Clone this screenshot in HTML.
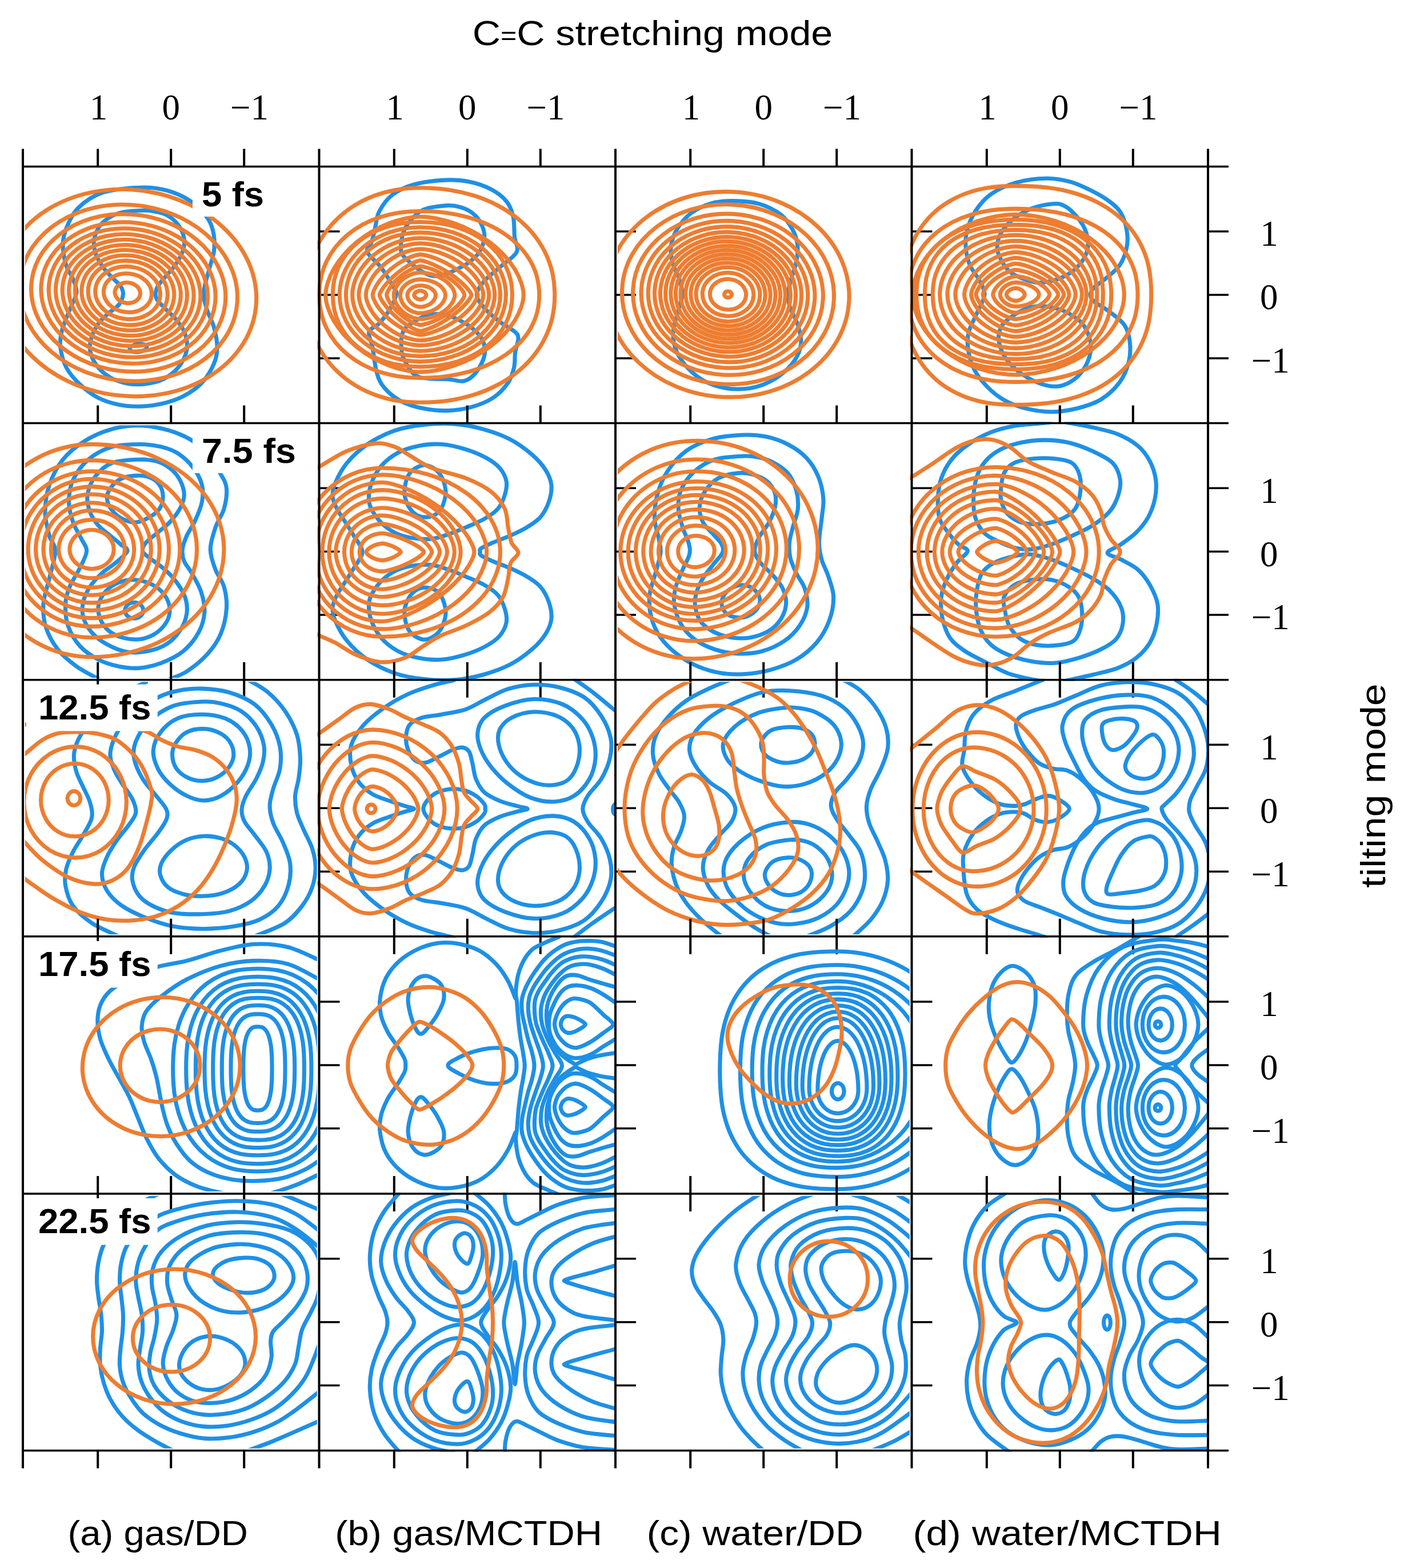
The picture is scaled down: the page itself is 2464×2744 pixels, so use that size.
<!DOCTYPE html>
<html lang="en"><head><meta charset="utf-8"><title>Wavepacket densities: C=C stretching vs tilting mode</title>
<style>html,body{margin:0;padding:0;background:#fff}svg{display:block}text{font-family:"Liberation Sans",sans-serif;fill:#000}.d{font-family:"Liberation Serif",serif}.c{fill:none;stroke-width:7.1;stroke-linecap:round;stroke-linejoin:round}.o{stroke:#ED7D31}.b{stroke:#1E90E6}.v{stroke:#000;fill:none;stroke-width:4}.h{stroke:#000;fill:none;stroke-width:3.5}</style></head><body>
<svg xmlns="http://www.w3.org/2000/svg" width="2464" height="2744" viewBox="0 0 2464 2744">
<rect width="2464" height="2744" fill="#fff"/>
<defs>
<clipPath id="cp00"><rect x="43.8" y="295" width="511" height="442"/></clipPath>
<clipPath id="cp01"><rect x="555.5" y="289.4" width="523.5" height="453.2"/></clipPath>
<clipPath id="cp02"><rect x="1080.8" y="295" width="511" height="442"/></clipPath>
<clipPath id="cp03"><rect x="1592.5" y="289.4" width="523.5" height="453.2"/></clipPath>
<clipPath id="cp10"><rect x="43.8" y="744.2" width="511" height="442"/></clipPath>
<clipPath id="cp11"><rect x="555.5" y="738.6" width="523.5" height="453.1"/></clipPath>
<clipPath id="cp12"><rect x="1080.8" y="744.2" width="511" height="442"/></clipPath>
<clipPath id="cp13"><rect x="1592.5" y="738.6" width="523.5" height="453.1"/></clipPath>
<clipPath id="cp20"><rect x="43.8" y="1193.2" width="511" height="442"/></clipPath>
<clipPath id="cp21"><rect x="555.5" y="1187.7" width="523.5" height="453.1"/></clipPath>
<clipPath id="cp22"><rect x="1080.8" y="1193.2" width="511" height="442"/></clipPath>
<clipPath id="cp23"><rect x="1592.5" y="1187.7" width="523.5" height="453.1"/></clipPath>
<clipPath id="cp30"><rect x="43.8" y="1642.9" width="511" height="442"/></clipPath>
<clipPath id="cp31"><rect x="555.5" y="1636.8" width="523.5" height="454.2"/></clipPath>
<clipPath id="cp32"><rect x="1080.8" y="1642.9" width="511" height="442"/></clipPath>
<clipPath id="cp33"><rect x="1592.5" y="1636.8" width="523.5" height="454.2"/></clipPath>
<clipPath id="cp40"><rect x="43.8" y="2092.7" width="511" height="442"/></clipPath>
<clipPath id="cp41"><rect x="555.5" y="2087" width="523.5" height="453.4"/></clipPath>
<clipPath id="cp42"><rect x="1080.8" y="2092.7" width="511" height="442"/></clipPath>
<clipPath id="cp43"><rect x="1592.5" y="2087" width="523.5" height="453.4"/></clipPath>
</defs>
<g id="ticks-back"><path class="v" d="M171.2 1189.7v31M299.2 1189.7v31M427.2 1189.7v31M171.2 1638.8v31M299.2 1638.8v31M427.2 1638.8v31M171.2 2089v31M299.2 2089v31M427.2 2089v31M689.8 1189.7v31M817.8 1189.7v31M945.8 1189.7v31M689.8 1638.8v31M817.8 1638.8v31M945.8 1638.8v31M689.8 2089v31M817.8 2089v31M945.8 2089v31M1208.2 1189.7v31M1336.2 1189.7v31M1464.2 1189.7v31M1208.2 1638.8v31M1336.2 1638.8v31M1464.2 1638.8v31M1208.2 2089v31M1336.2 2089v31M1464.2 2089v31M1726.8 1189.7v31M1854.8 1189.7v31M1982.8 1189.7v31M1726.8 1638.8v31M1854.8 1638.8v31M1982.8 1638.8v31M1726.8 2089v31M1854.8 2089v31M1982.8 2089v31"/><path class="h" d="M558.5 405.1h36M558.5 516h36M558.5 626.9h36M1077 405.1h36M1077 516h36M1077 626.9h36M1595.5 405.1h36M1595.5 516h36M1595.5 626.9h36M558.5 854.3h36M558.5 965.2h36M558.5 1076.1h36M1077 854.3h36M1077 965.2h36M1077 1076.1h36M1595.5 854.3h36M1595.5 965.2h36M1595.5 1076.1h36M558.5 1303.3h36M558.5 1414.2h36M558.5 1525.2h36M1077 1303.3h36M1077 1414.2h36M1077 1525.2h36M1595.5 1303.3h36M1595.5 1414.2h36M1595.5 1525.2h36M558.5 1753h36M558.5 1863.9h36M558.5 1974.8h36M1077 1753h36M1077 1863.9h36M1077 1974.8h36M1595.5 1753h36M1595.5 1863.9h36M1595.5 1974.8h36M558.5 2202.8h36M558.5 2313.7h36M558.5 2424.6h36M1077 2202.8h36M1077 2313.7h36M1077 2424.6h36M1595.5 2202.8h36M1595.5 2313.7h36M1595.5 2424.6h36"/></g>
<g id="p00" clip-path="url(#cp00)"><g transform="scale(1.0 1)">
<path class="c b" d="M237.7 328.5C221.4 329.7 195.2 331.4 178.4 337.4C161.5 343.3 147.2 353.7 136.8 364.1C126.4 374.5 120.5 388.8 116 399.7C111.6 410.6 110.1 418.5 110.1 429.4C110.1 440.2 113.1 455.1 116 465C119 474.8 124.9 480.8 127.9 488.7C130.9 496.6 134.8 503.5 133.8 512.4C132.9 521.3 126.2 531.2 122 542.1C117.8 553 111.3 566.8 108.6 577.7C105.9 588.6 104.4 596.5 105.7 607.4C106.9 618.3 110.4 632.1 116 643C121.7 653.9 130.4 663.7 139.8 672.6C149.2 681.5 161 690.5 172.4 696.4C183.8 702.3 196.2 705.8 208 708.3C219.9 710.7 231.3 711.5 243.6 711.2C256 711 269.3 709.7 282.2 706.8C295.1 703.8 308.9 699.6 320.8 693.4C332.6 687.2 344.5 679.1 353.4 669.7C362.3 660.3 369.7 647.4 374.2 637C378.6 626.7 380.1 618.3 380.1 607.4C380.1 596.5 377.1 582.6 374.2 571.8C371.2 560.9 365.3 552 362.3 542.1C359.3 532.2 355.9 523.8 356.4 512.4C356.9 501.1 362.3 485.7 365.3 473.9C368.2 462 372.7 451.6 374.2 441.2C375.7 430.8 375.7 420.9 374.2 411.5C372.7 402.2 370.7 393.7 365.3 384.8C359.8 375.9 350.4 365.6 341.5 358.1C332.6 350.7 322.7 345 311.9 340.3C301 335.6 288.6 331.9 276.3 330C263.9 328 254 327.2 237.7 328.5Z"/>
<path class="c b" d="M243.6 368.5C233.7 369.1 218.9 369.3 208 373C197.1 376.7 185.5 383.4 178.4 390.8C171.2 398.2 167 409.1 165 417.5C163 425.9 164.3 433.3 166.5 441.2C168.7 449.1 173.4 457.5 178.4 465C183.3 472.4 190.7 479.8 196.2 485.7C201.6 491.7 207.8 495.6 211 500.6C214.2 505.5 215.9 510 215.4 515.4C214.9 520.8 212.2 527.8 208 533.2C203.8 538.6 196.2 542.6 190.2 548C184.3 553.5 177.4 558.9 172.4 565.8C167.5 572.8 163 581.7 160.5 589.6C158.1 597.5 156.1 604.9 157.6 613.3C159.1 621.7 163.5 632.1 169.5 640C175.4 647.9 184.3 655.6 193.2 660.8C202.1 666 213 669.3 222.9 671.2C232.7 673 242.1 673.3 252.5 672.1C262.9 670.8 275.3 668.6 285.2 663.7C295.1 658.9 304.9 651.4 311.9 643C318.8 634.6 324.7 623.2 326.7 613.3C328.7 603.4 326.7 592.5 323.7 583.6C320.8 574.7 314.8 567.3 308.9 559.9C303 552.5 294.1 545.6 288.1 539.1C282.2 532.7 275.5 527.3 273.3 521.3C271.1 515.4 272.3 509.5 274.8 503.5C277.3 497.6 282.9 492.2 288.1 485.7C293.3 479.3 300.7 472.4 305.9 465C311.1 457.5 316.6 449.1 319.3 441.2C322 433.3 323.5 425.4 322.3 417.5C321 409.6 317.1 400.7 311.9 393.7C306.7 386.8 298.5 380 291.1 375.9C283.7 371.9 275.3 370.7 267.4 369.4C259.5 368.2 253.5 367.9 243.6 368.5Z"/>
<path class="c b" d="M256.9 606.9C257.4 610.7 251.2 614.8 243 615.9C234.8 617.1 227.7 614.9 227.1 611.1C226.6 607.3 232.8 603.2 241 602.1C249.2 600.9 256.3 603.1 256.9 606.9Z"/>
<path class="c o" d="M245.3 515.2C244.1 525 233.2 531.8 221 530.3C208.8 528.8 199.9 519.6 201.1 509.8C202.4 500 213.2 493.2 225.4 494.7C237.6 496.2 246.5 505.4 245.3 515.2Z"/>
<path class="c o" d="M265.2 517.6C262.9 536.2 242.4 549 219.3 546.1C196.2 543.3 179.3 526 181.6 507.4C183.9 488.8 204.5 476 227.5 478.9C250.6 481.7 267.5 499 265.2 517.6Z"/>
<path class="c o" d="M280.1 519.4C277 544.6 249.2 561.8 218 558C186.7 554.2 163.9 530.7 167 505.6C170.1 480.4 197.9 463.2 229.1 467C260.4 470.8 283.2 494.3 280.1 519.4Z"/>
<path class="c o" d="M292.9 521C289.1 551.8 255.1 572.9 216.8 568.2C178.6 563.5 150.7 534.8 154.5 504C158.2 473.2 192.3 452.1 230.5 456.8C268.7 461.5 296.7 490.2 292.9 521Z"/>
<path class="c o" d="M304.3 522.4C299.9 558.2 260.3 582.8 215.8 577.4C171.3 571.9 138.8 538.4 143.2 502.6C147.6 466.8 187.3 442.2 231.7 447.6C276.2 453.1 308.7 486.6 304.3 522.4Z"/>
<path class="c o" d="M315.9 523.8C310.8 564.7 265.6 592.8 214.8 586.5C164 580.3 126.9 542.1 131.9 501.2C137 460.3 182.2 432.2 233 438.5C283.8 444.7 320.9 482.9 315.9 523.8Z"/>
<path class="c o" d="M326.9 525.1C321.3 570.9 270.7 602.4 213.8 595.4C157 588.4 115.4 545.6 121.1 499.9C126.7 454.1 177.3 422.6 234.2 429.6C291 436.6 332.6 479.4 326.9 525.1Z"/>
<path class="c o" d="M338.5 526.5C332.3 577.4 276 612.4 212.8 604.6C149.6 596.9 103.5 549.3 109.7 498.5C116 447.6 172.2 412.6 235.4 420.4C298.6 428.1 344.8 475.7 338.5 526.5Z"/>
<path class="c o" d="M350.3 528C343.5 584.1 281.4 622.6 211.8 614C142.1 605.5 91.2 553.1 98.1 497C105 440.9 167 402.4 236.7 411C306.3 419.5 357.2 471.9 350.3 528Z"/>
<path class="c o" d="M362.8 529.5C355.2 591.1 287.1 633.4 210.7 624C134.2 614.6 78.4 557.1 85.9 495.5C93.5 433.9 161.6 391.6 238 401C314.5 410.4 370.3 467.9 362.8 529.5Z"/>
<path class="c o" d="M376.4 531.1C368.1 598.7 293.3 645.1 209.5 634.8C125.6 624.5 64.3 561.4 72.6 493.9C80.9 426.3 155.6 379.9 239.5 390.2C323.4 400.5 384.6 463.6 376.4 531.1Z"/>
<path class="c o" d="M393.9 533.3C384.7 608.5 301.4 660.3 207.9 648.8C114.4 637.3 46.2 567 55.4 491.7C64.6 416.5 147.9 364.7 241.4 376.2C334.9 387.7 403.1 458 393.9 533.3Z"/>
<path class="c o" d="M414.5 535.8C404.1 620.1 310.8 678.1 206.1 665.2C101.4 652.3 24.8 573.5 35.2 489.2C45.5 404.9 138.9 346.9 243.6 359.8C348.3 372.7 424.9 451.5 414.5 535.8Z"/>
<path class="c o" d="M447.6 539.8C435.4 638.7 326 706.6 203.2 691.6C80.4 676.5 -9.4 584.1 2.8 485.2C14.9 386.3 124.3 318.4 247.2 333.4C370 348.5 459.7 440.9 447.6 539.8Z"/>
</g></g>
<g id="p01" clip-path="url(#cp01)"><g transform="scale(1.0 1)">
<path class="c b" d="M779.4 315.1C763.6 315.9 741.4 318.3 726 322.5C710.7 326.7 697.8 332.4 687.5 340.3C677.1 348.3 668.9 360.1 663.7 370C658.5 379.9 658.5 390.8 656.3 399.7C654.1 408.6 652.6 416.5 650.4 423.4C648.1 430.3 640.2 433.8 642.9 441.2C645.7 448.6 659.3 458 666.7 467.9C674.1 477.8 683 492.6 687.5 500.6C691.9 508.5 694.4 508.5 693.4 515.4C692.4 522.3 686.5 533.7 681.5 542.1C676.6 550.5 669.6 559.4 663.7 565.8C657.8 572.3 647.9 573.7 645.9 580.7C643.9 587.6 649.6 595.5 651.8 607.4C654.1 619.2 655.8 640 659.3 651.9C662.7 663.7 665.4 670.2 672.6 678.6C679.8 687 690.9 696.3 702.3 702.3C713.7 708.4 727.5 712.1 740.9 714.8C754.2 717.5 768.5 719 782.4 718.6C796.2 718.3 810.6 716.4 823.9 712.7C837.3 709 851.6 703.6 862.5 696.4C873.4 689.2 883 678.6 889.2 669.7C895.4 660.8 897.5 651.9 899.6 643C901.7 634.1 900.4 624.7 901.7 616.3C902.9 607.9 907.1 598.5 907 592.5C906.9 586.6 906.5 585.6 901.1 580.7C895.6 575.7 883.3 569.8 874.4 562.9C865.5 555.9 854.3 547 847.7 539.1C841 531.2 834.3 523.3 834.3 515.4C834.3 507.5 841 499.6 847.7 491.7C854.3 483.7 865 476.3 874.4 467.9C883.8 459.5 899.7 450.1 904 441.2C908.4 432.3 901.5 424.9 900.5 414.5C899.5 404.1 900.5 389.3 898.1 378.9C895.7 368.5 892.7 360.1 886.2 352.2C879.8 344.3 870.4 337.1 859.5 331.4C848.7 325.8 834.3 320.8 821 318.1C807.6 315.4 795.3 314.4 779.4 315.1Z"/>
<path class="c b" d="M782.4 359.6C771.5 360.4 752.2 361.9 740.9 367C729.5 372.2 720.3 382.9 714.2 390.8C708 398.7 705.7 406.1 703.8 414.5C701.8 422.9 700.6 434.3 702.3 441.2C704 448.1 709.2 451.1 714.2 456.1C719.1 461 725 466.4 732 470.9C738.9 475.3 747.8 481.3 755.7 482.8C763.6 484.2 772 481.8 779.4 479.8C786.8 477.8 793.3 474.4 800.2 470.9C807.1 467.4 814.5 464 821 459C827.4 454.1 834.3 448.6 838.8 441.2C843.2 433.8 847.2 422.9 847.7 414.5C848.2 406.1 845.2 397.7 841.7 390.8C838.3 383.9 832.8 377.7 826.9 373C821 368.3 813.5 364.8 806.1 362.6C798.7 360.4 793.3 358.9 782.4 359.6Z"/>
<path class="c b" d="M812.1 666.7C804.2 668.7 798.7 665 785.4 663.7C772 662.5 744.8 664.7 732 659.3C719.1 653.9 713.2 639.8 708.2 631.1C703.3 622.5 702.8 615.8 702.3 607.4C701.8 599 702.3 587.6 705.3 580.7C708.2 573.7 712.7 570.8 720.1 565.8C727.5 560.9 739.9 553.5 749.8 551C759.6 548.5 770.5 549.5 779.4 551C788.3 552.5 795.3 555.9 803.2 559.9C811.1 563.9 820 568.8 826.9 574.7C833.8 580.7 841.2 587.6 844.7 595.5C848.2 603.4 849.6 612.8 847.7 622.2C845.7 631.6 838.8 644.5 832.8 651.9C826.9 659.3 820 664.7 812.1 666.7Z"/>
<path class="c o" d="M745.9 516.3C745.9 516.7 745.8 517.1 745.7 517.6C745.5 518 745.3 518.5 745 519C744.7 519.4 744.4 519.9 744 520.4C743.6 520.8 743.1 521.2 742.6 521.6C742.1 522 741.5 522.3 740.9 522.7C740.3 523 739.7 523.2 739.1 523.4C738.5 523.7 737.8 523.8 737.2 523.9C736.6 524 736.1 524.1 735.5 524.1C734.9 524.1 734.4 524 733.7 523.9C733.1 523.8 732.4 523.7 731.8 523.4C731.1 523.2 730.5 523 729.9 522.7C729.3 522.3 728.7 522 728.2 521.6C727.6 521.2 727.1 520.8 726.7 520.4C726.3 519.9 725.9 519.4 725.6 519C725.3 518.5 725.1 518 724.9 517.6C724.8 517.1 724.7 516.7 724.7 516.3C724.7 515.9 724.8 515.5 724.9 515.1C725.1 514.6 725.3 514.1 725.6 513.7C725.9 513.2 726.3 512.8 726.7 512.3C727.1 511.9 727.6 511.5 728.2 511.1C728.7 510.8 729.3 510.4 729.9 510.1C730.5 509.8 731.1 509.5 731.8 509.3C732.4 509.1 733.1 509 733.7 508.9C734.4 508.8 734.9 508.7 735.5 508.7C736.1 508.7 736.6 508.8 737.2 508.9C737.8 509 738.5 509.1 739.1 509.3C739.7 509.5 740.3 509.8 740.9 510.1C741.5 510.4 742.1 510.8 742.6 511.1C743.1 511.5 743.6 511.9 744 512.3C744.4 512.8 744.7 513.2 745 513.7C745.3 514.1 745.5 514.6 745.7 515.1C745.8 515.5 745.9 515.9 745.9 516.3Z"/>
<path class="c o" d="M762.4 516.3C762.4 517.4 762.2 518.8 761.9 520C761.5 521.3 760.9 522.6 760.2 523.9C759.5 525.1 758.7 526.4 757.7 527.5C756.6 528.6 755.5 529.8 754.2 530.7C752.9 531.7 751.5 532.6 750 533.4C748.5 534.2 746.9 534.9 745.3 535.4C743.7 536 741.9 536.4 740.3 536.7C738.7 537 737 537.1 735.5 537.1C734 537.1 732.8 537 731.5 536.7C730.1 536.4 728.6 536 727.3 535.4C725.9 534.9 724.6 534.2 723.3 533.4C722.1 532.6 720.9 531.7 719.8 530.7C718.7 529.8 717.7 528.6 716.9 527.5C716 526.4 715.3 525.1 714.7 523.9C714.1 522.6 713.7 521.3 713.4 520C713.1 518.8 712.9 517.4 712.9 516.3C712.9 515.2 713.1 514.3 713.4 513.3C713.7 512.3 714.1 511.3 714.7 510.3C715.3 509.3 716 508.3 716.9 507.4C717.7 506.4 718.7 505.6 719.8 504.8C720.9 504 722.1 503.3 723.3 502.6C724.6 502 725.9 501.5 727.3 501C728.6 500.6 730.1 500.3 731.5 500C732.8 499.8 734 499.7 735.5 499.7C737 499.7 738.7 499.8 740.3 500C741.9 500.3 743.7 500.6 745.3 501C746.9 501.5 748.5 502 750 502.6C751.5 503.3 752.9 504 754.2 504.8C755.5 505.6 756.6 506.4 757.7 507.4C758.7 508.3 759.5 509.3 760.2 510.3C760.9 511.3 761.5 512.3 761.9 513.3C762.2 514.3 762.4 515.2 762.4 516.3Z"/>
<path class="c o" d="M779.4 516.3C779.4 518.1 779.1 520.1 778.5 522C777.9 523.9 777 525.9 775.9 527.8C774.7 529.7 773.3 531.6 771.6 533.4C770 535.1 768.1 536.8 766 538.3C763.9 539.8 761.6 541.2 759.1 542.4C756.7 543.6 754.1 544.6 751.5 545.5C748.8 546.3 746 546.9 743.4 547.4C740.7 547.8 737.9 548 735.5 548C733.1 548 731.3 547.8 729.2 547.4C727.1 546.9 724.8 546.3 722.7 545.5C720.6 544.6 718.5 543.6 716.5 542.4C714.6 541.2 712.7 539.8 711.1 538.3C709.4 536.8 707.8 535.1 706.5 533.4C705.2 531.6 704 529.7 703.1 527.8C702.2 525.9 701.5 523.9 701 522C700.5 520.1 700.3 518.1 700.3 516.3C700.3 514.5 700.5 513.1 701 511.4C701.5 509.7 702.2 508 703.1 506.3C704 504.7 705.2 503.1 706.5 501.5C707.8 500 709.4 498.6 711.1 497.3C712.7 496 714.6 494.8 716.5 493.7C718.5 492.7 720.6 491.8 722.7 491.1C724.8 490.4 727.1 489.8 729.2 489.5C731.3 489.1 733.1 488.9 735.5 488.9C737.9 488.9 740.7 489.1 743.4 489.5C746 489.8 748.8 490.4 751.5 491.1C754.1 491.8 756.7 492.7 759.1 493.7C761.6 494.8 763.9 496 766 497.3C768.1 498.6 770 500 771.6 501.5C773.3 503.1 774.7 504.7 775.9 506.3C777 508 777.9 509.7 778.5 511.4C779.1 513.1 779.4 514.5 779.4 516.3Z"/>
<path class="c o" d="M795.9 516.3C795.9 518.5 795.5 520.7 794.6 523.1C793.8 525.5 792.5 528.2 790.8 530.7C789.2 533.2 787.1 535.8 784.7 538.2C782.3 540.5 779.6 542.8 776.6 544.9C773.6 546.9 770.3 548.9 766.9 550.5C763.5 552.2 759.9 553.6 756.3 554.8C752.7 555.9 748.8 556.8 745.3 557.4C741.9 558 738.4 558.3 735.5 558.3C732.6 558.3 730.6 558 728 557.4C725.3 556.8 722.3 555.9 719.5 554.8C716.8 553.6 714 552.2 711.4 550.5C708.7 548.9 706.2 546.9 703.9 544.9C701.7 542.8 699.5 540.5 697.7 538.2C695.9 535.8 694.3 533.2 693 530.7C691.7 528.2 690.7 525.5 690.1 523.1C689.4 520.7 689.1 518.5 689.1 516.3C689.1 514.1 689.4 512.1 690.1 509.9C690.7 507.6 691.7 505.1 693 502.7C694.3 500.4 695.9 498 697.7 495.8C699.5 493.6 701.7 491.4 703.9 489.5C706.2 487.6 708.7 485.8 711.4 484.2C714 482.7 716.8 481.3 719.5 480.2C722.3 479.1 725.3 478.3 728 477.7C730.6 477.2 732.6 476.9 735.5 476.9C738.4 476.9 741.9 477.2 745.3 477.7C748.8 478.3 752.7 479.1 756.3 480.2C759.9 481.3 763.5 482.7 766.9 484.2C770.3 485.8 773.6 487.6 776.6 489.5C779.6 491.4 782.3 493.6 784.7 495.8C787.1 498 789.2 500.4 790.8 502.7C792.5 505.1 793.8 507.6 794.6 509.9C795.5 512.1 795.9 514.1 795.9 516.3Z"/>
<path class="c o" d="M812.9 516.3C812.9 518.1 812.2 519.5 810.9 521.8C809.5 524.1 807.5 527.2 804.9 530.2C802.3 533.2 799.1 536.5 795.5 539.5C791.9 542.6 787.8 545.8 783.5 548.7C779.2 551.6 774.5 554.4 769.9 556.8C765.3 559.3 760.5 561.5 756.1 563.2C751.7 564.9 747.1 566.3 743.6 567.2C740.2 568.1 737.9 568.6 735.5 568.6C733.1 568.6 731.9 568.1 729.3 567.2C726.7 566.3 723.2 564.9 719.8 563.2C716.5 561.5 712.8 559.3 709.3 556.8C705.8 554.4 702.2 551.6 699 548.7C695.7 545.8 692.6 542.6 689.8 539.5C687.1 536.5 684.6 533.2 682.7 530.2C680.7 527.2 679.2 524.1 678.2 521.8C677.1 519.5 676.6 518.1 676.6 516.3C676.6 514.5 677.1 513.3 678.2 511C679.2 508.8 680.7 505.8 682.7 503C684.6 500.1 687.1 496.9 689.8 494C692.6 491 695.7 487.9 699 485.2C702.2 482.4 705.8 479.7 709.3 477.4C712.8 475.1 716.5 473 719.8 471.3C723.2 469.6 726.7 468.3 729.3 467.4C731.9 466.6 733.1 466.1 735.5 466.1C737.9 466.1 740.2 466.6 743.6 467.4C747.1 468.3 751.7 469.6 756.1 471.3C760.5 473 765.3 475.1 769.9 477.4C774.5 479.7 779.2 482.4 783.5 485.2C787.8 487.9 791.9 491 795.5 494C799.1 496.9 802.3 500.1 804.9 503C807.5 505.8 809.5 508.8 810.9 511C812.2 513.3 812.9 514.5 812.9 516.3Z"/>
<path class="c o" d="M825 516.3C825 518.1 824.1 519.4 822.5 521.9C820.8 524.5 818.2 528.1 815.1 531.5C811.9 535 807.9 539 803.6 542.8C799.2 546.5 794.2 550.5 789.1 554.1C784 557.7 778.3 561.3 773 564.4C767.6 567.4 762 570.3 757.1 572.5C752.1 574.7 747 576.5 743.4 577.7C739.9 578.9 737.9 579.5 735.5 579.5C733.1 579.5 732 578.9 729.2 577.7C726.3 576.5 722.2 574.7 718.3 572.5C714.4 570.3 709.9 567.4 705.6 564.4C701.4 561.3 696.8 557.7 692.8 554.1C688.7 550.5 684.6 546.5 681.2 542.8C677.7 539 674.5 535 672 531.5C669.5 528.1 667.4 524.5 666.1 521.9C664.8 519.4 664.1 518.1 664.1 516.3C664.1 514.5 664.8 513.4 666.1 510.9C667.4 508.5 669.5 505 672 501.7C674.5 498.4 677.7 494.5 681.2 490.9C684.6 487.3 688.7 483.5 692.8 480C696.8 476.6 701.4 473.1 705.6 470.2C709.9 467.3 714.4 464.5 718.3 462.4C722.2 460.3 726.3 458.5 729.2 457.4C732 456.3 733.1 455.7 735.5 455.7C737.9 455.7 739.9 456.3 743.4 457.4C747 458.5 752.1 460.3 757.1 462.4C762 464.5 767.6 467.3 773 470.2C778.3 473.1 784 476.6 789.1 480C794.2 483.5 799.2 487.3 803.6 490.9C807.9 494.5 811.9 498.4 815.1 501.7C818.2 505 820.8 508.5 822.5 510.9C824.1 513.4 825 514.5 825 516.3Z"/>
<path class="c o" d="M836 516.3C836 519 835.1 521 833.4 524.2C831.8 527.4 829.2 531.7 825.9 535.7C822.7 539.7 818.6 544 814.1 548.1C809.6 552.2 804.3 556.4 798.8 560.2C793.4 564 787.3 567.7 781.4 570.8C775.5 573.9 769.2 576.8 763.4 579C757.7 581.3 751.5 583.1 746.9 584.2C742.2 585.4 739 586 735.5 586C732 586 729.9 585.4 726.1 584.2C722.2 583.1 717.1 581.3 712.4 579C707.6 576.8 702.3 573.9 697.5 570.8C692.6 567.7 687.5 564 683 560.2C678.5 556.4 674.1 552.2 670.4 548.1C666.6 544 663.2 539.7 660.5 535.7C657.9 531.7 655.7 527.4 654.3 524.2C652.9 521 652.2 519 652.2 516.3C652.2 513.6 652.9 511.6 654.3 508.3C655.7 505 657.9 500.7 660.5 496.6C663.2 492.5 666.6 488.1 670.4 483.9C674.1 479.8 678.5 475.5 683 471.6C687.5 467.8 692.6 464.1 697.5 460.9C702.3 457.7 707.6 454.8 712.4 452.5C717.1 450.2 722.2 448.4 726.1 447.2C729.9 446 732 445.4 735.5 445.4C739 445.4 742.2 446 746.9 447.2C751.5 448.4 757.7 450.2 763.4 452.5C769.2 454.8 775.5 457.7 781.4 460.9C787.3 464.1 793.4 467.8 798.8 471.6C804.3 475.5 809.6 479.8 814.1 483.9C818.6 488.1 822.7 492.5 825.9 496.6C829.2 500.7 831.8 505 833.4 508.3C835.1 511.6 836 513.6 836 516.3Z"/>
<path class="c o" d="M845.9 516.3C845.9 520.2 845 523.6 843.4 527.9C841.8 532.2 839.3 537.3 836.1 541.9C832.9 546.6 828.9 551.5 824.4 556.1C819.8 560.6 814.5 565.1 808.9 569.1C803.3 573.1 797.1 576.9 790.8 580.2C784.5 583.5 777.7 586.4 771.2 588.6C764.6 590.9 757.6 592.7 751.6 593.9C745.7 595.1 740.5 595.7 735.5 595.7C730.5 595.7 726.7 595.1 721.6 593.9C716.5 592.7 710.4 590.9 704.7 588.6C699.1 586.4 693.2 583.5 687.8 580.2C682.4 576.9 677 573.1 672.2 569.1C667.4 565.1 662.8 560.6 658.9 556.1C655 551.5 651.5 546.6 648.8 541.9C646 537.3 643.9 532.2 642.4 527.9C641 523.6 640.3 520.2 640.3 516.3C640.3 512.4 641 508.9 642.4 504.5C643.9 500.2 646 495 648.8 490.3C651.5 485.5 655 480.5 658.9 475.9C662.8 471.3 667.4 466.8 672.2 462.7C677 458.6 682.4 454.7 687.8 451.4C693.2 448.1 699.1 445.2 704.7 442.9C710.4 440.5 716.5 438.7 721.6 437.5C726.7 436.3 730.5 435.7 735.5 435.7C740.5 435.7 745.7 436.3 751.6 437.5C757.6 438.7 764.6 440.5 771.2 442.9C777.7 445.2 784.5 448.1 790.8 451.4C797.1 454.7 803.3 458.6 808.9 462.7C814.5 466.8 819.8 471.3 824.4 475.9C828.9 480.5 832.9 485.5 836.1 490.3C839.3 495 841.8 500.2 843.4 504.5C845 508.9 845.9 512.4 845.9 516.3Z"/>
<path class="c o" d="M855.8 516.3C855.8 521.1 854.9 525.6 853.2 530.6C851.5 535.7 849 541.3 845.7 546.6C842.4 551.9 838.2 557.2 833.5 562.2C828.8 567.1 823.2 571.9 817.4 576.2C811.5 580.6 804.9 584.6 798.1 588.1C791.4 591.5 784 594.6 776.9 597C769.7 599.4 762 601.3 755.1 602.5C748.2 603.8 741.7 604.4 735.5 604.4C729.3 604.4 724.2 603.8 718 602.5C711.8 601.3 704.9 599.4 698.5 597C692 594.6 685.5 591.5 679.4 588.1C673.4 584.6 667.5 580.6 662.2 576.2C656.9 571.9 652 567.1 647.8 562.2C643.5 557.2 639.8 551.9 636.9 546.6C633.9 541.3 631.6 535.7 630.1 530.6C628.6 525.6 627.8 521.1 627.8 516.3C627.8 511.5 628.6 506.8 630.1 501.6C631.6 496.4 633.9 490.6 636.9 485.2C639.8 479.8 643.5 474.3 647.8 469.3C652 464.2 656.9 459.2 662.2 454.8C667.5 450.4 673.4 446.2 679.4 442.7C685.5 439.1 692 436 698.5 433.5C704.9 431 711.8 429.1 718 427.8C724.2 426.6 729.3 425.9 735.5 425.9C741.7 425.9 748.2 426.6 755.1 427.8C762 429.1 769.7 431 776.9 433.5C784 436 791.4 439.1 798.1 442.7C804.9 446.2 811.5 450.4 817.4 454.8C823.2 459.2 828.8 464.2 833.5 469.3C838.2 474.3 842.4 479.8 845.7 485.2C849 490.6 851.5 496.4 853.2 501.6C854.9 506.8 855.8 511.5 855.8 516.3Z"/>
<path class="c o" d="M865.7 516.3C865.7 522.2 864.8 527.9 863.1 533.8C861.3 539.8 858.7 546 855.3 551.9C851.9 557.8 847.6 563.6 842.7 569C837.8 574.4 832.1 579.6 825.9 584.3C819.7 588.9 812.8 593.2 805.6 596.9C798.5 600.6 790.7 603.8 782.9 606.4C775.1 608.9 766.7 610.9 758.8 612.2C750.9 613.5 742.9 614.2 735.5 614.2C728.1 614.2 721.4 613.5 714.2 612.2C707 610.9 699.4 608.9 692.2 606.4C685.1 603.8 678 600.6 671.5 596.9C664.9 593.2 658.6 588.9 652.9 584.3C647.3 579.6 642.1 574.4 637.6 569C633.1 563.6 629.2 557.8 626.1 551.9C623 546 620.6 539.8 619 533.8C617.4 527.9 616.6 522.2 616.6 516.3C616.6 510.4 617.4 504.5 619 498.5C620.6 492.4 623 486 626.1 480.1C629.2 474.1 633.1 468.1 637.6 462.7C642.1 457.2 647.3 451.9 652.9 447.1C658.6 442.4 664.9 438 671.5 434.3C678 430.5 685.1 427.3 692.2 424.7C699.4 422.1 707 420 714.2 418.7C721.4 417.4 728.1 416.7 735.5 416.7C742.9 416.7 750.9 417.4 758.8 418.7C766.7 420 775.1 422.1 782.9 424.7C790.7 427.3 798.5 430.5 805.6 434.3C812.8 438 819.7 442.4 825.9 447.1C832.1 451.9 837.8 457.2 842.7 462.7C847.6 468.1 851.9 474.1 855.3 480.1C858.7 486 861.3 492.4 863.1 498.5C864.8 504.5 865.7 510.4 865.7 516.3Z"/>
<path class="c o" d="M875.5 516.3C875.5 523.3 874.6 530.4 872.8 537.2C871 544 868.3 550.9 864.8 557.3C861.4 563.7 857 570 851.9 575.8C846.8 581.6 840.9 587.1 834.5 592C828.1 597 820.8 601.5 813.3 605.4C805.7 609.2 797.5 612.6 789.1 615.2C780.7 617.9 771.7 620 762.8 621.3C753.9 622.7 744.3 623.4 735.5 623.4C726.7 623.4 718.4 622.7 710.1 621.3C701.8 620 693.5 617.9 685.7 615.2C677.9 612.6 670.3 609.2 663.2 605.4C656.2 601.5 649.5 597 643.5 592C637.5 587.1 632 581.6 627.3 575.8C622.6 570 618.5 563.7 615.3 557.3C612.1 550.9 609.6 544 607.9 537.2C606.2 530.4 605.4 523.3 605.4 516.3C605.4 509.3 606.2 501.9 607.9 495C609.6 488 612.1 481 615.3 474.4C618.5 467.9 622.6 461.4 627.3 455.5C632 449.6 637.5 444 643.5 438.9C649.5 433.9 656.2 429.3 663.2 425.3C670.3 421.4 677.9 418 685.7 415.2C693.5 412.5 701.8 410.4 710.1 409C718.4 407.6 726.7 406.9 735.5 406.9C744.3 406.9 753.9 407.6 762.8 409C771.7 410.4 780.7 412.5 789.1 415.2C797.5 418 805.7 421.4 813.3 425.3C820.8 429.3 828.1 433.9 834.5 438.9C840.9 444 846.8 449.6 851.9 455.5C857 461.4 861.4 467.9 864.8 474.4C868.3 481 871 488 872.8 495C874.6 501.9 875.5 509.3 875.5 516.3Z"/>
<path class="c o" d="M885.4 516.3C885.4 523.9 884.4 531.6 882.5 539C880.6 546.4 877.7 553.8 874 560.8C870.3 567.8 865.6 574.6 860.1 580.9C854.7 587.2 848.4 593.2 841.5 598.5C834.6 603.9 826.9 608.8 818.8 613C810.7 617.2 801.9 620.9 792.9 623.7C783.9 626.6 774.3 628.9 764.7 630.4C755.2 631.8 745 632.6 735.5 632.6C726 632.6 716.9 631.8 707.9 630.4C698.9 628.9 689.9 626.6 681.4 623.7C672.9 620.9 664.6 617.2 657 613C649.4 608.8 642.1 603.9 635.6 598.5C629.1 593.2 623.1 587.2 618 580.9C612.9 574.6 608.5 567.8 605 560.8C601.4 553.8 598.7 546.4 596.9 539C595.1 531.6 594.2 523.9 594.2 516.3C594.2 508.7 595.1 500.7 596.9 493.2C598.7 485.6 601.4 478 605 470.9C608.5 463.8 612.9 456.8 618 450.4C623.1 444 629.1 437.9 635.6 432.4C642.1 427 649.4 422 657 417.7C664.6 413.4 672.9 409.7 681.4 406.7C689.9 403.8 698.9 401.5 707.9 400C716.9 398.5 726 397.7 735.5 397.7C745 397.7 755.2 398.5 764.7 400C774.3 401.5 783.9 403.8 792.9 406.7C801.9 409.7 810.7 413.4 818.8 417.7C826.9 422 834.6 427 841.5 432.4C848.4 437.9 854.7 444 860.1 450.4C865.6 456.8 870.3 463.8 874 470.9C877.7 478 880.6 485.6 882.5 493.2C884.4 500.7 885.4 508.7 885.4 516.3Z"/>
<path class="c o" d="M896.4 516.3C896.4 525.2 895.4 534.4 893.5 542.8C891.5 551.2 888.5 559.1 884.7 566.6C880.9 574.2 876.1 581.4 870.5 588.1C864.9 594.7 858.3 601 851.2 606.6C844 612.2 836 617.3 827.4 621.7C818.9 626 809.6 629.8 800 632.8C790.3 635.8 780.2 638.1 769.4 639.6C758.7 641.1 746.5 641.9 735.5 641.9C724.5 641.9 713.4 641.1 703.2 639.6C693 638.1 683.3 635.8 674.1 632.8C664.9 629.8 656.1 626 648 621.7C639.8 617.3 632.2 612.2 625.4 606.6C618.5 601 612.3 594.7 607 588.1C601.7 581.4 597.1 574.2 593.4 566.6C589.8 559.1 587 551.2 585.1 542.8C583.3 534.4 582.3 525.2 582.3 516.3C582.3 507.4 583.3 497.9 585.1 489.3C587 480.8 589.8 472.8 593.4 465.1C597.1 457.4 601.7 450.1 607 443.3C612.3 436.5 618.5 430.1 625.4 424.4C632.2 418.7 639.8 413.5 648 409.1C656.1 404.7 664.9 400.8 674.1 397.8C683.3 394.7 693 392.4 703.2 390.8C713.4 389.3 724.5 388.5 735.5 388.5C746.5 388.5 758.7 389.3 769.4 390.8C780.2 392.4 790.3 394.7 800 397.8C809.6 400.8 818.9 404.7 827.4 409.1C836 413.5 844 418.7 851.2 424.4C858.3 430.1 864.9 436.5 870.5 443.3C876.1 450.1 880.9 457.4 884.7 465.1C888.5 472.8 891.5 480.8 893.5 489.3C895.4 497.9 896.4 507.4 896.4 516.3Z"/>
<path class="c o" d="M916.2 516.3C916.2 523.3 914.8 529.6 912.2 537.1C909.6 544.6 905.6 553.3 900.6 561.3C895.5 569.3 889.1 577.5 881.8 585.2C874.6 592.8 866.1 600.3 857.1 607C848.1 613.7 838 620.1 827.8 625.5C817.6 630.9 806.5 635.7 795.8 639.4C785.1 643.2 773.5 646.2 763.4 648.1C753.4 650.1 744.4 651.1 735.5 651.1C726.6 651.1 719.1 650.1 709.9 648.1C700.7 646.2 690.1 643.2 680.2 639.4C670.4 635.7 660.2 630.9 650.9 625.5C641.5 620.1 632.2 613.7 624 607C615.7 600.3 608 592.8 601.3 585.2C594.7 577.5 588.8 569.3 584.1 561.3C579.5 553.3 575.8 544.6 573.4 537.1C571 529.6 569.8 523.3 569.8 516.3C569.8 509.3 571 502.7 573.4 495.1C575.8 487.5 579.5 478.7 584.1 470.6C588.8 462.4 594.7 454 601.3 446.3C608 438.5 615.7 430.9 624 424C632.2 417.2 641.5 410.8 650.9 405.3C660.2 399.8 670.4 394.9 680.2 391.1C690.1 387.2 700.7 384.2 709.9 382.2C719.1 380.2 726.6 379.2 735.5 379.2C744.4 379.2 753.4 380.2 763.4 382.2C773.5 384.2 785.1 387.2 795.8 391.1C806.5 394.9 817.6 399.8 827.8 405.3C838 410.8 848.1 417.2 857.1 424C866.1 430.9 874.6 438.5 881.8 446.3C889.1 454 895.5 462.4 900.6 470.6C905.6 478.7 909.6 487.5 912.2 495.1C914.8 502.7 916.2 509.3 916.2 516.3Z"/>
<path class="c o" d="M943.7 516.3C943.7 526.6 942.4 537.2 939.9 546.9C937.4 556.6 933.5 565.7 928.6 574.4C923.6 583.1 917.4 591.5 910.1 599.2C902.9 606.9 894.5 614.1 885.2 620.6C875.9 627.1 865.5 633 854.5 638C843.4 643.1 831.4 647.4 818.9 650.9C806.4 654.3 793.3 657 779.4 658.7C765.5 660.5 749 661.4 735.5 661.4C722 661.4 710 660.5 698.2 658.7C686.4 657 675.3 654.3 664.6 650.9C654 647.4 643.8 643.1 634.4 638C625 633 616.2 627.1 608.3 620.6C600.4 614.1 593.3 606.9 587.1 599.2C581 591.5 575.7 583.1 571.4 574.4C567.2 565.7 564 556.6 561.8 546.9C559.7 537.2 558.6 526.6 558.6 516.3C558.6 506 559.7 495.1 561.8 485.3C564 475.5 567.2 466.3 571.4 457.5C575.7 448.7 581 440.2 587.1 432.4C593.3 424.6 600.4 417.3 608.3 410.8C616.2 404.2 625 398.3 634.4 393.2C643.8 388.1 654 383.7 664.6 380.2C675.3 376.7 686.4 374 698.2 372.2C710 370.4 722 369.5 735.5 369.5C749 369.5 765.5 370.4 779.4 372.2C793.3 374 806.4 376.7 818.9 380.2C831.4 383.7 843.4 388.1 854.5 393.2C865.5 398.3 875.9 404.2 885.2 410.8C894.5 417.3 902.9 424.6 910.1 432.4C917.4 440.2 923.6 448.7 928.6 457.5C933.5 466.3 937.4 475.5 939.9 485.3C942.4 495.1 943.7 506 943.7 516.3Z"/>
<path class="c o" d="M970.8 516.3C970.8 529.5 969.3 543.4 966.5 555.9C963.6 568.5 959.3 580.3 953.7 591.6C948.1 602.9 941 613.7 932.9 623.7C924.7 633.7 915.1 643.1 904.7 651.4C894.2 659.8 882.4 667.5 869.9 674C857.5 680.5 843.9 686.2 829.8 690.6C815.6 695.1 800.8 698.6 785.1 700.9C769.4 703.1 750.8 704.3 735.5 704.3C720.2 704.3 706.7 703.1 693.3 700.9C680 698.6 667.4 695.1 655.4 690.6C643.4 686.2 631.8 680.5 621.2 674C610.6 667.5 600.6 659.8 591.7 651.4C582.8 643.1 574.7 633.7 567.7 623.7C560.8 613.7 554.8 602.9 550 591.6C545.3 580.3 541.6 568.5 539.2 555.9C536.7 543.4 535.5 529.5 535.5 516.3C535.5 503.1 536.7 489.3 539.2 476.8C541.6 464.2 545.3 452.5 550 441.2C554.8 429.9 560.8 419.1 567.7 409.2C574.7 399.2 582.8 389.9 591.7 381.5C600.6 373.2 610.6 365.5 621.2 359C631.8 352.5 643.4 346.9 655.4 342.4C667.4 338 680 334.5 693.3 332.2C706.7 330 720.2 328.8 735.5 328.8C750.8 328.8 769.4 330 785.1 332.2C800.8 334.5 815.6 338 829.8 342.4C843.9 346.9 857.5 352.5 869.9 359C882.4 365.5 894.2 373.2 904.7 381.5C915.1 389.9 924.7 399.2 932.9 409.2C941 419.1 948.1 429.9 953.7 441.2C959.3 452.5 963.6 464.2 966.5 476.8C969.3 489.3 970.8 503.1 970.8 516.3Z"/>
</g></g>
<g id="p02" clip-path="url(#cp02)"><g transform="scale(1.0 1)">
<path class="c b" d="M1283.6 351.6C1269.7 351.5 1257.4 352.2 1245 355.8C1232.7 359.3 1219.3 365.7 1209.4 373C1199.5 380.3 1191.5 390.3 1185.7 399.7C1179.8 409.1 1175.9 419.5 1174.4 429.4C1172.9 439.2 1174.4 449.1 1176.8 459C1179.2 468.9 1185.8 479.3 1188.6 488.7C1191.5 498.1 1194.5 505.5 1194 515.4C1193.5 525.3 1188.3 537.6 1185.7 548C1183.1 558.4 1179 567.8 1178.3 577.7C1177.5 587.6 1178 597.5 1181.2 607.4C1184.4 617.3 1189.9 627.6 1197.5 637C1205.2 646.4 1216.8 657.1 1227.2 663.7C1237.6 670.4 1249 674.2 1259.9 677.1C1270.7 680 1281.1 681.2 1292.5 681C1303.9 680.7 1316.2 679.5 1328.1 675.6C1340 671.8 1353.3 665.2 1363.7 657.8C1374.1 650.4 1384.1 640.5 1390.4 631.1C1396.7 621.7 1400.7 611.8 1401.7 601.4C1402.7 591.1 1399.5 579.2 1396.3 568.8C1393.2 558.4 1386 548 1383 539.1C1380 530.2 1378.3 523.8 1378.5 515.4C1378.8 507 1382 498.1 1384.5 488.7C1386.9 479.3 1391.5 468.9 1393.4 459C1395.3 449.1 1396.7 438.7 1395.7 429.4C1394.8 420 1392.3 411.5 1387.4 402.6C1382.6 393.7 1376.6 383.6 1366.7 375.9C1356.8 368.3 1341.9 360.7 1328.1 356.7C1314.3 352.6 1297.4 351.8 1283.6 351.6Z"/>
<path class="c o" d="M1280.5 515.5C1280.3 518.6 1277.3 520.9 1273.7 520.7C1270.1 520.5 1267.3 517.9 1267.5 514.9C1267.7 511.8 1270.7 509.5 1274.3 509.7C1277.9 509.9 1280.7 512.5 1280.5 515.5Z"/>
<path class="c o" d="M1305.6 516.9C1304.8 531.6 1290 542.9 1272.6 541.9C1255.2 541 1241.7 528.3 1242.4 513.5C1243.2 498.8 1258 487.5 1275.4 488.5C1292.8 489.4 1306.3 502.1 1305.6 516.9Z"/>
<path class="c o" d="M1318.7 517.5C1317.6 538.5 1296.7 554.4 1272 553.1C1247.3 551.8 1228.2 533.8 1229.3 512.9C1230.4 491.9 1251.3 476 1276 477.3C1300.7 478.6 1319.8 496.6 1318.7 517.5Z"/>
<path class="c o" d="M1329.9 518.1C1328.6 544.3 1302.4 564.2 1271.5 562.6C1240.6 561 1216.7 538.4 1218.1 512.3C1219.4 486.1 1245.6 466.2 1276.5 467.8C1307.4 469.4 1331.3 492 1329.9 518.1Z"/>
<path class="c o" d="M1339.1 518.6C1337.5 549.1 1307.1 572.3 1271.1 570.4C1235.1 568.5 1207.3 542.3 1208.9 511.8C1210.5 481.3 1240.9 458.1 1276.9 460C1312.9 461.9 1340.7 488.1 1339.1 518.6Z"/>
<path class="c o" d="M1348.1 519.1C1346.3 553.8 1311.6 580.1 1270.7 578C1229.8 575.9 1198.1 546 1199.9 511.3C1201.7 476.6 1236.4 450.3 1277.3 452.4C1318.2 454.5 1349.9 484.4 1348.1 519.1Z"/>
<path class="c o" d="M1356.9 519.5C1354.9 558.3 1316.1 587.8 1270.3 585.4C1224.5 583 1189.1 549.7 1191.1 510.9C1193.1 472.1 1231.9 442.6 1277.7 445C1323.5 447.4 1358.9 480.7 1356.9 519.5Z"/>
<path class="c o" d="M1365.5 520C1363.2 562.8 1320.5 595.4 1269.9 592.7C1219.4 590.1 1180.3 553.2 1182.5 510.4C1184.8 467.6 1227.5 435 1278.1 437.7C1328.6 440.3 1367.7 477.2 1365.5 520Z"/>
<path class="c o" d="M1374.1 520.4C1371.6 567.3 1324.8 602.9 1269.6 600C1214.3 597.1 1171.5 556.8 1173.9 510C1176.4 463.1 1223.2 427.5 1278.4 430.4C1333.7 433.3 1376.5 473.6 1374.1 520.4Z"/>
<path class="c o" d="M1383.3 520.9C1380.6 572.1 1329.5 610.9 1269.1 607.8C1208.8 604.6 1162.1 560.6 1164.7 509.5C1167.4 458.3 1218.5 419.5 1278.9 422.6C1339.2 425.8 1385.9 469.8 1383.3 520.9Z"/>
<path class="c o" d="M1392.4 521.4C1389.5 576.8 1334.2 619 1268.7 615.6C1203.3 612.1 1152.7 564.4 1155.6 509C1158.5 453.6 1213.8 411.4 1279.3 414.8C1344.7 418.3 1395.3 466 1392.4 521.4Z"/>
<path class="c o" d="M1402.4 521.9C1399.3 582 1339.2 627.8 1268.3 624C1197.4 620.3 1142.4 568.6 1145.6 508.5C1148.7 448.4 1208.8 402.6 1279.7 406.4C1350.6 410.1 1405.6 461.8 1402.4 521.9Z"/>
<path class="c o" d="M1413.6 522.5C1410.2 587.9 1344.9 637.6 1267.8 633.5C1190.7 629.5 1131 573.2 1134.4 507.9C1137.8 442.5 1203.1 392.8 1280.2 396.9C1357.3 400.9 1417 457.2 1413.6 522.5Z"/>
<path class="c o" d="M1425.8 523.2C1422.1 594.2 1351.1 648.2 1267.3 643.8C1183.4 639.4 1118.5 578.3 1122.2 507.2C1125.9 436.2 1196.9 382.2 1280.7 386.6C1364.6 391 1429.5 452.1 1425.8 523.2Z"/>
<path class="c o" d="M1440.2 523.9C1436.1 601.7 1358.4 660.8 1266.6 656C1174.8 651.2 1103.8 584.3 1107.8 506.5C1111.9 428.7 1189.6 369.6 1281.4 374.4C1373.2 379.2 1444.2 446.1 1440.2 523.9Z"/>
<path class="c o" d="M1459.3 524.9C1454.8 611.7 1368.1 677.6 1265.8 672.3C1163.4 666.9 1084.1 592.2 1088.7 505.5C1093.2 418.7 1179.9 352.8 1282.2 358.1C1384.6 363.5 1463.9 438.2 1459.3 524.9Z"/>
<path class="c o" d="M1485.8 526.3C1480.6 625.4 1381.6 700.8 1264.6 694.7C1147.6 688.6 1057 603.2 1062.2 504.1C1067.4 405 1166.4 329.6 1283.4 335.7C1400.4 341.8 1491 427.2 1485.8 526.3Z"/>
</g></g>
<g id="p03" clip-path="url(#cp03)"><g transform="scale(1.0 1)">
<path class="c b" d="M1831.3 312.2C1815.4 312.4 1794.2 314.9 1777.9 319.6C1761.5 324.3 1745.2 331.9 1733.4 340.3C1721.5 348.7 1713.6 359.1 1706.6 370C1699.7 380.9 1694.5 394.7 1691.8 405.6C1689.1 416.5 1689.3 425.4 1690.3 435.3C1691.3 445.2 1694 456.1 1697.7 465C1701.5 473.9 1708.4 480.3 1712.6 488.7C1716.8 497.1 1723.5 505.5 1723 515.4C1722.5 525.3 1714.1 537.6 1709.6 548C1705.2 558.4 1699 568.8 1696.3 577.7C1693.5 586.6 1692.6 591.5 1693.3 601.4C1694 611.3 1696.5 626.2 1700.7 637C1704.9 647.9 1710.1 656.8 1718.5 666.7C1726.9 676.6 1738.8 688.5 1751.2 696.4C1763.5 704.3 1777.9 710.1 1792.7 714.2C1807.5 718.2 1824.8 720.6 1840.2 720.7C1855.5 720.8 1870.3 718.3 1884.7 714.8C1899 711.2 1913.8 706.9 1926.2 699.4C1938.6 691.8 1950.7 680.6 1958.8 669.7C1967 658.8 1972.1 645.9 1975.2 634.1C1978.2 622.2 1978.5 609.4 1977.2 598.5C1976 587.6 1973.8 577.7 1967.7 568.8C1961.7 559.9 1949.9 552 1941 545.1C1932.1 538.1 1919.8 532.2 1914.3 527.3C1908.9 522.3 1908.4 519.4 1908.4 515.4C1908.4 511.4 1909.9 508.2 1914.3 503.5C1918.8 498.8 1927.7 493.6 1935.1 487.2C1942.5 480.8 1952.8 473.6 1958.8 465C1964.9 456.3 1969.1 445.2 1971.3 435.3C1973.5 425.4 1973.8 416 1972.2 405.6C1970.6 395.2 1967 381.9 1961.8 373C1956.6 364.1 1949.5 358.6 1941 352.2C1932.6 345.8 1922.7 340.1 1911.4 334.4C1900 328.7 1886.2 321.8 1872.8 318.1C1859.5 314.4 1847.1 311.9 1831.3 312.2Z"/>
<path class="c b" d="M1843.1 356.7C1834.2 357.4 1818.9 359.9 1807.5 364.1C1796.2 368.3 1784.3 374.5 1774.9 381.9C1765.5 389.3 1756.1 399.7 1751.2 408.6C1746.2 417.5 1744.7 426.9 1745.2 435.3C1745.7 443.7 1750.2 452.1 1754.1 459C1758.1 465.9 1762.5 471.9 1769 476.8C1775.4 481.8 1784.8 485.7 1792.7 488.7C1800.6 491.7 1808.5 494.1 1816.4 494.6C1824.3 495.1 1832.3 493.6 1840.2 491.7C1848.1 489.7 1856.5 486.7 1863.9 482.8C1871.3 478.8 1878.7 473.9 1884.7 467.9C1890.6 462 1896.3 454.6 1899.5 447.2C1902.7 439.7 1904.5 431.8 1904 423.4C1903.5 415 1900.7 405.1 1896.5 396.7C1892.3 388.3 1884.7 379.2 1878.7 373C1872.8 366.8 1866.9 362.3 1860.9 359.6C1855 356.9 1852 355.9 1843.1 356.7Z"/>
<path class="c b" d="M1849.1 676.2C1839.2 676.7 1827.8 674.2 1816.4 669.7C1805.1 665.1 1790.7 656.8 1780.8 648.9C1770.9 641 1762.6 631.6 1757.1 622.2C1751.5 612.8 1748.1 601.4 1747.6 592.5C1747.1 583.6 1749.6 575.7 1754.1 568.8C1758.7 561.9 1767.5 555.9 1774.9 551C1782.3 546.1 1790.7 541.7 1798.6 539.1C1806.5 536.6 1814.5 535.6 1822.4 535.6C1830.3 535.6 1838.2 537.1 1846.1 539.1C1854 541.2 1861.9 543.6 1869.8 548C1877.7 552.5 1887.4 558.4 1893.6 565.8C1899.8 573.3 1904.5 584.1 1906.9 592.5C1909.4 600.9 1910.1 607.4 1908.4 616.3C1906.7 625.2 1902 637.5 1896.5 645.9C1891.1 654.4 1883.7 661.7 1875.8 666.7C1867.9 671.8 1859 675.7 1849.1 676.2Z"/>
<path class="c o" d="M1793.2 515.4C1793.2 516 1793.1 516.6 1792.9 517.2C1792.6 517.8 1792.3 518.5 1791.9 519.2C1791.4 519.8 1790.9 520.5 1790.3 521.1C1789.6 521.7 1788.9 522.3 1788.1 522.9C1787.3 523.4 1786.5 523.9 1785.6 524.4C1784.7 524.8 1783.7 525.2 1782.8 525.5C1781.8 525.8 1780.8 526 1779.9 526.2C1779 526.3 1778.2 526.4 1777.3 526.4C1776.4 526.4 1775.6 526.3 1774.7 526.2C1773.8 526 1772.8 525.8 1771.8 525.5C1770.9 525.2 1769.9 524.8 1769 524.4C1768.1 523.9 1767.3 523.4 1766.5 522.9C1765.7 522.3 1765 521.7 1764.3 521.1C1763.7 520.5 1763.2 519.8 1762.7 519.2C1762.3 518.5 1762 517.8 1761.7 517.2C1761.5 516.6 1761.4 516 1761.4 515.4C1761.4 514.8 1761.5 514.2 1761.7 513.6C1762 513 1762.3 512.3 1762.7 511.6C1763.2 511 1763.7 510.3 1764.3 509.7C1765 509.1 1765.7 508.5 1766.5 507.9C1767.3 507.4 1768.1 506.9 1769 506.4C1769.9 506 1770.9 505.6 1771.8 505.3C1772.8 505 1773.8 504.8 1774.7 504.6C1775.6 504.5 1776.4 504.4 1777.3 504.4C1778.2 504.4 1779 504.5 1779.9 504.6C1780.8 504.8 1781.8 505 1782.8 505.3C1783.7 505.6 1784.7 506 1785.6 506.4C1786.5 506.9 1787.3 507.4 1788.1 507.9C1788.9 508.5 1789.6 509.1 1790.3 509.7C1790.9 510.3 1791.4 511 1791.9 511.6C1792.3 512.3 1792.6 513 1792.9 513.6C1793.1 514.2 1793.2 514.8 1793.2 515.4Z"/>
<path class="c o" d="M1818.2 515.4C1818.2 516.5 1817.9 517.6 1817.3 518.8C1816.8 520 1815.9 521.4 1814.8 522.6C1813.6 523.9 1812.2 525.2 1810.6 526.3C1809 527.5 1807.1 528.7 1805.1 529.7C1803.1 530.7 1800.9 531.7 1798.6 532.5C1796.3 533.3 1793.8 534.1 1791.4 534.6C1788.9 535.2 1786.3 535.7 1784 536C1781.6 536.2 1779.1 536.4 1777.3 536.4C1775.5 536.4 1774.4 536.2 1772.9 536C1771.3 535.7 1769.6 535.2 1768 534.6C1766.4 534.1 1764.7 533.3 1763.2 532.5C1761.7 531.7 1760.2 530.7 1758.9 529.7C1757.5 528.7 1756.3 527.5 1755.2 526.3C1754.2 525.2 1753.2 523.9 1752.5 522.6C1751.7 521.4 1751.2 520 1750.8 518.8C1750.4 517.6 1750.2 516.5 1750.2 515.4C1750.2 514.3 1750.4 513.2 1750.8 512C1751.2 510.8 1751.7 509.4 1752.5 508.2C1753.2 506.9 1754.2 505.6 1755.2 504.5C1756.3 503.3 1757.5 502.1 1758.9 501.1C1760.2 500.1 1761.7 499.1 1763.2 498.3C1764.7 497.5 1766.4 496.7 1768 496.2C1769.6 495.6 1771.3 495.1 1772.9 494.8C1774.4 494.6 1775.5 494.4 1777.3 494.4C1779.1 494.4 1781.6 494.6 1784 494.8C1786.3 495.1 1788.9 495.6 1791.4 496.2C1793.8 496.7 1796.3 497.5 1798.6 498.3C1800.9 499.1 1803.1 500.1 1805.1 501.1C1807.1 502.1 1809 503.3 1810.6 504.5C1812.2 505.6 1813.6 506.9 1814.8 508.2C1815.9 509.4 1816.8 510.8 1817.3 512C1817.9 513.2 1818.2 514.3 1818.2 515.4Z"/>
<path class="c o" d="M1836.7 515.4C1836.7 516.8 1836.2 517.9 1835.3 519.5C1834.3 521.2 1832.9 523.2 1831.1 525C1829.3 526.9 1827 528.9 1824.5 530.7C1821.9 532.6 1818.9 534.5 1815.8 536.1C1812.7 537.8 1809.2 539.4 1805.8 540.8C1802.4 542.2 1798.6 543.4 1795.2 544.4C1791.7 545.4 1788 546.1 1785 546.6C1782 547.1 1779.4 547.4 1777.3 547.4C1775.2 547.4 1774.2 547.1 1772.2 546.6C1770.2 546.1 1767.7 545.4 1765.4 544.4C1763.1 543.4 1760.6 542.2 1758.3 540.8C1756 539.4 1753.7 537.8 1751.6 536.1C1749.5 534.5 1747.6 532.6 1745.9 530.7C1744.2 528.9 1742.6 526.9 1741.4 525C1740.2 523.2 1739.3 521.2 1738.6 519.5C1738 517.9 1737.7 516.8 1737.7 515.4C1737.7 514 1738 512.9 1738.6 511.3C1739.3 509.6 1740.2 507.6 1741.4 505.8C1742.6 503.9 1744.2 501.9 1745.9 500.1C1747.6 498.2 1749.5 496.3 1751.6 494.7C1753.7 493 1756 491.4 1758.3 490C1760.6 488.6 1763.1 487.4 1765.4 486.4C1767.7 485.4 1770.2 484.7 1772.2 484.2C1774.2 483.7 1775.2 483.4 1777.3 483.4C1779.4 483.4 1782 483.7 1785 484.2C1788 484.7 1791.7 485.4 1795.2 486.4C1798.6 487.4 1802.4 488.6 1805.8 490C1809.2 491.4 1812.7 493 1815.8 494.7C1818.9 496.3 1821.9 498.2 1824.5 500.1C1827 501.9 1829.3 503.9 1831.1 505.8C1832.9 507.6 1834.3 509.6 1835.3 511.3C1836.2 512.9 1836.7 514 1836.7 515.4Z"/>
<path class="c o" d="M1851.9 515.4C1851.9 517 1851.2 518.3 1850 520.3C1848.7 522.3 1846.8 524.9 1844.4 527.3C1842 529.8 1839 532.5 1835.6 535C1832.3 537.6 1828.3 540.2 1824.3 542.5C1820.3 544.8 1815.7 547.1 1811.4 549C1807 551 1802.3 552.7 1798 554.1C1793.8 555.5 1789.2 556.6 1785.7 557.3C1782.3 558 1779.8 558.4 1777.3 558.4C1774.8 558.4 1773.5 558 1770.8 557.3C1768.1 556.6 1764.6 555.5 1761.4 554.1C1758.1 552.7 1754.5 551 1751.1 549C1747.7 547.1 1744.3 544.8 1741.1 542.5C1738 540.2 1735 537.6 1732.4 535C1729.8 532.5 1727.5 529.8 1725.7 527.3C1723.8 524.9 1722.3 522.3 1721.4 520.3C1720.4 518.3 1719.9 517 1719.9 515.4C1719.9 513.8 1720.4 512.5 1721.4 510.5C1722.3 508.5 1723.8 505.9 1725.7 503.5C1727.5 501 1729.8 498.3 1732.4 495.8C1735 493.2 1738 490.6 1741.1 488.3C1744.3 486 1747.7 483.7 1751.1 481.8C1754.5 479.8 1758.1 478.1 1761.4 476.7C1764.6 475.3 1768.1 474.2 1770.8 473.5C1773.5 472.8 1774.8 472.4 1777.3 472.4C1779.8 472.4 1782.3 472.8 1785.7 473.5C1789.2 474.2 1793.8 475.3 1798 476.7C1802.3 478.1 1807 479.8 1811.4 481.8C1815.7 483.7 1820.3 486 1824.3 488.3C1828.3 490.6 1832.3 493.2 1835.6 495.8C1839 498.3 1842 501 1844.4 503.5C1846.8 505.9 1848.7 508.5 1850 510.5C1851.2 512.5 1851.9 513.8 1851.9 515.4Z"/>
<path class="c o" d="M1861.8 515.4C1861.8 517.4 1861.1 519 1859.6 521.5C1858.2 524 1856 527.3 1853.3 530.4C1850.6 533.5 1847.2 536.9 1843.4 540.1C1839.6 543.2 1835.1 546.5 1830.5 549.4C1826 552.3 1820.9 555.2 1815.9 557.6C1810.9 560 1805.6 562.3 1800.8 564C1795.9 565.7 1790.8 567.1 1786.9 568C1782.9 568.9 1780.2 569.4 1777.3 569.4C1774.4 569.4 1772.7 568.9 1769.5 568C1766.2 567.1 1762 565.7 1758 564C1754.1 562.3 1749.7 560 1745.6 557.6C1741.6 555.2 1737.4 552.3 1733.6 549.4C1729.9 546.5 1726.2 543.2 1723.1 540.1C1720 536.9 1717.2 533.5 1714.9 530.4C1712.7 527.3 1710.9 524 1709.8 521.5C1708.6 519 1708 517.4 1708 515.4C1708 513.4 1708.6 511.8 1709.8 509.3C1710.9 506.8 1712.7 503.5 1714.9 500.4C1717.2 497.3 1720 493.9 1723.1 490.7C1726.2 487.6 1729.9 484.3 1733.6 481.4C1737.4 478.5 1741.6 475.6 1745.6 473.2C1749.7 470.8 1754.1 468.5 1758 466.8C1762 465.1 1766.2 463.7 1769.5 462.8C1772.7 461.9 1774.4 461.4 1777.3 461.4C1780.2 461.4 1782.9 461.9 1786.9 462.8C1790.8 463.7 1795.9 465.1 1800.8 466.8C1805.6 468.5 1810.9 470.8 1815.9 473.2C1820.9 475.6 1826 478.5 1830.5 481.4C1835.1 484.3 1839.6 487.6 1843.4 490.7C1847.2 493.9 1850.6 497.3 1853.3 500.4C1856 503.5 1858.2 506.8 1859.6 509.3C1861.1 511.8 1861.8 513.4 1861.8 515.4Z"/>
<path class="c o" d="M1871 515.4C1871 518.2 1870.2 520.5 1868.8 523.7C1867.3 526.9 1865 530.9 1862.2 534.7C1859.3 538.4 1855.7 542.4 1851.7 546.1C1847.7 549.8 1843 553.5 1838.1 556.9C1833.1 560.3 1827.7 563.5 1822.2 566.2C1816.8 569 1811 571.4 1805.5 573.4C1800 575.3 1794.1 576.9 1789.4 577.9C1784.7 578.9 1781 579.4 1777.3 579.4C1773.6 579.4 1771.1 578.9 1767.2 577.9C1763.3 576.9 1758.4 575.3 1753.9 573.4C1749.3 571.4 1744.5 569 1740 566.2C1735.5 563.5 1730.9 560.3 1726.9 556.9C1722.8 553.5 1718.9 549.8 1715.5 546.1C1712.2 542.4 1709.2 538.4 1706.8 534.7C1704.5 530.9 1702.6 526.9 1701.4 523.7C1700.1 520.5 1699.5 518.2 1699.5 515.4C1699.5 512.6 1700.1 510.3 1701.4 507.1C1702.6 503.9 1704.5 499.9 1706.8 496.1C1709.2 492.4 1712.2 488.4 1715.5 484.7C1718.9 481 1722.8 477.3 1726.9 473.9C1730.9 470.5 1735.5 467.3 1740 464.6C1744.5 461.8 1749.3 459.4 1753.9 457.4C1758.4 455.5 1763.3 453.9 1767.2 452.9C1771.1 451.9 1773.6 451.4 1777.3 451.4C1781 451.4 1784.7 451.9 1789.4 452.9C1794.1 453.9 1800 455.5 1805.5 457.4C1811 459.4 1816.8 461.8 1822.2 464.6C1827.7 467.3 1833.1 470.5 1838.1 473.9C1843 477.3 1847.7 481 1851.7 484.7C1855.7 488.4 1859.3 492.4 1862.2 496.1C1865 499.9 1867.3 503.9 1868.8 507.1C1870.2 510.3 1871 512.6 1871 515.4Z"/>
<path class="c o" d="M1882.2 515.4C1882.2 519 1881.4 522.2 1879.8 526.2C1878.3 530.2 1875.9 534.9 1872.9 539.3C1869.9 543.7 1866 548.2 1861.7 552.5C1857.4 556.7 1852.4 560.9 1847.1 564.6C1841.8 568.4 1835.8 571.9 1829.8 575C1823.9 578 1817.4 580.7 1811.2 582.8C1805 584.9 1798.3 586.6 1792.6 587.7C1787 588.8 1782 589.4 1777.3 589.4C1772.6 589.4 1769 588.8 1764.2 587.7C1759.4 586.6 1753.6 584.9 1748.3 582.8C1743 580.7 1737.5 578 1732.4 575C1727.3 571.9 1722.2 568.4 1717.6 564.6C1713.1 560.9 1708.8 556.7 1705.1 552.5C1701.4 548.2 1698.2 543.7 1695.6 539.3C1693 534.9 1691 530.2 1689.6 526.2C1688.3 522.2 1687.6 519 1687.6 515.4C1687.6 511.8 1688.3 508.6 1689.6 504.6C1691 500.6 1693 495.9 1695.6 491.5C1698.2 487.1 1701.4 482.6 1705.1 478.3C1708.8 474.1 1713.1 469.9 1717.6 466.2C1722.2 462.4 1727.3 458.9 1732.4 455.8C1737.5 452.8 1743 450.1 1748.3 448C1753.6 445.9 1759.4 444.2 1764.2 443.1C1769 442 1772.6 441.4 1777.3 441.4C1782 441.4 1787 442 1792.6 443.1C1798.3 444.2 1805 445.9 1811.2 448C1817.4 450.1 1823.9 452.8 1829.8 455.8C1835.8 458.9 1841.8 462.4 1847.1 466.2C1852.4 469.9 1857.4 474.1 1861.7 478.3C1866 482.6 1869.9 487.1 1872.9 491.5C1875.9 495.9 1878.3 500.6 1879.8 504.6C1881.4 508.6 1882.2 511.8 1882.2 515.4Z"/>
<path class="c o" d="M1893.4 515.4C1893.4 520 1892.6 524.3 1890.9 529.1C1889.3 533.9 1886.8 539.3 1883.6 544.3C1880.4 549.3 1876.4 554.4 1871.9 559.1C1867.3 563.8 1862 568.4 1856.3 572.6C1850.6 576.7 1844.2 580.5 1837.7 583.8C1831.2 587.1 1824.2 590 1817.2 592.3C1810.3 594.6 1802.8 596.4 1796.2 597.6C1789.5 598.8 1783.3 599.4 1777.3 599.4C1771.3 599.4 1766.2 598.8 1760.1 597.6C1754.1 596.4 1747.3 594.6 1741 592.3C1734.7 590 1728.3 587.1 1722.4 583.8C1716.5 580.5 1710.7 576.7 1705.5 572.6C1700.3 568.4 1695.5 563.8 1691.4 559.1C1687.2 554.4 1683.6 549.3 1680.7 544.3C1677.8 539.3 1675.5 533.9 1674 529.1C1672.6 524.3 1671.8 520 1671.8 515.4C1671.8 510.8 1672.6 506.5 1674 501.7C1675.5 496.9 1677.8 491.5 1680.7 486.5C1683.6 481.5 1687.2 476.4 1691.4 471.7C1695.5 467 1700.3 462.4 1705.5 458.2C1710.7 454.1 1716.5 450.3 1722.4 447C1728.3 443.7 1734.7 440.8 1741 438.5C1747.3 436.2 1754.1 434.4 1760.1 433.2C1766.2 432 1771.3 431.4 1777.3 431.4C1783.3 431.4 1789.5 432 1796.2 433.2C1802.8 434.4 1810.3 436.2 1817.2 438.5C1824.2 440.8 1831.2 443.7 1837.7 447C1844.2 450.3 1850.6 454.1 1856.3 458.2C1862 462.4 1867.3 467 1871.9 471.7C1876.4 476.4 1880.4 481.5 1883.6 486.5C1886.8 491.5 1889.3 496.9 1890.9 501.7C1892.6 506.5 1893.4 510.8 1893.4 515.4Z"/>
<path class="c o" d="M1901.3 515.4C1901.3 521 1900.4 526.5 1898.8 532.2C1897.1 537.9 1894.6 544 1891.4 549.6C1888.2 555.2 1884.1 560.9 1879.4 566C1874.7 571.2 1869.3 576.2 1863.4 580.7C1857.5 585.1 1850.9 589.3 1844.1 592.8C1837.3 596.3 1829.8 599.4 1822.4 601.9C1815 604.3 1807 606.2 1799.5 607.5C1792 608.8 1784.6 609.4 1777.3 609.4C1770 609.4 1763.2 608.8 1755.9 607.5C1748.7 606.2 1741 604.3 1733.9 601.9C1726.7 599.4 1719.6 596.3 1713 592.8C1706.4 589.3 1700.1 585.1 1694.4 580.7C1688.7 576.2 1683.5 571.2 1679 566C1674.5 560.9 1670.6 555.2 1667.4 549.6C1664.3 544 1661.9 537.9 1660.3 532.2C1658.7 526.5 1657.9 521 1657.9 515.4C1657.9 509.8 1658.7 504.3 1660.3 498.6C1661.9 492.9 1664.3 486.8 1667.4 481.2C1670.6 475.6 1674.5 469.9 1679 464.8C1683.5 459.6 1688.7 454.6 1694.4 450.1C1700.1 445.7 1706.4 441.5 1713 438C1719.6 434.5 1726.7 431.4 1733.9 428.9C1741 426.5 1748.7 424.6 1755.9 423.3C1763.2 422 1770 421.4 1777.3 421.4C1784.6 421.4 1792 422 1799.5 423.3C1807 424.6 1815 426.5 1822.4 428.9C1829.8 431.4 1837.3 434.5 1844.1 438C1850.9 441.5 1857.5 445.7 1863.4 450.1C1869.3 454.6 1874.7 459.6 1879.4 464.8C1884.1 469.9 1888.2 475.6 1891.4 481.2C1894.6 486.8 1897.1 492.9 1898.8 498.6C1900.4 504.3 1901.3 509.8 1901.3 515.4Z"/>
<path class="c o" d="M1910.6 515.4C1910.6 522.2 1909.7 529.1 1908 535.7C1906.3 542.3 1903.8 549 1900.5 555.2C1897.1 561.4 1893 567.6 1888.1 573.2C1883.3 578.8 1877.7 584.2 1871.6 588.9C1865.4 593.7 1858.6 598.1 1851.4 601.9C1844.1 605.6 1836.3 608.9 1828.3 611.5C1820.3 614.1 1811.8 616.1 1803.3 617.4C1794.8 618.7 1785.9 619.4 1777.3 619.4C1768.7 619.4 1759.9 618.7 1751.4 617.4C1743 616.1 1734.5 614.1 1726.6 611.5C1718.6 608.9 1710.8 605.6 1703.6 601.9C1696.5 598.1 1689.6 593.7 1683.5 588.9C1677.4 584.2 1671.8 578.8 1667 573.2C1662.3 567.6 1658.1 561.4 1654.8 555.2C1651.5 549 1648.9 542.3 1647.2 535.7C1645.6 529.1 1644.7 522.2 1644.7 515.4C1644.7 508.6 1645.6 501.7 1647.2 495.1C1648.9 488.5 1651.5 481.8 1654.8 475.6C1658.1 469.4 1662.3 463.2 1667 457.6C1671.8 452 1677.4 446.6 1683.5 441.9C1689.6 437.1 1696.5 432.7 1703.6 428.9C1710.8 425.2 1718.6 421.9 1726.6 419.3C1734.5 416.7 1743 414.7 1751.4 413.4C1759.9 412.1 1768.7 411.4 1777.3 411.4C1785.9 411.4 1794.8 412.1 1803.3 413.4C1811.8 414.7 1820.3 416.7 1828.3 419.3C1836.3 421.9 1844.1 425.2 1851.4 428.9C1858.6 432.7 1865.4 437.1 1871.6 441.9C1877.7 446.6 1883.3 452 1888.1 457.6C1893 463.2 1897.1 469.4 1900.5 475.6C1903.8 481.8 1906.3 488.5 1908 495.1C1909.7 501.7 1910.6 508.6 1910.6 515.4Z"/>
<path class="c o" d="M1919.8 515.4C1919.8 523.9 1919 533.1 1917.3 541C1915.7 548.8 1913.2 555.8 1909.9 562.6C1906.7 569.4 1902.6 575.7 1897.8 581.6C1893 587.5 1887.5 593 1881.3 597.9C1875.1 602.7 1868.2 607.2 1860.8 610.9C1853.4 614.7 1845.4 618 1836.8 620.6C1828.3 623.1 1819.5 625.1 1809.6 626.4C1799.6 627.7 1788.1 628.4 1777.3 628.4C1766.5 628.4 1754.6 627.7 1744.5 626.4C1734.4 625.1 1725.4 623.1 1716.7 620.6C1708 618 1699.8 614.7 1692.3 610.9C1684.7 607.2 1677.7 602.7 1671.4 597.9C1665.1 593 1659.5 587.5 1654.6 581.6C1649.8 575.7 1645.6 569.4 1642.3 562.6C1639 555.8 1636.4 548.8 1634.7 541C1633.1 533.1 1632.2 523.9 1632.2 515.4C1632.2 506.9 1633.1 497.7 1634.7 489.8C1636.4 482 1639 475 1642.3 468.2C1645.6 461.4 1649.8 455.1 1654.6 449.2C1659.5 443.3 1665.1 437.8 1671.4 432.9C1677.7 428.1 1684.7 423.6 1692.3 419.9C1699.8 416.1 1708 412.8 1716.7 410.2C1725.4 407.7 1734.4 405.7 1744.5 404.4C1754.6 403.1 1766.5 402.4 1777.3 402.4C1788.1 402.4 1799.6 403.1 1809.6 404.4C1819.5 405.7 1828.3 407.7 1836.8 410.2C1845.4 412.8 1853.4 416.1 1860.8 419.9C1868.2 423.6 1875.1 428.1 1881.3 432.9C1887.5 437.8 1893 443.3 1897.8 449.2C1902.6 455.1 1906.7 461.4 1909.9 468.2C1913.2 475 1915.7 482 1917.3 489.8C1919 497.7 1919.8 506.9 1919.8 515.4Z"/>
<path class="c o" d="M1930.3 515.4C1930.3 525.2 1929.4 536 1927.7 544.9C1926 553.7 1923.5 561 1920.1 568.3C1916.8 575.6 1912.6 582.4 1907.6 588.6C1902.7 594.8 1896.9 600.5 1890.5 605.7C1884.1 610.8 1876.9 615.4 1869.1 619.3C1861.3 623.2 1852.8 626.6 1843.7 629.3C1834.5 632 1825.3 634 1814.2 635.4C1803.2 636.7 1789.9 637.4 1777.3 637.4C1764.7 637.4 1750.4 636.7 1738.9 635.4C1727.4 634 1717.9 632 1708.4 629.3C1698.9 626.6 1690.1 623.2 1682 619.3C1673.9 615.4 1666.4 610.8 1659.7 605.7C1653.1 600.5 1647.1 594.8 1642 588.6C1636.8 582.4 1632.5 575.6 1629 568.3C1625.5 561 1622.8 553.7 1621.1 544.9C1619.3 536 1618.4 525.2 1618.4 515.4C1618.4 505.6 1619.3 494.8 1621.1 485.9C1622.8 477.1 1625.5 469.8 1629 462.5C1632.5 455.2 1636.8 448.4 1642 442.2C1647.1 436 1653.1 430.3 1659.7 425.1C1666.4 420 1673.9 415.4 1682 411.5C1690.1 407.6 1698.9 404.2 1708.4 401.5C1717.9 398.8 1727.4 396.8 1738.9 395.4C1750.4 394.1 1764.7 393.4 1777.3 393.4C1789.9 393.4 1803.2 394.1 1814.2 395.4C1825.3 396.8 1834.5 398.8 1843.7 401.5C1852.8 404.2 1861.3 407.6 1869.1 411.5C1876.9 415.4 1884.1 420 1890.5 425.1C1896.9 430.3 1902.7 436 1907.6 442.2C1912.6 448.4 1916.8 455.2 1920.1 462.5C1923.5 469.8 1926 477.1 1927.7 485.9C1929.4 494.8 1930.3 505.6 1930.3 515.4Z"/>
<path class="c o" d="M1944.8 515.4C1944.8 525.3 1943.8 535.9 1941.9 545.1C1939.9 554.2 1937 562.3 1933.2 570.1C1929.3 578 1924.5 585.4 1918.9 592.2C1913.3 599 1906.8 605.3 1899.5 611C1892.3 616.7 1884.2 621.8 1875.5 626.2C1866.8 630.5 1857.3 634.3 1847.2 637.3C1837.2 640.3 1826.9 642.6 1815.2 644.1C1803.6 645.6 1790.2 646.4 1777.3 646.4C1764.4 646.4 1750.1 645.6 1738 644.1C1726 642.6 1715.2 640.3 1704.8 637.3C1694.4 634.3 1684.6 630.5 1675.6 626.2C1666.6 621.8 1658.2 616.7 1650.7 611C1643.2 605.3 1636.4 599 1630.6 592.2C1624.8 585.4 1619.8 578 1615.8 570.1C1611.9 562.3 1608.8 554.2 1606.8 545.1C1604.8 535.9 1603.8 525.3 1603.8 515.4C1603.8 505.5 1604.8 494.9 1606.8 485.7C1608.8 476.6 1611.9 468.5 1615.8 460.7C1619.8 452.8 1624.8 445.4 1630.6 438.6C1636.4 431.8 1643.2 425.5 1650.7 419.8C1658.2 414.1 1666.6 409 1675.6 404.6C1684.6 400.3 1694.4 396.5 1704.8 393.5C1715.2 390.5 1726 388.2 1738 386.7C1750.1 385.2 1764.4 384.4 1777.3 384.4C1790.2 384.4 1803.6 385.2 1815.2 386.7C1826.9 388.2 1837.2 390.5 1847.2 393.5C1857.3 396.5 1866.8 400.3 1875.5 404.6C1884.2 409 1892.3 414.1 1899.5 419.8C1906.8 425.5 1913.3 431.8 1918.9 438.6C1924.5 445.4 1929.3 452.8 1933.2 460.7C1937 468.5 1939.9 476.6 1941.9 485.7C1943.8 494.9 1944.8 505.5 1944.8 515.4Z"/>
<path class="c o" d="M1967.3 515.4C1967.3 523.8 1966 532 1963.5 540.6C1960.9 549.1 1957.1 558.1 1952.1 566.5C1947.2 574.9 1940.9 583.3 1933.8 591.1C1926.6 598.8 1918.2 606.3 1909.2 613C1900.2 619.6 1890.1 625.8 1879.6 631.1C1869.2 636.4 1857.8 641 1846.4 644.7C1835 648.3 1822.8 651.2 1811.3 653.1C1799.8 654.9 1788.3 655.9 1777.3 655.9C1766.3 655.9 1756 654.9 1745.1 653.1C1734.2 651.2 1722.6 648.3 1711.8 644.7C1701 641 1690.3 636.4 1680.3 631.1C1670.4 625.8 1660.9 619.6 1652.3 613C1643.8 606.3 1635.9 598.8 1629.1 591.1C1622.3 583.3 1616.4 574.9 1611.7 566.5C1607 558.1 1603.3 549.1 1600.9 540.6C1598.5 532 1597.3 523.8 1597.3 515.4C1597.3 507 1598.5 498.8 1600.9 490.3C1603.3 481.8 1607 472.9 1611.7 464.5C1616.4 456.1 1622.3 447.7 1629.1 440C1635.9 432.3 1643.8 424.8 1652.3 418.2C1660.9 411.5 1670.4 405.4 1680.3 400.1C1690.3 394.9 1701 390.2 1711.8 386.6C1722.6 382.9 1734.2 380.1 1745.1 378.2C1756 376.4 1766.3 375.4 1777.3 375.4C1788.3 375.4 1799.8 376.4 1811.3 378.2C1822.8 380.1 1835 382.9 1846.4 386.6C1857.8 390.2 1869.2 394.9 1879.6 400.1C1890.1 405.4 1900.2 411.5 1909.2 418.2C1918.2 424.8 1926.6 432.3 1933.8 440C1940.9 447.7 1947.2 456.1 1952.1 464.5C1957.1 472.9 1960.9 481.8 1963.5 490.3C1966 498.8 1967.3 507 1967.3 515.4Z"/>
<path class="c o" d="M1991 515.4C1991 526.8 1989.7 539.4 1987.3 550C1984.8 560.7 1981 570.1 1976.2 579.3C1971.3 588.5 1965.1 597.1 1958 605.1C1950.8 613 1942.5 620.4 1933.2 627.1C1924 633.7 1913.7 639.6 1902.5 644.8C1891.4 649.9 1879.4 654.3 1866.5 657.8C1853.7 661.3 1840.5 664 1825.7 665.7C1810.8 667.5 1792.5 668.4 1777.3 668.4C1762.1 668.4 1747.8 667.5 1734.7 665.7C1721.7 664 1710.1 661.3 1698.8 657.8C1687.5 654.3 1676.9 649.9 1667.1 644.8C1657.3 639.6 1648.2 633.7 1640.1 627.1C1632 620.4 1624.6 613 1618.3 605.1C1612 597.1 1606.6 588.5 1602.4 579.3C1598.1 570.1 1594.8 560.7 1592.6 550C1590.4 539.4 1589.3 526.8 1589.3 515.4C1589.3 504 1590.4 491.9 1592.6 481.4C1594.8 471 1598.1 461.8 1602.4 452.8C1606.6 443.8 1612 435.3 1618.3 427.5C1624.6 419.7 1632 412.4 1640.1 405.9C1648.2 399.5 1657.3 393.6 1667.1 388.6C1676.9 383.5 1687.5 379.2 1698.8 375.8C1710.1 372.4 1721.7 369.8 1734.7 368C1747.8 366.3 1762.1 365.4 1777.3 365.4C1792.5 365.4 1810.8 366.3 1825.7 368C1840.5 369.8 1853.7 372.4 1866.5 375.8C1879.4 379.2 1891.4 383.5 1902.5 388.6C1913.7 393.6 1924 399.5 1933.2 405.9C1942.5 412.4 1950.8 419.7 1958 427.5C1965.1 435.3 1971.3 443.8 1976.2 452.8C1981 461.8 1984.8 471 1987.3 481.4C1989.7 491.9 1991 504 1991 515.4Z"/>
<path class="c o" d="M2014.7 515.4C2014.7 530.8 2013.4 548 2010.7 562C2008.1 576 2004.1 587.6 1998.9 599.1C1993.7 610.6 1987.2 621.3 1979.5 631.2C1971.8 641 1962.9 650.1 1952.9 658.2C1943 666.3 1931.8 673.6 1919.7 679.8C1907.6 686 1894.5 691.3 1880.3 695.6C1866.1 699.8 1851.8 703 1834.6 705.2C1817.5 707.3 1794.8 708.4 1777.3 708.4C1759.8 708.4 1744 707.3 1729.7 705.2C1715.5 703 1703.6 699.8 1691.8 695.6C1680.1 691.3 1669.2 686 1659.1 679.8C1649.1 673.6 1639.8 666.3 1631.6 658.2C1623.3 650.1 1615.9 641 1609.5 631.2C1603.2 621.3 1597.7 610.6 1593.4 599.1C1589.1 587.6 1585.8 576 1583.6 562C1581.4 548 1580.3 530.8 1580.3 515.4C1580.3 500 1581.4 483.3 1583.6 469.5C1585.8 455.8 1589.1 444.3 1593.4 433C1597.7 421.6 1603.2 411.1 1609.5 401.4C1615.9 391.7 1623.3 382.8 1631.6 374.8C1639.8 366.9 1649.1 359.7 1659.1 353.6C1669.2 347.4 1680.1 342.2 1691.8 338C1703.6 333.9 1715.5 330.7 1729.7 328.6C1744 326.5 1759.8 325.4 1777.3 325.4C1794.8 325.4 1817.5 326.5 1834.6 328.6C1851.8 330.7 1866.1 333.9 1880.3 338C1894.5 342.2 1907.6 347.4 1919.7 353.6C1931.8 359.7 1943 366.9 1952.9 374.8C1962.9 382.8 1971.8 391.7 1979.5 401.4C1987.2 411.1 1993.7 421.6 1998.9 433C2004.1 444.3 2008.1 455.8 2010.7 469.5C2013.4 483.3 2014.7 500 2014.7 515.4Z"/>
</g></g>
<g id="p10" clip-path="url(#cp10)"><g transform="scale(1.0 1)">
<path class="c b" d="M297 1188.4C302 1186.2 315.8 1182.2 326.7 1175.1C337.6 1167.9 352.4 1156.3 362.3 1145.4C372.2 1134.5 380.4 1123.1 386 1109.8C391.7 1096.4 395.4 1079.1 396.4 1065.3C397.4 1051.4 395.2 1038.1 392 1026.7C388.8 1015.3 381.1 1007.9 377.1 997C373.2 986.2 368.2 973.8 368.2 961.4C368.2 949.1 373.2 934.7 377.1 922.9C381.1 911 388.8 901.6 392 890.2C395.2 878.8 397.4 864.8 396.4 854.6C395.4 844.5 391.7 839.3 386 829.4C380.4 819.5 370.5 804.9 362.3 795.3C354.1 785.6 348 778.5 337.1 771.5C326.2 764.6 312.1 758.2 297 753.7C282 749.3 263.4 745.3 246.6 744.8C229.8 744.3 212.5 746.3 196.2 750.8C179.8 755.2 163 762.6 148.7 771.5C134.3 780.4 120.5 791.3 110.1 804.2C99.7 817 91.6 833.4 86.4 848.7C81.2 864 79 881.3 79 896.2C79 911 83.4 926.3 86.4 937.7C89.3 949.1 96.8 952 96.8 964.4C96.8 976.8 89.8 996.5 86.4 1011.9C82.9 1027.2 77 1042 76 1056.4C75 1070.7 76.2 1084.6 80.4 1097.9C84.6 1111.3 92.3 1125.1 101.2 1136.5C110.1 1147.9 122 1157.5 133.8 1166.2C145.7 1174.8 166 1184.7 172.4 1188.4"/>
<path class="c b" d="M246.6 777.5C232.3 777.5 211.5 777.5 196.2 781.9C180.8 786.4 166 794.5 154.6 804.2C143.2 813.8 133.6 827.4 127.9 839.8C122.2 852.1 120.5 866 120.5 878.4C120.5 890.7 124.2 903.1 127.9 914C131.6 924.8 138.8 935.2 142.7 943.6C146.7 952 152.1 956 151.6 964.4C151.2 972.8 144.7 983.7 139.8 994.1C134.8 1004.5 126.2 1016.3 122 1026.7C117.8 1037.1 115.1 1045 114.6 1056.4C114.1 1067.7 114.8 1082.6 119 1094.9C123.2 1107.3 130.9 1120.7 139.8 1130.5C148.7 1140.4 161 1148.4 172.4 1154.3C183.8 1160.2 196.2 1163.7 208 1166.2C219.9 1168.6 231.3 1170.1 243.6 1169.1C256 1168.1 269.3 1165.2 282.2 1160.2C295.1 1155.3 309.9 1148.4 320.8 1139.5C331.6 1130.5 341.3 1118.2 347.5 1106.8C353.7 1095.4 357.1 1083.1 357.9 1071.2C358.6 1059.3 355.6 1047 351.9 1035.6C348.2 1024.2 340.5 1011.9 335.6 1003C330.7 994.1 325 989.1 322.3 982.2C319.5 975.3 318.5 968.8 319.3 961.4C320 954 323 946.1 326.7 937.7C330.4 929.3 337.1 920.9 341.5 911C346 901.1 351.4 888.7 353.4 878.4C355.4 868 355.9 858.6 353.4 848.7C350.9 838.8 345.5 828.2 338.6 819C331.6 809.9 321.3 800 311.9 793.8C302.5 787.6 293.1 784.6 282.2 781.9C271.3 779.2 260.9 777.5 246.6 777.5Z"/>
<path class="c b" d="M243.6 804.2C230.8 804.7 209 805.2 196.2 810.1C183.3 815.1 173.7 824.5 166.5 833.8C159.3 843.2 154.6 856.1 153.1 866.5C151.6 876.9 154.4 887.3 157.6 896.2C160.8 905.1 166.5 913 172.4 919.9C178.4 926.8 186.8 932.3 193.2 937.7C199.6 943.1 206 948.1 211 952.5C215.9 957 224.3 959 222.9 964.4C221.4 969.8 209.5 978.7 202.1 985.2C194.7 991.6 185.8 996 178.4 1003C170.9 1009.9 163 1018.3 157.6 1026.7C152.1 1035.1 147.7 1044.5 145.7 1053.4C143.7 1062.3 143.2 1071.2 145.7 1080.1C148.2 1089 153.6 1098.9 160.5 1106.8C167.5 1114.7 176.9 1121.9 187.3 1127.6C197.6 1133.3 211 1139 222.9 1140.9C234.7 1142.9 247.1 1141.7 258.5 1139.5C269.8 1137.2 281.7 1133.5 291.1 1127.6C300.5 1121.6 308.9 1112.7 314.8 1103.8C320.8 1094.9 325.2 1084.1 326.7 1074.2C328.2 1064.3 327.2 1054.4 323.7 1044.5C320.3 1034.6 312.4 1023.2 305.9 1014.8C299.5 1006.4 292.6 1000.5 285.2 994.1C277.7 987.6 267.4 981.2 261.4 976.3C255.5 971.3 250.5 968.8 249.6 964.4C248.6 959.9 251 955 255.5 949.6C259.9 944.1 269.3 937.7 276.3 931.8C283.2 925.8 290.6 920.9 297 914C303.5 907 310.6 898.1 314.8 890.2C319 882.3 322.3 874.9 322.3 866.5C322.3 858.1 319 847.7 314.8 839.8C310.6 831.9 304 824.5 297 819C290.1 813.6 282.2 809.6 273.3 807.1C264.4 804.7 256.5 803.7 243.6 804.2Z"/>
<path class="c b" d="M237.7 832.4C229.3 832.9 218.4 834.6 211 838.3C203.6 842 197.1 848.9 193.2 854.6C189.2 860.3 186.8 866 187.3 872.4C187.7 878.8 191.7 887.3 196.2 893.2C200.6 899.1 207 904.6 214 908C220.9 911.5 229.8 914.5 237.7 914C245.6 913.5 254.5 909 261.4 905.1C268.4 901.1 275.3 896.2 279.2 890.2C283.2 884.3 285.2 876.4 285.2 869.5C285.2 862.5 283.2 854.4 279.2 848.7C275.3 843 268.4 838 261.4 835.3C254.5 832.6 246.1 831.9 237.7 832.4Z"/>
<path class="c b" d="M237.7 1014.8C227.8 1014.1 216.9 1015.8 208 1019.3C199.1 1022.7 190.2 1028.9 184.3 1035.6C178.4 1042.3 173.9 1051.4 172.4 1059.3C170.9 1067.3 172.4 1075.7 175.4 1083.1C178.4 1090.5 183.8 1098.4 190.2 1103.8C196.6 1109.3 205.1 1113.2 214 1115.7C222.9 1118.2 234.2 1119.7 243.6 1118.7C253 1117.7 262.4 1114.7 270.3 1109.8C278.2 1104.8 286.6 1096.4 291.1 1089C295.5 1081.6 297.5 1073.2 297 1065.3C296.5 1057.4 293.1 1048.5 288.1 1041.5C283.2 1034.6 275.8 1028.2 267.4 1023.7C259 1019.3 247.6 1015.6 237.7 1014.8Z"/>
<path class="c b" d="M250.7 1068.2C250.7 1075.9 243.5 1082.2 234.7 1082.2C225.9 1082.2 218.7 1075.9 218.7 1068.2C218.7 1060.5 225.9 1054.2 234.7 1054.2C243.5 1054.2 250.7 1060.5 250.7 1068.2Z"/>
<path class="c o" d="M199.1 961.4C199.1 964.3 198.6 967.4 197.8 970.2C196.9 973.1 195.6 975.9 193.9 978.4C192.3 981 190.1 983.4 187.8 985.5C185.4 987.6 182.7 989.5 179.8 990.9C176.9 992.4 173.7 993.6 170.5 994.3C167.3 995.1 163.8 995.5 160.5 995.5C157.2 995.5 153.7 995.1 150.5 994.3C147.3 993.6 144.1 992.4 141.2 990.9C138.3 989.5 135.6 987.6 133.2 985.5C130.9 983.4 128.7 981 127.1 978.4C125.4 975.9 124.1 973.1 123.2 970.2C122.4 967.4 121.9 964.3 121.9 961.4C121.9 958.5 122.4 955.4 123.2 952.6C124.1 949.7 125.4 946.9 127.1 944.4C128.7 941.8 130.9 939.4 133.2 937.3C135.6 935.2 138.3 933.3 141.2 931.9C144.1 930.4 147.3 929.2 150.5 928.5C153.7 927.7 157.2 927.3 160.5 927.3C163.8 927.3 167.3 927.7 170.5 928.5C173.7 929.2 176.9 930.4 179.8 931.9C182.7 933.3 185.4 935.2 187.8 937.3C190.1 939.4 192.3 941.8 193.9 944.3C195.6 946.9 196.9 949.7 197.8 952.6C198.6 955.4 199.1 958.5 199.1 961.4Z"/>
<path class="c o" d="M218.4 961.4C218.4 965.8 217.7 970.2 216.4 974.4C215.1 978.6 213.1 982.8 210.6 986.6C208.1 990.4 205 994 201.4 997C197.9 1000.1 193.8 1002.9 189.5 1005C185.1 1007.2 180.3 1009 175.5 1010.1C170.7 1011.2 165.5 1011.8 160.5 1011.8C155.5 1011.8 150.3 1011.2 145.5 1010.1C140.7 1009 135.9 1007.2 131.6 1005C127.2 1002.9 123.1 1000.1 119.6 997C116 994 112.9 990.4 110.4 986.6C107.9 982.8 105.9 978.6 104.6 974.4C103.3 970.2 102.6 965.8 102.6 961.4C102.6 957 103.3 952.3 104.6 948C105.9 943.6 107.9 939.3 110.4 935.5C112.9 931.6 116 927.9 119.6 924.7C123.1 921.5 127.2 918.7 131.5 916.5C135.9 914.2 140.7 912.4 145.5 911.3C150.3 910.1 155.5 909.5 160.5 909.5C165.5 909.5 170.7 910.1 175.5 911.3C180.3 912.4 185.1 914.2 189.5 916.5C193.8 918.7 197.9 921.5 201.4 924.7C205 927.9 208.1 931.6 210.6 935.4C213.1 939.3 215.1 943.6 216.4 948C217.7 952.3 218.4 957 218.4 961.4Z"/>
<path class="c o" d="M234.7 961.4C234.7 967.2 233.8 973.1 232.2 978.7C230.5 984.3 228 989.8 224.8 994.8C221.6 999.8 217.5 1004.6 213 1008.6C208.4 1012.7 203.1 1016.4 197.6 1019.3C192.1 1022.1 185.9 1024.4 179.7 1025.9C173.5 1027.4 166.8 1028.2 160.5 1028.2C154.2 1028.2 148 1027.4 142.1 1025.9C136.1 1024.4 130.2 1022.1 124.9 1019.3C119.6 1016.4 114.5 1012.7 110.2 1008.6C105.8 1004.6 101.9 999.8 98.8 994.8C95.8 989.8 93.3 984.3 91.7 978.7C90.1 973.1 89.3 967.2 89.3 961.4C89.3 955.6 90.1 949.4 91.7 943.7C93.3 938.1 95.8 932.4 98.8 927.3C101.9 922.2 105.8 917.3 110.2 913.2C114.5 909 119.6 905.3 124.9 902.3C130.2 899.4 136.1 897 142.1 895.5C148 894 154.2 893.2 160.5 893.2C166.8 893.2 173.5 894 179.7 895.5C185.9 897 192.1 899.4 197.6 902.3C203.1 905.3 208.4 909 213 913.2C217.5 917.3 221.6 922.2 224.8 927.3C228 932.4 230.5 938.1 232.2 943.7C233.8 949.4 234.7 955.6 234.7 961.4Z"/>
<path class="c o" d="M249.5 961.4C249.5 968.4 248.5 975.5 246.5 982.1C244.5 988.8 241.4 995.5 237.6 1001.4C233.7 1007.4 228.9 1013.2 223.4 1018C218 1022.9 211.6 1027.3 205 1030.8C198.4 1034.2 191 1037 183.5 1038.8C176.1 1040.6 168 1041.5 160.5 1041.5C153 1041.5 145.7 1040.6 138.6 1038.8C131.6 1037 124.5 1034.2 118.2 1030.8C111.9 1027.3 105.8 1022.9 100.7 1018C95.5 1013.2 90.9 1007.4 87.2 1001.4C83.6 995.5 80.7 988.8 78.8 982.1C76.9 975.5 75.9 968.4 75.9 961.4C75.9 954.4 76.9 947.1 78.8 940.3C80.7 933.5 83.6 926.7 87.2 920.6C90.9 914.5 95.5 908.7 100.7 903.7C105.8 898.7 111.9 894.3 118.2 890.7C124.5 887.2 131.6 884.4 138.6 882.6C145.7 880.8 153 879.8 160.5 879.8C168 879.8 176.1 880.8 183.5 882.6C191 884.4 198.4 887.2 205 890.7C211.6 894.3 218 898.7 223.4 903.7C228.9 908.7 233.7 914.5 237.6 920.6C241.4 926.7 244.5 933.5 246.5 940.3C248.5 947.1 249.5 954.4 249.5 961.4Z"/>
<path class="c o" d="M264.3 961.4C264.3 969.6 263.1 977.8 260.8 985.6C258.4 993.4 254.9 1001.2 250.4 1008.1C245.9 1015.1 240.2 1021.8 233.9 1027.5C227.6 1033.2 220.2 1038.3 212.4 1042.4C204.6 1046.4 196 1049.6 187.4 1051.7C178.7 1053.8 169.2 1054.9 160.5 1054.9C151.8 1054.9 143.3 1053.8 135.2 1051.7C127 1049.6 118.9 1046.4 111.6 1042.4C104.2 1038.3 97.2 1033.2 91.3 1027.5C85.3 1021.8 79.9 1015.1 75.7 1008.1C71.5 1001.2 68.1 993.4 65.9 985.6C63.7 977.8 62.6 969.6 62.6 961.4C62.6 953.2 63.7 944.5 65.9 936.4C68.1 928.4 71.5 920.4 75.7 913.2C79.9 906 85.3 899.1 91.3 893.2C97.2 887.4 104.2 882.1 111.5 877.9C118.9 873.8 127 870.4 135.2 868.3C143.3 866.1 151.8 865 160.5 865C169.2 865 178.7 866.1 187.4 868.3C196 870.4 204.6 873.8 212.4 877.9C220.2 882.1 227.6 887.4 233.9 893.2C240.2 899.1 245.9 906 250.4 913.2C254.9 920.4 258.4 928.4 260.8 936.4C263.1 944.5 264.3 953.2 264.3 961.4Z"/>
<path class="c o" d="M279.2 961.4C279.2 970.7 277.8 980.1 275.2 989C272.5 997.9 268.4 1006.8 263.3 1014.8C258.2 1022.8 251.7 1030.4 244.4 1036.9C237.2 1043.4 228.7 1049.3 219.9 1053.9C211 1058.5 201.1 1062.2 191.2 1064.6C181.3 1066.9 170.4 1068.2 160.5 1068.2C150.6 1068.2 141 1066.9 131.7 1064.6C122.4 1062.2 113.2 1058.5 104.9 1053.9C96.5 1049.3 88.6 1043.4 81.8 1036.9C75 1030.4 68.9 1022.8 64.1 1014.8C59.3 1006.8 55.5 997.9 53 989C50.5 980.1 49.2 970.7 49.2 961.4C49.2 952.1 50.5 942.1 53 933C55.5 923.8 59.3 914.7 64.1 906.5C68.9 898.3 75 890.5 81.8 883.8C88.6 877.1 96.5 871 104.8 866.3C113.2 861.6 122.4 857.8 131.7 855.3C141 852.9 150.6 851.6 160.5 851.6C170.4 851.6 181.3 852.9 191.2 855.3C201.1 857.8 211 861.6 219.9 866.3C228.7 871 237.2 877.1 244.4 883.8C251.7 890.5 258.2 898.3 263.3 906.5C268.4 914.7 272.5 923.8 275.2 933C277.8 942.1 279.2 952.1 279.2 961.4Z"/>
<path class="c o" d="M295.5 961.4C295.5 971.9 293.9 982.5 290.9 992.5C287.9 1002.5 283.2 1012.5 277.4 1021.5C271.6 1030.5 264.2 1039.1 256 1046.4C247.7 1053.7 238.1 1060.3 228 1065.5C217.9 1070.7 206.7 1074.8 195.4 1077.5C184.2 1080.2 171.7 1081.6 160.5 1081.6C149.3 1081.6 138.6 1080.2 128.3 1077.5C117.9 1074.8 107.5 1070.7 98.2 1065.5C88.9 1060.3 80 1053.7 72.4 1046.4C64.8 1039.1 58 1030.5 52.6 1021.5C47.2 1012.5 42.9 1002.5 40.1 992.5C37.4 982.5 35.9 971.9 35.9 961.4C35.9 950.9 37.4 939.8 40.1 929.5C42.9 919.3 47.2 909 52.6 899.9C58 890.7 64.8 881.9 72.4 874.4C80 866.8 88.9 860.1 98.2 854.8C107.5 849.5 117.9 845.2 128.3 842.5C138.6 839.7 149.3 838.3 160.5 838.3C171.7 838.3 184.2 839.7 195.4 842.5C206.7 845.2 217.9 849.5 228 854.8C238.1 860.1 247.7 866.8 256 874.4C264.2 881.9 271.6 890.7 277.4 899.8C283.2 909 287.9 919.3 290.9 929.5C293.9 939.8 295.5 950.9 295.5 961.4Z"/>
<path class="c o" d="M314.8 961.4C314.8 973.1 313 985.1 309.5 996.3C306.1 1007.6 300.8 1018.8 294.1 1028.9C287.5 1039 279 1048.6 269.6 1056.9C260.2 1065.1 249.2 1072.5 237.7 1078.3C226.1 1084.1 213.3 1088.8 200.4 1091.8C187.6 1094.8 173.2 1096.4 160.5 1096.4C147.8 1096.4 136 1094.8 124.4 1091.8C112.8 1088.8 101.2 1084.1 90.8 1078.3C80.3 1072.5 70.4 1065.1 61.9 1056.9C53.3 1048.6 45.7 1039 39.7 1028.9C33.7 1018.8 28.9 1007.6 25.8 996.3C22.6 985.1 21 973.1 21 961.4C21 949.7 22.6 937.4 25.8 926.1C28.9 914.7 33.7 903.3 39.7 893.1C45.7 883 53.3 873.2 61.9 864.9C70.4 856.6 80.3 849.1 90.7 843.2C101.2 837.3 112.8 832.6 124.4 829.6C136 826.5 147.8 824.9 160.5 824.9C173.2 824.9 187.6 826.5 200.4 829.6C213.3 832.6 226.1 837.3 237.7 843.2C249.2 849.1 260.2 856.6 269.6 864.9C279 873.2 287.5 883 294.1 893.1C300.8 903.3 306.1 914.7 309.5 926.1C313 937.4 314.8 949.7 314.8 961.4Z"/>
<path class="c o" d="M344.5 961.4C344.5 974.8 342.3 988.5 338.2 1001.3C334.1 1014.2 327.8 1027 319.8 1038.5C311.9 1050.1 301.8 1061.1 290.6 1070.5C279.4 1079.9 266.2 1088.4 252.5 1095C238.8 1101.7 223.5 1107 208.1 1110.4C192.8 1113.9 175.3 1115.7 160.5 1115.7C145.7 1115.7 132.4 1113.9 119.1 1110.4C105.8 1107 92.5 1101.7 80.5 1095C68.5 1088.4 57.1 1079.9 47.4 1070.5C37.6 1061.1 28.8 1050.1 21.9 1038.5C15 1027 9.5 1014.2 6 1001.3C2.4 988.5 0.5 974.8 0.5 961.4C0.5 948 2.4 934.1 6 921.1C9.5 908.1 15 895.1 21.9 883.5C28.8 871.9 37.6 860.7 47.4 851.2C57.1 841.7 68.5 833.2 80.5 826.5C92.5 819.8 105.8 814.4 119.1 810.9C132.4 807.4 145.7 805.6 160.5 805.6C175.3 805.6 192.8 807.4 208.1 810.9C223.5 814.4 238.8 819.8 252.5 826.5C266.2 833.2 279.4 841.7 290.6 851.2C301.8 860.7 311.9 871.9 319.8 883.5C327.8 895.1 334.1 908.1 338.2 921.1C342.3 934.1 344.5 948 344.5 961.4Z"/>
<path class="c o" d="M391.9 961.4C391.9 977.5 389.2 994.5 384 1010.2C378.8 1025.9 370.9 1041.5 360.9 1055.6C350.9 1069.7 338.2 1083.1 324.1 1094.6C310 1106.1 293.5 1116.4 276.2 1124.6C258.9 1132.7 239.7 1139.2 220.4 1143.4C201.1 1147.6 178.8 1149.8 160.5 1149.8C142.2 1149.8 126.6 1147.6 110.5 1143.4C94.5 1139.2 78.4 1132.7 64 1124.6C49.6 1116.4 35.8 1106.1 24 1094.6C12.3 1083.1 1.7 1069.7 -6.6 1055.6C-15 1041.5 -21.6 1025.9 -25.9 1010.2C-30.2 994.5 -32.5 977.5 -32.5 961.4C-32.5 945.3 -30.2 929.1 -25.9 913.8C-21.6 898.4 -15 883.1 -6.6 869.4C1.7 855.7 12.3 842.5 24 831.3C35.8 820.1 49.6 810 64 802.1C78.4 794.1 94.5 787.8 110.5 783.7C126.6 779.6 142.2 777.4 160.5 777.4C178.8 777.4 201.1 779.6 220.4 783.7C239.7 787.8 258.9 794.1 276.2 802.1C293.5 810 310 820.1 324.1 831.3C338.2 842.5 350.9 855.7 360.9 869.4C370.9 883.1 378.8 898.4 384 913.8C389.2 929.1 391.9 945.3 391.9 961.4Z"/>
</g></g>
<g id="p11" clip-path="url(#cp11)"><g transform="scale(1.0 1)">
<path class="c b" d="M634 965.9C634 956.5 624.2 946.3 619.2 937.7C614.3 929 609.3 921.9 604.4 914C599.4 906 593.2 897.6 589.5 890.2C585.8 882.8 582.6 876.9 582.1 869.5C581.6 862 582.4 855.6 586.6 845.7C590.8 835.8 597.9 821.5 607.3 810.1C616.7 798.7 629.1 786.9 642.9 777.5C656.8 768.1 674.1 759.4 690.4 753.7C706.7 748 723.5 745.3 740.9 743.4C758.2 741.4 777 740.6 794.3 741.9C811.6 743.1 828.4 746.3 844.7 750.8C861 755.2 877.8 761.2 892.2 768.6C906.5 776 920.4 786.4 930.7 795.3C941.1 804.2 948.8 813.1 954.5 822C960.2 830.9 963.9 839.3 964.9 848.7C965.9 858.1 963.6 869 960.4 878.4C957.2 887.7 952 897.6 945.6 905.1C939.2 912.5 930.7 917.4 921.8 922.9C912.9 928.3 902.1 933.2 892.2 937.7C882.3 942.1 870.9 945.9 862.5 949.6C854.1 953.3 845.4 957.2 841.7 959.9C838 962.7 840.3 963.9 840.3 965.9C840.3 967.9 838 969.1 841.7 971.8C845.4 974.5 854.1 978.5 862.5 982.2C870.9 985.9 882.3 989.6 892.2 994.1C902.1 998.5 912.9 1003.5 921.8 1008.9C930.7 1014.3 939.2 1019.3 945.6 1026.7C952 1034.1 957.2 1044 960.4 1053.4C963.6 1062.8 965.9 1073.7 964.9 1083.1C963.9 1092.5 960.2 1100.9 954.5 1109.8C948.8 1118.7 941.1 1127.6 930.7 1136.5C920.4 1145.4 906.5 1155.8 892.2 1163.2C877.8 1170.6 861 1176.5 844.7 1181C828.4 1185.4 811.6 1188.7 794.3 1189.9C777 1191.1 758.2 1190.4 740.9 1188.4C723.5 1186.4 706.7 1183.7 690.4 1178C674.1 1172.3 656.8 1163.7 642.9 1154.3C629.1 1144.9 616.7 1133 607.3 1121.6C597.9 1110.3 590.8 1095.9 586.6 1086C582.4 1076.2 581.6 1069.7 582.1 1062.3C582.6 1054.9 585.8 1049 589.5 1041.5C593.2 1034.1 599.4 1025.7 604.4 1017.8C609.3 1009.9 614.3 1002.7 619.2 994.1C624.2 985.4 634 975.3 634 965.9Z"/>
<path class="c b" d="M645.9 878.4C644.9 869.9 645.4 859.1 648.9 848.7C652.3 838.3 658.8 825.4 666.7 816C674.6 806.6 685.5 798.2 696.4 792.3C707.2 786.4 719.1 782.9 732 780.4C744.8 778 759.6 776.5 773.5 777.5C787.3 778.5 802.2 782.4 815 786.4C827.9 790.3 840.7 795.8 850.6 801.2C860.5 806.6 868.4 812.1 874.4 819C880.3 825.9 884.8 834.8 886.2 842.7C887.7 850.7 885.7 858.6 883.3 866.5C880.8 874.4 877.3 883.3 871.4 890.2C865.5 897.1 857.1 902.6 847.7 908C838.3 913.5 825.4 918.4 815 922.9C804.6 927.3 795.3 931.4 785.4 934.7C775.5 938.1 765.6 941.8 755.7 943C745.8 944.3 735.9 943.5 726 942.1C716.1 940.8 705.3 938.4 696.4 934.7C687.5 931 679.5 925.8 672.6 919.9C665.7 914 659.3 906 654.8 899.1C650.4 892.2 646.9 886.8 645.9 878.4Z"/>
<path class="c b" d="M645.9 1053.4C644.9 1061.8 645.4 1072.7 648.9 1083.1C652.3 1093.5 658.8 1106.3 666.7 1115.7C674.6 1125.1 685.5 1133.5 696.4 1139.5C707.2 1145.4 719.1 1148.8 732 1151.3C744.8 1153.8 759.6 1155.3 773.5 1154.3C787.3 1153.3 802.2 1149.3 815 1145.4C827.9 1141.4 840.7 1136 850.6 1130.5C860.5 1125.1 868.4 1119.7 874.4 1112.7C880.3 1105.8 884.8 1096.9 886.2 1089C887.7 1081.1 885.7 1073.2 883.3 1065.3C880.8 1057.4 877.3 1048.5 871.4 1041.5C865.5 1034.6 857.1 1029.2 847.7 1023.7C838.3 1018.3 825.4 1013.4 815 1008.9C804.6 1004.5 795.3 1000.4 785.4 997C775.5 993.7 765.6 990 755.7 988.7C745.8 987.5 735.9 988.2 726 989.6C716.1 991 705.3 993.3 696.4 997C687.5 1000.7 679.5 1005.9 672.6 1011.9C665.7 1017.8 659.3 1025.7 654.8 1032.6C650.4 1039.6 646.9 1045 645.9 1053.4Z"/>
<path class="c b" d="M737.9 814.6C731.5 816.3 722.1 821.2 717.1 827.9C712.2 834.6 709.2 846.2 708.2 854.6C707.2 863 708.2 870.9 711.2 878.4C714.2 885.8 720.1 894.7 726 899.1C732 903.6 739.9 905.5 746.8 905.1C753.7 904.6 762.4 901.1 767.6 896.2C772.8 891.2 776 882.3 777.9 875.4C779.9 868.5 780.7 862 779.4 854.6C778.2 847.2 774.5 837.1 770.5 830.9C766.6 824.7 761.1 820.2 755.7 817.5C750.3 814.8 744.3 812.8 737.9 814.6Z"/>
<path class="c b" d="M737.9 1118.7C731.5 1117 722.1 1112 717.1 1105.3C712.2 1098.7 709.2 1087 708.2 1078.6C707.2 1070.2 708.2 1062.3 711.2 1054.9C714.2 1047.5 720.1 1038.6 726 1034.1C732 1029.7 739.9 1027.7 746.8 1028.2C753.7 1028.7 762.4 1032.1 767.6 1037.1C772.8 1042 776 1050.9 777.9 1057.9C779.9 1064.8 780.7 1071.2 779.4 1078.6C778.2 1086 774.5 1096.2 770.5 1102.4C766.6 1108.5 761.1 1113 755.7 1115.7C750.3 1118.4 744.3 1120.4 737.9 1118.7Z"/>
<path class="c o" d="M536.1 827.9C540.1 825.9 548 822.5 559.9 816C571.7 809.6 591 796 607.3 789.3C623.7 782.7 643.9 777.2 657.8 776C671.6 774.8 681 778.7 690.4 781.9C699.8 785.1 703.3 789.1 714.2 795.3C725 801.5 738.9 812.1 755.7 819C772.5 825.9 797.7 829.9 815 836.8C832.3 843.7 848.2 851.6 859.5 860.5C870.9 869.5 878.3 879.8 883.3 890.2C888.2 900.6 887.2 913 889.2 922.9C891.2 932.7 892.2 942.1 895.1 949.6C898.1 957 907.3 961.4 907 967.4C906.8 973.3 896.6 977.7 893.7 985.2C890.7 992.6 891.4 1002 889.2 1011.9C887 1021.8 885.7 1034.6 880.3 1044.5C874.9 1054.4 867.5 1062.8 856.6 1071.2C845.7 1079.6 829.4 1088 815 1094.9C800.7 1101.9 782.9 1106.8 770.5 1112.7C758.2 1118.7 751.2 1124.1 740.9 1130.5C730.5 1137 720.6 1146.6 708.2 1151.3C695.9 1156 681 1159.7 666.7 1158.7C652.3 1157.7 635.5 1151.1 622.2 1145.4C608.8 1139.7 597 1130.1 586.6 1124.6C576.2 1119.2 568.3 1116.7 559.9 1112.7C551.5 1108.8 540.1 1102.9 536.1 1100.9"/>
<path class="c o" d="M701.4 965.9C701.4 966.4 701.1 966.7 700.5 967.3C700 968 699.1 968.8 698 969.7C696.9 970.5 695.5 971.4 694 972.3C692.5 973.2 690.8 974.1 689 974.9C687.2 975.8 685.2 976.6 683.3 977.3C681.4 978 679.4 978.6 677.7 979.1C675.9 979.6 674 980 672.7 980.3C671.3 980.6 670.7 980.7 669.6 980.7C668.5 980.7 667.3 980.6 665.9 980.3C664.5 980.1 662.7 979.8 661 979.3C659.3 978.9 657.5 978.3 655.9 977.7C654.2 977 652.6 976.3 651.1 975.5C649.6 974.7 648.1 973.9 646.9 973C645.7 972.1 644.6 971.2 643.7 970.4C642.8 969.5 642.1 968.6 641.7 967.8C641.2 967.1 641 966.5 641 965.9C641 965.3 641.2 964.7 641.7 964C642.1 963.2 642.8 962.3 643.7 961.4C644.6 960.6 645.7 959.7 646.9 958.8C648.1 957.9 649.6 957.1 651.1 956.3C652.6 955.5 654.2 954.8 655.9 954.1C657.5 953.5 659.3 952.9 661 952.5C662.7 952 664.5 951.7 665.9 951.5C667.3 951.2 668.5 951.1 669.6 951.1C670.7 951.1 671.3 951.2 672.7 951.5C674 951.8 675.9 952.2 677.7 952.7C679.4 953.2 681.4 953.8 683.3 954.5C685.2 955.2 687.2 956 689 956.9C690.8 957.7 692.5 958.6 694 959.5C695.5 960.4 696.9 961.3 698 962.1C699.1 963 700 963.8 700.5 964.5C701.1 965.1 701.4 965.4 701.4 965.9Z"/>
<path class="c o" d="M741.9 965.9C741.9 966.9 741.2 967.6 739.9 968.9C738.5 970.3 736.4 972.2 733.9 974.1C731.4 976 728.1 978.1 724.6 980.1C721.1 982.2 717 984.3 712.9 986.2C708.7 988.2 704.2 990.1 699.9 991.8C695.6 993.4 691 994.9 687 996.1C683 997.3 678.9 998.3 676 998.9C673.1 999.6 672 999.8 669.6 999.9C667.2 1000 664.3 999.7 661.7 999.2C659.1 998.8 656.6 998.2 654.1 997.3C651.7 996.5 649.3 995.4 647.2 994.2C645 992.9 642.9 991.5 641 989.9C639.2 988.4 637.5 986.6 636 984.8C634.5 983 633.3 981 632.3 978.9C631.3 976.9 630.5 974.7 630 972.5C629.5 970.4 629.2 968.1 629.2 965.9C629.2 963.7 629.5 961.6 630 959.5C630.5 957.5 631.3 955.4 632.3 953.4C633.3 951.5 634.5 949.6 636 947.8C637.5 946 639.2 944.3 641 942.8C642.9 941.3 645 940 647.2 938.8C649.3 937.6 651.7 936.6 654.1 935.8C656.6 935 659.1 934.3 661.7 933.9C664.3 933.5 667.2 933.3 669.6 933.3C672 933.3 673.1 933.6 676 934.2C678.9 934.8 683 935.8 687 936.9C691 938.1 695.6 939.5 699.9 941.1C704.2 942.7 708.7 944.5 712.9 946.4C717 948.3 721.1 950.3 724.6 952.3C728.1 954.2 731.4 956.3 733.9 958C736.4 959.8 738.5 961.7 739.9 963C741.2 964.3 741.9 964.9 741.9 965.9Z"/>
<path class="c o" d="M755.8 965.9C755.8 967.8 755 969.3 753.6 971.6C752.2 973.9 749.9 977 747.2 979.9C744.4 982.8 740.9 986 737 988.9C733.1 991.9 728.6 994.9 723.9 997.7C719.2 1000.4 714 1003 709 1005.3C703.9 1007.6 698.5 1009.6 693.5 1011.3C688.6 1012.9 683.3 1014.2 679.4 1015C675.4 1015.9 673 1016.2 669.6 1016.3C666.2 1016.4 662.5 1016 659 1015.3C655.5 1014.7 652.1 1013.7 648.8 1012.5C645.6 1011.2 642.4 1009.6 639.4 1007.8C636.5 1006 633.7 1003.9 631.2 1001.5C628.7 999.2 626.4 996.6 624.5 993.9C622.5 991.2 620.8 988.2 619.4 985.2C618.1 982.2 617 978.9 616.3 975.7C615.7 972.5 615.3 969.1 615.3 965.9C615.3 962.7 615.7 959.5 616.3 956.3C617 953.2 618.1 950.1 619.4 947.1C620.8 944.2 622.5 941.3 624.5 938.7C626.4 936 628.7 933.5 631.2 931.3C633.7 929 636.5 926.9 639.4 925.2C642.4 923.4 645.6 921.8 648.8 920.6C652.1 919.4 655.5 918.5 659 917.8C662.5 917.2 666.2 916.8 669.6 916.9C673 917 675.4 917.3 679.4 918.2C683.3 919 688.6 920.2 693.5 921.8C698.5 923.4 703.9 925.4 709 927.6C714 929.8 719.2 932.4 723.9 935C728.6 937.7 733.1 940.6 737 943.5C740.9 946.4 744.4 949.5 747.2 952.3C749.9 955.1 752.2 958.1 753.6 960.4C755 962.6 755.8 964 755.8 965.9Z"/>
<path class="c o" d="M769.6 965.9C769.6 968.7 768.8 971.1 767.2 974.4C765.6 977.6 763.2 981.7 760.2 985.6C757.1 989.4 753.3 993.4 749 997.2C744.7 1001 739.7 1004.8 734.4 1008.2C729.2 1011.7 723.4 1014.9 717.6 1017.7C711.8 1020.5 705.5 1023.1 699.7 1025C693.9 1027 687.6 1028.6 682.6 1029.6C677.5 1030.7 673.9 1031.1 669.6 1031.2C665.3 1031.3 660.8 1030.8 656.5 1029.9C652.2 1029.1 648 1027.9 643.9 1026.2C639.9 1024.6 635.9 1022.6 632.3 1020.2C628.7 1017.8 625.2 1015.1 622.2 1012.1C619.1 1009.1 616.2 1005.7 613.8 1002.2C611.4 998.6 609.3 994.8 607.6 990.9C605.9 987 604.6 982.8 603.8 978.6C602.9 974.5 602.5 970.1 602.5 965.9C602.5 961.7 602.9 957.5 603.8 953.5C604.6 949.4 605.9 945.3 607.6 941.5C609.3 937.7 611.4 933.9 613.8 930.5C616.2 927 619.1 923.7 622.2 920.8C625.2 917.9 628.7 915.2 632.3 912.9C635.9 910.5 639.9 908.5 643.9 907C648 905.4 652.2 904.1 656.5 903.3C660.8 902.5 665.3 902 669.6 902.1C673.9 902.2 677.5 902.6 682.6 903.6C687.6 904.6 693.9 906.2 699.7 908.1C705.5 910 711.8 912.5 717.6 915.2C723.4 918 729.2 921.2 734.4 924.5C739.7 927.9 744.7 931.6 749 935.3C753.3 939 757.1 943 760.2 946.7C763.2 950.4 765.6 954.4 767.2 957.6C768.8 960.8 769.6 963.1 769.6 965.9Z"/>
<path class="c o" d="M782.5 965.9C782.5 969.7 781.6 973.2 780 977.4C778.3 981.6 775.7 986.6 772.5 991.3C769.2 995.9 765.1 1000.8 760.5 1005.3C755.8 1009.7 750.4 1014.2 744.7 1018.2C739 1022.2 732.6 1025.9 726.1 1029.2C719.7 1032.4 712.7 1035.2 706.1 1037.5C699.4 1039.8 692.2 1041.6 686.1 1042.7C680 1043.9 674.8 1044.5 669.6 1044.5C664.4 1044.5 659.9 1044 654.9 1042.9C649.9 1041.9 644.7 1040.3 639.8 1038.2C634.9 1036.2 629.9 1033.6 625.4 1030.6C620.9 1027.7 616.6 1024.2 612.7 1020.5C608.8 1016.7 605.2 1012.6 602.1 1008.2C599 1003.9 596.3 999.2 594.2 994.5C592 989.8 590.4 984.7 589.3 980C588.2 975.2 587.6 970.5 587.6 965.9C587.6 961.3 588.2 956.8 589.3 952.1C590.4 947.4 592 942.5 594.2 937.8C596.3 933.2 599 928.6 602.1 924.4C605.2 920.1 608.8 916 612.7 912.4C616.6 908.7 620.9 905.3 625.4 902.4C629.9 899.5 634.9 897 639.8 895C644.7 893 649.9 891.4 654.9 890.4C659.9 889.3 664.4 888.8 669.6 888.8C674.8 888.8 680 889.4 686.1 890.5C692.2 891.7 699.4 893.4 706.1 895.7C712.7 897.9 719.7 900.7 726.1 903.8C732.6 907 739 910.7 744.7 914.6C750.4 918.5 755.8 922.9 760.5 927.3C765.1 931.7 769.2 936.4 772.5 941C775.7 945.6 778.3 950.5 780 954.6C781.6 958.8 782.5 962.1 782.5 965.9Z"/>
<path class="c o" d="M795.3 965.9C795.3 971 794.4 975.8 792.6 981.1C790.9 986.5 788.2 992.5 784.7 998.1C781.3 1003.6 776.9 1009.3 772 1014.6C767.1 1019.8 761.3 1024.9 755.1 1029.5C749 1034.1 742.1 1038.4 735 1042.1C728 1045.7 720.3 1049 712.8 1051.5C705.3 1054.1 697.3 1056.1 690.1 1057.4C682.8 1058.7 676.1 1059.4 669.6 1059.4C663.1 1059.4 657.3 1058.8 651.3 1057.6C645.3 1056.4 639.3 1054.6 633.7 1052.3C628.1 1050 622.6 1047 617.5 1043.6C612.4 1040.3 607.6 1036.3 603.3 1032C599 1027.7 595 1022.9 591.6 1017.8C588.2 1012.8 585.3 1007.3 582.9 1001.7C580.6 996.1 578.8 990.1 577.6 984.1C576.4 978.2 575.8 972 575.8 965.9C575.8 959.8 576.4 953.6 577.6 947.7C578.8 941.7 580.6 935.7 582.9 930.1C585.3 924.5 588.2 919 591.6 914C595 908.9 599 904.1 603.3 899.8C607.6 895.5 612.4 891.5 617.5 888.2C622.6 884.8 628.1 881.8 633.7 879.5C639.3 877.2 645.3 875.4 651.3 874.2C657.3 873 663.1 872.4 669.6 872.4C676.1 872.4 682.8 873.1 690.1 874.4C697.3 875.7 705.3 877.7 712.8 880.3C720.3 882.8 728 886.1 735 889.7C742.1 893.4 749 897.7 755.1 902.3C761.3 906.9 767.1 912 772 917.2C776.9 922.5 781.3 928.2 784.7 933.7C788.2 939.3 790.9 945.3 792.6 950.7C794.4 956 795.3 960.8 795.3 965.9Z"/>
<path class="c o" d="M806.2 965.9C806.2 971.8 805.2 977.3 803.3 983.5C801.4 989.7 798.4 996.7 794.7 1003.1C791 1009.6 786.2 1016.2 780.9 1022.3C775.5 1028.3 769.2 1034.3 762.5 1039.6C755.8 1044.9 748.4 1049.9 740.7 1054.1C733 1058.4 724.7 1062.1 716.6 1065.1C708.4 1068 699.7 1070.4 691.8 1071.9C684 1073.4 676.7 1074.2 669.6 1074.2C662.5 1074.2 655.7 1073.5 649 1072.1C642.2 1070.7 635.5 1068.7 629.2 1066C622.8 1063.3 616.6 1059.9 610.9 1055.9C605.2 1052 599.7 1047.5 594.9 1042.5C590 1037.5 585.5 1031.9 581.7 1026.1C577.9 1020.2 574.6 1013.9 571.9 1007.3C569.3 1000.8 567.3 993.9 565.9 987C564.6 980.1 563.9 972.9 563.9 965.9C563.9 958.9 564.6 951.7 565.9 944.8C567.3 937.9 569.3 931 571.9 924.5C574.6 917.9 577.9 911.6 581.7 905.7C585.5 899.9 590 894.3 594.9 889.3C599.7 884.3 605.2 879.8 610.9 875.9C616.6 871.9 622.8 868.5 629.2 865.8C635.5 863.1 642.2 861.1 649 859.7C655.7 858.3 662.5 857.6 669.6 857.6C676.7 857.6 684 858.4 691.8 859.9C699.7 861.4 708.4 863.8 716.6 866.7C724.7 869.7 733 873.4 740.7 877.7C748.4 881.9 755.8 886.9 762.5 892.2C769.2 897.5 775.5 903.5 780.9 909.5C786.2 915.6 791 922.2 794.7 928.7C798.4 935.1 801.4 942.1 803.3 948.3C805.2 954.5 806.2 960 806.2 965.9Z"/>
<path class="c o" d="M829.9 965.9C829.9 970.5 828.5 974 825.8 979.7C823.1 985.3 819 992.7 813.8 999.7C808.7 1006.6 802.1 1014.3 794.9 1021.4C787.7 1028.6 779.3 1035.9 770.6 1042.5C761.9 1049.1 752.2 1055.5 742.8 1061C733.4 1066.4 723.3 1071.4 714.1 1075.3C705 1079.2 695.2 1082.4 687.7 1084.4C680.3 1086.4 676.5 1087.4 669.6 1087.5C662.7 1087.6 654.1 1086.7 646.6 1085.2C639.1 1083.6 631.5 1081.3 624.4 1078.2C617.4 1075.2 610.4 1071.4 604 1067C597.7 1062.6 591.6 1057.5 586.2 1051.9C580.7 1046.3 575.7 1040 571.5 1033.5C567.2 1026.9 563.5 1019.7 560.6 1012.4C557.6 1005.1 555.4 997.4 553.9 989.6C552.4 981.9 551.6 973.8 551.6 965.9C551.6 958 552.4 949.9 553.9 942.2C555.4 934.4 557.6 926.7 560.6 919.4C563.5 912.1 567.2 904.9 571.5 898.3C575.7 891.8 580.7 885.5 586.2 879.9C591.6 874.3 597.7 869.2 604 864.8C610.4 860.4 617.4 856.6 624.4 853.6C631.5 850.5 639.1 848.2 646.6 846.6C654.1 845.1 662.7 844.2 669.6 844.3C676.5 844.4 680.3 845.4 687.7 847.4C695.2 849.4 705 852.6 714.1 856.5C723.3 860.4 733.4 865.4 742.8 870.8C752.2 876.3 761.9 882.7 770.6 889.3C779.3 895.9 787.7 903.2 794.9 910.4C802.1 917.5 808.7 925.2 813.8 932.1C819 939.1 823.1 946.5 825.8 952.1C828.5 957.8 829.9 961.3 829.9 965.9Z"/>
<path class="c o" d="M851.7 965.9C851.7 973.2 850.4 980.1 847.8 987.9C845.3 995.6 841.3 1004.3 836.4 1012.3C831.4 1020.4 825.1 1028.6 817.9 1036.2C810.8 1043.7 802.4 1051.1 793.5 1057.8C784.6 1064.4 774.6 1070.6 764.4 1075.9C754.2 1081.2 743.1 1085.8 732.2 1089.5C721.4 1093.2 709.7 1096.1 699.2 1098C688.8 1099.9 678.8 1100.9 669.6 1100.9C660.4 1100.9 652.5 1100 644.2 1098.3C635.9 1096.6 627.7 1094 619.9 1090.6C612 1087.3 604.4 1083 597.4 1078.1C590.3 1073.3 583.7 1067.6 577.7 1061.4C571.7 1055.2 566.2 1048.2 561.5 1040.9C556.8 1033.6 552.7 1025.7 549.5 1017.6C546.3 1009.5 543.7 1000.8 542.1 992.2C540.4 983.6 539.6 974.7 539.6 965.9C539.6 957.1 540.4 948.2 542.1 939.6C543.7 931 546.3 922.3 549.5 914.2C552.7 906.1 556.8 898.2 561.5 890.9C566.2 883.6 571.7 876.6 577.7 870.4C583.7 864.2 590.3 858.5 597.4 853.7C604.4 848.8 612 844.5 619.9 841.2C627.7 837.8 635.9 835.2 644.2 833.5C652.5 831.8 660.4 830.9 669.6 830.9C678.8 830.9 688.8 831.9 699.2 833.8C709.7 835.7 721.4 838.6 732.2 842.3C743.1 846 754.2 850.6 764.4 855.9C774.6 861.2 784.6 867.4 793.5 874C802.4 880.7 810.8 888.1 817.9 895.6C825.1 903.2 831.4 911.4 836.4 919.5C841.3 927.5 845.3 936.2 847.8 943.9C850.4 951.7 851.7 958.6 851.7 965.9Z"/>
<path class="c o" d="M875.4 965.9C875.4 975.5 874.1 985.4 871.4 994.9C868.8 1004.3 864.9 1013.8 859.7 1022.7C854.6 1031.6 848.2 1040.3 840.7 1048.3C833.3 1056.4 824.6 1064 815.1 1070.8C805.7 1077.7 795.1 1083.9 783.9 1089.3C772.8 1094.7 760.7 1099.3 748.4 1103C736 1106.7 722.9 1109.6 709.7 1111.4C696.6 1113.3 680.9 1114.3 669.6 1114.3C658.3 1114.3 650.8 1113.3 641.7 1111.4C632.6 1109.6 623.5 1106.7 614.9 1103C606.3 1099.3 597.9 1094.7 590.2 1089.3C582.4 1083.9 575.1 1077.7 568.5 1070.8C561.9 1064 555.9 1056.4 550.7 1048.3C545.5 1040.3 541 1031.6 537.5 1022.7C533.9 1013.8 531.2 1004.3 529.3 994.9C527.5 985.4 526.6 975.5 526.6 965.9C526.6 956.3 527.5 946.6 529.3 937.2C531.2 927.9 533.9 918.5 537.5 909.7C541 900.9 545.5 892.2 550.7 884.3C555.9 876.3 561.9 868.8 568.5 862C575.1 855.3 582.4 849.1 590.2 843.8C597.9 838.4 606.3 833.8 614.9 830.2C623.5 826.5 632.6 823.7 641.7 821.8C650.8 820 658.3 819 669.6 819C680.9 819 696.6 820 709.7 821.8C722.9 823.7 736 826.5 748.4 830.2C760.7 833.8 772.8 838.4 783.9 843.8C795.1 849.1 805.7 855.3 815.1 862C824.6 868.8 833.3 876.3 840.7 884.3C848.2 892.2 854.6 900.9 859.7 909.7C864.9 918.5 868.8 927.9 871.4 937.2C874.1 946.6 875.4 956.3 875.4 965.9Z"/>
</g></g>
<g id="p12" clip-path="url(#cp12)"><g transform="scale(1.0 1)">
<path class="c b" d="M1298.4 761.2C1282.6 761.9 1261.3 763.9 1245 768.6C1228.7 773.3 1213.4 779.9 1200.5 789.3C1187.7 798.7 1176.3 812.1 1167.9 824.9C1159.5 837.8 1153.8 852.6 1150.1 866.5C1146.4 880.3 1145.1 895.2 1145.6 908C1146.1 920.9 1151.3 933.7 1153 943.6C1154.8 953.5 1157 957.5 1156 967.4C1155 977.3 1150.3 990.6 1147.1 1003C1143.9 1015.3 1138 1028.7 1136.7 1041.5C1135.5 1054.4 1136.5 1067.7 1139.7 1080.1C1142.9 1092.5 1148.3 1104.8 1156 1115.7C1163.7 1126.6 1174.8 1137 1185.7 1145.4C1196.6 1153.8 1208.4 1160.7 1221.3 1166.2C1234.1 1171.6 1249 1175.8 1262.8 1178C1276.7 1180.2 1290 1180.5 1304.4 1179.5C1318.7 1178.5 1334 1176.3 1348.9 1172.1C1363.7 1167.9 1380 1162.2 1393.4 1154.3C1406.7 1146.4 1419.3 1136 1429 1124.6C1438.6 1113.2 1446.3 1099.4 1451.2 1086C1456.2 1072.7 1458.9 1057.4 1458.6 1044.5C1458.4 1031.6 1453.2 1019.8 1449.7 1008.9C1446.3 998 1440.6 989.1 1437.9 979.2C1435.2 969.3 1433.4 961.4 1433.4 949.6C1433.4 937.7 1436.6 920.9 1437.9 908C1439.1 895.2 1441.8 884.8 1440.8 872.4C1439.9 860.1 1436.9 845.7 1431.9 833.8C1427 822 1420.1 810.6 1411.2 801.2C1402.3 791.8 1390.4 783.7 1378.5 777.5C1366.7 771.3 1353.3 766.8 1340 764.1C1326.6 761.4 1314.3 760.4 1298.4 761.2Z"/>
<path class="c b" d="M1298.4 798.2C1286.1 799 1264.8 799.7 1251 804.2C1237.1 808.6 1225.2 816 1215.4 824.9C1205.5 833.8 1196.3 846.7 1191.6 857.6C1186.9 868.5 1186.7 879.3 1187.2 890.2C1187.7 901.1 1191.6 913 1194.6 922.9C1197.5 932.7 1203 941.6 1205 949.6C1206.9 957.5 1208.2 962.4 1206.5 970.3C1204.7 978.2 1198.5 987.6 1194.6 997C1190.6 1006.4 1185.2 1016.8 1182.7 1026.7C1180.2 1036.6 1178.3 1045.5 1179.7 1056.4C1181.2 1067.3 1185.7 1081.6 1191.6 1092C1197.5 1102.4 1205.5 1111.3 1215.4 1118.7C1225.2 1126.1 1238.1 1132.3 1251 1136.5C1263.8 1140.7 1278.6 1143.4 1292.5 1143.9C1306.3 1144.4 1320.7 1143.2 1334 1139.5C1347.4 1135.7 1361.7 1129.1 1372.6 1121.6C1383.5 1114.2 1392.6 1104.8 1399.3 1094.9C1406 1085.1 1411.2 1073.2 1412.7 1062.3C1414.1 1051.4 1411.4 1039.6 1408.2 1029.7C1405 1019.8 1397.6 1011.9 1393.4 1003C1389.2 994.1 1385 985.2 1383 976.3C1381 967.4 1380.8 958.5 1381.5 949.6C1382.2 940.7 1385 932.7 1387.4 922.9C1389.9 913 1395.4 901.1 1396.3 890.2C1397.3 879.3 1396.3 868 1393.4 857.6C1390.4 847.2 1385.5 836.1 1378.5 827.9C1371.6 819.8 1360.7 813.3 1351.8 808.6C1342.9 803.9 1334 801.5 1325.1 799.7C1316.2 798 1310.8 797.5 1298.4 798.2Z"/>
<path class="c b" d="M1292.5 827.9C1282.1 828.9 1266.8 831.4 1256.9 836.8C1247 842.3 1238.6 852.1 1233.2 860.5C1227.7 869 1224.7 878.4 1224.3 887.3C1223.8 896.2 1226.2 906 1230.2 914C1234.1 921.9 1242.5 928.3 1248 934.7C1253.4 941.2 1260.1 947.1 1262.8 952.5C1265.5 958 1266.8 961.4 1264.3 967.4C1261.8 973.3 1253.7 980.7 1248 988.1C1242.3 995.5 1235.1 1003.5 1230.2 1011.9C1225.2 1020.3 1220.5 1030.2 1218.3 1038.6C1216.1 1047 1215.4 1053.9 1216.8 1062.3C1218.3 1070.7 1221.5 1081.6 1227.2 1089C1232.9 1096.4 1242.1 1102.4 1251 1106.8C1259.9 1111.3 1270.2 1114.2 1280.6 1115.7C1291 1117.2 1302.4 1117.7 1313.3 1115.7C1324.1 1113.7 1337 1109.3 1345.9 1103.8C1354.8 1098.4 1361.7 1091 1366.7 1083.1C1371.6 1075.2 1375.1 1065.3 1375.6 1056.4C1376.1 1047.5 1373.6 1038.1 1369.6 1029.7C1365.7 1021.3 1358.3 1013.4 1351.8 1005.9C1345.4 998.5 1336.3 992.1 1331.1 985.2C1325.9 978.2 1321.2 971.8 1320.7 964.4C1320.2 957 1323.9 949.1 1328.1 940.7C1332.3 932.3 1341.2 922.9 1345.9 914C1350.6 905.1 1354.6 895.7 1356.3 887.3C1358 878.8 1358.5 870.9 1356.3 863.5C1354.1 856.1 1349.1 848.2 1342.9 842.7C1336.8 837.3 1327.6 833.4 1319.2 830.9C1310.8 828.4 1302.9 826.9 1292.5 827.9Z"/>
<path class="c b" d="M1289.5 1025.2C1284.1 1027.1 1276.2 1030.9 1271.7 1035.6C1267.3 1040.3 1263.3 1047.5 1262.8 1053.4C1262.3 1059.3 1264.8 1066.8 1268.8 1071.2C1272.7 1075.7 1280.1 1078.9 1286.6 1080.1C1293 1081.3 1300.9 1081.1 1307.3 1078.6C1313.8 1076.2 1321.4 1070.5 1325.1 1065.3C1328.8 1060.1 1330.6 1053.2 1329.6 1047.5C1328.6 1041.8 1323.4 1035 1319.2 1031.2C1315 1027.3 1309.3 1025.3 1304.4 1024.3C1299.4 1023.3 1295 1023.3 1289.5 1025.2Z"/>
<path class="c o" d="M1250.2 961.4C1250.4 963.8 1250.3 966.4 1249.7 968.8C1249.2 971.2 1248.2 973.6 1246.9 975.9C1245.6 978.1 1243.9 980.3 1242 982.1C1240.1 984 1237.8 985.8 1235.4 987.2C1232.9 988.7 1230.2 989.9 1227.4 990.7C1224.6 991.6 1221.4 992.2 1218.7 992.5C1216 992.7 1213.5 992.6 1211 992.2C1208.4 991.8 1205.9 991 1203.6 990C1201.3 989 1199 987.6 1197.1 986.1C1195.1 984.5 1193.3 982.7 1191.9 980.7C1190.4 978.7 1189.2 976.4 1188.3 974.2C1187.5 971.9 1186.9 969.3 1186.7 967C1186.5 964.6 1186.6 962.3 1187.1 960C1187.6 957.7 1188.4 955.4 1189.5 953.3C1190.6 951.2 1192 949.2 1193.7 947.4C1195.4 945.6 1197.3 944 1199.4 942.7C1201.6 941.3 1203.9 940.2 1206.3 939.4C1208.8 938.6 1211.2 938 1213.9 937.8C1216.7 937.6 1219.9 937.6 1222.8 937.9C1225.7 938.3 1228.6 938.9 1231.2 939.9C1233.9 940.8 1236.4 942 1238.6 943.5C1240.8 944.9 1242.9 946.7 1244.5 948.5C1246.2 950.4 1247.5 952.5 1248.5 954.6C1249.4 956.8 1250 959.1 1250.2 961.4Z"/>
<path class="c o" d="M1269.4 959.7C1269.8 963.6 1269.5 967.6 1268.6 971.4C1267.8 975.2 1266.3 979 1264.3 982.5C1262.3 986 1259.6 989.5 1256.6 992.5C1253.6 995.4 1250 998.2 1246.2 1000.5C1242.4 1002.7 1238.1 1004.6 1233.8 1006C1229.4 1007.4 1224.5 1008.3 1220.1 1008.7C1215.7 1009.1 1211.5 1009 1207.4 1008.3C1203.2 1007.7 1199 1006.5 1195.2 1004.9C1191.4 1003.3 1187.7 1001.2 1184.5 998.8C1181.3 996.3 1178.3 993.4 1175.9 990.3C1173.6 987.1 1171.6 983.6 1170.1 980C1168.7 976.4 1167.8 972.5 1167.5 968.7C1167.1 964.8 1167.4 960.8 1168.1 957C1168.9 953.3 1170.3 949.4 1172.1 945.9C1173.9 942.4 1176.3 939 1179 936.1C1181.8 933.1 1185 930.4 1188.5 928.1C1192 925.9 1195.9 924 1199.9 922.7C1203.9 921.3 1208 920.4 1212.4 920.1C1216.8 919.7 1221.7 919.8 1226.3 920.4C1230.8 921 1235.3 922.1 1239.5 923.7C1243.6 925.2 1247.6 927.3 1251.1 929.8C1254.6 932.2 1257.8 935.1 1260.4 938.2C1263 941.3 1265.1 944.8 1266.6 948.4C1268.1 952 1269.1 955.9 1269.4 959.7Z"/>
<path class="c o" d="M1285.7 958.3C1286.1 963.4 1285.8 968.8 1284.7 973.8C1283.6 978.9 1281.6 984 1279 988.7C1276.4 993.4 1272.9 997.9 1269 1001.9C1265.1 1005.9 1260.4 1009.5 1255.5 1012.6C1250.5 1015.6 1244.9 1018.1 1239.2 1019.9C1233.5 1021.7 1227.2 1023 1221.4 1023.5C1215.7 1024 1210.2 1023.8 1204.8 1022.9C1199.4 1022.1 1193.9 1020.5 1188.9 1018.4C1184 1016.2 1179.2 1013.4 1175 1010.1C1170.8 1006.9 1166.9 1002.9 1163.8 998.8C1160.7 994.6 1158 989.9 1156.2 985.1C1154.3 980.3 1153.1 975.1 1152.7 970C1152.2 964.9 1152.5 959.5 1153.5 954.5C1154.5 949.4 1156.3 944.3 1158.6 939.7C1161 935 1164.1 930.5 1167.6 926.5C1171.2 922.6 1175.5 918.9 1180 916C1184.5 913 1189.6 910.5 1194.8 908.7C1200 907 1205.3 905.8 1211.1 905.3C1216.8 904.8 1223.3 904.9 1229.2 905.7C1235.1 906.5 1241.1 908.1 1246.5 910.2C1251.9 912.3 1257.1 915.1 1261.7 918.3C1266.3 921.5 1270.4 925.4 1273.8 929.6C1277.2 933.7 1280 938.4 1282 943.2C1284 948 1285.3 953.2 1285.7 958.3Z"/>
<path class="c o" d="M1302 956.9C1302.5 963.1 1302.1 969.7 1300.7 975.9C1299.3 982.1 1296.9 988.4 1293.6 994.1C1290.4 999.8 1286.2 1005.4 1281.3 1010.3C1276.5 1015.2 1270.7 1019.7 1264.6 1023.4C1258.5 1027 1251.5 1030.2 1244.5 1032.4C1237.5 1034.6 1229.6 1036.2 1222.6 1036.8C1215.6 1037.4 1209 1037.1 1202.5 1036.1C1195.9 1035 1189.3 1033.1 1183.3 1030.5C1177.3 1027.8 1171.5 1024.4 1166.4 1020.4C1161.3 1016.3 1156.6 1011.5 1152.9 1006.4C1149.1 1001.3 1145.9 995.5 1143.7 989.6C1141.4 983.7 1139.9 977.4 1139.4 971.1C1138.8 964.9 1139.2 958.3 1140.4 952.1C1141.6 946 1143.7 939.7 1146.5 934C1149.4 928.3 1153.1 922.8 1157.4 917.9C1161.7 913.1 1166.9 908.7 1172.3 905C1177.8 901.4 1184 898.4 1190.2 896.2C1196.5 894 1202.9 892.6 1209.9 892C1216.9 891.4 1225 891.5 1232.3 892.5C1239.6 893.5 1246.9 895.4 1253.6 897.9C1260.3 900.5 1266.8 903.9 1272.4 907.9C1278 911.8 1283.1 916.6 1287.3 921.7C1291.5 926.8 1295 932.5 1297.4 938.4C1299.8 944.3 1301.4 950.6 1302 956.9Z"/>
<path class="c o" d="M1316.7 955.6C1317.4 963 1316.9 970.7 1315.3 978.1C1313.6 985.4 1310.8 992.9 1307 999.6C1303.2 1006.4 1298.3 1013 1292.6 1018.8C1286.9 1024.6 1280.2 1029.9 1273 1034.2C1265.8 1038.6 1257.7 1042.3 1249.5 1044.9C1241.3 1047.6 1232 1049.4 1223.7 1050.1C1215.5 1050.8 1207.8 1050.5 1200.2 1049.2C1192.5 1048 1184.7 1045.7 1177.7 1042.6C1170.6 1039.5 1163.8 1035.3 1157.8 1030.6C1151.8 1025.8 1146.4 1020.1 1141.9 1014.1C1137.5 1008 1133.7 1001.2 1131.1 994.2C1128.5 987.2 1126.7 979.7 1126.1 972.3C1125.4 964.9 1125.8 957.1 1127.2 949.8C1128.6 942.5 1131.1 935.1 1134.4 928.4C1137.7 921.6 1142.2 915.1 1147.2 909.4C1152.2 903.7 1158.3 898.4 1164.7 894.1C1171.1 889.8 1178.3 886.2 1185.7 883.6C1193 881.1 1200.5 879.4 1208.7 878.7C1217 878 1226.5 878.1 1235 879.3C1243.5 880.5 1252.2 882.7 1260 885.8C1267.8 888.8 1275.4 892.9 1282 897.6C1288.6 902.3 1294.6 907.9 1299.5 913.9C1304.4 919.9 1308.5 926.8 1311.4 933.7C1314.2 940.7 1316.1 948.2 1316.7 955.6Z"/>
<path class="c o" d="M1330 954.4C1330.8 962.9 1330.2 971.7 1328.4 980C1326.5 988.4 1323.3 996.8 1319.1 1004.5C1314.8 1012.3 1309.2 1019.8 1302.7 1026.3C1296.3 1032.9 1288.7 1038.9 1280.5 1043.9C1272.4 1048.8 1263.2 1053 1253.9 1056C1244.6 1059 1234.1 1061.1 1224.8 1061.9C1215.4 1062.8 1206.5 1062.4 1197.7 1061C1188.9 1059.5 1180 1056.9 1171.9 1053.4C1163.8 1049.9 1156 1045.2 1149.1 1039.8C1142.3 1034.4 1136 1027.9 1130.9 1021C1125.8 1014.1 1121.5 1006.3 1118.5 998.4C1115.5 990.5 1113.5 981.9 1112.8 973.4C1112.1 965 1112.5 956.2 1114.1 947.9C1115.7 939.6 1118.6 931.1 1122.4 923.5C1126.2 915.8 1131.3 908.3 1137.1 901.8C1142.8 895.3 1149.8 889.3 1157.1 884.5C1164.5 879.6 1172.8 875.5 1181.2 872.5C1189.7 869.6 1198.3 867.7 1207.7 866.9C1217.1 866 1227.8 866.3 1237.5 867.6C1247.1 869 1256.9 871.5 1265.7 874.9C1274.6 878.4 1283.2 883 1290.7 888.4C1298.1 893.7 1305 900.1 1310.5 907C1316.1 913.9 1320.7 921.6 1324 929.5C1327.2 937.4 1329.3 946 1330 954.4Z"/>
<path class="c o" d="M1343.3 953.3C1344.2 962.7 1343.5 972.6 1341.5 982C1339.4 991.3 1335.9 1000.8 1331.1 1009.4C1326.3 1018.1 1320 1026.5 1312.9 1033.9C1305.7 1041.2 1297.2 1048 1288.1 1053.5C1279 1059.1 1268.8 1063.8 1258.4 1067.2C1248 1070.5 1236.3 1072.8 1225.8 1073.8C1215.3 1074.7 1205.2 1074.3 1195.3 1072.7C1185.3 1071.1 1175.3 1068.2 1166.2 1064.2C1157 1060.3 1148.2 1055 1140.5 1048.9C1132.7 1042.9 1125.7 1035.7 1119.9 1027.9C1114.2 1020.2 1109.3 1011.5 1105.9 1002.6C1102.5 993.7 1100.3 984 1099.5 974.6C1098.7 965.2 1099.2 955.3 1101 946C1102.8 936.6 1106 927.2 1110.3 918.6C1114.7 909.9 1120.4 901.6 1126.9 894.3C1133.5 887 1141.3 880.3 1149.6 874.8C1157.9 869.3 1167.3 864.7 1176.8 861.4C1186.3 858.1 1196.2 856 1206.7 855C1217.2 854.1 1229.1 854.4 1239.9 855.9C1250.7 857.4 1261.6 860.2 1271.5 864.1C1281.4 868 1291 873.2 1299.3 879.2C1307.7 885.2 1315.3 892.4 1321.5 900.1C1327.7 907.8 1332.9 916.5 1336.5 925.4C1340.2 934.2 1342.5 943.8 1343.3 953.3Z"/>
<path class="c o" d="M1358.1 952C1359 962.4 1358.3 973.4 1356 983.8C1353.7 994.1 1349.7 1004.6 1344.4 1014.2C1339.1 1023.8 1332.1 1033.2 1324.1 1041.3C1316.1 1049.5 1306.5 1057 1296.4 1063.1C1286.2 1069.3 1274.8 1074.5 1263.2 1078.2C1251.6 1082 1238.6 1084.6 1226.8 1085.6C1215.1 1086.6 1203.9 1086.2 1192.8 1084.4C1181.7 1082.6 1170.6 1079.4 1160.4 1075C1150.2 1070.7 1140.4 1064.8 1131.8 1058.1C1123.2 1051.4 1115.3 1043.4 1108.9 1034.8C1102.5 1026.3 1097.2 1016.6 1093.4 1006.8C1089.6 996.9 1087.1 986.2 1086.2 975.8C1085.3 965.3 1085.9 954.4 1087.9 944C1089.9 933.7 1093.5 923.2 1098.3 913.7C1103.1 904.1 1109.5 894.8 1116.8 886.8C1124.1 878.7 1132.8 871.2 1142 865.1C1151.3 859.1 1161.7 853.9 1172.3 850.3C1182.9 846.6 1193.9 844.2 1205.6 843.2C1217.4 842.2 1230.7 842.5 1242.7 844.1C1254.8 845.8 1266.9 848.9 1278 853.2C1289.1 857.5 1299.8 863.3 1309.1 869.9C1318.4 876.6 1326.9 884.5 1333.8 893.1C1340.7 901.6 1346.5 911.2 1350.5 921C1354.6 930.9 1357.2 941.5 1358.1 952Z"/>
<path class="c o" d="M1375.9 950.4C1376.9 962.3 1376.1 974.5 1373.5 986.1C1370.9 997.7 1366.4 1009.5 1360.4 1020.3C1354.4 1031 1346.5 1041.5 1337.5 1050.7C1328.5 1059.8 1317.8 1068.3 1306.3 1075.2C1294.9 1082.1 1282.1 1087.9 1269 1092.1C1256 1096.3 1241.3 1099.2 1228.1 1100.4C1215 1101.5 1202.6 1101 1190.2 1099C1177.9 1097 1165.5 1093.4 1154.1 1088.5C1142.8 1083.6 1131.8 1077 1122.2 1069.5C1112.7 1062 1103.9 1053 1096.8 1043.4C1089.6 1033.7 1083.7 1022.9 1079.4 1011.8C1075.2 1000.8 1072.4 988.9 1071.4 977.1C1070.4 965.2 1071 952.5 1073.2 940.7C1075.4 928.8 1079.4 916.8 1084.7 905.9C1090.1 895 1097.1 884.4 1105.2 875.1C1113.3 865.9 1123 857.4 1133.3 850.4C1143.6 843.5 1155.2 837.6 1167 833.5C1178.8 829.3 1191 826.6 1204.1 825.5C1217.2 824.3 1232.2 824.7 1245.8 826.6C1259.4 828.5 1273.1 832.2 1285.5 837.1C1298 842.1 1310 848.7 1320.5 856.3C1331 863.9 1340.6 873.1 1348.4 882.8C1356.2 892.6 1362.7 903.7 1367.3 915C1371.8 926.2 1374.8 938.6 1375.9 950.4Z"/>
<path class="c o" d="M1398 948.5C1399.2 962.1 1398.3 976.2 1395.4 989.6C1392.5 1003 1387.3 1016.6 1380.5 1028.9C1373.7 1041.3 1364.7 1053.4 1354.5 1063.9C1344.2 1074.4 1332 1084.2 1319 1092.1C1306 1100.1 1291.4 1106.8 1276.5 1111.6C1261.7 1116.4 1244.9 1119.7 1229.9 1121C1215 1122.4 1200.7 1121.7 1186.6 1119.5C1172.5 1117.2 1158.3 1113 1145.4 1107.3C1132.4 1101.6 1119.8 1094.1 1108.9 1085.4C1098 1076.7 1087.9 1066.3 1079.7 1055.3C1071.6 1044.2 1064.7 1031.7 1059.9 1018.9C1055.1 1006.2 1051.9 992.5 1050.7 978.9C1049.5 965.2 1050.2 950.7 1052.7 937.1C1055.3 923.4 1059.8 909.7 1065.9 897.1C1072 884.6 1080.1 872.4 1089.3 861.8C1098.6 851.2 1109.6 841.4 1121.4 833.4C1133.2 825.4 1146.4 818.7 1159.9 814C1173.4 809.2 1187.3 806.1 1202.3 804.8C1217.3 803.5 1234.3 803.9 1249.8 806.1C1265.3 808.3 1280.9 812.5 1295 818.2C1309.2 823.9 1323 831.5 1334.9 840.3C1346.8 849.1 1357.8 859.6 1366.7 870.8C1375.6 882.1 1383 894.8 1388.2 907.7C1393.4 920.7 1396.8 934.8 1398 948.5Z"/>
<path class="c o" d="M1430.5 945.6C1432 962 1430.9 978.8 1427.5 994.9C1424.1 1010.9 1418 1027.2 1410 1042C1402 1056.8 1391.4 1071.3 1379.4 1083.9C1367.3 1096.4 1352.9 1108.1 1337.6 1117.6C1322.3 1127.1 1305.1 1135.1 1287.6 1140.8C1270.1 1146.6 1250.3 1150.5 1232.7 1152.1C1215 1153.6 1198.2 1152.9 1181.6 1150.1C1165 1147.3 1148.2 1142.3 1132.9 1135.5C1117.6 1128.7 1102.8 1119.6 1089.9 1109.2C1077 1098.8 1065.2 1086.3 1055.5 1073C1045.9 1059.7 1037.8 1044.7 1032.1 1029.5C1026.3 1014.2 1022.6 997.8 1021.2 981.5C1019.7 965.1 1020.5 947.5 1023.5 931.2C1026.4 914.8 1031.7 898.2 1038.9 883.1C1046.1 868 1055.5 853.4 1066.4 840.6C1077.3 827.9 1090.3 816.1 1104.1 806.5C1118 797 1133.6 788.9 1149.5 783.2C1165.4 777.5 1181.8 773.8 1199.4 772.3C1217.1 770.7 1237.2 771.2 1255.5 774C1273.7 776.7 1292.1 781.8 1308.8 788.6C1325.6 795.5 1341.8 804.7 1355.9 815.3C1370 825.9 1382.9 838.6 1393.4 852.1C1403.9 865.6 1412.7 881 1418.9 896.6C1425.1 912.2 1429.1 929.3 1430.5 945.6Z"/>
</g></g>
<g id="p13" clip-path="url(#cp13)"><g transform="scale(1.0 1)">
<path class="c b" d="M1837.2 738.9C1833.7 739.3 1826.3 740.3 1816.4 741.3C1806.5 742.3 1791.7 742.3 1777.9 744.8C1764 747.4 1747.2 751.3 1733.4 756.7C1719.5 762.1 1706.2 769.6 1694.8 777.5C1683.4 785.4 1673 794.3 1665.1 804.2C1657.2 814.1 1651.3 825.4 1647.3 836.8C1643.4 848.2 1641.9 860.5 1641.4 872.4C1640.9 884.3 1641.4 898.1 1644.3 908C1647.3 917.9 1653.7 924.3 1659.2 931.8C1664.6 939.2 1671.3 947.1 1677 952.5C1682.7 958 1693.8 959 1693.3 964.4C1692.8 969.8 1680.2 976.8 1674 985.2C1667.8 993.6 1660.7 1004.9 1656.2 1014.8C1651.8 1024.7 1648.5 1033.6 1647.3 1044.5C1646.1 1055.4 1646.3 1068.2 1648.8 1080.1C1651.3 1092 1655.5 1105.8 1662.1 1115.7C1668.8 1125.6 1678 1132 1688.8 1139.5C1699.7 1146.9 1715.1 1153.8 1727.4 1160.2C1739.8 1166.6 1751.2 1173.5 1763 1178C1774.9 1182.6 1788.7 1185.2 1798.6 1187.5C1808.5 1189.8 1818.4 1191 1822.4 1191.7"/>
<path class="c b" d="M1865.4 738.9C1873 740.4 1896.3 744.3 1911.4 747.8C1926.5 751.3 1942.5 754.2 1955.9 759.7C1969.2 765.1 1982.1 772.5 1991.5 780.4C2000.9 788.4 2007.1 797.3 2012.3 807.1C2017.4 817 2021.2 828.9 2022.6 839.8C2024.1 850.7 2023.4 861.5 2021.2 872.4C2018.9 883.3 2014.7 895.2 2009.3 905.1C2003.8 914.9 1996.4 923.8 1988.5 931.8C1980.6 939.7 1970.2 946.6 1961.8 952.5C1953.4 958.5 1938.1 962.9 1938.1 967.4C1938.1 971.8 1952.9 974.3 1961.8 979.2C1970.7 984.2 1983.1 989.6 1991.5 997C1999.9 1004.5 2006.6 1013.8 2012.3 1023.7C2017.9 1033.6 2023.6 1045 2025.6 1056.4C2027.6 1067.7 2026.3 1080.6 2024.1 1092C2021.9 1103.4 2018.2 1114.7 2012.3 1124.6C2006.3 1134.5 1997.9 1143.9 1988.5 1151.3C1979.1 1158.7 1968.7 1164.2 1955.9 1169.1C1943 1174.1 1926.7 1177.2 1911.4 1181C1896 1184.7 1871.8 1189.9 1863.9 1191.7"/>
<path class="c b" d="M1703.7 869.5C1704.2 857.6 1706.2 844.2 1709.6 833.8C1713.1 823.5 1717.5 815.1 1724.5 807.1C1731.4 799.2 1740.8 791.8 1751.2 786.4C1761.5 780.9 1773.9 777.2 1786.8 774.5C1799.6 771.8 1814.5 770.1 1828.3 770.1C1842.1 770.1 1856 771.3 1869.8 774.5C1883.7 777.7 1898.5 783.4 1911.4 789.3C1924.2 795.3 1938.8 801.7 1947 810.1C1955.1 818.5 1958.8 829.9 1960.3 839.8C1961.8 849.7 1959.1 860.1 1955.9 869.5C1952.7 878.8 1948.5 887.7 1941 896.2C1933.6 904.6 1922.3 913 1911.4 919.9C1900.5 926.8 1887.6 932.3 1875.8 937.7C1863.9 943.1 1852 948.6 1840.2 952.5C1828.3 956.5 1815.4 960.4 1804.6 961.4C1793.7 962.4 1784.8 960.9 1774.9 958.5C1765 956 1754.1 951 1745.2 946.6C1736.3 942.1 1727.9 938.7 1721.5 931.8C1715.1 924.8 1709.6 915.4 1706.6 905.1C1703.7 894.7 1703.2 881.3 1703.7 869.5Z"/>
<path class="c b" d="M1709.6 1032.6C1711.3 1022.3 1713.6 1010.9 1718.5 1003C1723.5 995.1 1729.9 990.1 1739.3 985.2C1748.7 980.2 1764 975.8 1774.9 973.3C1785.8 970.8 1793.7 969.3 1804.6 970.3C1815.4 971.3 1828.3 975.3 1840.2 979.2C1852 983.2 1863.9 988.6 1875.8 994.1C1887.6 999.5 1900.5 1005.4 1911.4 1011.9C1922.3 1018.3 1932.6 1024.2 1941 1032.6C1949.5 1041 1957.9 1052.4 1961.8 1062.3C1965.8 1072.2 1966.3 1082.6 1964.8 1092C1963.3 1101.4 1959.3 1111.3 1952.9 1118.7C1946.5 1126.1 1937.1 1131 1926.2 1136.5C1915.3 1141.9 1901 1147.4 1887.6 1151.3C1874.3 1155.3 1859.9 1159.2 1846.1 1160.2C1832.3 1161.2 1818.4 1159.7 1804.6 1157.3C1790.7 1154.8 1774.9 1150.3 1763 1145.4C1751.2 1140.4 1741.3 1135 1733.4 1127.6C1725.4 1120.2 1719.8 1111.3 1715.5 1100.9C1711.3 1090.5 1709.1 1076.6 1708.1 1065.3C1707.1 1053.9 1707.9 1043 1709.6 1032.6Z"/>
<path class="c b" d="M1751.2 860.5C1751.9 852.1 1753.1 836.3 1757.1 827.9C1761 819.5 1766.5 814.3 1774.9 810.1C1783.3 805.9 1795.7 803.9 1807.5 802.7C1819.4 801.5 1834.7 801.5 1846.1 802.7C1857.5 803.9 1868.6 805.4 1875.8 810.1C1882.9 814.8 1886.6 822.5 1889.1 830.9C1891.6 839.3 1891.8 850.7 1890.6 860.5C1889.4 870.4 1887.1 882.3 1881.7 890.2C1876.3 898.1 1867.9 903.6 1858 908C1848.1 912.5 1834.2 915.9 1822.4 916.9C1810.5 917.9 1796.6 916.9 1786.8 914C1776.9 911 1768.7 905.1 1763 899.1C1757.3 893.2 1754.6 884.8 1752.6 878.4C1750.7 871.9 1750.4 869 1751.2 860.5Z"/>
<path class="c b" d="M1757.1 1044.5C1759.8 1037.1 1767 1028.7 1774.9 1023.7C1782.8 1018.8 1793.7 1016.3 1804.6 1014.8C1815.4 1013.4 1829.3 1012.9 1840.2 1014.8C1851 1016.8 1861.9 1021.8 1869.8 1026.7C1877.7 1031.6 1883.7 1037.1 1887.6 1044.5C1891.6 1051.9 1893.1 1061.8 1893.6 1071.2C1894.1 1080.6 1893.1 1092.5 1890.6 1100.9C1888.1 1109.3 1885.2 1117 1878.7 1121.6C1872.3 1126.3 1862.4 1127.8 1852 1129.1C1841.6 1130.3 1827.3 1130.8 1816.4 1129.1C1805.5 1127.3 1795.2 1124.4 1786.8 1118.7C1778.4 1113 1770.7 1103.4 1766 1094.9C1761.3 1086.5 1760.1 1076.6 1758.6 1068.2C1757.1 1059.8 1754.4 1051.9 1757.1 1044.5Z"/>
<path class="c o" d="M1573.1 848.7C1577.1 846.2 1587.5 839.8 1596.9 833.8C1606.3 827.9 1616.6 821.5 1629.5 813.1C1642.4 804.7 1660.7 790.6 1674 783.4C1687.4 776.2 1698.7 772.3 1709.6 770.1C1720.5 767.8 1729.4 767.8 1739.3 770.1C1749.2 772.3 1759.1 777.2 1769 783.4C1778.8 789.6 1787.3 800.2 1798.6 807.1C1810 814.1 1823.4 819 1837.2 824.9C1851 830.9 1869.3 835.8 1881.7 842.7C1894.1 849.7 1904 858.1 1911.4 866.5C1918.8 874.9 1922.7 884.3 1926.2 893.2C1929.7 902.1 1929.2 911.5 1932.1 919.9C1935.1 928.3 1939.3 936 1944 943.6C1948.7 951.3 1960.3 958.5 1960.3 965.9C1960.3 973.3 1948.7 980 1944 988.1C1939.3 996.3 1935.1 1005.9 1932.1 1014.8C1929.2 1023.7 1930.2 1032.6 1926.2 1041.5C1922.3 1050.4 1915.8 1060.3 1908.4 1068.2C1901 1076.2 1893.6 1082.6 1881.7 1089C1869.8 1095.4 1850.1 1100.9 1837.2 1106.8C1824.3 1112.7 1814.9 1117.7 1804.6 1124.6C1794.2 1131.5 1784.8 1142.2 1774.9 1148.4C1765 1154.5 1755.6 1159.2 1745.2 1161.7C1734.8 1164.2 1724.5 1164.9 1712.6 1163.2C1700.7 1161.5 1686.9 1157.3 1674 1151.3C1661.2 1145.4 1648.3 1136 1635.4 1127.6C1622.6 1119.2 1607.3 1107.8 1596.9 1100.9C1586.5 1094 1577.1 1088.5 1573.1 1086"/>
<path class="c o" d="M1780.8 965.9C1780.8 966.5 1780.5 966.9 1779.8 967.7C1779.1 968.6 1778 969.7 1776.7 970.8C1775.4 971.8 1773.7 973.1 1771.9 974.2C1770.1 975.4 1767.9 976.6 1765.8 977.6C1763.6 978.7 1761.2 979.8 1758.9 980.7C1756.6 981.6 1754.2 982.4 1752 983.1C1749.9 983.8 1747.6 984.3 1746 984.6C1744.4 985 1743.4 985.2 1742.3 985.2C1741.1 985.2 1740.5 985 1739.1 984.6C1737.7 984.3 1735.8 983.8 1734 983.1C1732.2 982.4 1730.1 981.6 1728.2 980.7C1726.2 979.8 1724.2 978.7 1722.4 977.6C1720.5 976.6 1718.7 975.4 1717.2 974.2C1715.6 973.1 1714.2 971.8 1713.1 970.8C1712 969.7 1711.1 968.6 1710.5 967.7C1709.9 966.9 1709.6 966.5 1709.6 965.9C1709.6 965.3 1709.9 964.8 1710.5 964C1711.1 963.2 1712 962.1 1713.1 961C1714.2 959.9 1715.6 958.7 1717.2 957.6C1718.7 956.4 1720.5 955.2 1722.4 954.1C1724.2 953 1726.2 952 1728.2 951.1C1730.1 950.2 1732.2 949.3 1734 948.7C1735.8 948 1737.7 947.5 1739.1 947.1C1740.5 946.8 1741.1 946.6 1742.3 946.6C1743.4 946.6 1744.4 946.8 1746 947.1C1747.6 947.5 1749.9 948 1752 948.7C1754.2 949.3 1756.6 950.2 1758.9 951.1C1761.2 952 1763.6 953 1765.8 954.1C1767.9 955.2 1770.1 956.4 1771.9 957.6C1773.7 958.7 1775.4 959.9 1776.7 961C1778 962.1 1779.1 963.2 1779.8 964C1780.5 964.8 1780.8 965.3 1780.8 965.9Z"/>
<path class="c o" d="M1797.1 965.9C1797.1 967.2 1796.6 968.1 1795.6 969.9C1794.7 971.7 1793.1 974.1 1791.3 976.4C1789.4 978.7 1787 981.4 1784.4 983.8C1781.8 986.3 1778.8 988.9 1775.7 991.2C1772.6 993.5 1769.2 995.8 1766 997.8C1762.7 999.8 1759.2 1001.6 1756.2 1003C1753.1 1004.4 1749.9 1005.5 1747.6 1006.3C1745.2 1007 1744.5 1007.4 1742.3 1007.4C1740 1007.4 1737.1 1007.1 1733.8 1006.4C1730.5 1005.8 1726.4 1004.8 1722.6 1003.5C1718.8 1002.2 1714.7 1000.6 1710.9 998.9C1707.2 997.1 1703.3 995 1699.9 992.8C1696.5 990.6 1693.2 988.2 1690.4 985.8C1687.6 983.4 1685.1 980.8 1683.1 978.4C1681.1 976 1679.6 973.3 1678.5 971.3C1677.5 969.2 1677 967.7 1677 965.9C1677 964.1 1677.5 962.6 1678.5 960.5C1679.6 958.4 1681.1 955.8 1683.1 953.4C1685.1 951 1687.6 948.4 1690.4 946C1693.2 943.6 1696.5 941.1 1699.9 938.9C1703.3 936.8 1707.2 934.7 1710.9 932.9C1714.7 931.1 1718.8 929.5 1722.6 928.3C1726.4 927 1730.5 926 1733.8 925.3C1737.1 924.7 1740 924.3 1742.3 924.3C1744.5 924.4 1745.2 924.7 1747.6 925.5C1749.9 926.2 1753.1 927.4 1756.2 928.8C1759.2 930.2 1762.7 932 1766 934C1769.2 935.9 1772.6 938.2 1775.7 940.6C1778.8 942.9 1781.8 945.5 1784.4 947.9C1787 950.4 1789.4 953 1791.3 955.3C1793.1 957.7 1794.7 960.1 1795.6 961.9C1796.6 963.6 1797.1 964.5 1797.1 965.9Z"/>
<path class="c o" d="M1812 965.9C1812 967.9 1811.3 969.4 1810.1 972C1808.9 974.5 1807.1 978 1804.8 981.3C1802.5 984.5 1799.5 988.2 1796.3 991.6C1793.1 995 1789.3 998.6 1785.5 1001.8C1781.6 1004.9 1777.4 1008.1 1773.2 1010.7C1769.1 1013.4 1764.7 1015.8 1760.8 1017.8C1756.8 1019.7 1752.7 1021.2 1749.6 1022.2C1746.5 1023.2 1745.6 1023.7 1742.3 1023.7C1738.9 1023.8 1733.8 1023.3 1729.2 1022.5C1724.6 1021.7 1719.5 1020.4 1714.7 1018.9C1709.9 1017.3 1705.1 1015.3 1700.6 1013C1696.1 1010.7 1691.7 1008.1 1687.7 1005.2C1683.8 1002.4 1680.1 999.2 1677 996C1673.9 992.7 1671.1 989.2 1668.9 985.8C1666.7 982.3 1665 978.6 1663.9 975.3C1662.7 972 1662.1 969 1662.1 965.9C1662.1 962.7 1662.7 959.8 1663.9 956.5C1665 953.1 1666.7 949.4 1668.9 946C1671.1 942.5 1673.9 939 1677 935.8C1680.1 932.5 1683.8 929.4 1687.7 926.5C1691.7 923.7 1696.1 921 1700.6 918.7C1705.1 916.5 1709.9 914.5 1714.7 912.9C1719.5 911.3 1724.6 910.1 1729.2 909.3C1733.8 908.4 1738.9 908 1742.3 908C1745.6 908.1 1746.5 908.6 1749.6 909.6C1752.7 910.5 1756.8 912.1 1760.8 914C1764.7 915.9 1769.1 918.4 1773.2 921C1777.4 923.7 1781.6 926.8 1785.5 930C1789.3 933.2 1793.1 936.7 1796.3 940.2C1799.5 943.6 1802.5 947.2 1804.8 950.5C1807.1 953.8 1808.9 957.2 1810.1 959.8C1811.3 962.4 1812 963.9 1812 965.9Z"/>
<path class="c o" d="M1826.8 965.9C1826.8 968.7 1826.1 970.8 1824.7 974.3C1823.2 977.7 1821.1 982.2 1818.3 986.5C1815.6 990.7 1812.2 995.4 1808.4 999.8C1804.6 1004.1 1800.1 1008.6 1795.5 1012.6C1790.9 1016.6 1785.8 1020.5 1780.9 1023.9C1775.9 1027.2 1770.6 1030.2 1765.7 1032.6C1760.9 1035 1755.7 1036.9 1751.8 1038.2C1747.9 1039.4 1746.6 1040 1742.3 1040.1C1737.9 1040.1 1731.2 1039.5 1725.5 1038.6C1719.9 1037.6 1713.9 1036.1 1708.3 1034.1C1702.6 1032.2 1697.1 1029.7 1691.9 1027C1686.8 1024.2 1681.8 1020.9 1677.4 1017.4C1672.9 1013.9 1668.8 1009.9 1665.3 1005.8C1661.8 1001.7 1658.7 997.3 1656.3 992.9C1653.8 988.4 1651.9 983.7 1650.7 979.2C1649.4 974.7 1648.8 970.3 1648.8 965.9C1648.8 961.4 1649.4 956.9 1650.7 952.3C1651.9 947.7 1653.8 942.9 1656.3 938.4C1658.7 933.8 1661.8 929.3 1665.3 925.1C1668.8 921 1672.9 916.9 1677.4 913.3C1681.8 909.8 1686.8 906.4 1691.9 903.6C1697.1 900.7 1702.6 898.2 1708.3 896.3C1713.9 894.3 1719.9 892.8 1725.5 891.7C1731.2 890.7 1737.9 890.2 1742.3 890.2C1746.6 890.3 1747.9 890.9 1751.8 892.2C1755.7 893.4 1760.9 895.4 1765.7 897.8C1770.6 900.2 1775.9 903.3 1780.9 906.7C1785.8 910.1 1790.9 914.1 1795.5 918.2C1800.1 922.3 1804.6 926.9 1808.4 931.3C1812.2 935.8 1815.6 940.5 1818.3 944.9C1821.1 949.2 1823.2 953.8 1824.7 957.3C1826.1 960.8 1826.8 963.1 1826.8 965.9Z"/>
<path class="c o" d="M1841.6 965.9C1841.6 969 1840.7 971.3 1839 975.2C1837.3 979.2 1834.7 984.5 1831.4 989.5C1828.1 994.6 1823.9 1000.2 1819.3 1005.4C1814.7 1010.7 1809.4 1016.2 1803.9 1021.1C1798.4 1026 1792.3 1030.8 1786.4 1034.9C1780.6 1039 1774.3 1042.7 1768.7 1045.7C1763 1048.6 1757.1 1051 1752.7 1052.5C1748.3 1054.1 1747.5 1054.8 1742.3 1054.9C1737 1055 1728.2 1054.3 1721.4 1053.2C1714.6 1052 1707.8 1050.3 1701.4 1048.1C1695 1045.9 1688.7 1043.1 1682.9 1039.9C1677.1 1036.7 1671.6 1032.9 1666.7 1028.8C1661.8 1024.7 1657.3 1020.1 1653.4 1015.3C1649.6 1010.5 1646.2 1005.3 1643.6 999.9C1640.9 994.6 1638.8 988.9 1637.5 983.2C1636.1 977.6 1635.4 971.7 1635.4 965.9C1635.4 960 1636.1 954 1637.5 948.2C1638.8 942.5 1640.9 936.7 1643.6 931.2C1646.2 925.8 1649.6 920.5 1653.4 915.6C1657.3 910.7 1661.8 906.1 1666.7 901.9C1671.6 897.7 1677.1 893.9 1682.9 890.6C1688.7 887.4 1695 884.5 1701.4 882.3C1707.8 880 1714.6 878.3 1721.4 877.1C1728.2 876 1737 875.3 1742.3 875.4C1747.5 875.5 1748.3 876.2 1752.7 877.8C1757.1 879.3 1763 881.8 1768.7 884.7C1774.3 887.7 1780.6 891.6 1786.4 895.7C1792.3 899.9 1798.4 904.8 1803.9 909.8C1809.4 914.8 1814.7 920.3 1819.3 925.7C1823.9 931 1828.1 936.7 1831.4 941.8C1834.7 946.9 1837.3 952.4 1839 956.4C1840.7 960.4 1841.6 962.7 1841.6 965.9Z"/>
<path class="c o" d="M1855 965.9C1855 969.3 1853.9 971.5 1851.9 975.9C1849.9 980.3 1846.8 986.4 1842.9 992.2C1839.1 998 1834.2 1004.6 1828.9 1010.7C1823.5 1016.9 1817.3 1023.4 1811 1029.2C1804.7 1035 1797.6 1040.7 1790.9 1045.7C1784.3 1050.6 1777.1 1055.1 1770.8 1058.6C1764.5 1062.2 1757.9 1065 1753.2 1066.9C1748.4 1068.7 1748 1069.6 1742.3 1069.7C1736.5 1069.9 1726.5 1069 1718.8 1067.7C1711.1 1066.4 1703.5 1064.4 1696.3 1061.8C1689 1059.2 1682 1056 1675.5 1052.2C1669 1048.5 1662.8 1044.1 1657.3 1039.3C1651.8 1034.5 1646.7 1029.2 1642.3 1023.6C1638 1018 1634.2 1011.9 1631.2 1005.6C1628.2 999.4 1625.9 992.8 1624.4 986.1C1622.9 979.5 1622.1 972.7 1622.1 965.9C1622.1 959.1 1622.9 952 1624.4 945.3C1625.9 938.6 1628.2 931.9 1631.2 925.6C1634.2 919.2 1638 913.1 1642.3 907.4C1646.7 901.7 1651.8 896.2 1657.3 891.4C1662.8 886.6 1669 882.1 1675.5 878.3C1682 874.5 1689 871.2 1696.3 868.6C1703.5 865.9 1711.1 863.9 1718.8 862.6C1726.5 861.2 1736.5 860.4 1742.3 860.6C1748 860.7 1748.4 861.6 1753.2 863.4C1757.9 865.3 1764.5 868.2 1770.8 871.8C1777.1 875.4 1784.3 880 1790.9 885C1797.6 889.9 1804.7 895.8 1811 901.7C1817.3 907.6 1823.5 914.1 1828.9 920.4C1834.2 926.6 1839.1 933.3 1842.9 939.2C1846.8 945.1 1849.9 951.2 1851.9 955.7C1853.9 960.1 1855 962.5 1855 965.9Z"/>
<path class="c o" d="M1878.7 965.9C1878.7 971 1877.6 975.3 1875.5 981.3C1873.3 987.2 1870 994.7 1865.9 1001.6C1861.7 1008.5 1856.5 1015.9 1850.6 1022.8C1844.8 1029.7 1837.9 1036.6 1830.8 1042.8C1823.6 1049.1 1815.6 1055 1807.7 1060.1C1799.8 1065.2 1791.3 1069.8 1783.3 1073.4C1775.4 1077 1766.8 1079.9 1759.9 1081.7C1753.1 1083.6 1749.6 1084.5 1742.3 1084.6C1734.9 1084.7 1724.5 1083.8 1715.9 1082.3C1707.3 1080.8 1698.7 1078.5 1690.6 1075.5C1682.5 1072.6 1674.6 1068.8 1667.3 1064.6C1660 1060.3 1653 1055.3 1646.8 1049.8C1640.6 1044.3 1634.9 1038.2 1630 1031.8C1625.1 1025.4 1620.9 1018.4 1617.5 1011.3C1614.2 1004.2 1611.6 996.6 1609.8 989C1608.1 981.5 1607.3 973.6 1607.3 965.9C1607.3 958.2 1608.1 950.3 1609.8 942.7C1611.6 935.2 1614.2 927.6 1617.5 920.5C1620.9 913.3 1625.1 906.4 1630 899.9C1634.9 893.5 1640.6 887.4 1646.8 882C1653 876.5 1660 871.5 1667.3 867.2C1674.6 862.9 1682.5 859.2 1690.6 856.2C1698.7 853.3 1707.3 851 1715.9 849.5C1724.5 848 1734.9 847.1 1742.3 847.2C1749.6 847.3 1753.1 848.2 1759.9 850C1766.8 851.9 1775.4 854.8 1783.3 858.4C1791.3 862 1799.8 866.6 1807.7 871.6C1815.6 876.7 1823.6 882.7 1830.8 888.9C1837.9 895.1 1844.8 902.1 1850.6 909C1856.5 915.8 1861.7 923.2 1865.9 930.2C1870 937.1 1873.3 944.5 1875.5 950.5C1877.6 956.4 1878.7 960.7 1878.7 965.9Z"/>
<path class="c o" d="M1901 965.9C1901 973.1 1899.8 979.9 1897.6 987.6C1895.4 995.3 1892 1003.8 1887.6 1011.8C1883.3 1019.8 1877.8 1027.9 1871.6 1035.4C1865.3 1042.9 1858 1050.2 1850.3 1056.7C1842.5 1063.3 1833.8 1069.4 1824.9 1074.6C1816 1079.9 1806.3 1084.5 1796.8 1088.2C1787.4 1091.8 1777.2 1094.7 1768.1 1096.5C1759 1098.4 1751.4 1099.3 1742.3 1099.4C1733.1 1099.4 1722.8 1098.5 1713.3 1096.8C1703.8 1095.1 1694.4 1092.6 1685.5 1089.2C1676.6 1085.9 1667.9 1081.7 1659.8 1076.9C1651.8 1072.1 1644.2 1066.4 1637.4 1060.3C1630.5 1054.1 1624.3 1047.3 1618.9 1040.1C1613.5 1032.8 1608.9 1025 1605.2 1017C1601.5 1009 1598.6 1000.4 1596.8 991.9C1594.9 983.4 1593.9 974.6 1593.9 965.9C1593.9 957.2 1594.9 948.3 1596.8 939.8C1598.6 931.3 1601.5 922.8 1605.2 914.8C1608.9 906.8 1613.5 898.9 1618.9 891.7C1624.3 884.5 1630.5 877.6 1637.4 871.5C1644.2 865.3 1651.8 859.7 1659.8 854.9C1667.9 850 1676.6 845.8 1685.5 842.5C1694.4 839.2 1703.8 836.6 1713.3 834.9C1722.8 833.2 1733.1 832.3 1742.3 832.4C1751.4 832.4 1759 833.3 1768.1 835.2C1777.2 837.1 1787.4 840 1796.8 843.6C1806.3 847.3 1816 851.9 1824.9 857.1C1833.8 862.4 1842.5 868.5 1850.3 875C1858 881.6 1865.3 888.9 1871.6 896.4C1877.8 903.9 1883.3 912 1887.6 920C1892 927.9 1895.4 936.5 1897.6 944.2C1899.8 951.8 1901 958.6 1901 965.9Z"/>
<path class="c o" d="M1923.2 965.9C1923.2 975.5 1922.1 985.4 1919.8 994.8C1917.5 1004.3 1914 1013.7 1909.5 1022.7C1905 1031.6 1899.3 1040.3 1892.7 1048.3C1886.2 1056.3 1878.6 1064 1870.2 1070.8C1861.9 1077.6 1852.6 1083.9 1842.8 1089.2C1833 1094.6 1822.4 1099.2 1811.5 1102.9C1800.6 1106.6 1789.1 1109.5 1777.6 1111.4C1766 1113.3 1753.4 1114.2 1742.3 1114.2C1731.1 1114.2 1721 1113.3 1710.7 1111.4C1700.4 1109.5 1690.1 1106.6 1680.4 1102.9C1670.7 1099.2 1661.2 1094.6 1652.4 1089.2C1643.7 1083.9 1635.3 1077.6 1627.9 1070.8C1620.5 1064 1613.6 1056.3 1607.8 1048.3C1602 1040.3 1596.9 1031.6 1592.9 1022.7C1588.8 1013.7 1585.7 1004.3 1583.7 994.8C1581.6 985.4 1580.6 975.5 1580.6 965.9C1580.6 956.2 1581.6 946.4 1583.7 936.9C1585.7 927.5 1588.8 918 1592.9 909.1C1596.9 900.2 1602 891.5 1607.8 883.5C1613.6 875.4 1620.5 867.8 1627.9 861C1635.3 854.2 1643.7 847.9 1652.4 842.5C1661.2 837.2 1670.7 832.5 1680.4 828.8C1690.1 825.1 1700.4 822.3 1710.7 820.4C1721 818.5 1731.1 817.5 1742.3 817.5C1753.4 817.5 1766 818.5 1777.6 820.4C1789.1 822.3 1800.6 825.1 1811.5 828.8C1822.4 832.5 1833 837.2 1842.8 842.5C1852.6 847.9 1861.9 854.2 1870.2 861C1878.6 867.8 1886.2 875.4 1892.7 883.5C1899.3 891.5 1905 900.2 1909.5 909.1C1914 918 1917.5 927.5 1919.8 936.9C1922.1 946.4 1923.2 956.2 1923.2 965.9Z"/>
</g></g>
<g id="p20" clip-path="url(#cp20)"><g transform="scale(1.0 1)">
<path class="c b" d="M354.9 1275.4C345.7 1275.4 334.6 1277.2 326.7 1281.4C318.8 1285.6 311.6 1294 307.4 1300.6C303.2 1307.3 301.2 1314 301.5 1321.4C301.7 1328.8 304.2 1338.5 308.9 1345.2C313.6 1351.8 322 1357.9 329.7 1361.5C337.3 1365 346.5 1366.8 354.9 1366.5C363.3 1366.3 372.4 1364 380.1 1360C387.8 1355.9 396.1 1348.9 400.9 1342.2C405.7 1335.5 408.9 1327.6 408.9 1319.9C408.9 1312.3 405.4 1302.6 400.9 1296.2C396.3 1289.8 389.3 1284.8 381.6 1281.4C373.9 1277.9 364 1275.4 354.9 1275.4Z"/>
<path class="c b" d="M356.4 1463.2C346.5 1463.7 336.1 1465.7 326.7 1469.8C317.3 1473.8 307.4 1480.6 300 1487.6C292.6 1494.5 285.4 1503.9 282.2 1511.3C279 1518.7 278.7 1525.2 280.7 1532.1C282.7 1539 287.4 1547.4 294.1 1552.8C300.7 1558.3 310.9 1562.1 320.8 1564.7C330.7 1567.3 342 1568.5 353.4 1568.3C364.8 1568 378.1 1566.8 389 1563.2C399.9 1559.7 411.5 1553.6 418.7 1546.9C425.9 1540.2 430.5 1531.1 432 1523.2C433.5 1515.3 431.3 1506.9 427.6 1499.4C423.9 1492 416.7 1484.1 409.8 1478.7C402.9 1473.2 394.9 1469.4 386 1466.8C377.1 1464.2 366.3 1462.7 356.4 1463.2Z"/>
<path class="c b" d="M353.4 1250.2C339.6 1250.1 323.7 1251.8 311.9 1256.7C300 1261.7 289.5 1270.6 282.2 1279.9C274.9 1289.2 269.2 1301.6 268.3 1312.5C267.3 1323.4 271.5 1335.3 276.3 1345.2C281.1 1355 288.6 1363.9 297 1371.9C305.4 1379.8 316.8 1387.8 326.7 1392.6C336.6 1397.5 346.5 1400.8 356.4 1400.9C366.3 1401 376.2 1398.6 386 1393.2C395.9 1387.9 407.8 1377.9 415.7 1368.9C423.6 1359.9 430 1349.1 433.5 1339.2C437.1 1329.3 438.6 1319.4 437.1 1309.5C435.6 1299.7 431.6 1288.5 424.6 1279.9C417.6 1271.2 406.8 1262.6 394.9 1257.6C383.1 1252.7 367.3 1250.4 353.4 1250.2Z"/>
<path class="c b" d="M353.4 1228C339.6 1228.7 318.3 1229.7 303 1235.4C287.6 1241.1 272.3 1251.7 261.4 1262.1C250.5 1272.5 242.1 1286.8 237.7 1297.7C233.2 1308.6 232.7 1316.5 234.7 1327.4C236.7 1338.2 243.1 1352.1 249.6 1363C256 1373.8 266.4 1383.7 273.3 1392.6C280.2 1401.5 288.1 1409.4 291.1 1416.4C294.1 1423.3 293.6 1427.2 291.1 1434.2C288.6 1441.1 282.7 1449 276.3 1457.9C269.8 1466.8 259.5 1477.7 252.5 1487.6C245.6 1497.5 238.2 1508.3 234.7 1517.2C231.3 1526.1 230.3 1532.6 231.8 1541C233.2 1549.4 237.7 1560.3 243.6 1567.7C249.6 1575.1 257.5 1580.5 267.4 1585.5C277.3 1590.4 288.6 1595 303 1597.4C317.3 1599.7 337.1 1600.2 353.4 1599.7C369.7 1599.2 386.5 1598.2 400.9 1594.4C415.2 1590.5 429.1 1584 439.5 1576.6C449.8 1569.2 457.7 1559.3 463.2 1549.9C468.6 1540.5 471.6 1530.1 472.1 1520.2C472.6 1510.3 470.6 1500.4 466.2 1490.5C461.7 1480.6 451.8 1469.8 445.4 1460.9C439 1452 431.3 1444.5 427.6 1437.1C423.9 1429.7 422.6 1423.8 423.1 1416.4C423.6 1408.9 426.3 1401.5 430.5 1392.6C434.8 1383.7 443.4 1372.8 448.4 1363C453.3 1353.1 458 1343.2 460.2 1333.3C462.4 1323.4 463.7 1314 461.7 1303.6C459.7 1293.2 455 1280.9 448.4 1271C441.7 1261.1 432 1251 421.6 1244.3C411.3 1237.6 397.4 1233.6 386 1230.9C374.7 1228.2 367.3 1227.2 353.4 1228Z"/>
<path class="c b" d="M353.4 1205.1C338.6 1204.6 324.7 1206.1 311.9 1208.7C299 1211.2 288.6 1214.1 276.3 1220.5C263.9 1227 249.1 1237.8 237.7 1247.2C226.3 1256.6 215.4 1265.5 208 1276.9C200.6 1288.3 194.7 1304.1 193.2 1315.5C191.7 1326.9 195.7 1335.8 199.1 1345.2C202.6 1354.5 208.5 1363 214 1371.9C219.4 1380.8 227.8 1390.2 231.8 1398.6C235.7 1407 238.7 1414.9 237.7 1422.3C236.7 1429.7 231.3 1435.2 225.8 1443.1C220.4 1451 211.5 1460.4 205.1 1469.8C198.6 1479.2 191.7 1489.5 187.3 1499.4C182.8 1509.3 178.4 1519.2 178.4 1529.1C178.4 1539 181.3 1549.4 187.3 1558.8C193.2 1568.2 202.6 1577.6 214 1585.5C225.3 1593.4 240.7 1600.3 255.5 1606.3C270.3 1612.2 286.2 1617.9 303 1621.1C319.8 1624.3 338.6 1625.5 356.4 1625.5C374.2 1625.5 393.5 1623.8 409.8 1621.1C426.1 1618.4 441.4 1615.2 454.3 1609.2C467.1 1603.3 478.5 1595.4 486.9 1585.5C495.3 1575.6 501.3 1562.2 504.7 1549.9C508.2 1537.5 509.2 1523.7 507.7 1511.3C506.2 1498.9 500.8 1487.6 495.8 1475.7C490.9 1463.8 482 1451 478 1440.1C474.1 1429.2 472.1 1420.3 472.1 1410.4C472.1 1400.5 475.1 1391.6 478 1380.8C481 1369.9 487.9 1357.5 489.9 1345.2C491.9 1332.8 492.4 1319.4 489.9 1306.6C487.4 1293.7 482.5 1280.4 475.1 1268C467.6 1255.6 457.7 1241.8 445.4 1232.4C433 1223 416.2 1216.2 400.9 1211.6C385.5 1207.1 368.2 1205.6 353.4 1205.1Z"/>
<path class="c b" d="M436.5 1190.9C441.9 1194.3 458.7 1202.7 469.1 1211.6C479.5 1220.5 490.4 1231.9 498.8 1244.3C507.2 1256.6 515.1 1272 519.6 1285.8C524 1299.7 525 1314.5 525.5 1327.4C526 1340.2 524 1352.1 522.5 1363C521 1373.8 517.1 1382.7 516.6 1392.6C516.1 1402.5 517.1 1412.4 519.6 1422.3C522 1432.2 527 1441.6 531.4 1452C535.9 1462.4 542.8 1473.7 546.3 1484.6C549.7 1495.5 552.2 1505.9 552.2 1517.2C552.2 1528.6 550.2 1541.5 546.3 1552.8C542.3 1564.2 536.4 1575.1 528.5 1585.5C520.5 1595.9 512.1 1606.5 498.8 1615.2C485.4 1623.8 456.8 1633.7 448.4 1637.4"/>
<path class="c b" d="M205.1 1637.4C197.6 1633.7 173.4 1623.8 160.5 1615.2C147.7 1606.5 135.6 1596.4 127.9 1585.5C120.2 1574.6 116.5 1560.8 114.6 1549.9C112.6 1539 113.8 1530.1 116 1520.2C118.3 1510.3 123 1500.4 127.9 1490.5C132.9 1480.6 140.3 1470.8 145.7 1460.9C151.2 1451 158.6 1440.6 160.5 1431.2C162.5 1421.8 160.1 1413.4 157.6 1404.5C155.1 1395.6 149.7 1386.7 145.7 1377.8C141.8 1368.9 136.6 1360.5 133.8 1351.1C131.1 1341.7 128.9 1330.8 129.4 1321.4C129.9 1312 132.6 1303.6 136.8 1294.7C141 1285.8 146.7 1277.4 154.6 1268C162.5 1258.6 173.4 1247.7 184.3 1238.3C195.2 1228.9 208 1219.1 219.9 1211.6C231.8 1204.2 249.6 1196.8 255.5 1193.8"/>
<path class="c o" d="M12.2 1276.9C17.4 1275.4 25.5 1270 43.4 1268C61.2 1266 91.6 1264.5 119 1265C146.5 1265.5 185.3 1268.5 208 1271C230.8 1273.5 243.1 1275.9 255.5 1279.9C267.9 1283.8 272.8 1290.3 282.2 1294.7C291.6 1299.2 302 1303.6 311.9 1306.6C321.8 1309.5 331.6 1309.5 341.5 1312.5C351.4 1315.5 362.3 1318.9 371.2 1324.4C380.1 1329.8 388.5 1337.2 394.9 1345.2C401.4 1353.1 406.6 1362.5 409.8 1371.9C413 1381.3 414.7 1390.2 414.2 1401.5C413.7 1412.9 410.5 1426.7 406.8 1440.1C403.1 1453.5 397.9 1467.8 392 1481.6C386 1495.5 379.1 1510.3 371.2 1523.2C363.3 1536 354.4 1548.4 344.5 1558.8C334.6 1569.2 323.7 1578.1 311.9 1585.5C300 1592.9 286.6 1599.1 273.3 1603.3C259.9 1607.5 246.1 1609.7 231.8 1610.7C217.4 1611.7 202.1 1611.4 187.3 1609.2C172.4 1607 158.1 1603.3 142.7 1597.4C127.4 1591.4 109.1 1581.5 95.3 1573.6C81.4 1565.7 68.3 1555.8 59.7 1549.9C51 1543.9 51.3 1543.9 43.4 1538C35.4 1532.1 17.4 1518.2 12.2 1514.3"/>
<path class="c o" d="M12.2 1345.2C17.6 1340.7 34.5 1326.9 44.8 1318.5C55.2 1310 64.6 1300.6 74.5 1294.7C84.4 1288.8 91.8 1285.1 104.2 1282.8C116.5 1280.6 136.3 1280.9 148.7 1281.4C161 1281.9 168.5 1283.1 178.4 1285.8C188.2 1288.5 197.1 1289.8 208 1297.7C218.9 1305.6 234.2 1319.4 243.6 1333.3C253 1347.1 260.9 1368.9 264.4 1380.8C267.9 1392.6 265.4 1396.1 264.4 1404.5C263.4 1412.9 261.9 1418.3 258.5 1431.2C255 1444.1 249.6 1466.8 243.6 1481.6C237.7 1496.5 230.8 1510.3 222.9 1520.2C214.9 1530.1 206 1536.5 196.2 1541C186.3 1545.4 176.4 1547.9 163.5 1546.9C150.7 1545.9 133.8 1542 119 1535C104.2 1528.1 86.9 1515.3 74.5 1505.4C62.1 1495.5 55.2 1486.6 44.8 1475.7C34.5 1464.8 17.6 1446 12.2 1440.1"/>
<path class="c o" d="M221.4 1403.6C221.4 1412 220.3 1420.7 218.3 1428.8C216.4 1436.9 213.3 1445 209.4 1452.3C205.6 1459.5 200.7 1466.5 195.3 1472.4C189.9 1478.4 183.5 1483.7 176.9 1487.9C170.2 1492.1 162.8 1495.4 155.4 1497.6C148 1499.8 140.1 1500.9 132.4 1500.9C124.6 1500.9 116.5 1499.8 108.9 1497.6C101.4 1495.4 93.9 1492.1 87.1 1487.9C80.4 1483.7 73.9 1478.4 68.4 1472.4C62.9 1466.5 57.9 1459.5 54 1452.3C50.1 1445 47 1436.9 45 1428.8C42.9 1420.7 41.9 1412 41.9 1403.6C41.9 1395.2 42.9 1386.6 45 1378.5C47 1370.4 50.1 1362.3 54 1355.1C57.9 1347.8 62.9 1340.9 68.4 1335C73.9 1329.1 80.4 1323.8 87.1 1319.6C93.9 1315.4 101.4 1312.1 108.9 1309.9C116.5 1307.7 124.6 1306.6 132.4 1306.6C140.1 1306.6 148 1307.7 155.4 1309.9C162.8 1312.1 170.2 1315.4 176.9 1319.6C183.5 1323.8 189.9 1329.1 195.3 1335C200.7 1340.9 205.6 1347.8 209.4 1355.1C213.3 1362.3 216.4 1370.4 218.3 1378.5C220.3 1386.6 221.4 1395.2 221.4 1403.6Z"/>
<path class="c o" d="M190.2 1400C190.2 1405.5 189.5 1411.2 188.2 1416.6C186.9 1421.9 184.8 1427.2 182.3 1431.9C179.7 1436.7 176.5 1441.3 172.8 1445.2C169.2 1449 165 1452.5 160.5 1455.3C156.1 1458 151.2 1460.2 146.2 1461.7C141.3 1463.1 136 1463.8 130.9 1463.8C125.8 1463.8 120.5 1463.1 115.5 1461.7C110.6 1460.2 105.6 1458 101.2 1455.3C96.8 1452.5 92.5 1449 88.9 1445.2C85.3 1441.3 82 1436.7 79.5 1431.9C76.9 1427.2 74.9 1421.9 73.6 1416.6C72.2 1411.2 71.5 1405.5 71.5 1400C71.5 1394.5 72.2 1388.8 73.6 1383.5C74.9 1378.2 76.9 1372.9 79.5 1368.1C82 1363.4 85.3 1358.8 88.9 1354.9C92.5 1351 96.8 1347.6 101.2 1344.8C105.6 1342 110.6 1339.9 115.5 1338.4C120.5 1337 125.8 1336.3 130.9 1336.3C136 1336.3 141.3 1337 146.2 1338.4C151.2 1339.9 156.1 1342 160.5 1344.8C165 1347.6 169.2 1351 172.8 1354.9C176.5 1358.8 179.7 1363.4 182.3 1368.1C184.8 1372.9 186.9 1378.2 188.2 1383.5C189.5 1388.8 190.2 1394.5 190.2 1400Z"/>
<path class="c o" d="M140.7 1397.1C140.7 1404 135.6 1409.5 129.4 1409.5C123.2 1409.5 118.1 1404 118.1 1397.1C118.1 1390.2 123.2 1384.6 129.4 1384.6C135.6 1384.6 140.7 1390.2 140.7 1397.1Z"/>
</g></g>
<g id="p21" clip-path="url(#cp21)"><g transform="scale(1.0 1)">
<path class="c b" d="M933.7 1245.8C920.4 1246.3 905 1251 895.1 1256.1C885.3 1261.3 878.1 1269 874.4 1276.9C870.7 1284.8 870.9 1294.2 872.9 1303.6C874.9 1313 880.1 1324.4 886.2 1333.3C892.4 1342.2 900.6 1350.6 910 1357C919.4 1363.5 932.2 1369.1 942.6 1371.9C953 1374.6 963.4 1374.8 972.3 1373.3C981.2 1371.9 989.6 1369.1 996 1363C1002.5 1356.8 1007.9 1346.1 1010.9 1336.3C1013.8 1326.4 1015.3 1314 1013.8 1303.6C1012.3 1293.2 1008.4 1282.4 1002 1273.9C995.5 1265.5 986.6 1257.9 975.3 1253.2C963.9 1248.5 947.1 1245.3 933.7 1245.8Z"/>
<path class="c b" d="M933.7 1585.2C920.4 1584.7 905 1580 895.1 1574.8C885.3 1569.6 878.1 1561.9 874.4 1554C870.7 1546.1 870.9 1536.7 872.9 1527.3C874.9 1517.9 880.1 1506.6 886.2 1497.7C892.4 1488.8 900.6 1480.4 910 1473.9C919.4 1467.5 932.2 1461.8 942.6 1459.1C953 1456.4 963.4 1456.1 972.3 1457.6C981.2 1459.1 989.6 1461.8 996 1468C1002.5 1474.2 1007.9 1484.8 1010.9 1494.7C1013.8 1504.6 1015.3 1516.9 1013.8 1527.3C1012.3 1537.7 1008.4 1548.6 1002 1557C995.5 1565.4 986.6 1573.1 975.3 1577.8C963.9 1582.5 947.1 1585.7 933.7 1585.2Z"/>
<path class="c b" d="M933.7 1223.5C916.9 1224 897.6 1229.9 883.3 1235.4C868.9 1240.8 855.6 1248.2 847.7 1256.1C839.8 1264.1 836.8 1273.5 835.8 1282.8C834.8 1292.2 837.8 1302.6 841.7 1312.5C845.7 1322.4 851.6 1332.3 859.5 1342.2C867.5 1352.1 877.8 1363 889.2 1371.9C900.6 1380.8 914.4 1390.4 927.8 1395.6C941.1 1400.8 956.5 1403.5 969.3 1403C982.2 1402.5 994.5 1399.3 1004.9 1392.6C1015.3 1386 1025.4 1373.8 1031.6 1363C1037.8 1352.1 1041 1339.2 1042 1327.4C1043 1315.5 1041.3 1303.1 1037.6 1291.7C1033.9 1280.4 1028.7 1269 1019.8 1259.1C1010.9 1249.2 998.5 1238.3 984.2 1232.4C969.8 1226.5 950.5 1223 933.7 1223.5Z"/>
<path class="c b" d="M933.7 1607.4C916.9 1606.9 897.6 1601 883.3 1595.6C868.9 1590.1 855.6 1582.7 847.7 1574.8C839.8 1566.9 836.8 1557.5 835.8 1548.1C834.8 1538.7 837.8 1528.3 841.7 1518.4C845.7 1508.5 851.6 1498.6 859.5 1488.8C867.5 1478.9 877.8 1468 889.2 1459.1C900.6 1450.2 914.4 1440.5 927.8 1435.4C941.1 1430.2 956.5 1427.4 969.3 1427.9C982.2 1428.4 994.5 1431.6 1004.9 1438.3C1015.3 1445 1025.4 1457.1 1031.6 1468C1037.8 1478.9 1041 1491.7 1042 1503.6C1043 1515.5 1041.3 1527.8 1037.6 1539.2C1033.9 1550.6 1028.7 1561.9 1019.8 1571.8C1010.9 1581.7 998.5 1592.6 984.2 1598.5C969.8 1604.5 950.5 1607.9 933.7 1607.4Z"/>
<path class="c b" d="M1019.8 1415.5C1019.8 1407.9 1023.2 1401.4 1028.7 1392.6C1034.1 1383.9 1046 1373.8 1052.4 1363C1058.8 1352.1 1064.5 1339.2 1067.2 1327.4C1070 1315.5 1071.2 1304.1 1068.7 1291.7C1066.2 1279.4 1060.1 1265 1052.4 1253.2C1044.7 1241.3 1035.1 1228.9 1022.7 1220.5C1010.4 1212.1 993.1 1206.4 978.2 1202.7C963.4 1199 948.5 1197.8 933.7 1198.3C918.9 1198.8 903.1 1201.5 889.2 1205.7C875.4 1209.9 863 1217.6 850.6 1223.5C838.3 1229.4 827.9 1236.9 815 1241.3C802.2 1245.8 786.4 1247.7 773.5 1250.2C760.6 1252.7 747.3 1253.2 737.9 1256.1C728.5 1259.1 721.7 1262.6 717.1 1268C712.6 1273.5 711.1 1281.4 710.6 1288.8C710.1 1296.2 711.6 1305.6 714.2 1312.5C716.7 1319.4 721.1 1326.6 726 1330.3C731 1334 736.9 1335.8 743.8 1334.8C750.7 1333.8 759.6 1328.1 767.6 1324.4C775.5 1320.7 784.4 1315.2 791.3 1312.5C798.2 1309.8 804.2 1307.6 809.1 1308.1C814 1308.6 818 1310.8 821 1315.5C823.9 1320.2 824.9 1328.3 826.9 1336.3C828.9 1344.2 829.4 1354.5 832.8 1363C836.3 1371.4 840.7 1380.3 847.7 1386.7C854.6 1393.1 865 1397.6 874.4 1401.5C883.8 1405.5 895.9 1408.1 904 1410.4C912.2 1412.8 923.3 1413.8 923.3 1415.5C923.3 1417.2 912.2 1418.2 904 1420.5C895.9 1422.8 883.8 1425.5 874.4 1429.4C865 1433.4 854.6 1437.8 847.7 1444.3C840.7 1450.7 836.3 1459.6 832.8 1468C829.4 1476.4 828.9 1486.8 826.9 1494.7C824.9 1502.6 823.9 1510.8 821 1515.5C818 1520.2 814 1522.4 809.1 1522.9C804.2 1523.4 798.2 1521.1 791.3 1518.4C784.4 1515.7 775.5 1510.3 767.6 1506.6C759.6 1502.9 750.7 1497.2 743.8 1496.2C736.9 1495.2 731 1496.9 726 1500.6C721.1 1504.3 716.7 1511.5 714.2 1518.4C711.6 1525.4 710.1 1534.7 710.6 1542.2C711.1 1549.6 712.6 1557.5 717.1 1562.9C721.7 1568.4 728.5 1571.8 737.9 1574.8C747.3 1577.8 760.6 1578.3 773.5 1580.7C786.4 1583.2 802.2 1585.2 815 1589.6C827.9 1594.1 838.3 1601.5 850.6 1607.4C863 1613.4 875.4 1621 889.2 1625.2C903.1 1629.4 918.9 1632.2 933.7 1632.7C948.5 1633.2 963.4 1631.9 978.2 1628.2C993.1 1624.5 1010.4 1618.8 1022.7 1610.4C1035.1 1602 1044.7 1589.6 1052.4 1577.8C1060.1 1565.9 1066.2 1551.6 1068.7 1539.2C1071.2 1526.8 1070 1515.5 1067.2 1503.6C1064.5 1491.7 1058.8 1478.9 1052.4 1468C1046 1457.1 1034.1 1447.1 1028.7 1438.3C1023.2 1429.6 1019.8 1423.1 1019.8 1415.5Z"/>
<path class="c b" d="M740.9 1415.5C740.9 1407.9 749.3 1398.2 755.7 1392.6C762.1 1387.1 770.5 1384 779.4 1382.2C788.3 1380.5 800.2 1380.5 809.1 1382.2C818 1384 826.4 1388.4 832.8 1392.6C839.3 1396.8 845 1403.7 847.7 1407.5C850.4 1411.3 849.2 1412.8 849.2 1415.5C849.2 1418.1 850.4 1419.7 847.7 1423.5C845 1427.3 839.3 1434.1 832.8 1438.3C826.4 1442.5 818 1447 809.1 1448.7C800.2 1450.4 788.3 1450.4 779.4 1448.7C770.5 1447 762.1 1443.9 755.7 1438.3C749.3 1432.8 740.9 1423.1 740.9 1415.5Z"/>
<path class="c b" d="M794.3 1190.3C787.8 1191.9 769 1195.7 755.7 1199.8C742.3 1203.8 728 1208.2 714.2 1214.6C700.3 1221 685.5 1229.4 672.6 1238.3C659.8 1247.2 646.7 1257.1 637 1268C627.4 1278.9 618.5 1291.7 614.8 1303.6C611 1315.5 612.5 1328.3 614.8 1339.2C617 1350.1 621.9 1360.5 628.1 1368.9C634.3 1377.3 642.9 1384.2 651.8 1389.7C660.7 1395.1 672.1 1398.1 681.5 1401.5C690.9 1405 701 1408.1 708.2 1410.4C715.4 1412.8 724.5 1413.8 724.5 1415.5C724.5 1417.2 715.4 1418.2 708.2 1420.5C701 1422.8 690.9 1426 681.5 1429.4C672.1 1432.9 660.7 1435.8 651.8 1441.3C642.9 1446.7 634.3 1453.6 628.1 1462.1C621.9 1470.5 617 1480.8 614.8 1491.7C612.5 1502.6 611 1515.5 614.8 1527.3C618.5 1539.2 627.4 1552.1 637 1562.9C646.7 1573.8 659.8 1583.7 672.6 1592.6C685.5 1601.5 700.3 1609.9 714.2 1616.3C728 1622.8 742.3 1627.1 755.7 1631.2C769 1635.2 787.8 1639.1 794.3 1640.7"/>
<path class="c b" d="M1006.4 1189.4C1011.6 1193.1 1025.4 1202.2 1037.6 1211.6C1049.7 1221 1072.2 1240.1 1079.1 1245.8"/>
<path class="c b" d="M1079.1 1587C1072.2 1591.7 1050.4 1606 1037.6 1615.2C1024.7 1624.3 1007.9 1637.4 1002 1641.9"/>
<path class="c b" d="M1079.1 1404.5C1078.2 1405.5 1074.8 1408.5 1073.8 1410.4C1072.7 1412.4 1072.6 1414.4 1072.6 1416.4C1072.6 1418.3 1072.7 1420.3 1073.8 1422.3C1074.8 1424.3 1078.2 1427.2 1079.1 1428.2"/>
<path class="c o" d="M536.1 1297.7C540.3 1295 552 1287.8 561.4 1281.4C570.7 1274.9 582.4 1266.3 592.5 1259.1C602.6 1251.9 612.8 1242.8 622.2 1238.3C631.6 1233.9 639 1231.9 648.9 1232.4C658.8 1232.9 671.1 1237.4 681.5 1241.3C691.9 1245.3 701.3 1251.7 711.2 1256.1C721.1 1260.6 731 1263.6 740.9 1268C750.7 1272.5 762.1 1276.4 770.5 1282.8C778.9 1289.3 785.9 1297.7 791.3 1306.6C796.7 1315.5 800.4 1326.4 803.2 1336.3C805.9 1346.1 806.1 1357.5 807.6 1365.9C809.1 1374.3 809.3 1380.8 812.1 1386.7C814.8 1392.6 820 1396.7 823.9 1401.5C827.9 1406.3 835.8 1410.8 835.8 1415.5C835.8 1420.1 827.9 1424.6 823.9 1429.4C820 1434.2 814.8 1438.3 812.1 1444.3C809.3 1450.2 809.1 1456.6 807.6 1465C806.1 1473.4 805.9 1484.8 803.2 1494.7C800.4 1504.6 796.7 1515.5 791.3 1524.4C785.9 1533.3 778.9 1541.7 770.5 1548.1C762.1 1554.5 750.7 1558.5 740.9 1562.9C731 1567.4 721.1 1570.4 711.2 1574.8C701.3 1579.3 691.9 1585.7 681.5 1589.6C671.1 1593.6 658.8 1598 648.9 1598.5C639 1599 631.6 1597.1 622.2 1592.6C612.8 1588.2 602.6 1579 592.5 1571.8C582.4 1564.7 570.7 1556 561.4 1549.6C552 1543.2 540.3 1536 536.1 1533.3"/>
<path class="c o" d="M694.9 1415.5C694.9 1417.4 694.5 1419.1 693.9 1421.2C693.3 1423.4 692.3 1425.9 691 1428.2C689.8 1430.6 688.2 1433 686.5 1435.2C684.7 1437.5 682.6 1439.7 680.5 1441.7C678.3 1443.7 675.8 1445.6 673.4 1447.2C670.9 1448.8 668.3 1450.3 665.7 1451.4C663.2 1452.6 660.5 1453.5 658.1 1454C655.8 1454.6 653.7 1454.9 651.8 1454.9C650 1454.9 649 1454.6 647.3 1454C645.6 1453.5 643.6 1452.6 641.8 1451.4C639.9 1450.3 638 1448.8 636.2 1447.2C634.5 1445.6 632.7 1443.7 631.1 1441.7C629.5 1439.7 628 1437.5 626.8 1435.2C625.5 1433 624.4 1430.6 623.5 1428.2C622.6 1425.9 621.9 1423.4 621.4 1421.2C620.9 1419.1 620.7 1417.4 620.7 1415.5C620.7 1413.6 620.9 1411.9 621.4 1409.7C621.9 1407.6 622.6 1405.1 623.5 1402.8C624.4 1400.5 625.5 1398.1 626.8 1395.9C628 1393.6 629.5 1391.4 631.1 1389.4C632.7 1387.4 634.5 1385.6 636.2 1384C638 1382.3 639.9 1380.9 641.8 1379.8C643.6 1378.7 645.6 1377.8 647.3 1377.2C649 1376.6 650 1376.3 651.8 1376.3C653.7 1376.3 655.8 1376.6 658.1 1377.2C660.5 1377.8 663.2 1378.7 665.7 1379.8C668.3 1380.9 670.9 1382.3 673.4 1384C675.8 1385.6 678.3 1387.4 680.5 1389.4C682.6 1391.4 684.7 1393.6 686.5 1395.9C688.2 1398.1 689.8 1400.5 691 1402.8C692.3 1405.1 693.3 1407.6 693.9 1409.7C694.5 1411.9 694.9 1413.6 694.9 1415.5Z"/>
<path class="c o" d="M732 1415.5C732 1418.5 731.3 1421.1 730 1424.6C728.8 1428.2 726.8 1432.6 724.4 1436.7C722 1440.8 718.9 1445.3 715.5 1449.3C712 1453.4 708 1457.6 703.8 1461.3C699.6 1465 694.9 1468.5 690.3 1471.5C685.6 1474.6 680.6 1477.3 676 1479.4C671.3 1481.6 666.3 1483.3 662.2 1484.4C658.2 1485.5 654.7 1486.1 651.8 1486.1C649 1486.1 647.6 1485.5 644.9 1484.4C642.2 1483.3 638.9 1481.6 635.8 1479.4C632.7 1477.3 629.3 1474.6 626.2 1471.5C623.1 1468.5 620 1465 617.2 1461.3C614.4 1457.6 611.7 1453.4 609.4 1449.3C607.2 1445.3 605.1 1440.8 603.5 1436.7C601.9 1432.6 600.6 1428.2 599.7 1424.6C598.9 1421.1 598.4 1418.5 598.4 1415.5C598.4 1412.5 598.9 1410 599.7 1406.5C600.6 1403.1 601.9 1398.8 603.5 1394.8C605.1 1390.7 607.2 1386.4 609.4 1382.5C611.7 1378.5 614.4 1374.4 617.2 1370.8C620 1367.2 623.1 1363.8 626.2 1360.8C629.3 1357.9 632.7 1355.2 635.8 1353.1C638.9 1351 642.2 1349.4 644.9 1348.3C647.6 1347.2 649 1346.6 651.8 1346.6C654.7 1346.6 658.2 1347.2 662.2 1348.3C666.3 1349.4 671.3 1351 676 1353.1C680.6 1355.2 685.6 1357.9 690.3 1360.8C694.9 1363.8 699.6 1367.2 703.8 1370.8C708 1374.4 712 1378.5 715.5 1382.5C718.9 1386.4 722 1390.7 724.4 1394.8C726.8 1398.8 728.8 1403.1 730 1406.5C731.3 1410 732 1412.5 732 1415.5Z"/>
<path class="c o" d="M755.7 1415.5C755.7 1420 754.9 1424.2 753.3 1429.3C751.8 1434.3 749.4 1440.4 746.5 1445.9C743.5 1451.5 739.7 1457.3 735.4 1462.7C731.2 1468.1 726.2 1473.5 720.9 1478.2C715.7 1483 709.8 1487.5 703.9 1491.4C697.9 1495.3 691.5 1498.7 685.4 1501.4C679.3 1504.1 672.6 1506.3 667 1507.7C661.4 1509.1 656.2 1509.8 651.8 1509.8C647.5 1509.8 644.9 1509.1 640.8 1507.7C636.7 1506.3 631.9 1504.1 627.4 1501.4C622.9 1498.7 618.3 1495.3 614 1491.4C609.6 1487.5 605.4 1483 601.5 1478.2C597.7 1473.5 594.1 1468.1 591 1462.7C587.9 1457.3 585.1 1451.5 582.9 1445.9C580.7 1440.4 579 1434.3 577.9 1429.3C576.8 1424.2 576.2 1420 576.2 1415.5C576.2 1410.9 576.8 1406.9 577.9 1401.9C579 1397 580.7 1391 582.9 1385.6C585.1 1380.1 587.9 1374.4 591 1369.1C594.1 1363.8 597.7 1358.6 601.5 1353.9C605.4 1349.2 609.6 1344.8 614 1341C618.3 1337.2 622.9 1333.8 627.4 1331.1C631.9 1328.5 636.7 1326.4 640.8 1325C644.9 1323.6 647.5 1322.9 651.8 1322.9C656.2 1322.9 661.4 1323.6 667 1325C672.6 1326.4 679.3 1328.5 685.4 1331.1C691.5 1333.8 697.9 1337.2 703.9 1341C709.8 1344.8 715.7 1349.2 720.9 1353.9C726.2 1358.6 731.2 1363.8 735.4 1369.1C739.7 1374.4 743.5 1380.1 746.5 1385.6C749.4 1391 751.8 1397 753.3 1401.9C754.9 1406.9 755.7 1410.9 755.7 1415.5Z"/>
<path class="c o" d="M777.9 1415.5C777.9 1421.8 777 1427.9 775.3 1434.7C773.5 1441.5 770.8 1449 767.3 1456.1C763.9 1463.1 759.5 1470.3 754.6 1476.9C749.6 1483.6 743.8 1490 737.6 1495.8C731.5 1501.6 724.5 1507 717.5 1511.7C710.4 1516.3 702.7 1520.4 695.2 1523.6C687.7 1526.8 679.6 1529.4 672.4 1531C665.1 1532.7 657.9 1533.6 651.8 1533.6C645.8 1533.6 641.7 1532.7 636.2 1531C630.6 1529.4 624.4 1526.8 618.7 1523.6C612.9 1520.4 607.1 1516.3 601.7 1511.7C596.3 1507 591 1501.6 586.2 1495.8C581.5 1490 577.1 1483.6 573.3 1476.9C569.5 1470.3 566.2 1463.1 563.5 1456.1C560.9 1449 558.8 1441.5 557.5 1434.7C556.1 1427.9 555.4 1421.8 555.4 1415.5C555.4 1409.1 556.1 1403.2 557.5 1396.6C558.8 1389.9 560.9 1382.4 563.5 1375.5C566.2 1368.5 569.5 1361.5 573.3 1354.9C577.1 1348.4 581.5 1342 586.2 1336.3C591 1330.6 596.3 1325.3 601.7 1320.7C607.1 1316.2 612.9 1312.1 618.7 1309C624.4 1305.8 630.6 1303.3 636.2 1301.6C641.7 1300 645.8 1299.2 651.8 1299.2C657.9 1299.2 665.1 1300 672.4 1301.6C679.6 1303.3 687.7 1305.8 695.2 1309C702.7 1312.1 710.4 1316.2 717.5 1320.7C724.5 1325.3 731.5 1330.6 737.6 1336.3C743.8 1342 749.6 1348.4 754.6 1354.9C759.5 1361.5 763.9 1368.5 767.3 1375.5C770.8 1382.4 773.5 1389.9 775.3 1396.6C777 1403.2 777.9 1409.1 777.9 1415.5Z"/>
<path class="c o" d="M800.2 1415.5C800.2 1423.8 799.2 1432.1 797.2 1440.6C795.2 1449.1 792.2 1458.1 788.3 1466.5C784.5 1474.9 779.6 1483.3 774 1491.1C768.4 1498.8 761.9 1506.3 754.8 1512.9C747.8 1519.6 739.9 1525.8 731.8 1531C723.6 1536.3 714.7 1540.9 705.8 1544.6C696.9 1548.2 687.4 1551.1 678.4 1553C669.4 1554.8 659.8 1555.8 651.8 1555.8C643.9 1555.8 638 1554.8 630.9 1553C623.8 1551.1 616.2 1548.2 609.2 1544.6C602.2 1540.9 595.2 1536.3 588.7 1531C582.3 1525.8 576 1519.6 570.5 1512.9C564.9 1506.3 559.8 1498.8 555.3 1491.1C550.9 1483.3 547.1 1474.9 544 1466.5C541 1458.1 538.6 1449.1 537 1440.6C535.5 1432.1 534.6 1423.8 534.6 1415.5C534.6 1407.2 535.5 1399.1 537 1390.7C538.6 1382.3 541 1373.4 544 1365.1C547.1 1356.8 550.9 1348.5 555.3 1340.8C559.8 1333.2 564.9 1325.8 570.5 1319.3C576 1312.7 582.3 1306.6 588.7 1301.4C595.2 1296.2 602.2 1291.6 609.2 1288C616.2 1284.4 623.8 1281.6 630.9 1279.7C638 1277.9 643.9 1276.9 651.8 1276.9C659.8 1276.9 669.4 1277.9 678.4 1279.7C687.4 1281.6 696.9 1284.4 705.8 1288C714.7 1291.6 723.6 1296.2 731.8 1301.4C739.9 1306.6 747.8 1312.7 754.8 1319.3C761.9 1325.8 768.4 1333.2 774 1340.8C779.6 1348.5 784.5 1356.8 788.3 1365.1C792.2 1373.4 795.2 1382.3 797.2 1390.7C799.2 1399.1 800.2 1407.2 800.2 1415.5Z"/>
<path class="c o" d="M656.9 1415.5C656.9 1419.6 653.6 1422.9 649.5 1422.9C645.4 1422.9 642.1 1419.6 642.1 1415.5C642.1 1411.4 645.4 1408.1 649.5 1408.1C653.6 1408.1 656.9 1411.4 656.9 1415.5Z"/>
</g></g>
<g id="p22" clip-path="url(#cp22)"><g transform="scale(1.0 1)">
<path class="c b" d="M1378.5 1272.5C1369.1 1273 1356.5 1274.2 1348.9 1278.4C1341.2 1282.6 1334.5 1291 1332.5 1297.7C1330.6 1304.4 1332.8 1312.8 1337 1318.5C1341.2 1324.1 1350.4 1329.1 1357.8 1331.8C1365.2 1334.5 1373.1 1335.5 1381.5 1334.8C1389.9 1334 1401 1331.6 1408.2 1327.4C1415.4 1323.1 1422.1 1316 1424.5 1309.5C1427 1303.1 1426.3 1294.5 1423 1288.8C1419.8 1283.1 1412.7 1278.1 1405.2 1275.4C1397.8 1272.7 1387.9 1272 1378.5 1272.5Z"/>
<path class="c b" d="M1375.6 1238.3C1363.2 1239.6 1342.9 1241.8 1328.1 1247.2C1313.3 1252.7 1296.9 1262.1 1286.6 1271C1276.2 1279.9 1268.3 1291.3 1265.8 1300.6C1263.3 1310 1267.3 1319.4 1271.7 1327.4C1276.2 1335.3 1283.1 1341.7 1292.5 1348.1C1301.9 1354.5 1315.2 1361.2 1328.1 1365.9C1341 1370.6 1356.3 1375.3 1369.6 1376.3C1383 1377.3 1395.8 1375.6 1408.2 1371.9C1420.6 1368.1 1434.2 1361.5 1443.8 1354.1C1453.5 1346.6 1461.4 1336.7 1466.1 1327.4C1470.8 1318 1473.2 1307.6 1472 1297.7C1470.8 1287.8 1465.8 1276.4 1458.6 1268C1451.5 1259.6 1438.4 1251.9 1429 1247.2C1419.6 1242.5 1411.2 1241.3 1402.3 1239.8C1393.4 1238.3 1387.9 1237.1 1375.6 1238.3Z"/>
<path class="c b" d="M1348.9 1638.9C1344.4 1636.4 1331.6 1630 1322.2 1624.1C1312.8 1618.1 1302.9 1611.2 1292.5 1603.3C1282.1 1595.4 1268.8 1585.5 1259.9 1576.6C1251 1567.7 1244 1559.8 1239.1 1549.9C1234.1 1540 1230.2 1527.6 1230.2 1517.2C1230.2 1506.9 1234.1 1497 1239.1 1487.6C1244 1478.2 1252.9 1469.3 1259.9 1460.9C1266.8 1452.5 1276.2 1445 1280.6 1437.1C1285.1 1429.2 1288 1421.3 1286.6 1413.4C1285.1 1405.5 1279.1 1397.1 1271.7 1389.7C1264.3 1382.2 1251 1376.8 1242.1 1368.9C1233.2 1361 1224.3 1351.6 1218.3 1342.2C1212.4 1332.8 1206.9 1322.4 1206.5 1312.5C1206 1302.6 1208.9 1292.7 1215.4 1282.8C1221.8 1273 1233.2 1262.1 1245 1253.2C1256.9 1244.3 1271.7 1236.4 1286.6 1229.4C1301.4 1222.5 1318.2 1215.1 1334 1211.6C1349.9 1208.2 1364.2 1207.7 1381.5 1208.7C1398.8 1209.7 1422.1 1212.6 1437.9 1217.6C1453.7 1222.5 1466.1 1229.9 1476.5 1238.3C1486.8 1246.7 1494.5 1257.6 1500.2 1268C1505.9 1278.4 1510.1 1289.8 1510.6 1300.6C1511.1 1311.5 1507.9 1322.9 1503.2 1333.3C1498.5 1343.7 1489.3 1354.1 1482.4 1363C1475.5 1371.9 1466.3 1378.8 1461.6 1386.7C1456.9 1394.6 1453.7 1402.5 1454.2 1410.4C1454.7 1418.3 1459.4 1425.8 1464.6 1434.2C1469.8 1442.6 1478.4 1451.5 1485.4 1460.9C1492.3 1470.3 1501.4 1479.7 1506.1 1490.5C1510.8 1501.4 1513 1514.8 1513.5 1526.1C1514 1537.5 1513.3 1547.4 1509.1 1558.8C1504.9 1570.2 1497.7 1584 1488.3 1594.4C1478.9 1604.8 1465.6 1613.7 1452.7 1621.1C1439.9 1628.5 1418.1 1635.9 1411.2 1638.9"/>
<path class="c b" d="M1378.5 1500.9C1370.1 1501.4 1358.5 1503.6 1351.8 1508.3C1345.2 1513 1339.5 1522.2 1338.5 1529.1C1337.5 1536 1341.7 1544.2 1345.9 1549.9C1350.1 1555.6 1357.3 1560.5 1363.7 1563.2C1370.1 1566 1377.5 1566.9 1384.5 1566.2C1391.4 1565.5 1399.6 1563 1405.2 1558.8C1410.9 1554.6 1416.4 1547.4 1418.6 1541C1420.8 1534.5 1421.3 1526.1 1418.6 1520.2C1415.9 1514.3 1409 1508.6 1402.3 1505.4C1395.6 1502.2 1386.9 1500.4 1378.5 1500.9Z"/>
<path class="c b" d="M1381.5 1469.8C1370.6 1471 1351.8 1473.2 1340 1478.7C1328.1 1484.1 1316.7 1493.5 1310.3 1502.4C1303.9 1511.3 1300.9 1522.2 1301.4 1532.1C1301.9 1542 1306.8 1552.8 1313.3 1561.7C1319.7 1570.6 1329.6 1580 1340 1585.5C1350.4 1590.9 1363.7 1593.9 1375.6 1594.4C1387.4 1594.9 1400.3 1592.9 1411.2 1588.5C1422.1 1584 1433.4 1576.1 1440.8 1567.7C1448.3 1559.3 1454.2 1548.4 1455.7 1538C1457.2 1527.6 1454.2 1514.8 1449.7 1505.4C1445.3 1496 1436.4 1487.3 1429 1481.6C1421.6 1476 1413.2 1473.2 1405.2 1471.3C1397.3 1469.3 1392.4 1468.5 1381.5 1469.8Z"/>
<path class="c b" d="M1381.5 1438.6C1367.7 1439.6 1348.9 1442.8 1334 1449C1319.2 1455.2 1303.4 1465.8 1292.5 1475.7C1281.6 1485.6 1272.7 1497 1268.8 1508.3C1264.8 1519.7 1265.8 1533.1 1268.8 1543.9C1271.7 1554.8 1278.2 1564.2 1286.6 1573.6C1295 1583 1307.3 1593.4 1319.2 1600.3C1331.1 1607.2 1345.4 1612.4 1357.8 1615.2C1370.1 1617.9 1381 1618.1 1393.4 1616.6C1405.7 1615.2 1420.1 1611.9 1431.9 1606.3C1443.8 1600.6 1456.2 1591.9 1464.6 1582.5C1473 1573.1 1478.9 1560.3 1482.4 1549.9C1485.8 1539.5 1486.8 1530.6 1485.4 1520.2C1483.9 1509.8 1479.4 1497.5 1473.5 1487.6C1467.5 1477.7 1459.1 1468.3 1449.7 1460.9C1440.4 1453.5 1428.5 1446.8 1417.1 1443.1C1405.7 1439.4 1395.4 1437.6 1381.5 1438.6Z"/>
<path class="c b" d="M1274.7 1190.9C1268.8 1193.3 1251.5 1199.8 1239.1 1205.7C1226.7 1211.6 1212.4 1218.1 1200.5 1226.5C1188.6 1234.9 1176.8 1245.8 1167.9 1256.1C1159 1266.5 1151.3 1277.9 1147.1 1288.8C1142.9 1299.7 1141.7 1310.5 1142.7 1321.4C1143.6 1332.3 1148.3 1344.2 1153 1354.1C1157.7 1363.9 1164.9 1372.4 1170.8 1380.8C1176.8 1389.2 1184.2 1396.6 1188.6 1404.5C1193.1 1412.4 1197.1 1419.8 1197.5 1428.2C1198 1436.6 1194.6 1446 1191.6 1454.9C1188.6 1463.8 1182.5 1472.2 1179.7 1481.6C1177 1491 1174.8 1500.4 1175.3 1511.3C1175.8 1522.2 1178.5 1535.5 1182.7 1546.9C1186.9 1558.3 1193.1 1569.2 1200.5 1579.5C1207.9 1589.9 1216.8 1599.3 1227.2 1609.2C1237.6 1619.1 1256.9 1633.9 1262.8 1638.9"/>
<path class="c b" d="M1477.9 1190.9C1482.6 1193.8 1497 1200.8 1506.1 1208.7C1515.3 1216.6 1525.4 1227.5 1532.8 1238.3C1540.2 1249.2 1547.2 1262.1 1550.6 1273.9C1554.1 1285.8 1555.1 1297.7 1553.6 1309.5C1552.1 1321.4 1546.7 1333.3 1541.7 1345.2C1536.8 1357 1528.1 1369.9 1523.9 1380.8C1519.7 1391.6 1517 1400.5 1516.5 1410.4C1516 1420.3 1517.7 1429.7 1521 1440.1C1524.2 1450.5 1531.1 1461.9 1535.8 1472.7C1540.5 1483.6 1546.2 1494 1549.1 1505.4C1552.1 1516.7 1554.3 1529.1 1553.6 1541C1552.9 1552.8 1549.6 1565.2 1544.7 1576.6C1539.7 1588 1532.6 1598.8 1523.9 1609.2C1515.3 1619.6 1498 1633.9 1492.8 1638.9"/>
<path class="c o" d="M1209.4 1355.5C1202 1356 1192.6 1362.2 1185.7 1368.9C1178.8 1375.6 1172.1 1386.2 1167.9 1395.6C1163.7 1405 1161 1415.4 1160.5 1425.3C1160 1435.2 1161.7 1446 1164.9 1454.9C1168.1 1463.8 1173.8 1472.2 1179.7 1478.7C1185.7 1485.1 1193.1 1490.3 1200.5 1493.5C1207.9 1496.7 1216.8 1498.5 1224.3 1498C1231.7 1497.5 1239.6 1494.7 1245 1490.5C1250.5 1486.3 1254.7 1480.2 1256.9 1472.7C1259.1 1465.3 1259.4 1455.4 1258.4 1446C1257.4 1436.6 1253.7 1426.3 1251 1416.4C1248.2 1406.5 1245.5 1395.1 1242.1 1386.7C1238.6 1378.3 1235.6 1371.1 1230.2 1365.9C1224.7 1360.7 1216.8 1355 1209.4 1355.5Z"/>
<path class="c o" d="M1227.2 1282.8C1218.3 1283.8 1207.4 1286.3 1197.5 1291.7C1187.7 1297.2 1176.8 1306.1 1167.9 1315.5C1159 1324.9 1150.6 1336.3 1144.1 1348.1C1137.7 1360 1132.5 1373.8 1129.3 1386.7C1126.1 1399.5 1124.4 1412.9 1124.9 1425.3C1125.4 1437.6 1128.1 1449.5 1132.3 1460.9C1136.5 1472.2 1142.7 1483.6 1150.1 1493.5C1157.5 1503.4 1166.9 1513.3 1176.8 1520.2C1186.7 1527.1 1198 1531.6 1209.4 1535C1220.8 1538.5 1233.2 1541 1245 1541C1256.9 1541 1270.2 1538.5 1280.6 1535C1291 1531.6 1300.4 1526.6 1307.3 1520.2C1314.3 1513.8 1319.7 1504.9 1322.2 1496.5C1324.6 1488.1 1324.1 1479.2 1322.2 1469.8C1320.2 1460.4 1314.3 1450 1310.3 1440.1C1306.3 1430.2 1301.9 1420.3 1298.4 1410.4C1295 1400.5 1291.8 1390.6 1289.5 1380.8C1287.3 1370.9 1286.6 1361.5 1285.1 1351.1C1283.6 1340.7 1283.3 1327.4 1280.6 1318.5C1277.9 1309.5 1273.7 1303.1 1268.8 1297.7C1263.8 1292.2 1257.9 1288.3 1251 1285.8C1244 1283.3 1236.1 1281.9 1227.2 1282.8Z"/>
<path class="c o" d="M1245 1235.4C1234.1 1236.1 1219.3 1236.9 1206.5 1241.3C1193.6 1245.8 1179.7 1253.2 1167.9 1262.1C1156 1271 1145.1 1281.9 1135.2 1294.7C1125.4 1307.6 1115.2 1323.9 1108.5 1339.2C1101.9 1354.5 1097.7 1371.4 1095.2 1386.7C1092.7 1402 1092.5 1416.9 1093.7 1431.2C1094.9 1445.5 1097.7 1459.9 1102.6 1472.7C1107.5 1485.6 1115 1497.5 1123.4 1508.3C1131.8 1519.2 1141.7 1529.1 1153 1538C1164.4 1546.9 1178.3 1555.8 1191.6 1561.7C1205 1567.7 1219.3 1571.1 1233.2 1573.6C1247 1576.1 1260.8 1577.6 1274.7 1576.6C1288.5 1575.6 1303.4 1572.1 1316.2 1567.7C1329.1 1563.2 1341 1557.8 1351.8 1549.9C1362.7 1542 1374.1 1530.1 1381.5 1520.2C1388.9 1510.3 1394.4 1500.4 1396.3 1490.5C1398.3 1480.6 1396.3 1470.3 1393.4 1460.9C1390.4 1451.5 1384.5 1442.6 1378.5 1434.2C1372.6 1425.8 1363.7 1418.3 1357.8 1410.4C1351.8 1402.5 1346.4 1395.6 1342.9 1386.7C1339.5 1377.8 1338 1366.9 1337 1357C1336 1347.1 1337.5 1337.2 1337 1327.4C1336.5 1317.5 1337 1307.6 1334 1297.7C1331.1 1287.8 1325.1 1276.4 1319.2 1268C1313.3 1259.6 1306.3 1252.4 1298.4 1247.2C1290.5 1242 1280.6 1238.8 1271.7 1236.9C1262.8 1234.9 1255.9 1234.6 1245 1235.4Z"/>
<path class="c o" d="M1209.4 1190.9C1204.5 1193.3 1190.1 1199.3 1179.7 1205.7C1169.4 1212.1 1157.5 1220 1147.1 1229.4C1136.7 1238.8 1126.3 1251.7 1117.4 1262.1C1108.5 1272.5 1100.4 1282.8 1093.7 1291.7C1087 1300.6 1080.1 1311.5 1077.4 1315.5"/>
<path class="c o" d="M1298.4 1190.9C1304.4 1193.3 1323.2 1200.3 1334 1205.7C1344.9 1211.1 1354.3 1216.1 1363.7 1223.5C1373.1 1230.9 1382.5 1240.8 1390.4 1250.2C1398.3 1259.6 1404.7 1269.5 1411.2 1279.9C1417.6 1290.3 1423.5 1301.1 1429 1312.5C1434.4 1323.9 1438.9 1335.8 1443.8 1348.1C1448.8 1360.5 1454.7 1374.3 1458.6 1386.7C1462.6 1399.1 1465.6 1410.4 1467.5 1422.3C1469.5 1434.2 1471 1446 1470.5 1457.9C1470 1469.8 1468 1481.6 1464.6 1493.5C1461.1 1505.4 1456.7 1517.7 1449.7 1529.1C1442.8 1540.5 1433.4 1551.9 1423 1561.7C1412.7 1571.6 1400.3 1580.5 1387.4 1588.5C1374.6 1596.4 1359.7 1604.5 1345.9 1609.2C1332.1 1613.9 1318.7 1615.2 1304.4 1616.6C1290 1618.1 1274.7 1619.1 1259.9 1618.1C1245 1617.1 1230.2 1614.7 1215.4 1610.7C1200.5 1606.7 1184.7 1601.1 1170.8 1594.4C1157 1587.7 1144.1 1579.1 1132.3 1570.6C1120.4 1562.2 1108.8 1552.4 1099.6 1543.9C1090.5 1535.5 1081.1 1524.2 1077.4 1520.2"/>
</g></g>
<g id="p23" clip-path="url(#cp23)"><g transform="scale(1.0 1)">
<path class="c b" d="M1929.2 1268C1931.2 1263.8 1935.1 1262.3 1941 1260.6C1947 1258.9 1957.4 1257.4 1964.8 1257.6C1972.2 1257.9 1981.3 1259.4 1985.5 1262.1C1989.8 1264.8 1991 1269 1990 1273.9C1989 1278.9 1983.8 1286.3 1979.6 1291.7C1975.4 1297.2 1970.2 1303.1 1964.8 1306.6C1959.3 1310 1951.9 1313 1947 1312.5C1942 1312 1938.1 1308.1 1935.1 1303.6C1932.1 1299.2 1930.2 1291.7 1929.2 1285.8C1928.2 1279.9 1927.2 1272.2 1929.2 1268Z"/>
<path class="c b" d="M2015.2 1285.8C2009.8 1287.3 2000.9 1294.7 1994.5 1300.6C1988 1306.6 1980.9 1314.5 1976.6 1321.4C1972.4 1328.3 1968.7 1336.3 1969.2 1342.2C1969.7 1348.1 1973.9 1353.6 1979.6 1357C1985.3 1360.5 1995.9 1363.5 2003.4 1363C2010.8 1362.5 2018.9 1359 2024.1 1354.1C2029.3 1349.1 2032.5 1340.7 2034.5 1333.3C2036.5 1325.9 2037.2 1316.5 2036 1309.5C2034.8 1302.6 2030.5 1295.7 2027.1 1291.7C2023.6 1287.8 2020.7 1284.3 2015.2 1285.8Z"/>
<path class="c b" d="M1970.7 1236.9C1958.4 1237.6 1938.1 1239.1 1926.2 1242.8C1914.3 1246.5 1904.9 1252.4 1899.5 1259.1C1894.1 1265.8 1893.6 1273.9 1893.6 1282.8C1893.6 1291.7 1896 1302.6 1899.5 1312.5C1903 1322.4 1907.9 1333.3 1914.3 1342.2C1920.8 1351.1 1928.7 1359 1938.1 1365.9C1947.5 1372.8 1959.3 1380.3 1970.7 1383.7C1982.1 1387.2 1995.4 1388.7 2006.3 1386.7C2017.2 1384.7 2027.6 1379.3 2036 1371.9C2044.4 1364.4 2052.3 1353.1 2056.8 1342.2C2061.2 1331.3 2063.7 1318 2062.7 1306.6C2061.7 1295.2 2056.8 1283.3 2050.8 1273.9C2044.9 1264.5 2035.5 1256.1 2027.1 1250.2C2018.7 1244.3 2009.8 1240.6 2000.4 1238.3C1991 1236.1 1983.1 1236.1 1970.7 1236.9Z"/>
<path class="c b" d="M2009.3 1463.8C2002.9 1464.8 1990.5 1467.3 1982.6 1472.7C1974.7 1478.2 1967.7 1487.6 1961.8 1496.5C1955.9 1505.4 1951.2 1516.7 1947 1526.1C1942.8 1535.5 1937.8 1546.4 1936.6 1552.8C1935.4 1559.3 1935.4 1563 1939.6 1564.7C1943.8 1566.4 1952.7 1564.2 1961.8 1563.2C1971 1562.2 1984.6 1561 1994.5 1558.8C2004.3 1556.6 2014 1554.8 2021.2 1549.9C2028.3 1544.9 2034.3 1537 2037.5 1529.1C2040.7 1521.2 2041.2 1510.8 2040.4 1502.4C2039.7 1494 2036.2 1484.6 2033 1478.7C2029.8 1472.7 2025.1 1469.3 2021.2 1466.8C2017.2 1464.3 2015.7 1462.8 2009.3 1463.8Z"/>
<path class="c b" d="M2000.4 1435.6C1991.5 1437.1 1976.2 1440.3 1964.8 1446C1953.4 1451.7 1941.5 1460.4 1932.1 1469.8C1922.7 1479.2 1914.3 1491.5 1908.4 1502.4C1902.5 1513.3 1898.3 1525.2 1896.5 1535C1894.8 1544.9 1895.1 1554.3 1898 1561.7C1901 1569.2 1906.2 1575.3 1914.3 1579.5C1922.5 1583.8 1935.1 1585.5 1947 1587C1958.8 1588.5 1972.7 1589.2 1985.5 1588.5C1998.4 1587.7 2013.2 1586.5 2024.1 1582.5C2035 1578.6 2043.9 1572.6 2050.8 1564.7C2057.7 1556.8 2062.9 1545.4 2065.7 1535C2068.4 1524.7 2068.6 1513.3 2067.1 1502.4C2065.7 1491.5 2062 1479.2 2056.8 1469.8C2051.6 1460.4 2042.4 1451.5 2036 1446C2029.6 1440.6 2024.1 1438.9 2018.2 1437.1C2012.3 1435.4 2009.3 1434.2 2000.4 1435.6Z"/>
<path class="c b" d="M1970.7 1216.1C1986.5 1215.6 2001.4 1215.8 2015.2 1220.5C2029.1 1225.2 2042.9 1234.4 2053.8 1244.3C2064.7 1254.2 2074.6 1267.5 2080.5 1279.9C2086.4 1292.2 2089.4 1306.1 2089.4 1318.5C2089.4 1330.8 2085.4 1342.7 2080.5 1354.1C2075.5 1365.4 2066.6 1377.8 2059.7 1386.7C2052.8 1395.6 2043.4 1402.7 2039 1407.5C2034.5 1412.3 2032.5 1411 2033 1415.5C2033.5 1419.9 2036.5 1426.6 2041.9 1434.2C2047.4 1441.7 2058.2 1451.5 2065.7 1460.9C2073.1 1470.3 2081.7 1480.2 2086.4 1490.5C2091.1 1500.9 2093.8 1511.8 2093.8 1523.2C2093.8 1534.5 2091.6 1547.9 2086.4 1558.8C2081.2 1569.7 2073.1 1580.5 2062.7 1588.5C2052.3 1596.4 2038 1602 2024.1 1606.3C2010.3 1610.5 1994.9 1613.4 1979.6 1613.7C1964.3 1613.9 1947 1611.4 1932.1 1607.7C1917.3 1604 1901.7 1598.1 1890.6 1591.4C1879.5 1584.7 1870.3 1576.1 1865.4 1567.7C1860.4 1559.3 1860.2 1550.9 1860.9 1541C1861.7 1531.1 1865.9 1519.2 1869.8 1508.3C1873.8 1497.5 1879.2 1485.1 1884.7 1475.7C1890.1 1466.3 1896 1458.1 1902.5 1452C1908.9 1445.8 1915.3 1442.1 1923.2 1438.6C1931.2 1435.2 1940.1 1433.9 1949.9 1431.2C1959.8 1428.5 1972.9 1424.9 1982.6 1422.3C1992.2 1419.7 2007.8 1417.9 2007.8 1415.5C2007.8 1413 1992.2 1410.3 1982.6 1407.5C1972.9 1404.6 1960.8 1402.5 1949.9 1398.6C1939.1 1394.6 1926.2 1389.7 1917.3 1383.7C1908.4 1377.8 1903 1371.9 1896.5 1363C1890.1 1354.1 1884.2 1341.2 1878.7 1330.3C1873.3 1319.4 1867.1 1308.1 1863.9 1297.7C1860.7 1287.3 1857.5 1277.4 1859.5 1268C1861.4 1258.6 1865.6 1248.7 1875.8 1241.3C1885.9 1233.9 1904.5 1227.7 1920.3 1223.5C1936.1 1219.3 1954.9 1216.6 1970.7 1216.1Z"/>
<path class="c b" d="M2080.5 1415.5C2080.5 1410.5 2081 1405.3 2083.5 1398.6C2085.9 1391.8 2090.9 1383.7 2095.3 1374.8C2099.8 1365.9 2107 1356 2110.2 1345.2C2113.4 1334.3 2115.1 1321.4 2114.6 1309.5C2114.1 1297.7 2111.4 1285.8 2107.2 1273.9C2103 1262.1 2097.3 1248.7 2089.4 1238.3C2081.5 1228 2072.1 1218.6 2059.7 1211.6C2047.4 1204.7 2030.1 1199.8 2015.2 1196.8C2000.4 1193.8 1985.5 1193.3 1970.7 1193.8C1955.9 1194.3 1941 1195.8 1926.2 1199.8C1911.4 1203.7 1895.1 1212.1 1881.7 1217.6C1868.4 1223 1858 1228.2 1846.1 1232.4C1834.2 1236.6 1820.4 1239.3 1810.5 1242.8C1800.6 1246.3 1792.2 1249 1786.8 1253.2C1781.3 1257.4 1778.4 1261.6 1777.9 1268C1777.4 1274.4 1780.3 1283.8 1783.8 1291.7C1787.3 1299.7 1792.7 1308.1 1798.6 1315.5C1804.6 1322.9 1812 1331.3 1819.4 1336.3C1826.8 1341.2 1835.2 1343.2 1843.1 1345.2C1851 1347.1 1859.5 1345.6 1866.9 1348.1C1874.3 1350.6 1880.7 1354.5 1887.6 1360C1894.6 1365.4 1903 1373.8 1908.4 1380.8C1913.8 1387.7 1917.8 1395.7 1920.3 1401.5C1922.7 1407.3 1923.2 1410.8 1923.2 1415.5C1923.2 1420.2 1922.7 1423.9 1920.3 1429.7C1917.8 1435.5 1913.8 1443.6 1908.4 1450.5C1903 1457.4 1894.6 1465.8 1887.6 1471.3C1880.7 1476.7 1874.3 1480.4 1866.9 1483.1C1859.5 1485.8 1851 1484.9 1843.1 1487.6C1835.2 1490.3 1826.8 1494 1819.4 1499.4C1812 1504.9 1804.6 1512.8 1798.6 1520.2C1792.7 1527.6 1786.8 1537 1783.8 1543.9C1780.8 1550.9 1779.3 1556.3 1780.8 1561.7C1782.3 1567.2 1785.8 1572.1 1792.7 1576.6C1799.6 1581 1812.5 1584.5 1822.4 1588.5C1832.3 1592.4 1841.2 1595.9 1852 1600.3C1862.9 1604.8 1875.3 1610.2 1887.6 1615.2C1900 1620.1 1912.4 1626.5 1926.2 1630C1940.1 1633.5 1955.9 1635.4 1970.7 1635.9C1985.5 1636.4 2000.4 1635.9 2015.2 1633C2030.1 1630 2046.9 1625.5 2059.7 1618.1C2072.6 1610.7 2083.5 1599.8 2092.4 1588.5C2101.3 1577.1 2108.9 1562.7 2113.1 1549.9C2117.3 1537 2118.1 1523.7 2117.6 1511.3C2117.1 1498.9 2114.4 1486.6 2110.2 1475.7C2106 1464.8 2096.8 1453.9 2092.4 1446C2087.9 1438.1 2085.4 1433.3 2083.5 1428.2C2081.5 1423.1 2080.5 1420.4 2080.5 1415.5Z"/>
<path class="c b" d="M1825.3 1189.4C1817.4 1192.6 1793.2 1202.5 1777.9 1208.7C1762.5 1214.9 1745.7 1219.5 1733.4 1226.5C1721 1233.4 1710.9 1241.3 1703.7 1250.2C1696.5 1259.1 1693 1269.5 1690.3 1279.9C1687.6 1290.3 1688.4 1302.1 1687.4 1312.5C1686.4 1322.9 1681.7 1331.8 1684.4 1342.2C1687.1 1352.6 1696.5 1365.9 1703.7 1374.8C1710.9 1383.7 1719.5 1390.2 1727.4 1395.6C1735.3 1401 1743.2 1405 1751.2 1407.5C1759.1 1409.9 1768 1410.4 1774.9 1410.4C1781.8 1410.4 1785.8 1409.7 1792.7 1407.5C1799.6 1405.2 1809.5 1399.5 1816.4 1397.1C1823.4 1394.6 1828.3 1392.4 1834.2 1392.6C1840.2 1392.9 1845.9 1394.8 1852 1398.6C1858.2 1402.4 1871.3 1409.8 1871.3 1415.5C1871.3 1421.2 1858.7 1428.8 1852 1432.7C1845.4 1436.5 1838.2 1438.4 1831.3 1438.6C1824.3 1438.9 1816.9 1436.6 1810.5 1434.2C1804.1 1431.7 1798.6 1426 1792.7 1423.8C1786.8 1421.6 1781.8 1420.8 1774.9 1420.8C1768 1420.8 1759.1 1421.3 1751.2 1423.8C1743.2 1426.3 1735.3 1430 1727.4 1435.6C1719.5 1441.3 1710.4 1448.8 1703.7 1457.9C1697 1467 1690.3 1480.2 1687.4 1490.5C1684.4 1500.9 1685.1 1507.8 1685.9 1520.2C1686.6 1532.6 1687.9 1552.8 1691.8 1564.7C1695.8 1576.6 1701.7 1584 1709.6 1591.4C1717.5 1598.8 1727.9 1603.8 1739.3 1609.2C1750.7 1614.7 1762.5 1618.9 1777.9 1624.1C1793.2 1629.2 1822.4 1637.7 1831.3 1640.4"/>
<path class="c b" d="M2056.8 1189.4C2062.2 1193.1 2079 1203.7 2089.4 1211.6C2099.8 1219.5 2114.1 1232.7 2119.1 1236.9"/>
<path class="c b" d="M2119.1 1595.9C2114.1 1599.6 2099.8 1610.7 2089.4 1618.1C2079 1625.5 2062.2 1636.7 2056.8 1640.4"/>
<path class="c o" d="M1573.1 1327.4C1577.3 1323.9 1587.5 1315.5 1598.4 1306.6C1609.2 1297.7 1625.8 1284.3 1638.4 1273.9C1651 1263.6 1662.1 1251 1674 1244.3C1685.9 1237.6 1697.7 1234.4 1709.6 1233.9C1721.5 1233.4 1733.8 1236.6 1745.2 1241.3C1756.6 1246 1767.5 1253.7 1777.9 1262.1C1788.2 1270.5 1798.6 1280.9 1807.5 1291.7C1816.4 1302.6 1824.8 1314.5 1831.3 1327.4C1837.7 1340.2 1842.4 1354.2 1846.1 1368.9C1849.8 1383.6 1853.5 1400.1 1853.5 1415.5C1853.5 1430.8 1849.8 1446.4 1846.1 1460.9C1842.4 1475.4 1837.7 1489.5 1831.3 1502.4C1824.8 1515.3 1816.4 1526.6 1807.5 1538C1798.6 1549.4 1788.2 1561.7 1777.9 1570.6C1767.5 1579.5 1756.6 1586.7 1745.2 1591.4C1733.8 1596.1 1719 1598.8 1709.6 1598.8C1700.2 1598.8 1697.3 1596.1 1688.8 1591.4C1680.4 1586.7 1669.1 1577.6 1659.2 1570.6C1649.3 1563.7 1639.6 1557 1629.5 1549.9C1619.4 1542.7 1607.7 1534.5 1598.4 1527.6C1589 1520.7 1577.3 1511.6 1573.1 1508.3"/>
<path class="c o" d="M1831.3 1416.4C1831.3 1428 1829.8 1440.1 1827.1 1451.3C1824.4 1462.6 1820.2 1473.8 1815 1483.9C1809.7 1493.9 1803.1 1503.6 1795.6 1511.8C1788.2 1520.1 1779.5 1527.5 1770.4 1533.3C1761.4 1539.1 1751.2 1543.7 1741.1 1546.8C1731 1549.8 1719.7 1551.4 1709.6 1551.4C1699.5 1551.4 1689.8 1549.8 1680.4 1546.8C1671 1543.7 1661.7 1539.1 1653.2 1533.3C1644.8 1527.5 1636.8 1520.1 1629.9 1511.8C1623 1503.6 1616.8 1493.9 1612 1483.9C1607.1 1473.8 1603.2 1462.6 1600.7 1451.3C1598.2 1440.1 1596.9 1428 1596.9 1416.4C1596.9 1404.7 1598.2 1392.7 1600.7 1381.4C1603.2 1370.2 1607.1 1358.9 1612 1348.9C1616.8 1338.8 1623 1329.1 1629.9 1320.9C1636.8 1312.7 1644.8 1305.3 1653.2 1299.5C1661.7 1293.6 1671 1289 1680.4 1286C1689.8 1282.9 1699.5 1281.4 1709.6 1281.4C1719.7 1281.4 1731 1282.9 1741.1 1286C1751.2 1289 1761.4 1293.6 1770.4 1299.5C1779.5 1305.3 1788.2 1312.7 1795.6 1320.9C1803.1 1329.1 1809.7 1338.8 1815 1348.9C1820.2 1358.9 1824.4 1370.2 1827.1 1381.4C1829.8 1392.7 1831.3 1404.7 1831.3 1416.4Z"/>
<path class="c o" d="M1809 1416.4C1809 1425.7 1807.8 1435.4 1805.4 1444.4C1803.1 1453.4 1799.4 1462.4 1794.9 1470.5C1790.4 1478.6 1784.6 1486.3 1778.2 1492.9C1771.7 1499.5 1764.2 1505.5 1756.3 1510.1C1748.5 1514.8 1739.7 1518.6 1730.9 1521C1722.2 1523.4 1712 1524.7 1703.7 1524.7C1695.4 1524.7 1688.3 1523.4 1681 1521C1673.7 1518.6 1666.5 1514.8 1659.9 1510.1C1653.4 1505.5 1647.1 1499.5 1641.8 1492.9C1636.5 1486.3 1631.7 1478.6 1627.9 1470.5C1624.1 1462.4 1621.1 1453.4 1619.1 1444.4C1617.2 1435.4 1616.2 1425.7 1616.2 1416.4C1616.2 1407 1617.2 1397.4 1619.1 1388.3C1621.1 1379.3 1624.1 1370.3 1627.9 1362.2C1631.7 1354.1 1636.5 1346.4 1641.8 1339.8C1647.1 1333.2 1653.4 1327.2 1659.9 1322.6C1666.5 1317.9 1673.7 1314.2 1681 1311.8C1688.3 1309.3 1695.4 1308.1 1703.7 1308.1C1712 1308.1 1722.2 1309.3 1730.9 1311.8C1739.7 1314.2 1748.5 1317.9 1756.3 1322.6C1764.2 1327.2 1771.7 1333.2 1778.2 1339.8C1784.6 1346.4 1790.4 1354.1 1794.9 1362.2C1799.4 1370.3 1803.1 1379.3 1805.4 1388.3C1807.8 1397.4 1809 1407 1809 1416.4Z"/>
<path class="c o" d="M1639.9 1415.5C1639.9 1408 1643.9 1394.1 1647.3 1386.7C1650.7 1379.3 1660.2 1366.1 1665.1 1360C1670.1 1353.9 1678.5 1341.9 1684.4 1340.7C1690.3 1339.5 1702.3 1348.1 1709.6 1351.1C1716.9 1354.1 1732.2 1359 1739.3 1363C1746.4 1366.9 1757.5 1375.6 1763 1380.8C1768.6 1385.9 1777.9 1396.9 1780.8 1401.5C1783.8 1406.2 1785.3 1411.7 1785.3 1415.5C1785.3 1419.2 1783.8 1425 1780.8 1429.7C1777.9 1434.4 1768.6 1445.3 1763 1450.5C1757.5 1455.6 1746.4 1464.3 1739.3 1468.3C1732.2 1472.2 1716.9 1477 1709.6 1480.2C1702.3 1483.3 1690.3 1493.4 1684.4 1492C1678.5 1490.6 1670.1 1476.3 1665.1 1469.8C1660.2 1463.2 1650.7 1450.3 1647.3 1443.1C1643.9 1435.8 1639.9 1423 1639.9 1415.5Z"/>
<path class="c o" d="M1663.6 1415.5C1663.6 1408.1 1665.9 1398.7 1669.6 1392.6C1673.3 1386.6 1679.7 1382.2 1685.9 1379.3C1692.1 1376.3 1700.2 1374.1 1706.6 1374.8C1713.1 1375.6 1719 1379.8 1724.5 1383.7C1729.9 1387.7 1735.4 1393.3 1739.3 1398.6C1743.1 1403.9 1747.6 1409.8 1747.6 1415.5C1747.6 1421.2 1743.1 1427.6 1739.3 1432.7C1735.4 1437.8 1730.4 1442.1 1724.5 1446C1718.5 1450 1710.4 1455.7 1703.7 1456.4C1697 1457.2 1690.1 1453.7 1684.4 1450.5C1678.7 1447.3 1673 1443 1669.6 1437.1C1666.1 1431.3 1663.6 1422.9 1663.6 1415.5Z"/>
</g></g>
<g id="p30" clip-path="url(#cp30)"><g transform="scale(1.0 1)">
<path class="c b" d="M564.1 1682.9C554.2 1678.7 524.5 1662.8 504.7 1657.7C484.9 1652.6 465.2 1651.3 445.4 1652.3C425.6 1653.3 405.8 1658.8 386 1663.6C366.3 1668.5 345 1676.7 326.7 1681.4C308.4 1686.1 291.1 1687.3 276.3 1691.8C261.4 1696.2 250.5 1701.9 237.7 1708.1C224.8 1714.3 209 1721.5 199.1 1728.9C189.2 1736.3 183 1743.7 178.4 1752.6C173.7 1761.5 171.4 1771.4 170.9 1782.3C170.4 1793.2 172.2 1806 175.4 1817.9C178.6 1829.8 184.8 1842.1 190.2 1853.5C195.7 1864.9 202.1 1875.3 208 1886.1C214 1897 220.4 1907.4 225.8 1918.8C231.3 1930.1 235.7 1942.5 240.7 1954.4C245.6 1966.2 249.6 1978.1 255.5 1990C261.4 2001.8 267.9 2014.7 276.3 2025.6C284.7 2036.5 294.6 2046.8 305.9 2055.3C317.3 2063.7 330.4 2070.5 344.5 2076C358.6 2081.6 382.8 2086.4 390.5 2088.5"/>
<path class="c b" d="M473.6 2088.5C481.2 2085.9 504.5 2079.1 519.6 2073.1C534.6 2067 556.6 2055.7 564.1 2052.3"/>
<path class="c b" d="M564.1 1717C554.2 1712.1 524.5 1693.3 504.7 1687.3C484.9 1681.4 465.2 1680.9 445.4 1681.4C425.6 1681.9 405.8 1684.9 386 1690.3C366.3 1695.7 344 1705.1 326.7 1714C309.4 1722.9 294.1 1734.3 282.2 1743.7C270.3 1753.1 261.2 1761.5 255.5 1770.4C249.8 1779.3 248.6 1788.2 248.1 1797.1C247.6 1806 249.8 1814.4 252.5 1823.8C255.2 1833.2 260.9 1843.6 264.4 1853.5C267.9 1863.4 270.8 1873.3 273.3 1883.2C275.8 1893.1 277.3 1902.9 279.2 1912.8C281.2 1922.7 282.7 1932.6 285.2 1942.5C287.6 1952.4 290.1 1962.3 294.1 1972.2C298 1982.1 302.5 1992 308.9 2001.8C315.3 2011.7 323.2 2023.1 332.6 2031.5C342 2039.9 352.9 2046.8 365.3 2052.3C377.6 2057.7 392.5 2061.8 406.8 2064.2C421.2 2066.5 436.5 2067 451.3 2066.5C466.2 2066 482 2064.5 495.8 2061.2C509.7 2057.8 523 2052 534.4 2046.4C545.8 2040.7 559.1 2030.3 564.1 2027.1"/>
<path class="c b" d="M476 1870C476 1877.3 475.9 1885.8 475.6 1891.8C475.4 1897.8 475 1901.7 474.6 1905.9C474.1 1910.2 473.5 1913.9 472.8 1917.4C472.1 1920.8 471.3 1923.9 470.3 1926.6C469.4 1929.4 468.4 1931.8 467.2 1933.8C466 1935.9 464.7 1937.6 463.3 1939C461.8 1940.4 460.5 1941.5 458.5 1942.2C456.4 1942.9 453.5 1943.2 451 1943.2C448.5 1943.2 445.6 1942.9 443.5 1942.2C441.5 1941.5 440.1 1940.4 438.7 1939C437.2 1937.6 435.9 1935.9 434.8 1933.8C433.6 1931.8 432.5 1929.4 431.6 1926.6C430.6 1923.9 429.8 1920.8 429.1 1917.4C428.4 1913.9 427.8 1910.2 427.3 1905.9C426.9 1901.7 426.5 1897.8 426.3 1891.8C426 1885.8 425.9 1877.3 425.9 1870C425.9 1862.7 426 1854.2 426.3 1848.2C426.5 1842.2 426.9 1838.3 427.3 1834C427.8 1829.8 428.4 1826 429.1 1822.6C429.8 1819.1 430.6 1816 431.6 1813.3C432.5 1810.5 433.6 1808.1 434.8 1806.1C435.9 1804 437.2 1802.3 438.7 1800.9C440.1 1799.5 441.5 1798.4 443.5 1797.7C445.6 1797.1 448.5 1796.7 451 1796.7C453.5 1796.7 456.4 1797.1 458.5 1797.7C460.5 1798.4 461.8 1799.5 463.3 1800.9C464.7 1802.3 466 1804 467.2 1806.1C468.4 1808.1 469.4 1810.5 470.3 1813.3C471.3 1816 472.1 1819.1 472.8 1822.6C473.5 1826 474.1 1829.8 474.6 1834C475 1838.3 475.4 1842.2 475.6 1848.2C475.9 1854.2 476 1862.7 476 1870Z"/>
<path class="c b" d="M499 1870C499 1879.5 498.8 1890.6 498.3 1898.5C497.9 1906.3 497.2 1911.3 496.3 1916.9C495.4 1922.4 494.2 1927.3 492.9 1931.8C491.5 1936.3 489.9 1940.3 488.1 1943.9C486.3 1947.5 484.3 1950.6 482.1 1953.3C479.8 1956 477.4 1958.3 474.6 1960.1C471.8 1961.9 469.2 1963.2 465.3 1964.1C461.4 1965 455.7 1965.5 451 1965.5C446.3 1965.5 440.8 1965 437 1964.1C433.1 1963.2 430.7 1961.9 427.9 1960.1C425.2 1958.3 422.8 1956 420.6 1953.3C418.4 1950.6 416.4 1947.5 414.6 1943.9C412.9 1940.3 411.3 1936.3 410 1931.8C408.7 1927.3 407.6 1922.4 406.7 1916.9C405.8 1911.3 405.1 1906.3 404.7 1898.5C404.2 1890.6 404 1879.5 404 1870C404 1860.5 404.2 1849.4 404.7 1841.6C405.1 1833.8 405.8 1828.7 406.7 1823.2C407.6 1817.6 408.7 1812.8 410 1808.3C411.3 1803.8 412.9 1799.8 414.6 1796.2C416.4 1792.6 418.4 1789.5 420.6 1786.8C422.8 1784.1 425.2 1781.8 427.9 1780C430.7 1778.2 433.1 1776.9 437 1776C440.8 1775.1 446.3 1774.6 451 1774.6C455.7 1774.6 461.4 1775.1 465.3 1776C469.2 1776.9 471.8 1778.2 474.6 1780C477.4 1781.8 479.8 1784.1 482.1 1786.8C484.3 1789.5 486.3 1792.6 488.1 1796.2C489.9 1799.8 491.5 1803.8 492.9 1808.3C494.2 1812.8 495.4 1817.6 496.3 1823.2C497.2 1828.7 497.9 1833.8 498.3 1841.6C498.8 1849.4 499 1860.5 499 1870Z"/>
<path class="c b" d="M515.7 1870C515.7 1880.5 515.4 1892.6 514.7 1901.4C514.1 1910.2 513.1 1916.2 511.9 1922.7C510.6 1929.2 509 1934.9 507.1 1940.2C505.3 1945.5 503.1 1950.2 500.6 1954.5C498.1 1958.7 495.3 1962.5 492.2 1965.7C489.1 1968.9 485.7 1971.6 481.9 1973.8C478.1 1975.9 474.6 1977.6 469.4 1978.7C464.3 1979.8 457 1980.3 451 1980.3C445 1980.3 438.2 1979.8 433.2 1978.7C428.2 1977.6 424.7 1975.9 421.1 1973.8C417.4 1971.6 414.1 1968.9 411.1 1965.7C408.1 1962.5 405.4 1958.7 403 1954.5C400.6 1950.2 398.4 1945.5 396.6 1940.2C394.8 1934.9 393.2 1929.2 392 1922.7C390.8 1916.2 389.8 1910.2 389.2 1901.4C388.6 1892.6 388.3 1880.5 388.3 1870C388.3 1859.5 388.6 1847.3 389.2 1838.5C389.8 1829.7 390.8 1823.6 392 1817.1C393.2 1810.6 394.8 1804.9 396.6 1799.6C398.4 1794.2 400.6 1789.5 403 1785.2C405.4 1780.9 408.1 1777.2 411.1 1774C414.1 1770.7 417.4 1768 421.1 1765.8C424.7 1763.7 428.2 1762 433.2 1760.9C438.2 1759.8 445 1759.3 451 1759.3C457 1759.3 464.3 1759.8 469.4 1760.9C474.6 1762 478.1 1763.7 481.9 1765.8C485.7 1768 489.1 1770.7 492.2 1774C495.3 1777.2 498.1 1780.9 500.6 1785.2C503.1 1789.5 505.3 1794.2 507.1 1799.6C509 1804.9 510.6 1810.6 511.9 1817.1C513.1 1823.6 514.1 1829.7 514.7 1838.5C515.4 1847.3 515.7 1859.5 515.7 1870Z"/>
<path class="c b" d="M532.4 1870C532.4 1881.8 532 1895.6 531.2 1905.6C530.4 1915.5 529.2 1922.4 527.6 1929.8C526 1937.1 524 1943.6 521.6 1949.6C519.3 1955.6 516.5 1961 513.4 1965.8C510.2 1970.6 506.7 1974.9 502.8 1978.5C498.9 1982.2 494.7 1985.3 489.9 1987.7C485.1 1990.2 480.6 1992 474.2 1993.2C467.7 1994.5 458.6 1995.1 451 1995.1C443.4 1995.1 435 1994.5 428.7 1993.2C422.5 1992 418.2 1990.2 413.6 1987.7C409 1985.3 404.9 1982.2 401.2 1978.5C397.4 1974.9 394 1970.6 391 1965.8C388 1961 385.3 1955.6 383.1 1949.6C380.8 1943.6 378.9 1937.1 377.3 1929.8C375.8 1922.4 374.6 1915.5 373.9 1905.6C373.1 1895.6 372.7 1881.8 372.7 1870C372.7 1858.2 373.1 1844.6 373.9 1834.8C374.6 1824.9 375.8 1818.1 377.3 1810.9C378.9 1803.6 380.8 1797.2 383.1 1791.2C385.3 1785.3 388 1779.9 391 1775.2C394 1770.4 397.4 1766.2 401.2 1762.6C404.9 1759 409 1755.9 413.6 1753.5C418.2 1751.1 422.5 1749.3 428.7 1748C435 1746.8 443.4 1746.2 451 1746.2C458.6 1746.2 467.7 1746.8 474.2 1748C480.6 1749.3 485.1 1751.1 489.9 1753.5C494.7 1755.9 498.9 1759 502.8 1762.6C506.7 1766.2 510.2 1770.4 513.4 1775.2C516.5 1779.9 519.3 1785.3 521.6 1791.2C524 1797.2 526 1803.6 527.6 1810.9C529.2 1818.1 530.4 1824.9 531.2 1834.8C532 1844.6 532.4 1858.2 532.4 1870Z"/>
<path class="c b" d="M544.9 1870C544.9 1882.4 544.4 1896.8 543.5 1907.5C542.5 1918.2 541 1926 539.1 1934.2C537.2 1942.4 534.8 1949.8 532 1956.5C529.2 1963.3 525.9 1969.5 522.2 1975C518.4 1980.5 514.3 1985.3 509.7 1989.5C505.1 1993.7 500.1 1997.2 494.5 2000C489 2002.8 483.7 2005 476.4 2006.4C469.1 2007.8 459.4 2008.5 451 2008.5C442.6 2008.5 433 2007.8 425.8 2006.4C418.7 2005 413.4 2002.8 407.9 2000C402.4 1997.2 397.4 1993.7 392.9 1989.5C388.3 1985.3 384.2 1980.5 380.5 1975C376.8 1969.5 373.6 1963.3 370.8 1956.5C368 1949.8 365.6 1942.4 363.7 1934.2C361.8 1926 360.4 1918.2 359.4 1907.5C358.5 1896.8 358 1882.4 358 1870C358 1857.6 358.5 1843.8 359.4 1833.3C360.4 1822.8 361.8 1815.1 363.7 1807.1C365.6 1799.1 368 1791.9 370.8 1785.2C373.6 1778.6 376.8 1772.5 380.5 1767.2C384.2 1761.8 388.3 1757 392.9 1752.9C397.4 1748.8 402.4 1745.4 407.9 1742.6C413.4 1739.9 418.7 1737.8 425.8 1736.4C433 1735 442.6 1734.3 451 1734.3C459.4 1734.3 469.1 1735 476.4 1736.4C483.7 1737.8 489 1739.9 494.5 1742.6C500.1 1745.4 505.1 1748.8 509.7 1752.9C514.3 1757 518.4 1761.8 522.2 1767.2C525.9 1772.5 529.2 1778.6 532 1785.2C534.8 1791.9 537.2 1799.1 539.1 1807.1C541 1815.1 542.5 1822.8 543.5 1833.3C544.4 1843.8 544.9 1857.6 544.9 1870Z"/>
<path class="c b" d="M559 1870C559 1883.5 558.4 1899.3 557.3 1911.1C556.2 1922.8 554.6 1931.4 552.4 1940.4C550.2 1949.4 547.4 1957.4 544.2 1964.9C540.9 1972.3 537.1 1979 532.8 1985C528.6 1991.1 523.8 1996.4 518.5 2001C513.2 2005.5 507.5 2009.4 501.1 2012.5C494.7 2015.6 488.6 2017.9 480.2 2019.5C471.9 2021 460.8 2021.8 451 2021.8C441.2 2021.8 430 2021 421.6 2019.5C413.2 2017.9 407.1 2015.6 400.6 2012.5C394.2 2009.4 388.5 2005.5 383.1 2001C377.8 1996.4 373 1991.1 368.7 1985C364.4 1979 360.6 1972.3 357.3 1964.9C354 1957.4 351.3 1949.4 349.1 1940.4C346.9 1931.4 345.2 1922.8 344.1 1911.1C343 1899.3 342.4 1883.5 342.4 1870C342.4 1856.5 343 1841.4 344.1 1830C345.2 1818.6 346.9 1810.2 349.1 1801.5C351.3 1792.7 354 1784.9 357.3 1777.6C360.6 1770.4 364.4 1763.8 368.7 1758C373 1752.1 377.8 1746.9 383.1 1742.5C388.5 1738 394.2 1734.3 400.6 1731.3C407.1 1728.3 413.2 1726 421.6 1724.5C430 1723 441.2 1722.2 451 1722.2C460.8 1722.2 471.9 1723 480.2 1724.5C488.6 1726 494.7 1728.3 501.1 1731.3C507.5 1734.3 513.2 1738 518.5 1742.5C523.8 1746.9 528.6 1752.1 532.8 1758C537.1 1763.8 540.9 1770.4 544.2 1777.6C547.4 1784.9 550.2 1792.7 552.4 1801.5C554.6 1810.2 556.2 1818.6 557.3 1830C558.4 1841.4 559 1856.5 559 1870Z"/>
<path class="c b" d="M575 1870C575 1884 574.3 1900.2 573 1912.7C571.7 1925.2 569.7 1935 567.1 1944.9C564.5 1954.8 561.2 1963.8 557.3 1972.1C553.5 1980.5 549 1988.1 543.9 1994.9C538.8 2001.7 533.2 2007.7 527 2012.9C520.8 2018.1 514.1 2022.5 506.7 2026.1C499.3 2029.6 492 2032.3 482.8 2034C473.5 2035.8 461.6 2036.7 451 2036.7C440.4 2036.7 428.3 2035.8 418.9 2034C409.5 2032.3 402.2 2029.6 394.7 2026.1C387.3 2022.5 380.5 2018.1 374.2 2012.9C368 2007.7 362.2 2001.7 357.1 1994.9C352 1988.1 347.5 1980.5 343.6 1972.1C339.7 1963.8 336.3 1954.8 333.7 1944.9C331.1 1935 329 1925.2 327.7 1912.7C326.4 1900.2 325.7 1884 325.7 1870C325.7 1856 326.4 1840.9 327.7 1828.8C329 1816.8 331.1 1807.4 333.7 1797.8C336.3 1788.3 339.7 1779.6 343.6 1771.5C347.5 1763.5 352 1756.2 357.1 1749.6C362.2 1743.1 368 1737.2 374.2 1732.2C380.5 1727.2 387.3 1722.9 394.7 1719.6C402.2 1716.2 409.5 1713.6 418.9 1711.9C428.3 1710.2 440.4 1709.3 451 1709.3C461.6 1709.3 473.5 1710.2 482.8 1711.9C492 1713.6 499.3 1716.2 506.7 1719.6C514.1 1722.9 520.8 1727.2 527 1732.2C533.2 1737.2 538.8 1743.1 543.9 1749.6C549 1756.2 553.5 1763.5 557.3 1771.5C561.2 1779.6 564.5 1788.3 567.1 1797.8C569.7 1807.4 571.7 1816.8 573 1828.8C574.3 1840.9 575 1856 575 1870Z"/>
<path class="c b" d="M596 1870C596 1884.3 595.2 1900.4 593.6 1913.5C592 1926.5 589.5 1937.3 586.4 1948.1C583.2 1958.8 579.2 1968.8 574.5 1978C569.8 1987.2 564.4 1995.6 558.3 2003.2C552.2 2010.7 545.4 2017.5 538 2023.3C530.6 2029.1 522.6 2034.1 513.9 2038C505.2 2042 496.5 2045 486 2047C475.5 2049 462.8 2050 451 2050C439.2 2050 425.9 2049 415.2 2047C404.5 2045 395.5 2042 386.7 2038C377.8 2034.1 369.6 2029.1 362 2023.3C354.5 2017.5 347.5 2010.7 341.3 2003.2C335.1 1995.6 329.5 1987.2 324.7 1978C319.9 1968.8 315.8 1958.8 312.6 1948.1C309.3 1937.3 306.8 1926.5 305.2 1913.5C303.5 1900.4 302.7 1884.3 302.7 1870C302.7 1855.7 303.5 1840.4 305.2 1827.8C306.8 1815.2 309.3 1804.6 312.6 1794.2C315.8 1783.7 319.9 1774.1 324.7 1765.1C329.5 1756.2 335.1 1748 341.3 1740.7C347.5 1733.3 354.5 1726.8 362 1721.1C369.6 1715.5 377.8 1710.7 386.7 1706.8C395.5 1703 404.5 1700.1 415.2 1698.1C425.9 1696.2 439.2 1695.2 451 1695.2C462.8 1695.2 475.5 1696.2 486 1698.1C496.5 1700.1 505.2 1703 513.9 1706.8C522.6 1710.7 530.6 1715.5 538 1721.1C545.4 1726.8 552.2 1733.3 558.3 1740.7C564.4 1748 569.8 1756.2 574.5 1765.1C579.2 1774.1 583.2 1783.7 586.4 1794.2C589.5 1804.6 592 1815.2 593.6 1827.8C595.2 1840.4 596 1855.7 596 1870Z"/>
<path class="c o" d="M420 1859.6C420.5 1870.1 419.5 1881 416.9 1891.3C414.4 1901.6 410.2 1911.9 404.7 1921.3C399.2 1930.7 392.1 1939.8 384.1 1947.6C376.1 1955.5 366.6 1962.7 356.6 1968.4C346.6 1974.2 335.3 1979 324 1982.3C312.7 1985.6 300.5 1987.7 288.6 1988.3C276.7 1988.9 264.3 1988.2 252.7 1986.1C241.1 1983.9 229.4 1980.4 218.8 1975.7C208.3 1971 198.1 1964.8 189.3 1957.9C180.5 1950.9 172.5 1942.6 166.1 1933.8C159.6 1925.1 154.4 1915.2 150.8 1905.3C147.2 1895.3 145 1884.5 144.4 1874.1C143.9 1863.6 144.9 1852.7 147.5 1842.4C150 1832.1 154.2 1821.7 159.7 1812.4C165.2 1803 172.3 1793.9 180.3 1786.1C188.3 1778.2 197.8 1771 207.8 1765.3C217.8 1759.5 229 1754.7 240.4 1751.4C251.7 1748.1 263.9 1746 275.8 1745.4C287.7 1744.7 300.1 1745.5 311.7 1747.6C323.3 1749.7 335 1753.3 345.6 1758C356.1 1762.7 366.3 1768.9 375.1 1775.8C383.9 1782.8 391.9 1791.1 398.3 1799.9C404.8 1808.6 410 1818.5 413.6 1828.4C417.2 1838.4 419.4 1849.1 420 1859.6Z"/>
<path class="c o" d="M350.1 1864.8C350.1 1870.3 349.3 1876 347.8 1881.3C346.2 1886.6 343.8 1891.9 340.8 1896.7C337.7 1901.4 333.9 1906 329.6 1909.9C325.4 1913.8 320.4 1917.3 315.1 1920C309.9 1922.8 304.1 1925 298.2 1926.4C292.4 1927.8 286.2 1928.6 280.1 1928.6C274.1 1928.6 267.8 1927.8 262 1926.4C256.2 1925 250.3 1922.8 245.1 1920C239.9 1917.3 234.9 1913.8 230.6 1909.9C226.3 1906 222.5 1901.4 219.5 1896.7C216.5 1891.9 214 1886.6 212.5 1881.3C210.9 1876 210.1 1870.3 210.1 1864.8C210.1 1859.3 210.9 1853.6 212.5 1848.3C214 1842.9 216.5 1837.6 219.5 1832.9C222.5 1828.1 226.3 1823.6 230.6 1819.7C234.9 1815.8 239.9 1812.3 245.1 1809.5C250.3 1806.8 256.2 1804.6 262 1803.2C267.8 1801.7 274.1 1801 280.1 1801C286.2 1801 292.4 1801.7 298.2 1803.2C304.1 1804.6 309.9 1806.8 315.1 1809.5C320.4 1812.3 325.4 1815.8 329.6 1819.7C333.9 1823.6 337.7 1828.1 340.8 1832.9C343.8 1837.6 346.2 1842.9 347.8 1848.3C349.3 1853.6 350.1 1859.3 350.1 1864.8Z"/>
</g></g>
<g id="p31" clip-path="url(#cp31)"><g transform="scale(1.0 1)">
<path class="c b" d="M901.7 1746.7C899.6 1741.7 894.7 1726.9 889.2 1717C883.7 1707.1 876.8 1696.2 868.4 1687.3C860 1678.4 849.6 1669.5 838.8 1663.6C827.9 1657.7 815 1654 803.2 1651.7C791.3 1649.5 779.4 1648.8 767.6 1650.3C755.7 1651.7 743.3 1655.4 732 1660.6C720.6 1665.8 708.7 1673 699.3 1681.4C689.9 1689.8 681.3 1700.2 675.6 1711.1C669.9 1722 666.7 1735.8 665.2 1746.7C663.7 1757.6 664.5 1766.5 666.7 1776.4C668.9 1786.2 673.6 1796.6 678.5 1806C683.5 1815.4 691.4 1824.8 696.4 1832.7C701.3 1840.6 706 1848.2 708.2 1853.5C710.4 1858.8 709.7 1860.8 709.7 1864.5C709.7 1868.1 710.4 1870.2 708.2 1875.5C706 1880.7 701.3 1888.3 696.4 1896.2C691.4 1904.1 683.5 1913.5 678.5 1922.9C673.6 1932.3 668.9 1942.7 666.7 1952.6C664.5 1962.5 663.7 1971.4 665.2 1982.3C666.7 1993.1 669.9 2007 675.6 2017.9C681.3 2028.7 689.9 2039.1 699.3 2047.5C708.7 2055.9 720.6 2063.1 732 2068.3C743.3 2073.5 755.7 2077.2 767.6 2078.7C779.4 2080.2 791.3 2079.4 803.2 2077.2C815 2075 827.9 2071.3 838.8 2065.3C849.6 2059.4 860 2050.5 868.4 2041.6C876.8 2032.7 883.7 2021.8 889.2 2011.9C894.7 2002 899.6 1987.2 901.7 1982.3"/>
<path class="c b" d="M740.9 1708.1C734.9 1709.3 727.5 1713.5 723.1 1720C718.6 1726.4 714.9 1737.3 714.2 1746.7C713.4 1756.1 716.1 1767 718.6 1776.4C721.1 1785.7 725.8 1797.6 729 1803.1C732.2 1808.5 734.4 1810 737.9 1809C741.4 1808 745.3 1802.6 749.8 1797.1C754.2 1791.7 760.1 1784.3 764.6 1776.4C769 1768.4 775 1758.1 776.5 1749.6C777.9 1741.2 776.5 1732.1 773.5 1725.9C770.5 1719.7 764.1 1715.5 758.7 1712.6C753.2 1709.6 746.8 1706.9 740.9 1708.1Z"/>
<path class="c b" d="M740.9 2020.8C734.9 2019.6 727.5 2015.4 723.1 2009C718.6 2002.5 714.9 1991.7 714.2 1982.3C713.4 1972.9 716.1 1962 718.6 1952.6C721.1 1943.2 725.8 1931.3 729 1925.9C732.2 1920.5 734.4 1919 737.9 1920C741.4 1920.9 745.3 1926.4 749.8 1931.8C754.2 1937.3 760.1 1944.7 764.6 1952.6C769 1960.5 775 1970.9 776.5 1979.3C777.9 1987.7 776.5 1996.9 773.5 2003C770.5 2009.2 764.1 2013.4 758.7 2016.4C753.2 2019.4 746.8 2022.1 740.9 2020.8Z"/>
<path class="c b" d="M783.9 1864.5C783.9 1859.8 795.5 1854.6 803.2 1850.5C810.8 1846.5 820.5 1842.9 829.9 1840.1C839.3 1837.4 850.1 1835 859.5 1834.2C868.9 1833.5 879.3 1833.5 886.2 1835.7C893.2 1837.9 898.1 1842.8 901.1 1847.6C904 1852.4 904 1858.8 904 1864.5C904 1870.2 904 1876.8 901.1 1881.7C898.1 1886.5 893.2 1891.1 886.2 1893.5C879.3 1896 868.9 1897 859.5 1896.5C850.1 1896 839.3 1893.5 829.9 1890.6C820.5 1887.6 810.8 1883.1 803.2 1878.7C795.5 1874.4 783.9 1869.2 783.9 1864.5Z"/>
<path class="c b" d="M977.9 1639.5C974.2 1641 963.3 1645.3 955.9 1648.7C948.6 1652.1 939.8 1655.5 933.9 1659.7C928.1 1663.9 924.4 1668.8 920.8 1673.9C917.1 1679 914.4 1684.9 912 1690.4C909.6 1695.9 907.8 1701.5 906.5 1707C905.1 1712.5 904.4 1717.9 903.7 1723.4C903.1 1728.9 902.6 1735.3 902.7 1739.9C902.8 1744.5 903.8 1745.5 904.3 1750.9C904.9 1756.3 905.4 1765.2 906 1772.1C906.6 1779 906.9 1784.3 907.8 1792.2C908.6 1800.1 910 1811 911.3 1819.4C912.6 1827.9 914.3 1835.5 915.5 1843.1C916.6 1850.7 918.2 1857.7 918.2 1865C918.2 1872.3 916.6 1879.3 915.5 1886.9C914.3 1894.5 912.6 1902.1 911.3 1910.6C910 1919.1 908.6 1930 907.8 1937.8C906.9 1945.7 906.6 1951.1 906 1958C905.4 1964.9 904.9 1973.8 904.3 1979.2C903.8 1984.5 902.8 1985.6 902.7 1990.2C902.6 1994.8 903.1 2001.1 903.7 2006.6C904.4 2012.1 905.1 2017.6 906.5 2023.1C907.8 2028.6 909.6 2034.2 912 2039.7C914.4 2045.2 917.1 2051 920.8 2056.1C924.4 2061.2 928.1 2066.1 933.9 2070.3C939.8 2074.5 948.6 2078 955.9 2081.3C963.3 2084.7 974.2 2089 977.9 2090.6"/>
<path class="c b" d="M1078.3 1656.6C1074.4 1655.3 1062.4 1650.4 1054.8 1648.7C1047.3 1647 1040.2 1646.7 1032.9 1646.5C1025.6 1646.3 1018.2 1646.4 1010.9 1647.5C1003.5 1648.6 996.2 1650 988.9 1653.1C981.5 1656.2 973.4 1661.5 967 1666.2C960.5 1671 955.5 1675.9 950.4 1681.6C945.3 1687.3 940.4 1694.3 936.2 1700.3C932 1706.4 928.3 1712.2 925.2 1717.9C922 1723.5 919.5 1728.9 917.5 1734.4C915.5 1739.9 913.7 1744.6 913.1 1750.9C912.5 1757.2 912.9 1765.2 913.7 1772.1C914.5 1779 916 1784.3 917.8 1792.2C919.6 1800.1 922.1 1811 924.3 1819.4C926.6 1827.9 929.7 1835.5 931.4 1843.1C933.2 1850.7 935 1857.7 935 1865C935 1872.3 933.2 1879.3 931.4 1886.9C929.7 1894.5 926.6 1902.1 924.3 1910.6C922.1 1919.1 919.6 1930 917.8 1937.8C916 1945.7 914.5 1951.1 913.7 1958C912.9 1964.9 912.5 1972.9 913.1 1979.2C913.7 1985.4 915.5 1990.1 917.5 1995.6C919.5 2001.1 922 2006.5 925.2 2012.2C928.3 2017.9 932 2023.7 936.2 2029.7C940.4 2035.8 945.3 2042.7 950.4 2048.4C955.5 2054.1 960.5 2059.1 967 2063.8C973.4 2068.6 981.5 2073.8 988.9 2077C996.2 2080.1 1003.5 2081.4 1010.9 2082.5C1018.2 2083.6 1025.6 2083.8 1032.9 2083.6C1040.2 2083.4 1047.3 2083 1054.8 2081.3C1062.4 2079.6 1074.4 2074.7 1078.3 2073.4"/>
<path class="c b" d="M1078.3 1672.6C1074.4 1671.2 1062.4 1666.2 1054.8 1664.1C1047.3 1662 1040.2 1660.6 1032.9 1660.2C1025.6 1659.7 1018.2 1660 1010.9 1661.4C1003.5 1662.8 995.3 1665.5 988.9 1668.5C982.5 1671.5 977.9 1674.9 972.4 1679.5C966.9 1684.1 960.9 1690.3 955.9 1695.9C951 1701.6 946.5 1708 942.7 1713.5C938.8 1719 935.6 1723.5 932.9 1728.9C930.1 1734.2 927.7 1739.2 926.2 1745.4C924.8 1751.7 924 1758.4 924.3 1766.2C924.7 1774 926.3 1783.3 928.5 1792.2C930.7 1801.1 934.5 1811 937.4 1819.4C940.2 1827.9 943.5 1835.5 945.6 1843.1C947.8 1850.7 950.4 1857.7 950.4 1865C950.4 1872.3 947.8 1879.3 945.6 1886.9C943.5 1894.5 940.2 1902.1 937.4 1910.6C934.5 1919.1 930.7 1929 928.5 1937.8C926.3 1946.7 924.7 1956.1 924.3 1963.9C924 1971.7 924.8 1978.4 926.2 1984.6C927.7 1990.8 930.1 1995.9 932.9 2001.2C935.6 2006.5 938.8 2011.1 942.7 2016.6C946.5 2022.1 951 2028.4 955.9 2034.1C960.9 2039.8 966.9 2046 972.4 2050.6C977.9 2055.1 982.5 2058.6 988.9 2061.6C995.3 2064.6 1003.5 2067.3 1010.9 2068.7C1018.2 2070.1 1025.6 2070.3 1032.9 2069.9C1040.2 2069.4 1047.3 2068 1054.8 2066C1062.4 2063.9 1074.4 2058.9 1078.3 2057.4"/>
<path class="c b" d="M1078.3 1689.2C1074.4 1687.6 1062.4 1681.9 1054.8 1679.5C1047.3 1677 1039.3 1675.4 1032.9 1674.5C1026.5 1673.6 1021.8 1673.5 1016.3 1673.9C1010.8 1674.4 1005.4 1675.4 999.9 1677.2C994.4 1679.1 988.9 1681.1 983.4 1684.9C977.9 1688.8 971.9 1694.8 967 1700.3C962 1705.8 957.7 1712.2 953.7 1717.9C949.7 1723.5 945.6 1728.9 942.7 1734.4C939.8 1739.9 937.4 1744.6 936.2 1750.9C935 1757.2 935.2 1765.2 935.6 1772.1C936 1779 936.3 1784.3 938.5 1792.2C940.8 1800.1 945.6 1811 949.2 1819.4C952.8 1827.9 956.9 1835.5 959.9 1843.1C962.8 1850.7 967 1857.7 967 1865C967 1872.3 962.8 1879.3 959.9 1886.9C956.9 1894.5 952.8 1902.1 949.2 1910.6C945.6 1919.1 940.8 1930 938.5 1937.8C936.3 1945.7 936 1951.1 935.6 1958C935.2 1964.9 935 1972.9 936.2 1979.2C937.4 1985.4 939.8 1990.1 942.7 1995.6C945.6 2001.1 949.7 2006.5 953.7 2012.2C957.7 2017.9 962 2024.2 967 2029.7C971.9 2035.2 977.9 2041.3 983.4 2045.1C988.9 2049 994.4 2051 999.9 2052.8C1005.4 2054.6 1010.8 2055.7 1016.3 2056.1C1021.8 2056.6 1026.5 2056.5 1032.9 2055.5C1039.3 2054.6 1047.3 2053 1054.8 2050.6C1062.4 2048.1 1074.4 2042.5 1078.3 2040.9"/>
<path class="c b" d="M1078.3 1706.4C1074.4 1704.5 1062.4 1697.9 1054.8 1694.9C1047.3 1691.9 1039.3 1689.5 1032.9 1688.3C1026.5 1687 1021.8 1686.8 1016.3 1687.2C1010.8 1687.5 1004.8 1688.6 999.9 1690.4C994.9 1692.2 991.3 1694.4 986.7 1698.1C982.2 1701.8 976.8 1707.3 972.4 1712.4C968 1717.5 963.8 1723.4 960.3 1728.9C956.9 1734.4 953.9 1739.2 951.6 1745.4C949.3 1751.7 947.1 1758.4 946.6 1766.2C946.1 1774 946.6 1783.3 948.6 1792.2C950.6 1801.1 954.8 1811 958.7 1819.4C962.5 1827.9 967.6 1835.5 971.7 1843.1C975.8 1850.7 983.5 1857.7 983.5 1865C983.5 1872.3 975.8 1879.3 971.7 1886.9C967.6 1894.5 962.5 1902.1 958.7 1910.6C954.8 1919.1 950.6 1929 948.6 1937.8C946.6 1946.7 946.1 1956.1 946.6 1963.9C947.1 1971.7 949.3 1978.4 951.6 1984.6C953.9 1990.8 956.9 1995.7 960.3 2001.2C963.8 2006.7 968 2012.5 972.4 2017.6C976.8 2022.8 982.2 2028.3 986.7 2032C991.3 2035.6 994.9 2037.9 999.9 2039.7C1004.8 2041.5 1010.8 2042.5 1016.3 2042.9C1021.8 2043.2 1026.5 2043.1 1032.9 2041.8C1039.3 2040.5 1047.3 2038.2 1054.8 2035.2C1062.4 2032.2 1074.4 2025.6 1078.3 2023.7"/>
<path class="c b" d="M1078.3 1727.7C1074.4 1726.6 1062.4 1723.3 1054.8 1721.2C1047.3 1719 1040.2 1717 1032.9 1714.7C1025.6 1712.3 1017.3 1708.2 1010.9 1707C1004.5 1705.7 999 1705.9 994.4 1707C989.9 1708 987.1 1710.2 983.4 1713.5C979.7 1716.8 975.7 1722 972.4 1726.7C969.1 1731.5 966.1 1736.6 963.6 1742.1C961.2 1747.7 958.9 1754 957.7 1760C956.5 1766 956.2 1772 956.3 1778C956.4 1784 956.5 1788.9 958.1 1795.8C959.7 1802.7 962.1 1811.5 965.8 1819.4C969.4 1827.3 975.2 1837.2 980 1843.1C984.7 1849 989.7 1851.3 994.2 1855C998.7 1858.6 1007.2 1861.7 1007.2 1865C1007.2 1868.4 998.7 1871.4 994.2 1875.1C989.7 1878.7 984.7 1881 980 1886.9C975.2 1892.9 969.4 1902.7 965.8 1910.6C962.1 1918.5 959.7 1927.4 958.1 1934.3C956.5 1941.2 956.4 1946.1 956.3 1952.1C956.2 1958 956.5 1964.1 957.7 1970C958.9 1976 961.2 1982.4 963.6 1987.9C966.1 1993.5 969.1 1998.5 972.4 2003.3C975.7 2008.1 979.7 2013.3 983.4 2016.6C987.1 2019.9 989.9 2022 994.4 2023.1C999 2024.2 1004.5 2024.4 1010.9 2023.1C1017.3 2021.8 1025.6 2017.8 1032.9 2015.4C1040.2 2013 1047.3 2011.1 1054.8 2008.9C1062.4 2006.7 1074.4 2003.5 1078.3 2002.4"/>
<path class="c b" d="M1078.3 1842.5C1074.9 1843 1064.2 1844.4 1058.1 1845.5C1052 1846.6 1047.3 1847.5 1041.6 1849C1035.8 1850.6 1029.5 1852.3 1023.8 1855C1018.1 1857.6 1007.2 1861.7 1007.2 1865C1007.2 1868.4 1018.1 1872.4 1023.8 1875.1C1029.5 1877.8 1035.8 1879.4 1041.6 1881C1047.3 1882.6 1052 1883.5 1058.1 1884.6C1064.2 1885.6 1074.9 1887 1078.3 1887.5"/>
<path class="c b" d="M1078.3 1755.5C1074.4 1752.9 1062.4 1744.3 1054.8 1739.9C1047.3 1735.4 1040.2 1731.4 1032.9 1728.9C1025.6 1726.3 1017.3 1724.8 1010.9 1724.5C1004.5 1724.1 999 1725.1 994.4 1726.7C989.9 1728.4 986.7 1731.1 983.4 1734.4C980.1 1737.7 977.2 1742.2 974.7 1746.5C972.1 1750.8 970.1 1755.2 968 1760C966 1764.9 963.5 1770.3 962.2 1775.6C961 1781 960.4 1786.9 960.4 1792.2C960.4 1797.5 960.9 1802.7 962.2 1807.6C963.5 1812.5 965.6 1817.1 968.1 1821.8C970.7 1826.5 973.9 1831.9 977.6 1836C981.4 1840.2 986.3 1844.1 990.6 1846.7C995 1849.2 998.7 1850.8 1003.7 1851.4C1008.6 1852 1014.5 1851.6 1020.2 1850.2C1026 1848.8 1032.1 1846.3 1038 1843.1C1043.9 1840 1049.1 1835.5 1055.8 1831.3C1062.5 1827 1074.5 1819.9 1078.3 1817.7"/>
<path class="c b" d="M1078.3 1974.5C1074.4 1977.2 1062.4 1985.7 1054.8 1990.2C1047.3 1994.6 1040.2 1998.6 1032.9 2001.2C1025.6 2003.8 1017.3 2005.2 1010.9 2005.6C1004.5 2005.9 999 2005 994.4 2003.3C989.9 2001.7 986.7 1998.9 983.4 1995.6C980.1 1992.3 977.2 1987.8 974.7 1983.5C972.1 1979.3 970.1 1974.9 968 1970C966 1965.2 963.5 1959.8 962.2 1954.4C961 1949.1 960.4 1943.2 960.4 1937.8C960.4 1932.5 960.9 1927.4 962.2 1922.5C963.5 1917.5 965.6 1913 968.1 1908.2C970.7 1903.5 973.9 1898.2 977.6 1894C981.4 1889.9 986.3 1885.9 990.6 1883.4C995 1880.8 998.7 1879.2 1003.7 1878.6C1008.6 1878.1 1014.5 1878.4 1020.2 1879.8C1026 1881.2 1032.1 1883.8 1038 1886.9C1043.9 1890.1 1049.1 1894.5 1055.8 1898.8C1062.5 1903 1074.5 1910.1 1078.3 1912.4"/>
<path class="c b" d="M970.5 1792.2C970.5 1786.8 974.1 1777 976.4 1772.1C978.8 1767.2 984.5 1758.8 988.3 1755.5C992.1 1752.2 999 1747.4 1004.8 1747.2C1010.7 1747.1 1025.3 1750.5 1032.1 1754.3C1038.9 1758.1 1050.3 1770.5 1055.8 1775.6C1061.2 1780.8 1072.9 1788.5 1072.9 1792.8C1072.9 1797.1 1061.2 1803.4 1055.8 1807.6C1050.3 1811.8 1038.4 1820.7 1032.1 1824.2C1025.8 1827.7 1013.9 1833.2 1008.4 1833.7C1002.9 1834.1 994.9 1830.6 990.6 1827.7C986.4 1824.9 979.1 1817.1 976.4 1812.3C973.7 1807.6 970.5 1797.6 970.5 1792.2Z"/>
<path class="c b" d="M970.5 1937.8C970.5 1943.2 974.1 1953.1 976.4 1958C978.8 1962.9 984.5 1971.2 988.3 1974.5C992.1 1977.9 999 1982.7 1004.8 1982.8C1010.7 1983 1025.3 1979.5 1032.1 1975.7C1038.9 1971.9 1050.3 1959.6 1055.8 1954.4C1061.2 1949.3 1072.9 1941.5 1072.9 1937.3C1072.9 1933 1061.2 1926.6 1055.8 1922.5C1050.3 1918.3 1038.4 1909.3 1032.1 1905.9C1025.8 1902.4 1013.9 1896.9 1008.4 1896.4C1002.9 1895.9 994.9 1899.5 990.6 1902.3C986.4 1905.2 979.1 1913 976.4 1917.7C973.7 1922.5 970.5 1932.5 970.5 1937.8Z"/>
<path class="c b" d="M981.2 1792.2C981.2 1789.7 983.1 1784.6 984.7 1782.7C986.3 1780.8 989.9 1778.2 993 1778C996.2 1777.8 1004.2 1779.6 1008.4 1781.6C1012.6 1783.5 1024.4 1789.8 1024.4 1792.8C1024.4 1795.8 1012.4 1802.1 1008.4 1804.1C1004.4 1806 997.4 1807.9 994.2 1807.6C991 1807.3 986.5 1803.7 984.7 1801.7C983 1799.6 981.2 1794.7 981.2 1792.2Z"/>
<path class="c b" d="M981.2 1937.8C981.2 1940.4 983.1 1945.4 984.7 1947.3C986.3 1949.2 989.9 1951.9 993 1952.1C996.2 1952.2 1004.2 1950.5 1008.4 1948.5C1012.6 1946.5 1024.4 1940.3 1024.4 1937.3C1024.4 1934.3 1012.4 1928 1008.4 1926C1004.4 1924 997.4 1922.1 994.2 1922.5C991 1922.8 986.5 1926.3 984.7 1928.4C983 1930.4 981.2 1935.3 981.2 1937.8Z"/>
<path class="c o" d="M608.8 1864.5C608.8 1854.6 610.1 1845.4 613.3 1835.7C616.5 1826 622.2 1815.9 628.1 1806C634 1796.1 641 1785.3 648.9 1776.4C656.8 1767.5 665.7 1759.5 675.6 1752.6C685.5 1745.7 695.9 1739 708.2 1734.8C720.6 1730.6 736.9 1727.6 749.8 1727.4C762.6 1727.1 774.5 1730.1 785.4 1733.3C796.2 1736.5 805.6 1740.5 815 1746.7C824.4 1752.9 833.8 1761.5 841.7 1770.4C849.6 1779.3 856.6 1789.7 862.5 1800.1C868.4 1810.5 874.1 1822 877.3 1832.7C880.6 1843.5 881.8 1853.8 881.8 1864.5C881.8 1875.1 880.6 1885.7 877.3 1896.5C874.1 1907.3 868.4 1918.8 862.5 1929.2C856.6 1939.5 849.6 1949.9 841.7 1958.8C833.8 1967.7 824.4 1976.1 815 1982.6C805.6 1989 796.2 1993.9 785.4 1997.4C774.5 2000.9 762.6 2003.6 749.8 2003.3C736.9 2003.1 720.6 2000.1 708.2 1995.9C695.9 1991.7 685.5 1985 675.6 1978.1C665.7 1971.2 656.8 1963.3 648.9 1954.4C641 1945.5 634 1934.6 628.1 1924.7C622.2 1914.8 616.5 1905.1 613.3 1895C610.1 1885 608.8 1874.4 608.8 1864.5Z"/>
<path class="c o" d="M678.5 1864.5C678.5 1858.3 681.3 1847.8 684.5 1841.6C687.6 1835.4 697.5 1823.6 702.3 1817.9C707 1812.2 715.9 1802.6 720.1 1798.6C724.2 1794.6 729.5 1788.8 733.4 1788.2C737.4 1787.6 744.4 1791.4 749.8 1794.2C755.1 1796.9 767.2 1804.6 773.5 1809C779.8 1813.3 791.3 1821.6 797.2 1826.8C803.2 1831.9 814 1842.5 818 1847.6C822 1852.6 826.9 1859.9 826.9 1864.5C826.9 1869 822 1876.6 818 1881.7C814 1886.7 803.2 1897.3 797.2 1902.5C791.3 1907.6 779.8 1915.9 773.5 1920.3C767.2 1924.6 755.1 1932.2 749.8 1935.1C744.4 1938 737.4 1942.5 733.4 1941.9C729.5 1941.3 724.2 1934.7 720.1 1930.6C715.9 1926.6 707 1917.1 702.3 1911.4C697.5 1905.6 687.6 1893.9 684.5 1887.6C681.3 1881.4 678.5 1870.6 678.5 1864.5Z"/>
</g></g>
<g id="p32" clip-path="url(#cp32)"><g transform="scale(1.0 1)">
<path class="c b" d="M1502 1908C1502 1912.1 1501.8 1913.3 1501.3 1915.9C1500.9 1918.4 1500.2 1921 1499.3 1923.4C1498.4 1925.8 1497.2 1928.2 1495.9 1930.4C1494.6 1932.6 1493.1 1934.6 1491.5 1936.5C1489.8 1938.3 1487.9 1940.1 1486 1941.5C1484.1 1943 1481.9 1944.2 1479.8 1945.2C1477.6 1946.2 1475.3 1947 1473 1947.5C1470.7 1948 1468.3 1948.3 1466 1948.3C1463.7 1948.3 1461.4 1948 1459.2 1947.5C1456.9 1947 1454.7 1946.2 1452.6 1945.2C1450.5 1944.2 1448.4 1943 1446.5 1941.5C1444.6 1940.1 1442.8 1938.3 1441.2 1936.5C1439.6 1934.6 1438.1 1932.6 1436.8 1930.4C1435.5 1928.2 1434.4 1925.8 1433.6 1923.4C1432.7 1921 1432 1918.4 1431.6 1915.9C1431.1 1913.3 1430.9 1912.1 1430.9 1908C1430.9 1903.9 1431.1 1896.7 1431.6 1891.1C1432 1885.6 1432.7 1880.1 1433.6 1874.9C1434.4 1869.7 1435.5 1864.7 1436.8 1860C1438.1 1855.3 1439.6 1850.9 1441.2 1846.9C1442.8 1842.9 1444.6 1839.3 1446.5 1836.2C1448.4 1833 1450.5 1830.3 1452.6 1828.2C1454.7 1826 1456.9 1824.4 1459.2 1823.3C1461.4 1822.2 1463.7 1821.6 1466 1821.6C1468.3 1821.6 1470.7 1822.2 1473 1823.3C1475.3 1824.4 1477.6 1826 1479.8 1828.2C1481.9 1830.3 1484.1 1833 1486 1836.2C1487.9 1839.3 1489.8 1842.9 1491.5 1846.9C1493.1 1850.9 1494.6 1855.3 1495.9 1860C1497.2 1864.7 1498.4 1869.7 1499.3 1874.9C1500.2 1880.1 1500.9 1885.6 1501.3 1891.1C1501.8 1896.7 1502 1903.9 1502 1908Z"/>
<path class="c b" d="M1517 1903.9C1517 1909.5 1516.7 1911.9 1516 1915.7C1515.4 1919.5 1514.5 1923.1 1513.2 1926.6C1512 1930.1 1510.4 1933.5 1508.6 1936.6C1506.8 1939.7 1504.7 1942.6 1502.4 1945.3C1500.1 1947.9 1497.5 1950.3 1494.7 1952.3C1492 1954.4 1489 1956.2 1486 1957.6C1482.9 1959 1479.7 1960.1 1476.4 1960.8C1473 1961.5 1469.4 1961.9 1466 1961.9C1462.6 1961.9 1459.1 1961.5 1455.9 1960.8C1452.6 1960.1 1449.5 1959 1446.5 1957.6C1443.4 1956.2 1440.5 1954.4 1437.9 1952.3C1435.2 1950.3 1432.6 1947.9 1430.4 1945.2C1428.1 1942.6 1426 1939.7 1424.3 1936.6C1422.5 1933.4 1420.9 1930.1 1419.7 1926.6C1418.5 1923.1 1417.6 1919.4 1416.9 1915.6C1416.3 1911.9 1416 1909.5 1416 1903.9C1416 1898.4 1416.3 1889.3 1416.9 1882.3C1417.6 1875.4 1418.5 1868.6 1419.7 1862.2C1420.9 1855.8 1422.5 1849.6 1424.3 1843.8C1426 1838.1 1428.1 1832.7 1430.4 1827.9C1432.6 1823 1435.2 1818.6 1437.9 1814.8C1440.5 1811 1443.4 1807.8 1446.5 1805.1C1449.5 1802.5 1452.6 1800.5 1455.9 1799.2C1459.1 1797.9 1462.6 1797.2 1466 1797.2C1469.4 1797.2 1473 1797.9 1476.4 1799.2C1479.7 1800.5 1482.9 1802.5 1486 1805.1C1489 1807.7 1492 1811 1494.7 1814.8C1497.5 1818.6 1500.1 1823 1502.4 1827.8C1504.7 1832.6 1506.8 1838.1 1508.6 1843.8C1510.4 1849.5 1512 1855.7 1513.2 1862.1C1514.5 1868.5 1515.4 1875.3 1516 1882.2C1516.7 1889.2 1517 1898.3 1517 1903.9Z"/>
<path class="c b" d="M1528.5 1899.8C1528.5 1906.5 1528.1 1910.4 1527.4 1915.3C1526.6 1920.2 1525.4 1924.8 1524 1929.3C1522.5 1933.7 1520.6 1937.9 1518.4 1941.8C1516.3 1945.7 1513.7 1949.4 1510.9 1952.6C1508.1 1955.9 1505 1958.9 1501.7 1961.5C1498.4 1964 1494.8 1966.2 1491 1968C1487.3 1969.7 1483.4 1971.1 1479.2 1972C1475 1972.8 1470.4 1973.3 1466 1973.3C1461.6 1973.3 1457.2 1972.8 1453.1 1971.9C1448.9 1971.1 1445.1 1969.7 1441.3 1967.9C1437.6 1966.2 1434.1 1964 1430.8 1961.4C1427.5 1958.8 1424.4 1955.9 1421.6 1952.6C1418.9 1949.3 1416.4 1945.6 1414.2 1941.7C1412 1937.8 1410.2 1933.6 1408.7 1929.1C1407.2 1924.7 1406.1 1920.1 1405.3 1915.2C1404.6 1910.3 1404.2 1906.5 1404.2 1899.8C1404.2 1893.1 1404.6 1882.9 1405.3 1875.1C1406.1 1867.3 1407.2 1859.8 1408.7 1852.7C1410.2 1845.6 1412 1838.8 1414.2 1832.6C1416.4 1826.3 1418.9 1820.4 1421.6 1815.1C1424.4 1809.8 1427.5 1805 1430.8 1800.9C1434.1 1796.8 1437.6 1793.2 1441.3 1790.4C1445.1 1787.6 1448.9 1785.4 1453.1 1784C1457.2 1782.5 1461.6 1781.8 1466 1781.8C1470.4 1781.8 1475 1782.5 1479.2 1784C1483.4 1785.4 1487.3 1787.6 1491 1790.4C1494.8 1793.2 1498.4 1796.7 1501.7 1800.8C1505 1804.9 1508.1 1809.7 1510.9 1815C1513.7 1820.2 1516.3 1826.1 1518.4 1832.4C1520.6 1838.7 1522.5 1845.5 1524 1852.5C1525.4 1859.6 1526.6 1867.1 1527.4 1874.9C1528.1 1882.8 1528.5 1893.1 1528.5 1899.8Z"/>
<path class="c b" d="M1539 1895.7C1539 1903.5 1538.6 1909 1537.7 1915C1536.8 1921 1535.5 1926.6 1533.8 1931.8C1532.1 1937.1 1530 1942.2 1527.5 1946.8C1525 1951.5 1522.1 1955.8 1518.9 1959.7C1515.7 1963.5 1512.1 1967.1 1508.3 1970.1C1504.4 1973.1 1500.3 1975.7 1495.9 1977.7C1491.5 1979.8 1486.9 1981.4 1482 1982.4C1477 1983.5 1471.3 1984 1466 1984C1460.7 1984 1455.2 1983.5 1450.3 1982.4C1445.3 1981.4 1440.8 1979.8 1436.4 1977.7C1432.1 1975.6 1427.9 1973 1424.1 1970C1420.2 1967 1416.6 1963.4 1413.4 1959.5C1410.2 1955.7 1407.3 1951.3 1404.8 1946.6C1402.3 1942 1400.2 1936.9 1398.5 1931.6C1396.8 1926.3 1395.5 1920.8 1394.6 1914.8C1393.7 1908.9 1393.3 1903.4 1393.3 1895.7C1393.3 1888 1393.7 1877.1 1394.6 1868.6C1395.5 1860.1 1396.8 1852.3 1398.5 1844.8C1400.2 1837.3 1402.3 1830.1 1404.8 1823.5C1407.3 1816.9 1410.2 1810.7 1413.4 1805.2C1416.6 1799.7 1420.2 1794.7 1424.1 1790.4C1427.9 1786.1 1432.1 1782.4 1436.4 1779.4C1440.8 1776.5 1445.3 1774.2 1450.3 1772.8C1455.2 1771.3 1460.7 1770.5 1466 1770.5C1471.3 1770.5 1477 1771.3 1482 1772.7C1486.9 1774.2 1491.5 1776.5 1495.9 1779.4C1500.3 1782.3 1504.4 1786 1508.3 1790.3C1512.1 1794.5 1515.7 1799.5 1518.9 1805C1522.1 1810.5 1525 1816.7 1527.5 1823.2C1530 1829.8 1532.1 1837 1533.8 1844.5C1535.5 1852 1536.8 1859.8 1537.7 1868.3C1538.6 1876.9 1539 1887.9 1539 1895.7Z"/>
<path class="c b" d="M1549.5 1891.6C1549.5 1900.5 1549 1907.7 1548 1914.9C1547.1 1922 1545.6 1928.3 1543.7 1934.5C1541.8 1940.6 1539.4 1946.4 1536.6 1951.7C1533.8 1957.1 1530.5 1962 1526.9 1966.5C1523.3 1970.9 1519.3 1974.9 1514.9 1978.4C1510.6 1981.8 1505.9 1984.7 1500.9 1987.1C1495.9 1989.4 1490.7 1991.2 1484.9 1992.4C1479.1 1993.6 1472.3 1994.2 1466 1994.2C1459.7 1994.2 1452.9 1993.6 1447.1 1992.4C1441.2 1991.2 1436 1989.4 1430.9 1987C1425.9 1984.7 1421.1 1981.7 1416.6 1978.2C1412.2 1974.8 1408.1 1970.7 1404.4 1966.3C1400.7 1961.8 1397.4 1956.8 1394.6 1951.5C1391.7 1946.1 1389.3 1940.3 1387.3 1934.2C1385.4 1928 1383.9 1921.7 1382.9 1914.6C1381.9 1907.5 1381.4 1900.4 1381.4 1891.6C1381.4 1882.9 1381.9 1871.3 1382.9 1862.1C1383.9 1853 1385.4 1844.9 1387.3 1836.9C1389.3 1829 1391.7 1821.5 1394.6 1814.7C1397.4 1807.8 1400.7 1801.3 1404.4 1795.6C1408.1 1789.9 1412.2 1784.7 1416.6 1780.2C1421.1 1775.8 1425.9 1772 1430.9 1768.9C1436 1765.9 1441.2 1763.6 1447.1 1762C1452.9 1760.5 1459.7 1759.7 1466 1759.7C1472.3 1759.7 1479.1 1760.5 1484.9 1762C1490.7 1763.5 1495.9 1765.9 1500.9 1768.9C1505.9 1771.9 1510.6 1775.7 1514.9 1780.1C1519.3 1784.5 1523.3 1789.7 1526.9 1795.4C1530.5 1801.1 1533.8 1807.4 1536.6 1814.3C1539.4 1821.2 1541.8 1828.6 1543.7 1836.5C1545.6 1844.4 1547.1 1852.6 1548 1861.8C1549 1871 1549.5 1882.8 1549.5 1891.6Z"/>
<path class="c b" d="M1560 1887.5C1560 1897.5 1559.5 1906.5 1558.4 1914.8C1557.3 1923 1555.7 1930.1 1553.6 1937.1C1551.5 1944.1 1548.9 1950.6 1545.8 1956.6C1542.7 1962.5 1539.1 1968.1 1535.1 1973.1C1531.1 1978 1526.6 1982.5 1521.7 1986.3C1516.9 1990.1 1511.7 1993.4 1506 1996C1500.4 1998.6 1494.7 2000.6 1488 2001.9C1481.3 2003.2 1473.4 2003.9 1466 2003.9C1458.6 2003.9 1450.6 2003.2 1443.8 2001.9C1437 2000.6 1431.1 1998.5 1425.3 1995.9C1419.5 1993.3 1414.1 1990 1409.1 1986.1C1404.1 1982.3 1399.5 1977.8 1395.4 1972.8C1391.2 1967.8 1387.5 1962.2 1384.3 1956.2C1381.1 1950.2 1378.4 1943.6 1376.2 1936.7C1374 1929.7 1372.4 1922.5 1371.3 1914.4C1370.2 1906.2 1369.6 1897.3 1369.6 1887.5C1369.6 1877.7 1370.2 1865.3 1371.3 1855.6C1372.4 1845.8 1374 1837.3 1376.2 1829C1378.4 1820.7 1381.1 1812.9 1384.3 1805.8C1387.5 1798.6 1391.2 1791.9 1395.4 1786C1399.5 1780 1404.1 1774.7 1409.1 1770.1C1414.1 1765.5 1419.5 1761.5 1425.3 1758.4C1431.1 1755.3 1437 1752.9 1443.8 1751.3C1450.6 1749.7 1458.6 1748.9 1466 1748.9C1473.4 1748.9 1481.3 1749.7 1488 1751.3C1494.7 1752.8 1500.4 1755.2 1506 1758.3C1511.7 1761.4 1516.9 1765.3 1521.7 1769.9C1526.6 1774.4 1531.1 1779.8 1535.1 1785.7C1539.1 1791.6 1542.7 1798.2 1545.8 1805.3C1548.9 1812.5 1551.5 1820.2 1553.6 1828.5C1555.7 1836.8 1557.3 1845.3 1558.4 1855.1C1559.5 1865 1560 1877.6 1560 1887.5Z"/>
<path class="c b" d="M1571 1883.5C1571 1894.5 1570.4 1905.5 1569.2 1914.9C1568.1 1924.3 1566.3 1932.1 1564 1939.9C1561.7 1947.6 1558.8 1954.8 1555.4 1961.5C1552 1968.1 1548.1 1974.2 1543.7 1979.7C1539.3 1985.1 1534.3 1990 1529 1994.2C1523.6 1998.4 1517.8 2002 1511.5 2004.8C1505.3 2007.7 1498.9 2009.9 1491.4 2011.3C1483.8 2012.8 1474.5 2013.5 1466 2013.5C1457.5 2013.5 1448.2 2012.8 1440.5 2011.3C1432.9 2009.8 1426.3 2007.6 1419.9 2004.7C1413.5 2001.9 1407.5 1998.2 1402 1994C1396.5 1989.8 1391.4 1984.8 1386.9 1979.3C1382.4 1973.8 1378.3 1967.7 1374.8 1961C1371.3 1954.3 1368.3 1947.1 1365.9 1939.3C1363.5 1931.5 1361.7 1923.6 1360.5 1914.3C1359.3 1905 1358.7 1894.3 1358.7 1883.5C1358.7 1872.6 1359.3 1859.5 1360.5 1849.1C1361.7 1838.7 1363.5 1829.9 1365.9 1821.3C1368.3 1812.6 1371.3 1804.6 1374.8 1797.2C1378.3 1789.7 1382.4 1782.9 1386.9 1776.8C1391.4 1770.6 1396.5 1765.1 1402 1760.4C1407.5 1755.7 1413.5 1751.7 1419.9 1748.4C1426.3 1745.2 1432.9 1742.8 1440.5 1741.2C1448.2 1739.5 1457.5 1738.7 1466 1738.7C1474.5 1738.7 1483.8 1739.5 1491.4 1741.1C1498.9 1742.7 1505.3 1745.2 1511.5 1748.3C1517.8 1751.5 1523.6 1755.5 1529 1760.2C1534.3 1764.8 1539.3 1770.3 1543.7 1776.4C1548.1 1782.4 1552 1789.2 1555.4 1796.6C1558.8 1804 1561.7 1812 1564 1820.7C1566.3 1829.3 1568.1 1838 1569.2 1848.5C1570.4 1859 1571 1872.4 1571 1883.5Z"/>
<path class="c b" d="M1584 1879.4C1584 1891.6 1583.3 1904.6 1582.1 1915.2C1580.8 1925.7 1578.8 1934.3 1576.3 1942.9C1573.8 1951.4 1570.6 1959.3 1566.8 1966.6C1563.1 1973.8 1558.7 1980.5 1553.9 1986.5C1549 1992.4 1543.5 1997.7 1537.6 2002.3C1531.6 2006.9 1525.1 2010.7 1518.1 2013.8C1511.1 2016.9 1504 2019.3 1495.4 2020.8C1486.7 2022.4 1475.7 2023.2 1466 2023.2C1456.3 2023.2 1445.6 2022.4 1436.9 2020.8C1428.2 2019.2 1421.1 2016.8 1414 2013.7C1406.8 2010.6 1400.3 2006.6 1394.2 2002C1388.2 1997.4 1382.6 1992 1377.6 1986C1372.6 1980 1368.2 1973.3 1364.3 1966C1360.5 1958.7 1357.3 1950.7 1354.7 1942.2C1352.1 1933.6 1350.1 1924.9 1348.8 1914.5C1347.5 1904 1346.8 1891.4 1346.8 1879.4C1346.8 1867.4 1347.5 1853.5 1348.8 1842.5C1350.1 1831.6 1352.1 1822.5 1354.7 1813.5C1357.3 1804.5 1360.5 1796.2 1364.3 1788.5C1368.2 1780.8 1372.6 1773.8 1377.6 1767.5C1382.6 1761.2 1388.2 1755.5 1394.2 1750.7C1400.3 1745.9 1406.8 1741.7 1414 1738.5C1421.1 1735.2 1428.2 1732.7 1436.9 1731C1445.6 1729.3 1456.3 1728.5 1466 1728.5C1475.7 1728.5 1486.7 1729.3 1495.4 1731C1504 1732.6 1511.1 1735.1 1518.1 1738.3C1525.1 1741.6 1531.6 1745.6 1537.6 1750.4C1543.5 1755.2 1549 1760.8 1553.9 1767C1558.7 1773.3 1563.1 1780.3 1566.8 1787.9C1570.6 1795.5 1573.8 1803.8 1576.3 1812.8C1578.8 1821.7 1580.8 1830.7 1582.1 1841.8C1583.3 1852.9 1584 1867.1 1584 1879.4Z"/>
<path class="c b" d="M1619 1875C1619 1885.3 1618 1895.7 1616.1 1905.8C1614.1 1915.8 1611.2 1925.9 1607.4 1935.4C1603.5 1944.9 1598.7 1954.1 1593.2 1962.7C1587.7 1971.2 1581.2 1979.3 1574.2 1986.6C1567.2 1993.8 1559.3 2000.5 1551 2006.2C1542.7 2011.9 1533.7 2016.9 1524.6 2020.8C1515.4 2024.7 1505.6 2027.8 1495.8 2029.8C1486.1 2031.8 1476.5 2032.7 1466 2032.8C1455.5 2032.9 1442.6 2031.9 1432.9 2030.2C1423.1 2028.5 1415.3 2025.9 1407.4 2022.6C1399.6 2019.2 1392.4 2015 1385.7 2010C1379.1 2005 1373 1999.2 1367.6 1992.7C1362.1 1986.2 1357.3 1978.9 1353.1 1971C1348.9 1963 1345.4 1954.4 1342.6 1945C1339.7 1935.6 1337.6 1926.3 1336.1 1914.6C1334.7 1902.9 1334 1888.2 1334 1875C1334 1861.8 1334.7 1847.1 1336.1 1835.4C1337.6 1823.7 1339.7 1814.4 1342.6 1805C1345.4 1795.6 1348.9 1787 1353.1 1779C1357.3 1771.1 1362.1 1763.8 1367.6 1757.3C1373 1750.8 1379.1 1745 1385.7 1740C1392.4 1735 1399.6 1730.8 1407.4 1727.4C1415.3 1724.1 1423.1 1721.5 1432.9 1719.8C1442.6 1718.1 1455.5 1717.1 1466 1717.2C1476.5 1717.3 1486.1 1718.2 1495.8 1720.2C1505.6 1722.2 1515.4 1725.3 1524.6 1729.2C1533.7 1733.1 1542.7 1738.1 1551 1743.8C1559.3 1749.5 1567.2 1756.2 1574.2 1763.4C1581.2 1770.7 1587.7 1778.8 1593.2 1787.3C1598.7 1795.9 1603.5 1805.1 1607.4 1814.6C1611.2 1824.1 1614.1 1834.2 1616.1 1844.2C1618 1854.3 1619 1864.7 1619 1875Z"/>
<path class="c b" d="M1641 1874.2C1641 1885.2 1639.9 1896.4 1637.6 1907.2C1635.4 1918 1632 1928.8 1627.7 1939C1623.3 1949.2 1617.8 1959.1 1611.5 1968.3C1605.2 1977.5 1597.8 1986.2 1589.7 1994C1581.7 2001.8 1572.7 2008.9 1563.2 2015C1553.8 2021.2 1543.5 2026.5 1533 2030.7C1522.5 2034.9 1511.3 2038.2 1500.1 2040.3C1489 2042.5 1478.1 2043.5 1466 2043.6C1453.9 2043.7 1438.7 2042.7 1427.4 2040.9C1416.2 2039.1 1407.4 2036.4 1398.5 2032.8C1389.6 2029.3 1381.5 2024.8 1374 2019.5C1366.6 2014.3 1359.7 2008.1 1353.7 2001.2C1347.6 1994.3 1342.1 1986.6 1337.5 1978.2C1332.8 1969.7 1328.9 1960.5 1325.7 1950.5C1322.6 1940.4 1320.2 1930.5 1318.6 1917.8C1317 1905.1 1316.2 1888.7 1316.2 1874.2C1316.2 1859.6 1317 1843.2 1318.6 1830.5C1320.2 1817.8 1322.6 1807.9 1325.7 1797.8C1328.9 1787.8 1332.8 1778.6 1337.5 1770.1C1342.1 1761.7 1347.6 1754 1353.7 1747.1C1359.7 1740.2 1366.6 1734 1374 1728.8C1381.5 1723.5 1389.6 1719 1398.5 1715.5C1407.4 1711.9 1416.2 1709.2 1427.4 1707.4C1438.7 1705.6 1453.9 1704.6 1466 1704.7C1478.1 1704.8 1489 1705.8 1500.1 1708C1511.3 1710.1 1522.5 1713.4 1533 1717.6C1543.5 1721.8 1553.8 1727.1 1563.2 1733.3C1572.7 1739.4 1581.7 1746.5 1589.7 1754.3C1597.8 1762.1 1605.2 1770.8 1611.5 1780C1617.8 1789.2 1623.3 1799.1 1627.7 1809.3C1632 1819.5 1635.4 1830.3 1637.6 1841.1C1639.9 1851.9 1641 1863.1 1641 1874.2Z"/>
<path class="c b" d="M1664.5 1874.2C1664.5 1886.2 1663.2 1898.5 1660.7 1910.3C1658.2 1922.1 1654.3 1933.9 1649.4 1945.1C1644.5 1956.2 1638.2 1967.1 1631 1977.1C1623.9 1987.1 1615.5 1996.7 1606.4 2005.2C1597.2 2013.7 1587 2021.6 1576.3 2028.3C1565.5 2035 1553.9 2040.8 1542 2045.4C1530 2050 1517.4 2053.6 1504.7 2055.9C1492.1 2058.3 1480 2059.4 1466 2059.5C1452 2059.6 1434 2058.5 1421 2056.6C1408 2054.7 1398.1 2051.7 1388 2047.9C1377.9 2044.1 1368.8 2039.3 1360.3 2033.6C1351.9 2028 1344.2 2021.3 1337.4 2013.9C1330.5 2006.5 1324.4 1998.1 1319.2 1989C1314 1979.8 1309.6 1969.9 1306.1 1958.9C1302.5 1947.9 1299.9 1937.2 1298.1 1923.1C1296.3 1909 1295.4 1890.5 1295.4 1874.2C1295.4 1857.8 1296.3 1839.3 1298.1 1825.2C1299.9 1811.1 1302.5 1800.4 1306.1 1789.4C1309.6 1778.4 1314 1768.5 1319.2 1759.3C1324.4 1750.2 1330.5 1741.8 1337.4 1734.4C1344.2 1727 1351.9 1720.3 1360.3 1714.7C1368.8 1709 1377.9 1704.2 1388 1700.4C1398.1 1696.6 1408 1693.6 1421 1691.7C1434 1689.8 1452 1688.7 1466 1688.8C1480 1688.9 1492.1 1690 1504.7 1692.4C1517.4 1694.7 1530 1698.3 1542 1702.9C1553.9 1707.5 1565.5 1713.3 1576.3 1720C1587 1726.7 1597.2 1734.6 1606.4 1743.1C1615.5 1751.6 1623.9 1761.2 1631 1771.2C1638.2 1781.2 1644.5 1792.1 1649.4 1803.2C1654.3 1814.4 1658.2 1826.2 1660.7 1838C1663.2 1849.8 1664.5 1862.1 1664.5 1874.2Z"/>
<path class="c b" d="M1692 1873C1692 1886.5 1690.5 1900.3 1687.7 1913.6C1684.8 1926.8 1680.4 1940.1 1674.8 1952.6C1669.2 1965.1 1662.1 1977.3 1653.9 1988.6C1645.7 1999.8 1636.2 2010.5 1625.8 2020.1C1615.4 2029.6 1603.8 2038.4 1591.6 2045.9C1579.3 2053.5 1566.1 2060 1552.5 2065.2C1538.9 2070.3 1524.5 2074.4 1510.1 2077C1495.7 2079.6 1482.6 2080.9 1466 2081C1449.4 2081.1 1426.2 2079.9 1410.2 2077.8C1394.3 2075.7 1382.6 2072.5 1370.4 2068.2C1358.2 2064 1347.3 2058.7 1337.2 2052.4C1327 2046.2 1317.9 2038.9 1309.7 2030.6C1301.6 2022.4 1294.3 2013.2 1288.1 2003C1281.9 1992.8 1276.6 1981.7 1272.5 1969.5C1268.3 1957.2 1265.1 1945.3 1263 1929.3C1260.9 1913.2 1259.8 1891.8 1259.8 1873C1259.8 1854.2 1260.9 1832.8 1263 1816.7C1265.1 1800.7 1268.3 1788.8 1272.5 1776.5C1276.6 1764.3 1281.9 1753.2 1288.1 1743C1294.3 1732.8 1301.6 1723.6 1309.7 1715.4C1317.9 1707.1 1327 1699.8 1337.2 1693.6C1347.3 1687.3 1358.2 1682 1370.4 1677.8C1382.6 1673.5 1394.3 1670.3 1410.2 1668.2C1426.2 1666.1 1449.4 1664.9 1466 1665C1482.6 1665.1 1495.7 1666.4 1510.1 1669C1524.5 1671.6 1538.9 1675.7 1552.5 1680.8C1566.1 1686 1579.3 1692.5 1591.6 1700.1C1603.8 1707.6 1615.4 1716.4 1625.8 1725.9C1636.2 1735.5 1645.7 1746.2 1653.9 1757.4C1662.1 1768.7 1669.2 1780.9 1674.8 1793.4C1680.4 1805.9 1684.8 1819.2 1687.7 1832.4C1690.5 1845.7 1692 1859.5 1692 1873Z"/>
<path class="c b" d="M1477.1 1909.7C1477.1 1917.5 1472.3 1923.9 1466.3 1923.9C1460.3 1923.9 1455.5 1917.5 1455.5 1909.7C1455.5 1901.9 1460.3 1895.5 1466.3 1895.5C1472.3 1895.5 1477.1 1901.9 1477.1 1909.7Z"/>
<path class="c o" d="M1393.4 1722.9C1384 1723.4 1369.6 1723.9 1357.8 1727.4C1345.9 1730.9 1333 1737 1322.2 1743.7C1311.3 1750.4 1300.2 1759 1292.5 1767.5C1284.8 1775.9 1279.4 1785.7 1276.2 1794.2C1273 1802.6 1272.5 1809.5 1273.2 1817.9C1274 1826.3 1276.9 1835.7 1280.6 1844.6C1284.3 1853.5 1289.5 1862.9 1295.5 1871.3C1301.4 1879.7 1308.8 1887.6 1316.2 1895C1323.6 1902.5 1331.6 1910.1 1340 1915.8C1348.4 1921.5 1357.8 1926.7 1366.7 1929.2C1375.6 1931.6 1384.5 1931.9 1393.4 1930.6C1402.3 1929.4 1411.7 1926.7 1420.1 1921.7C1428.5 1916.8 1437.4 1908.9 1443.8 1901C1450.2 1893.1 1454.7 1883.7 1458.6 1874.3C1462.6 1864.9 1465.2 1855 1467.5 1844.6C1469.9 1834.2 1472.4 1822.3 1472.9 1812C1473.4 1801.6 1472.9 1792.2 1470.5 1782.3C1468.1 1772.4 1464.6 1761 1458.6 1752.6C1452.7 1744.2 1442.3 1736.5 1434.9 1731.8C1427.5 1727.1 1421.1 1725.9 1414.1 1724.4C1407.2 1722.9 1402.8 1722.5 1393.4 1722.9Z"/>
</g></g>
<g id="p33" clip-path="url(#cp33)"><g transform="scale(1.0 1)">
<path class="c b" d="M1771.9 1690.3C1764.5 1690.3 1757.1 1696.2 1751.2 1702.2C1745.2 1708.1 1739.8 1716.5 1736.3 1725.9C1732.9 1735.3 1730.9 1748.2 1730.4 1758.5C1729.9 1768.9 1730.9 1777.8 1733.4 1788.2C1735.8 1798.6 1740.8 1811 1745.2 1820.9C1749.7 1830.7 1755.9 1841.1 1760.1 1847.6C1764.3 1854 1766.7 1859.4 1770.4 1859.4C1774.1 1859.4 1778.1 1854 1782.3 1847.6C1786.5 1841.1 1791.7 1830.7 1795.7 1820.9C1799.6 1811 1803.3 1799.1 1806 1788.2C1808.8 1777.3 1811.2 1766 1812 1755.6C1812.7 1745.2 1813.2 1734.8 1810.5 1725.9C1807.8 1717 1802.1 1708.1 1795.7 1702.2C1789.2 1696.2 1779.3 1690.3 1771.9 1690.3Z"/>
<path class="c b" d="M1770.4 1870.7C1766.2 1870.7 1762.8 1876.6 1758.6 1883.2C1754.4 1889.7 1749.2 1900 1745.2 1909.9C1741.3 1919.8 1737.2 1932.1 1734.8 1942.5C1732.5 1952.9 1731 1962.3 1731.3 1972.2C1731.5 1982.1 1733 1992.9 1736.3 2001.8C1739.6 2010.7 1744.7 2019.4 1751.2 2025.6C1757.6 2031.8 1767 2038.4 1774.9 2038.9C1782.8 2039.4 1792.2 2034.2 1798.6 2028.5C1805.1 2022.9 1810.4 2013.2 1813.5 2004.8C1816.5 1996.4 1817.3 1988.5 1817 1978.1C1816.8 1967.7 1815 1953.9 1812 1942.5C1808.9 1931.1 1803.3 1919.8 1798.6 1909.9C1793.9 1900 1788.5 1889.7 1783.8 1883.2C1779.1 1876.6 1774.6 1870.7 1770.4 1870.7Z"/>
<path class="c b" d="M1995.9 1636.9C1989.3 1640.9 1970 1652.7 1955.9 1660.6C1941.8 1668.5 1923.7 1676.5 1911.4 1684.4C1899 1692.3 1888.6 1698.7 1881.7 1708.1C1874.8 1717.5 1872.3 1729.4 1869.8 1740.7C1867.4 1752.1 1867.2 1765.5 1867.2 1776.4C1867.2 1787.2 1868.2 1796.1 1869.8 1806C1871.5 1815.9 1875.3 1826 1877.3 1835.7C1879.2 1845.4 1881.7 1854.6 1881.7 1864.5C1881.7 1874.4 1879.2 1885 1877.3 1895C1875.3 1905.1 1871.5 1914.8 1869.8 1924.7C1868.2 1934.6 1867.2 1943.5 1867.2 1954.4C1867.2 1965.3 1867.4 1978.6 1869.8 1990C1872.3 2001.4 1874.8 2013.2 1881.7 2022.6C1888.6 2032 1899 2038.4 1911.4 2046.4C1923.7 2054.3 1941.8 2062.2 1955.9 2070.1C1970 2078 1989.3 2089.9 1995.9 2093.8"/>
<path class="c b" d="M2119.1 1786.7C2114.1 1780.7 2099.3 1761.2 2089.4 1750.6C2079.5 1739.9 2070.2 1729.7 2059.7 1722.8C2049.2 1715.9 2036 1710.4 2026.5 1709.3C2016.9 1708.2 2009.3 1711.8 2002.4 1716.4C1995.6 1721 1989.7 1728.8 1985.4 1736.8C1981.1 1744.7 1978.4 1754.5 1976.6 1763.9C1974.7 1773.3 1973.9 1783.5 1974.3 1793C1974.6 1802.5 1976.4 1811.8 1978.6 1820.9C1980.7 1830 1985 1840.3 1987.2 1847.6C1989.3 1854.8 1991.5 1858.6 1991.5 1864.5C1991.5 1870.3 1989.3 1875.1 1987.2 1882.6C1985 1890 1980.7 1900.2 1978.6 1909.3C1976.4 1918.4 1974.6 1927.7 1974.3 1937.2C1973.9 1946.7 1974.7 1956.9 1976.6 1966.2C1978.4 1975.6 1981.1 1985.5 1985.4 1993.4C1989.7 2001.3 1995.6 2009.2 2002.4 2013.7C2009.3 2018.3 2016.9 2021.9 2026.5 2020.8C2036 2019.8 2049.2 2014.2 2059.7 2007.3C2070.2 2000.4 2079.5 1990.2 2089.4 1979.5C2099.3 1968.9 2114.1 1949.4 2119.1 1943.4"/>
<path class="c b" d="M2119.1 1749.4C2114.1 1745 2099.3 1730.8 2089.4 1723.2C2079.5 1715.6 2070.2 1708.5 2059.7 1703.7C2049.2 1698.8 2036.9 1694.4 2026.5 1694.2C2016.1 1694 2005.5 1697.1 1997.1 1702.5C1988.7 1707.9 1981.6 1717.2 1976.3 1726.6C1971 1735.9 1967.8 1747.6 1965.5 1758.6C1963.3 1769.7 1962.5 1782.6 1962.7 1793C1962.9 1803.3 1964.8 1811.8 1966.9 1820.9C1969 1830 1973.3 1840.3 1975.4 1847.6C1977.5 1854.8 1979.6 1858.6 1979.6 1864.5C1979.6 1870.3 1977.5 1875.1 1975.4 1882.6C1973.3 1890 1969 1900.2 1966.9 1909.3C1964.8 1918.4 1962.9 1926.8 1962.7 1937.2C1962.5 1947.5 1963.3 1960.4 1965.5 1971.5C1967.8 1982.6 1971 1994.2 1976.3 2003.5C1981.6 2012.9 1988.7 2022.2 1997.1 2027.6C2005.5 2033 2016.1 2036.2 2026.5 2036C2036.9 2035.8 2049.2 2031.3 2059.7 2026.5C2070.2 2021.6 2079.5 2014.5 2089.4 2006.9C2099.3 1999.3 2114.1 1985.1 2119.1 1980.8"/>
<path class="c b" d="M2119.1 1716.7C2114.1 1713.7 2099.3 1704 2089.4 1698.9C2079.5 1693.8 2070.2 1689.3 2059.7 1686.1C2049.2 1683 2037.7 1679.4 2026.5 1679.9C2015.3 1680.5 2002.2 1683.3 1992.6 1689.5C1983 1695.7 1974.7 1706.3 1968.6 1717C1962.5 1727.7 1958.8 1741 1956.2 1753.7C1953.5 1766.3 1952.8 1781.8 1952.9 1793C1953 1804.2 1954.8 1811.8 1956.6 1820.9C1958.5 1830 1962.2 1840.3 1964 1847.6C1965.9 1854.8 1967.7 1858.6 1967.7 1864.5C1967.7 1870.3 1965.9 1875.1 1964 1882.6C1962.2 1890 1958.5 1900.2 1956.6 1909.3C1954.8 1918.4 1953 1926 1952.9 1937.2C1952.8 1948.4 1953.5 1963.8 1956.2 1976.5C1958.8 1989.1 1962.5 2002.4 1968.6 2013.1C1974.7 2023.8 1983 2034.4 1992.6 2040.6C2002.2 2046.8 2015.3 2049.6 2026.5 2050.2C2037.7 2050.8 2049.2 2047.2 2059.7 2044C2070.2 2040.9 2079.5 2036.4 2089.4 2031.3C2099.3 2026.2 2114.1 2016.4 2119.1 2013.4"/>
<path class="c b" d="M2119.1 1698C2114.1 1695.5 2099.3 1687.1 2089.4 1682.8C2079.5 1678.5 2070.2 1674.9 2059.7 1672.3C2049.2 1669.7 2038.6 1666.2 2026.5 1667.2C2014.4 1668.1 1998.4 1670.9 1987.3 1677.8C1976.1 1684.7 1966.5 1696.5 1959.5 1708.4C1952.5 1720.4 1948.1 1735.2 1945.1 1749.2C1942.1 1763.3 1941.4 1781 1941.3 1793C1941.3 1804.9 1943.2 1811.8 1945 1820.9C1946.8 1830 1950.4 1840.3 1952.2 1847.6C1954.1 1854.8 1955.9 1858.6 1955.9 1864.5C1955.9 1870.3 1954.1 1875.1 1952.2 1882.6C1950.4 1890 1946.8 1900.2 1945 1909.3C1943.2 1918.4 1941.3 1925.2 1941.3 1937.2C1941.4 1949.1 1942.1 1966.8 1945.1 1980.9C1948.1 1995 1952.5 2009.8 1959.5 2021.7C1966.5 2033.6 1976.1 2045.4 1987.3 2052.3C1998.4 2059.2 2014.4 2062 2026.5 2063C2038.6 2063.9 2049.2 2060.5 2059.7 2057.8C2070.2 2055.2 2079.5 2051.6 2089.4 2047.3C2099.3 2043 2114.1 2034.6 2119.1 2032.1"/>
<path class="c b" d="M2119.1 1679.6C2114.1 1677.6 2099.3 1670.9 2089.4 1667.5C2079.5 1664.2 2070.2 1661.5 2059.7 1659.5C2049.2 1657.5 2040 1654.3 2026.5 1655.6C2013 1656.9 1992.4 1659.7 1978.8 1667.2C1965.2 1674.7 1953.6 1687.7 1945 1700.7C1936.5 1713.7 1931.2 1729.8 1927.5 1745.2C1923.8 1760.6 1923 1780.4 1922.9 1793C1922.9 1805.6 1925 1811.8 1927.1 1820.9C1929.2 1830 1933.3 1840.3 1935.4 1847.6C1937.5 1854.8 1939.6 1858.6 1939.6 1864.5C1939.6 1870.3 1937.5 1875.1 1935.4 1882.6C1933.3 1890 1929.2 1900.2 1927.1 1909.3C1925 1918.4 1922.9 1924.6 1922.9 1937.2C1923 1949.8 1923.8 1969.5 1927.5 1984.9C1931.2 2000.3 1936.5 2016.5 1945 2029.5C1953.6 2042.5 1965.2 2055.4 1978.8 2062.9C1992.4 2070.4 2013 2073.2 2026.5 2074.5C2040 2075.8 2049.2 2072.6 2059.7 2070.6C2070.2 2068.7 2079.5 2066 2089.4 2062.6C2099.3 2059.3 2114.1 2052.5 2119.1 2050.5"/>
<path class="c b" d="M2119.1 1658C2114.1 1656.7 2099.3 1652.5 2089.4 1650.5C2079.5 1648.6 2070.2 1647.4 2059.7 1646.3C2049.2 1645.3 2042.1 1642.6 2026.5 1644.3C2010.9 1646.1 1983.4 1648.8 1966.2 1656.9C1949.1 1665 1934.4 1679 1923.6 1693.1C1912.8 1707.2 1906.1 1724.7 1901.4 1741.3C1896.8 1758 1895.6 1779.7 1895.6 1793C1895.7 1806.2 1898.7 1811.8 1901.8 1820.9C1904.9 1830 1911 1840.3 1914.1 1847.6C1917.2 1854.8 1920.3 1858.6 1920.3 1864.5C1920.3 1870.3 1917.2 1875.1 1914.1 1882.6C1911 1890 1904.9 1900.2 1901.8 1909.3C1898.7 1918.4 1895.7 1923.9 1895.6 1937.2C1895.6 1950.4 1896.8 1972.2 1901.4 1988.8C1906.1 2005.5 1912.8 2023 1923.6 2037C1934.4 2051.1 1949.1 2065.1 1966.2 2073.2C1983.4 2081.3 2010.9 2084.1 2026.5 2085.8C2042.1 2087.6 2049.2 2084.8 2059.7 2083.8C2070.2 2082.8 2079.5 2081.5 2089.4 2079.6C2099.3 2077.7 2114.1 2073.4 2119.1 2072.2"/>
<path class="c b" d="M2119.1 1795.6C2114.1 1800.3 2098.3 1814.2 2089.4 1823.8C2080.5 1833.5 2071.1 1846.7 2065.7 1853.5C2060.2 1860.3 2056.8 1860.6 2056.8 1864.5C2056.8 1868.3 2060.2 1869.7 2065.7 1876.6C2071.1 1883.6 2080.5 1896.7 2089.4 1906.3C2098.3 1916 2114.1 1929.8 2119.1 1934.5"/>
<path class="c b" d="M2119.1 1832.7C2115.1 1835.7 2100.9 1845.2 2095.3 1850.5C2089.8 1855.8 2085.8 1859.6 2085.8 1864.5C2085.8 1869.3 2089.8 1874.3 2095.3 1879.6C2100.9 1884.9 2115.1 1893.7 2119.1 1896.5"/>
<path class="c b" d="M2097 1793C2097 1796.6 2096.6 1799.9 2095.8 1803.8C2095 1807.7 2093.7 1812.2 2092.2 1816.4C2090.6 1820.5 2088.6 1824.8 2086.4 1828.8C2084.1 1832.7 2081.5 1836.6 2078.7 1840.1C2075.9 1843.6 2072.8 1846.9 2069.6 1849.7C2066.4 1852.5 2063 1855 2059.7 1856.9C2056.4 1858.9 2052.8 1860.5 2049.7 1861.5C2046.5 1862.5 2043.8 1863 2041 1863C2038.2 1863 2035.8 1862.5 2032.8 1861.5C2029.9 1860.5 2026.5 1858.9 2023.4 1856.9C2020.2 1855 2017 1852.5 2014 1849.7C2011 1846.9 2008 1843.6 2005.4 1840.1C2002.8 1836.6 2000.3 1832.7 1998.2 1828.8C1996 1824.8 1994.2 1820.5 1992.7 1816.4C1991.2 1812.2 1990 1807.7 1989.3 1803.8C1988.5 1799.9 1988.1 1796.6 1988.1 1793C1988.1 1789.4 1988.5 1786.2 1989.3 1782.4C1990 1778.6 1991.2 1774.2 1992.7 1770.1C1994.2 1766 1996 1761.8 1998.2 1758C2000.3 1754.1 2002.8 1750.3 2005.4 1746.8C2008 1743.4 2011 1740.2 2014 1737.4C2017 1734.7 2020.2 1732.3 2023.4 1730.3C2026.5 1728.4 2029.9 1726.9 2032.8 1725.9C2035.8 1724.9 2038.2 1724.4 2041 1724.4C2043.8 1724.4 2046.5 1724.9 2049.7 1725.9C2052.8 1726.9 2056.4 1728.4 2059.7 1730.3C2063 1732.3 2066.4 1734.7 2069.6 1737.4C2072.8 1740.2 2075.9 1743.4 2078.7 1746.8C2081.5 1750.3 2084.1 1754.1 2086.4 1758C2088.6 1761.8 2090.6 1766 2092.2 1770.1C2093.7 1774.2 2095 1778.6 2095.8 1782.4C2096.6 1786.2 2097 1789.4 2097 1793Z"/>
<path class="c b" d="M2073.5 1793C2073.5 1819.8 2056.9 1841.6 2036.4 1841.6C2015.9 1841.6 1999.3 1819.8 1999.3 1793C1999.3 1766.2 2015.9 1744.4 2036.4 1744.4C2056.9 1744.4 2073.5 1766.2 2073.5 1793Z"/>
<path class="c b" d="M2051.4 1793C2051.4 1808.4 2042.1 1820.9 2030.7 1820.9C2019.3 1820.9 2010 1808.4 2010 1793C2010 1777.6 2019.3 1765.1 2030.7 1765.1C2042.1 1765.1 2051.4 1777.6 2051.4 1793Z"/>
<path class="c b" d="M2031.8 1793C2031.8 1796.2 2029.4 1798.8 2026.4 1798.8C2023.4 1798.8 2021 1796.2 2021 1793C2021 1789.8 2023.4 1787.2 2026.4 1787.2C2029.4 1787.2 2031.8 1789.8 2031.8 1793Z"/>
<path class="c b" d="M2097 1938.4C2097 1942 2096.6 1945.2 2095.8 1949C2095 1952.8 2093.7 1957.2 2092.2 1961.3C2090.6 1965.4 2088.6 1969.6 2086.4 1973.4C2084.1 1977.3 2081.5 1981.1 2078.7 1984.6C2075.9 1988 2072.8 1991.2 2069.6 1994C2066.4 1996.7 2063 1999.1 2059.7 2001.1C2056.4 2003 2052.8 2004.5 2049.7 2005.5C2046.5 2006.5 2043.8 2007 2041 2007C2038.2 2007 2035.8 2006.5 2032.8 2005.5C2029.9 2004.5 2026.5 2003 2023.4 2001.1C2020.2 1999.1 2017 1996.7 2014 1994C2011 1991.2 2008 1988 2005.4 1984.6C2002.8 1981.1 2000.3 1977.3 1998.2 1973.4C1996 1969.6 1994.2 1965.4 1992.7 1961.3C1991.2 1957.2 1990 1952.8 1989.3 1949C1988.5 1945.2 1988.1 1942 1988.1 1938.4C1988.1 1934.8 1988.5 1931.5 1989.3 1927.6C1990 1923.7 1991.2 1919.2 1992.7 1915C1994.2 1910.9 1996 1906.6 1998.2 1902.6C2000.3 1898.7 2002.8 1894.8 2005.4 1891.3C2008 1887.8 2011 1884.5 2014 1881.7C2017 1878.9 2020.2 1876.4 2023.4 1874.5C2026.5 1872.5 2029.9 1870.9 2032.8 1869.9C2035.8 1868.9 2038.2 1868.4 2041 1868.4C2043.8 1868.4 2046.5 1868.9 2049.7 1869.9C2052.8 1870.9 2056.4 1872.5 2059.7 1874.5C2063 1876.4 2066.4 1878.9 2069.6 1881.7C2072.8 1884.5 2075.9 1887.8 2078.7 1891.3C2081.5 1894.8 2084.1 1898.7 2086.4 1902.6C2088.6 1906.6 2090.6 1910.9 2092.2 1915C2093.7 1919.2 2095 1923.7 2095.8 1927.6C2096.6 1931.5 2097 1934.8 2097 1938.4Z"/>
<path class="c b" d="M2073.5 1938.4C2073.5 1965.2 2056.9 1987 2036.4 1987C2015.9 1987 1999.3 1965.2 1999.3 1938.4C1999.3 1911.6 2015.9 1889.8 2036.4 1889.8C2056.9 1889.8 2073.5 1911.6 2073.5 1938.4Z"/>
<path class="c b" d="M2051.4 1938.4C2051.4 1953.8 2042.1 1966.3 2030.7 1966.3C2019.3 1966.3 2010 1953.8 2010 1938.4C2010 1923 2019.3 1910.5 2030.7 1910.5C2042.1 1910.5 2051.4 1923 2051.4 1938.4Z"/>
<path class="c b" d="M2031.8 1938.4C2031.8 1941.6 2029.4 1944.2 2026.4 1944.2C2023.4 1944.2 2021 1941.6 2021 1938.4C2021 1935.2 2023.4 1932.6 2026.4 1932.6C2029.4 1932.6 2031.8 1935.2 2031.8 1938.4Z"/>
<path class="c o" d="M1654.7 1864.5C1654.7 1853.6 1656 1843 1659.2 1832.7C1662.4 1822.5 1668.1 1812.9 1674 1803.1C1679.9 1793.2 1686.9 1782.8 1694.8 1773.4C1702.7 1764 1712.1 1754.6 1721.5 1746.7C1730.9 1738.8 1741.3 1730.6 1751.2 1725.9C1761 1721.2 1770.9 1718.5 1780.8 1718.5C1790.7 1718.5 1801.1 1721.7 1810.5 1725.9C1819.9 1730.1 1828.8 1736.3 1837.2 1743.7C1845.6 1751.1 1853.5 1761 1860.9 1770.4C1868.4 1779.8 1875.8 1789.7 1881.7 1800.1C1887.6 1810.5 1893.1 1822 1896.5 1832.7C1900 1843.5 1902.5 1853.6 1902.5 1864.5C1902.5 1875.4 1900 1887 1896.5 1898C1893.1 1909 1887.6 1920.3 1881.7 1930.6C1875.8 1941 1868.4 1951.4 1860.9 1960.3C1853.5 1969.2 1845.6 1976.9 1837.2 1984C1828.8 1991.2 1819.9 1998.9 1810.5 2003.3C1801.1 2007.8 1790.7 2010.7 1780.8 2010.7C1770.9 2010.7 1761 2007.8 1751.2 2003.3C1741.3 1998.9 1730.9 1991.7 1721.5 1984C1712.1 1976.4 1702.7 1966.7 1694.8 1957.3C1686.9 1947.9 1679.9 1937.6 1674 1927.7C1668.1 1917.8 1662.4 1908.5 1659.2 1898C1656 1887.5 1654.7 1875.4 1654.7 1864.5Z"/>
<path class="c o" d="M1724.5 1864.5C1724.5 1858.1 1727.6 1848.2 1730.4 1841.6C1733.2 1835 1741.3 1821.3 1745.2 1814.9C1749.2 1808.6 1756.7 1798.3 1760.1 1794.2C1763.4 1790 1767.3 1784.2 1770.4 1783.8C1773.6 1783.4 1779.6 1787.8 1783.8 1791.2C1787.9 1794.5 1796.5 1803.8 1801.6 1809C1806.7 1814.1 1817.6 1824.2 1822.4 1829.8C1827.1 1835.3 1834.6 1845.9 1837.2 1850.5C1839.8 1855.2 1841.6 1860.5 1841.6 1864.5C1841.6 1868.4 1839.8 1875.3 1837.2 1880.2C1834.6 1885.1 1827.1 1895.4 1822.4 1901C1817.6 1906.5 1806.7 1916.6 1801.6 1921.7C1796.5 1926.9 1787.7 1936.2 1783.8 1939.5C1779.8 1942.9 1775.1 1947.4 1771.9 1947C1768.8 1946.6 1763.6 1940.7 1760.1 1936.6C1756.5 1932.4 1749.2 1922.1 1745.2 1915.8C1741.3 1909.5 1733.2 1895.9 1730.4 1889.1C1727.6 1882.3 1724.5 1870.8 1724.5 1864.5Z"/>
</g></g>
<g id="p40" clip-path="url(#cp40)"><g transform="scale(1.0 1)">
<path class="c b" d="M427.6 2201.1C417.7 2201.6 403.8 2203.4 394.9 2207.1C386 2210.8 377.1 2217.7 374.2 2223.4C371.2 2229.1 372.7 2235.7 377.1 2241.2C381.6 2246.6 391.5 2252.5 400.9 2256C410.3 2259.6 423.1 2262.5 433.5 2262.5C443.9 2262.5 455.5 2260.1 463.2 2256C470.9 2252 477.5 2244.6 479.5 2238.2C481.5 2231.8 479.3 2223.1 475.1 2217.5C470.9 2211.8 462.2 2206.8 454.3 2204.1C446.4 2201.4 437.5 2200.6 427.6 2201.1Z"/>
<path class="c b" d="M415.7 2177.4C402.4 2178.1 384.6 2180.1 371.2 2184.8C357.9 2189.5 343.5 2198.2 335.6 2205.6C327.7 2213 324.2 2220.9 323.7 2229.3C323.2 2237.7 327.2 2247.6 332.6 2256C338.1 2264.4 346.5 2273.3 356.4 2279.8C366.3 2286.2 379.6 2291.9 392 2294.6C404.3 2297.3 417.7 2297.6 430.5 2296.1C443.4 2294.6 457.7 2290.9 469.1 2285.7C480.5 2280.5 491.4 2272.8 498.8 2264.9C506.2 2257 512.6 2247.1 513.6 2238.2C514.6 2229.3 510.2 2219.4 504.7 2211.5C499.3 2203.6 489.9 2195.9 481 2190.7C472.1 2185.6 462.2 2182.6 451.3 2180.4C440.4 2178.1 429.1 2176.7 415.7 2177.4Z"/>
<path class="c b" d="M359.3 2339.1C350.4 2340.8 339.8 2345 332.6 2351C325.5 2356.9 319.3 2366.8 316.3 2374.7C313.4 2382.6 312.6 2391 314.8 2398.4C317.1 2405.9 323.2 2413.8 329.7 2419.2C336.1 2424.6 345 2429.1 353.4 2431.1C361.8 2433.1 371.2 2433.1 380.1 2431.1C389 2429.1 399.1 2424.6 406.8 2419.2C414.5 2413.8 422.6 2405.9 426.1 2398.4C429.6 2391 429.8 2382.1 427.6 2374.7C425.4 2367.3 419.7 2359.6 412.7 2353.9C405.8 2348.2 394.9 2343.1 386 2340.6C377.1 2338.1 368.2 2337.4 359.3 2339.1Z"/>
<path class="c b" d="M415.7 2156.6C399.9 2157.1 381.1 2157.9 365.3 2162.6C349.5 2167.3 332.1 2176.2 320.8 2184.8C309.4 2193.5 301.7 2204.6 297 2214.5C292.3 2224.4 292.1 2234.3 292.6 2244.2C293.1 2254 297.3 2264.4 300 2273.8C302.7 2283.2 308.4 2291.6 308.9 2300.5C309.4 2309.4 305.9 2317.8 303 2327.2C300 2336.6 294.1 2347 291.1 2356.9C288.1 2366.8 284.7 2376.7 285.2 2386.6C285.7 2396.5 289.1 2407.3 294.1 2416.2C299 2425.1 306.4 2433.8 314.8 2440C323.2 2446.2 333.6 2450.9 344.5 2453.3C355.4 2455.8 368.2 2456 380.1 2454.8C392 2453.6 404.8 2450.4 415.7 2445.9C426.6 2441.5 437 2435 445.4 2428.1C453.8 2421.2 461.2 2413.3 466.2 2404.4C471.1 2395.5 473.8 2384.1 475.1 2374.7C476.3 2365.3 473.1 2355.4 473.6 2348C474.1 2340.6 474.3 2336.1 478 2330.2C481.7 2324.3 488.9 2319.8 495.8 2312.4C502.7 2305 512.9 2295.1 519.6 2285.7C526.2 2276.3 532.9 2265.9 535.9 2256C538.8 2246.1 539.1 2236.2 537.4 2226.4C535.6 2216.5 531.9 2205.6 525.5 2196.7C519.1 2187.8 509.7 2179.1 498.8 2172.9C487.9 2166.8 474.1 2162.3 460.2 2159.6C446.4 2156.9 431.5 2156.1 415.7 2156.6Z"/>
<path class="c b" d="M415.7 2138.8C399.4 2139.3 379.1 2140.6 362.3 2144.8C345.5 2149 328.2 2156.4 314.8 2164C301.5 2171.7 290.1 2181.4 282.2 2190.7C274.3 2200.1 270.1 2210.5 267.4 2220.4C264.6 2230.3 265.1 2240.2 265.9 2250.1C266.6 2260 270.3 2269.9 271.8 2279.8C273.3 2289.6 275 2299.5 274.8 2309.4C274.5 2319.3 272.3 2329.2 270.3 2339.1C268.4 2349 264.4 2358.9 262.9 2368.8C261.4 2378.7 260.2 2389 261.4 2398.4C262.7 2407.8 265.4 2416.7 270.3 2425.1C275.3 2433.5 282.7 2442 291.1 2448.9C299.5 2455.8 309.9 2462.2 320.8 2466.7C331.6 2471.1 344 2474.3 356.4 2475.6C368.7 2476.8 382.1 2476.1 394.9 2474.1C407.8 2472.1 421.2 2468.9 433.5 2463.7C445.9 2458.5 458.2 2450.9 469.1 2442.9C480 2435 490.9 2425.6 498.8 2416.2C506.7 2406.8 512.6 2396.5 516.6 2386.6C520.5 2376.7 520.5 2366.8 522.5 2356.9C524.5 2347 525 2337.1 528.5 2327.2C531.9 2317.3 538.8 2307 543.3 2297.6C547.7 2288.2 552.2 2281.7 555.2 2270.9C558.1 2260 561.1 2244.6 561.1 2232.3C561.1 2219.9 559.6 2207.1 555.2 2196.7C550.7 2186.3 542.8 2177.4 534.4 2170C526 2162.6 517.1 2156.9 504.7 2152.2C492.4 2147.5 475.1 2144 460.2 2141.8C445.4 2139.6 432 2138.3 415.7 2138.8Z"/>
<path class="c b" d="M564.1 2187.8C556.6 2181.8 534.4 2161.8 519.6 2152.2C504.7 2142.5 492.4 2135.1 475.1 2129.9C457.7 2124.7 435.5 2121.8 415.7 2121C395.9 2120.3 374.2 2122.8 356.4 2125.5C338.6 2128.2 322.3 2132.9 308.9 2137.3C295.5 2141.8 285.2 2145.3 276.3 2152.2C267.4 2159.1 261.2 2169.5 255.5 2178.9C249.8 2188.3 245.1 2198.2 242.1 2208.5C239.2 2218.9 237.7 2230.8 237.7 2241.2C237.7 2251.6 240.4 2261 242.1 2270.9C243.9 2280.7 246.8 2290.6 248.1 2300.5C249.3 2310.4 250.1 2320.3 249.6 2330.2C249.1 2340.1 246.3 2350 245.1 2359.9C243.9 2369.8 241.6 2379.6 242.1 2389.5C242.6 2399.4 244.6 2409.8 248.1 2419.2C251.5 2428.6 256.7 2437.5 262.9 2445.9C269.1 2454.3 276 2462.7 285.2 2469.6C294.3 2476.6 305.9 2483 317.8 2487.5C329.7 2491.9 343 2495.1 356.4 2496.4C369.7 2497.6 384.1 2496.8 397.9 2494.9C411.8 2492.9 426.1 2489.2 439.5 2484.5C452.8 2479.8 466.2 2474.1 478 2466.7C489.9 2459.3 501.3 2449.4 510.7 2440C520.1 2430.6 528 2420.7 534.4 2410.3C540.8 2399.9 544.8 2388.5 549.2 2377.7C553.7 2366.8 559.1 2350.5 561.1 2345"/>
<path class="c b" d="M564.1 2158.1C556.6 2152.7 534.4 2133.9 519.6 2125.5C504.7 2117.1 492.4 2111.6 475.1 2107.7C457.7 2103.7 435.5 2102 415.7 2101.7C395.9 2101.5 374.2 2103.7 356.4 2106.2C338.6 2108.7 322.3 2112.9 308.9 2116.6C295.5 2120.3 286.6 2122.5 276.3 2128.4C265.9 2134.4 255.5 2143.8 246.6 2152.2C237.7 2160.6 228.5 2169.5 222.9 2178.9C217.2 2188.3 214.7 2198.2 212.5 2208.5C210.2 2218.9 209.5 2230.8 209.5 2241.2C209.5 2251.6 211.5 2261 212.5 2270.9C213.5 2280.7 215.1 2290.6 215.4 2300.5C215.8 2310.4 215.3 2320.3 214.5 2330.2C213.8 2340.1 211.8 2350 211 2359.9C210.1 2369.8 208.8 2379.6 209.5 2389.5C210.2 2399.4 212.2 2409.8 215.4 2419.2C218.7 2428.6 223.1 2437 228.8 2445.9C234.5 2454.8 241.2 2464.7 249.6 2472.6C258 2480.5 268.4 2487.5 279.2 2493.4C290.1 2499.3 302 2504.3 314.8 2508.2C327.7 2512.2 342 2515.9 356.4 2517.1C370.7 2518.4 386 2517.6 400.9 2515.6C415.7 2513.7 431 2510 445.4 2505.3C459.7 2500.6 474.1 2494.4 486.9 2487.5C499.8 2480.5 509.7 2473.1 522.5 2463.7C535.4 2454.3 557.1 2436.5 564.1 2431.1"/>
<path class="c b" d="M489.9 2088.4C495.3 2090.6 510.2 2096.5 522.5 2101.7C534.9 2106.9 557.1 2116.6 564.1 2119.5"/>
<path class="c b" d="M276.3 2089.9C269.8 2093.3 250.1 2101.2 237.7 2110.6C225.3 2120 211.5 2134.9 202.1 2146.2C192.7 2157.6 186.3 2168.5 181.3 2178.9C176.4 2189.3 174.4 2198.2 172.4 2208.5C170.4 2218.9 169.5 2230.8 169.5 2241.2C169.5 2251.6 171.2 2261 172.4 2270.9C173.7 2280.7 175.9 2290.6 176.9 2300.5C177.9 2310.4 178.6 2320.3 178.4 2330.2C178.1 2340.1 175.9 2350 175.4 2359.9C174.9 2369.8 174.4 2379.6 175.4 2389.5C176.4 2399.4 178.4 2409.3 181.3 2419.2C184.3 2429.1 187.7 2439 193.2 2448.9C198.6 2458.8 206 2469.6 214 2478.5C221.9 2487.5 230.8 2494.9 240.7 2502.3C250.5 2509.7 263.2 2517.1 273.3 2523.1C283.4 2529 296.8 2535.4 301.5 2537.9"/>
<path class="c b" d="M433.5 2538.5C440.4 2535.9 461.2 2528.6 475.1 2523.1C488.9 2517.5 501.8 2511.7 516.6 2505.3C531.4 2498.8 556.2 2487.9 564.1 2484.5"/>
<path class="c o" d="M447.5 2339.1C447.5 2404.3 383.7 2457.2 305 2457.2C226.4 2457.2 162.6 2404.3 162.6 2339.1C162.6 2273.9 226.4 2221 305 2221C383.7 2221 447.5 2273.9 447.5 2339.1Z"/>
<path class="c o" d="M367.6 2342.1C367.6 2374.5 337.4 2400.8 300 2400.8C262.6 2400.8 232.4 2374.5 232.4 2342.1C232.4 2309.6 262.6 2283.3 300 2283.3C337.4 2283.3 367.6 2309.6 367.6 2342.1Z"/>
</g></g>
<g id="p41" clip-path="url(#cp41)"><g transform="scale(1.0 1)">
<path class="c b" d="M699.3 2086.9C694.9 2092.3 680 2108.2 672.6 2119.5C665.2 2130.9 659 2142.3 654.8 2155.1C650.6 2168 648.1 2183.8 647.4 2196.7C646.7 2209.5 647.9 2220.4 650.4 2232.3C652.8 2244.2 658.3 2257.5 662.2 2267.9C666.2 2278.3 671.5 2286.8 674.1 2294.6C676.7 2302.4 678 2307.8 678 2314.5C678 2321.1 676.7 2326.6 674.1 2334.4C671.5 2342.1 666.2 2350.7 662.2 2361.1C658.3 2371.4 652.8 2384.8 650.4 2396.7C647.9 2408.5 646.7 2419.4 647.4 2432.3C648.1 2445.1 650.6 2460.9 654.8 2473.8C659 2486.7 665.2 2498 672.6 2509.4C680 2520.8 694.9 2536.6 699.3 2542"/>
<path class="c b" d="M792.8 2086.9C786.6 2088.4 767.8 2091.4 755.7 2095.8C743.6 2100.3 731 2105.7 720.1 2113.6C709.2 2121.5 698.3 2132.9 690.4 2143.3C682.5 2153.7 676.6 2165 672.6 2175.9C668.7 2186.8 666.2 2197.7 666.7 2208.5C667.2 2219.4 671.1 2230.8 675.6 2241.2C680 2251.6 687 2262 693.4 2270.9C699.8 2279.8 709 2287.3 714.2 2294.6C719.3 2301.9 724.5 2307.8 724.5 2314.5C724.5 2321.1 719.3 2327.1 714.2 2334.4C709 2341.6 699.8 2349.2 693.4 2358.1C687 2367 680 2377.4 675.6 2387.8C671.1 2398.1 667.2 2409.5 666.7 2420.4C666.2 2431.3 668.7 2442.2 672.6 2453C676.6 2463.9 682.5 2475.3 690.4 2485.7C698.3 2496.1 709.2 2507.4 720.1 2515.3C731 2523.3 743.6 2528.7 755.7 2533.1C767.8 2537.6 786.6 2540.6 792.8 2542"/>
<path class="c b" d="M829.9 2086.9C834.3 2090.9 848.7 2101.7 856.6 2110.6C864.5 2119.5 871.9 2129.9 877.3 2140.3C882.8 2150.7 886.5 2162.6 889.2 2172.9C891.9 2183.3 894.2 2191.7 893.7 2202.6C893.2 2213.5 890 2227.3 886.2 2238.2C882.5 2249.1 876.8 2259 871.4 2267.9C866 2276.8 858.5 2283.9 853.6 2291.6C848.7 2299.4 841.7 2306.9 841.7 2314.5C841.7 2322.1 848.7 2329.6 853.6 2337.3C858.5 2345.1 866 2352.2 871.4 2361.1C876.8 2370 882.5 2379.8 886.2 2390.7C890 2401.6 893.2 2415.5 893.7 2426.3C894.2 2437.2 891.9 2445.6 889.2 2456C886.5 2466.4 882.8 2478.3 877.3 2488.6C871.9 2499 864.5 2509.4 856.6 2518.3C848.7 2527.2 834.3 2538.1 829.9 2542"/>
<path class="c b" d="M800.2 2101.7C787.3 2101.7 769.5 2104.7 755.7 2110.6C741.8 2116.6 727 2127.5 717.1 2137.3C707.2 2147.2 700.6 2159.1 696.4 2170C692.1 2180.9 690.9 2191.7 691.9 2202.6C692.9 2213.5 697.6 2225.4 702.3 2235.3C707 2245.1 712.7 2253.5 720.1 2262C727.5 2270.4 737.4 2278.8 746.8 2285.7C756.2 2292.6 766.6 2299.3 776.5 2303.5C786.4 2307.7 797.2 2310.9 806.1 2310.9C815 2310.9 822.5 2307.7 829.9 2303.5C837.3 2299.3 844.7 2293.1 850.6 2285.7C856.6 2278.3 861.5 2268.9 865.5 2259C869.4 2249.1 872.4 2237.2 874.4 2226.4C876.4 2215.5 877.8 2204.6 877.3 2193.7C876.8 2182.8 874.9 2171.5 871.4 2161.1C867.9 2150.7 863 2139.8 856.6 2131.4C850.1 2123 842.2 2115.6 832.8 2110.6C823.4 2105.7 813.1 2101.7 800.2 2101.7Z"/>
<path class="c b" d="M800.2 2527.2C787.3 2527.2 769.5 2524.2 755.7 2518.3C741.8 2512.4 727 2501.5 717.1 2491.6C707.2 2481.7 700.6 2469.8 696.4 2459C692.1 2448.1 690.9 2437.2 691.9 2426.3C692.9 2415.5 697.6 2403.6 702.3 2393.7C707 2383.8 712.7 2375.4 720.1 2367C727.5 2358.6 737.4 2350.2 746.8 2343.3C756.2 2336.3 766.6 2329.7 776.5 2325.5C786.4 2321.2 797.2 2318 806.1 2318C815 2318 822.5 2321.2 829.9 2325.5C837.3 2329.7 844.7 2335.8 850.6 2343.3C856.6 2350.7 861.5 2360.1 865.5 2370C869.4 2379.8 872.4 2391.7 874.4 2402.6C876.4 2413.5 877.8 2424.4 877.3 2435.2C876.8 2446.1 874.9 2457.5 871.4 2467.9C867.9 2478.3 863 2489.1 856.6 2497.5C850.1 2505.9 842.2 2513.4 832.8 2518.3C823.4 2523.3 813.1 2527.2 800.2 2527.2Z"/>
<path class="c b" d="M800.2 2118.1C789.8 2118.5 773.5 2119.8 761.6 2125.5C749.8 2131.2 737.1 2142.3 729 2152.2C720.8 2162.1 715.1 2174.4 712.7 2184.8C710.2 2195.2 711.4 2204.6 714.2 2214.5C716.9 2224.4 722.6 2235.3 729 2244.2C735.4 2253.1 744.3 2261.5 752.7 2267.9C761.1 2274.3 771 2279.5 779.4 2282.7C787.8 2285.9 795.3 2287.7 803.2 2287.2C811.1 2286.7 820 2284.5 826.9 2279.8C833.8 2275.1 839.8 2267.4 844.7 2259C849.6 2250.6 853.6 2239.7 856.6 2229.3C859.5 2218.9 862 2207.1 862.5 2196.7C863 2186.3 862.5 2176.9 859.5 2167C856.6 2157.1 850.6 2144.8 844.7 2137.3C838.8 2129.9 831.4 2125.7 823.9 2122.5C816.5 2119.3 810.6 2117.6 800.2 2118.1Z"/>
<path class="c b" d="M800.2 2510.9C789.8 2510.4 773.5 2509.2 761.6 2503.5C749.8 2497.8 737.1 2486.7 729 2476.8C720.8 2466.9 715.1 2454.5 712.7 2444.1C710.2 2433.7 711.4 2424.4 714.2 2414.5C716.9 2404.6 722.6 2393.7 729 2384.8C735.4 2375.9 744.3 2367.5 752.7 2361.1C761.1 2354.6 771 2349.4 779.4 2346.2C787.8 2343 795.3 2341.3 803.2 2341.8C811.1 2342.3 820 2344.5 826.9 2349.2C833.8 2353.9 839.8 2361.5 844.7 2370C849.6 2378.4 853.6 2389.2 856.6 2399.6C859.5 2410 862 2421.9 862.5 2432.3C863 2442.6 862.5 2452 859.5 2461.9C856.6 2471.8 850.6 2484.2 844.7 2491.6C838.8 2499 831.4 2503.2 823.9 2506.4C816.5 2509.7 810.6 2511.4 800.2 2510.9Z"/>
<path class="c b" d="M800.2 2137.3C791.3 2137.6 778.9 2141.3 770.5 2146.2C762.1 2151.2 754.2 2159.6 749.8 2167C745.3 2174.4 743.3 2182.3 743.8 2190.7C744.3 2199.2 748.3 2209 752.7 2217.5C757.2 2225.9 764.1 2234.8 770.5 2241.2C777 2247.6 784.9 2252.6 791.3 2256C797.7 2259.5 803.7 2262.5 809.1 2262C814.5 2261.5 819.5 2258.5 823.9 2253.1C828.4 2247.6 832.3 2238.7 835.8 2229.3C839.3 2219.9 844 2207.1 844.7 2196.7C845.4 2186.3 843.7 2175.7 840.3 2167C836.8 2158.4 830.6 2149.7 823.9 2144.8C817.3 2139.8 809.1 2137.1 800.2 2137.3Z"/>
<path class="c b" d="M800.2 2491.6C791.3 2491.4 778.9 2487.6 770.5 2482.7C762.1 2477.8 754.2 2469.4 749.8 2461.9C745.3 2454.5 743.3 2446.6 743.8 2438.2C744.3 2429.8 748.3 2419.9 752.7 2411.5C757.2 2403.1 764.1 2394.2 770.5 2387.8C777 2381.3 784.9 2376.4 791.3 2372.9C797.7 2369.5 803.7 2366.5 809.1 2367C814.5 2367.5 819.5 2370.5 823.9 2375.9C828.4 2381.3 832.3 2390.2 835.8 2399.6C839.3 2409 844 2421.9 844.7 2432.3C845.4 2442.6 843.7 2453.3 840.3 2461.9C836.8 2470.6 830.6 2479.2 823.9 2484.2C817.3 2489.1 809.1 2491.9 800.2 2491.6Z"/>
<path class="c b" d="M812.1 2158.1C807.9 2158.6 801.4 2163.1 798.7 2167C796 2171 795 2176.4 795.7 2181.8C796.5 2187.3 799.5 2194.7 803.2 2199.6C806.9 2204.6 814.3 2212 818 2211.5C821.7 2211 823.7 2202.1 825.4 2196.7C827.1 2191.2 828.6 2184.3 828.4 2178.9C828.1 2173.4 826.7 2167.5 823.9 2164C821.2 2160.6 816.3 2157.6 812.1 2158.1Z"/>
<path class="c b" d="M812.1 2470.8C807.9 2470.3 801.4 2465.9 798.7 2461.9C796 2458 795 2452.5 795.7 2447.1C796.5 2441.7 799.5 2434.2 803.2 2429.3C806.9 2424.4 814.3 2416.9 818 2417.4C821.7 2417.9 823.7 2426.8 825.4 2432.3C827.1 2437.7 828.6 2444.6 828.4 2450.1C828.1 2455.5 826.7 2461.4 823.9 2464.9C821.2 2468.4 816.3 2471.3 812.1 2470.8Z"/>
<path class="c b" d="M901.1 2208.5C899.9 2208.5 898.4 2234.7 896.6 2244.2C894.8 2253.6 889.7 2270.4 887.7 2279.8C885.7 2289.1 881.8 2305.2 881.8 2314.5C881.8 2323.8 885.7 2339.9 887.7 2349.5C889.7 2359.1 894.8 2376.9 896.6 2386.6C898.4 2396.3 899.9 2422.2 901.1 2422.2C902.3 2422.2 903.9 2396.3 905.5 2386.6C907.1 2376.9 911.4 2359.1 912.9 2349.5C914.5 2339.9 917.4 2323.8 917.4 2314.5C917.4 2305.2 914.5 2289.1 912.9 2279.8C911.4 2270.4 907.1 2253.6 905.5 2244.2C903.9 2234.7 902.3 2208.5 901.1 2208.5Z"/>
<path class="c b" d="M883.3 2086.9C883.5 2090.4 883.3 2100.3 884.8 2107.7C886.2 2115.1 889 2125.7 892.2 2131.4C895.4 2137.1 899.1 2141.3 904 2141.8C909 2142.3 914.9 2137.6 921.8 2134.4C928.8 2131.2 936.2 2127 945.6 2122.5C955 2118.1 965.4 2112.1 978.2 2107.7C991.1 2103.2 1005.4 2098.5 1022.7 2095.8C1040 2093.1 1072.2 2092.1 1082.1 2091.4"/>
<path class="c b" d="M883.3 2542C883.5 2538.6 883.3 2528.7 884.8 2521.3C886.2 2513.9 889 2503.2 892.2 2497.5C895.4 2491.9 899.1 2487.6 904 2487.2C909 2486.7 914.9 2491.4 921.8 2494.6C928.8 2497.8 936.2 2502 945.6 2506.4C955 2510.9 965.4 2516.8 978.2 2521.3C991.1 2525.7 1005.4 2530.4 1022.7 2533.1C1040 2535.9 1072.2 2536.9 1082.1 2537.6"/>
<path class="c b" d="M1082.1 2116C1072.2 2117.1 1040 2118.9 1022.7 2122.5C1005.4 2126.1 991.6 2131.4 978.2 2137.3C964.9 2143.3 951.5 2149.7 942.6 2158.1C933.7 2166.5 928.8 2177.4 924.8 2187.8C920.9 2198.2 919.4 2209 918.9 2220.4C918.4 2231.8 919.4 2245.1 921.8 2256C924.3 2266.9 930.3 2276 933.7 2285.7C937.2 2295.4 942.6 2304.9 942.6 2314.5C942.6 2324.1 937.2 2333.5 933.7 2343.3C930.3 2353 924.3 2362 921.8 2372.9C919.4 2383.8 918.4 2397.2 918.9 2408.5C919.4 2419.9 920.9 2430.8 924.8 2441.2C928.8 2451.5 933.7 2462.4 942.6 2470.8C951.5 2479.2 964.9 2485.7 978.2 2491.6C991.6 2497.5 1005.4 2502.9 1022.7 2506.4C1040 2510 1072.2 2511.9 1082.1 2513"/>
<path class="c b" d="M1082.1 2139.7C1072.2 2141.3 1040 2144.2 1022.7 2149.2C1005.4 2154.3 990.6 2162.1 978.2 2170C965.9 2177.9 955.5 2187.3 948.5 2196.7C941.6 2206.1 938.2 2216.5 936.7 2226.4C935.2 2236.2 936.7 2246.1 939.6 2256C942.6 2265.9 949.5 2276 954.5 2285.7C959.4 2295.4 969.3 2304.9 969.3 2314.5C969.3 2324.1 959.4 2333.5 954.5 2343.3C949.5 2353 942.6 2363 939.6 2372.9C936.7 2382.8 935.2 2392.7 936.7 2402.6C938.2 2412.5 941.6 2422.9 948.5 2432.3C955.5 2441.7 965.9 2451.1 978.2 2459C990.6 2466.9 1005.4 2474.7 1022.7 2479.7C1040 2484.8 1072.2 2487.6 1082.1 2489.2"/>
<path class="c b" d="M1082.1 2162.6C1074.6 2164.8 1051.4 2170.2 1037.6 2175.9C1023.7 2181.6 1009.9 2189.3 999 2196.7C988.1 2204.1 978 2212.5 972.3 2220.4C966.6 2228.3 964.9 2235.7 964.9 2244.2C964.9 2252.6 967.6 2262.9 972.3 2270.9C977 2278.8 984.6 2286.2 993.1 2291.6C1001.5 2297.1 1007.9 2300.3 1022.7 2303.5C1037.6 2306.7 1072.2 2309.7 1082.1 2310.9"/>
<path class="c b" d="M1082.1 2466.4C1074.6 2464.2 1051.4 2458.7 1037.6 2453C1023.7 2447.3 1009.9 2439.7 999 2432.3C988.1 2424.8 978 2416.4 972.3 2408.5C966.6 2400.6 964.9 2393.2 964.9 2384.8C964.9 2376.4 967.6 2366 972.3 2358.1C977 2350.2 984.6 2342.8 993.1 2337.3C1001.5 2331.9 1007.9 2328.7 1022.7 2325.5C1037.6 2322.2 1072.2 2319.3 1082.1 2318"/>
<path class="c b" d="M1082.1 2213C1078.4 2214.1 1045.5 2224 1037.6 2226.4C1029.6 2228.7 987.1 2238.6 987.1 2241.2C987.1 2243.8 1029.6 2255.2 1037.6 2257.5C1045.5 2259.9 1078.4 2268.4 1082.1 2269.4"/>
<path class="c b" d="M1082.1 2415.9C1078.4 2414.8 1045.5 2404.9 1037.6 2402.6C1029.6 2400.2 987.1 2390.4 987.1 2387.8C987.1 2385.2 1029.6 2373.8 1037.6 2371.4C1045.5 2369.1 1078.4 2360.6 1082.1 2359.6"/>
<path class="c o" d="M794.3 2131.4C784.4 2131.2 771.5 2133.9 761.6 2137.3C751.7 2140.8 741.6 2146.7 734.9 2152.2C728.2 2157.6 722.6 2164 721.6 2170C720.6 2175.9 724.3 2181.4 729 2187.8C733.7 2194.2 742.3 2201.1 749.8 2208.5C757.2 2216 766.6 2224.4 773.5 2232.3C780.4 2240.2 786.4 2247.6 791.3 2256C796.2 2264.4 800.3 2273 803.2 2282.7C806 2292.5 808.5 2303.8 808.5 2314.5C808.5 2325.1 806 2336.7 803.2 2346.5C800.3 2356.3 796.2 2364.8 791.3 2373.2C786.4 2381.6 780.4 2389 773.5 2397C766.6 2404.9 757.2 2413.3 749.8 2420.7C742.3 2428.1 733.7 2434.8 729 2441.5C724.3 2448.1 720.6 2454.6 721.6 2460.7C722.6 2466.9 728.2 2473.4 734.9 2478.5C741.6 2483.7 751.7 2488.7 761.6 2491.9C771.5 2495.1 784.4 2497.8 794.3 2497.8C804.2 2497.8 813.3 2496.1 821 2491.9C828.6 2487.7 835.3 2480.8 840.3 2472.6C845.2 2464.5 848.7 2453.3 850.6 2442.9C852.6 2432.6 851.1 2421.7 852.1 2410.3C853.1 2398.9 855.1 2385.6 856.6 2374.7C858.1 2363.8 860 2355.1 861 2345C862 2335 862.5 2324.4 862.5 2314.5C862.5 2304.6 862 2295.4 861 2285.7C860 2276 858.1 2266.9 856.6 2256C855.1 2245.1 853.1 2231.8 852.1 2220.4C851.1 2209 852.6 2198.2 850.6 2187.8C848.7 2177.4 845.2 2166.3 840.3 2158.1C835.3 2150 828.6 2143.3 821 2138.8C813.3 2134.4 804.2 2131.7 794.3 2131.4Z"/>
</g></g>
<g id="p42" clip-path="url(#cp42)"><g transform="scale(1.0 1)">
<path class="c b" d="M1479.4 2189.3C1470.5 2189.5 1459.6 2191 1452.7 2195.2C1445.8 2199.4 1439.9 2207.3 1437.9 2214.5C1435.9 2221.7 1437.9 2230.3 1440.8 2238.2C1443.8 2246.1 1449.7 2254.5 1455.7 2262C1461.6 2269.4 1469 2277.8 1476.5 2282.7C1483.9 2287.7 1492.3 2291.6 1500.2 2291.6C1508.1 2291.6 1517.5 2288.2 1523.9 2282.7C1530.4 2277.3 1536 2267.4 1538.8 2259C1541.5 2250.6 1542.2 2240.7 1540.2 2232.3C1538.3 2223.9 1532.6 2215 1526.9 2208.5C1521.2 2202.1 1514 2196.9 1506.1 2193.7C1498.2 2190.5 1488.3 2189 1479.4 2189.3Z"/>
<path class="c b" d="M1494.3 2353.9C1486.3 2353.9 1478.4 2358.4 1470.5 2362.8C1462.6 2367.3 1453.5 2373.7 1446.8 2380.6C1440.1 2387.6 1433.4 2396.5 1430.5 2404.4C1427.5 2412.3 1426.8 2421.2 1429 2428.1C1431.2 2435 1437.4 2441.5 1443.8 2445.9C1450.2 2450.4 1459.1 2454.3 1467.5 2454.8C1476 2455.3 1485.8 2452.3 1494.3 2448.9C1502.7 2445.4 1511.6 2440.5 1518 2434C1524.4 2427.6 1530.4 2418.7 1532.8 2410.3C1535.3 2401.9 1535.3 2391.5 1532.8 2383.6C1530.4 2375.7 1524.4 2367.8 1518 2362.8C1511.6 2357.9 1502.2 2353.9 1494.3 2353.9Z"/>
<path class="c b" d="M1479.4 2168.5C1468 2168.7 1454.2 2171.2 1443.8 2175.9C1433.4 2180.6 1422.8 2189.3 1417.1 2196.7C1411.4 2204.1 1409.9 2212 1409.7 2220.4C1409.4 2228.8 1412.4 2238.7 1415.6 2247.1C1418.8 2255.5 1424.3 2262.9 1429 2270.9C1433.7 2278.8 1439.9 2287.2 1443.8 2294.6C1447.8 2302 1452.2 2308.4 1452.7 2315.4C1453.2 2322.3 1450.7 2329.2 1446.8 2336.1C1442.8 2343.1 1434.9 2349.5 1429 2356.9C1423 2364.3 1415.9 2372.2 1411.2 2380.6C1406.5 2389 1401.8 2398.4 1400.8 2407.3C1399.8 2416.2 1401.5 2425.9 1405.2 2434C1409 2442.2 1415.6 2450.4 1423 2456.3C1430.5 2462.2 1440.4 2466.9 1449.7 2469.6C1459.1 2472.4 1469 2473.6 1479.4 2472.6C1489.8 2471.6 1502.2 2468.2 1512.1 2463.7C1521.9 2459.3 1531.3 2453.3 1538.8 2445.9C1546.2 2438.5 1552.9 2428.6 1556.6 2419.2C1560.3 2409.8 1561.5 2399.4 1561 2389.5C1560.5 2379.6 1555.8 2369.3 1553.6 2359.9C1551.4 2350.5 1548.2 2342.1 1547.7 2333.2C1547.2 2324.3 1548.6 2315.4 1550.6 2306.5C1552.6 2297.6 1557.1 2289.2 1559.5 2279.8C1562 2270.4 1565.5 2260 1565.5 2250.1C1565.5 2240.2 1563.5 2229.8 1559.5 2220.4C1555.6 2211 1549.6 2201.4 1541.7 2193.7C1533.8 2186 1522.4 2178.6 1512.1 2174.4C1501.7 2170.2 1490.8 2168.2 1479.4 2168.5Z"/>
<path class="c b" d="M1479.4 2149.2C1466.1 2149.7 1448.3 2151.7 1434.9 2156.6C1421.6 2161.6 1407.7 2170.2 1399.3 2178.9C1390.9 2187.5 1386.5 2198.7 1384.5 2208.5C1382.5 2218.4 1385 2228.3 1387.4 2238.2C1389.9 2248.1 1394.9 2258.5 1399.3 2267.9C1403.8 2277.3 1410.4 2286.7 1414.1 2294.6C1417.9 2302.5 1421.6 2307.9 1421.6 2315.4C1421.6 2322.8 1418.3 2331.2 1414.1 2339.1C1409.9 2347 1401.8 2354.4 1396.3 2362.8C1390.9 2371.2 1385 2380.6 1381.5 2389.5C1378 2398.4 1375.1 2406.8 1375.6 2416.2C1376.1 2425.6 1379.5 2437 1384.5 2445.9C1389.4 2454.8 1396.8 2462.7 1405.2 2469.6C1413.6 2476.6 1424 2483.6 1434.9 2487.5C1445.8 2491.3 1458.6 2492.8 1470.5 2492.8C1482.4 2492.8 1494.3 2491.3 1506.1 2487.5C1518 2483.6 1531.3 2477.1 1541.7 2469.6C1552.1 2462.2 1561.5 2452.8 1568.4 2442.9C1575.4 2433.1 1580.5 2421.7 1583.3 2410.3C1586 2398.9 1585.7 2385.6 1584.7 2374.7C1583.8 2363.8 1579.1 2354.9 1577.3 2345C1575.6 2335.1 1573.9 2325.3 1574.4 2315.4C1574.9 2305.5 1578.3 2295.6 1580.3 2285.7C1582.3 2275.8 1585.7 2265.9 1586.2 2256C1586.7 2246.1 1585.7 2236.2 1583.3 2226.4C1580.8 2216.5 1577.3 2206.1 1571.4 2196.7C1565.5 2187.3 1557.1 2177.1 1547.7 2170C1538.3 2162.8 1526.4 2157.1 1515 2153.7C1503.6 2150.2 1492.8 2148.7 1479.4 2149.2Z"/>
<path class="c b" d="M1601.1 2208.5C1596.1 2202.6 1581.3 2182.8 1571.4 2172.9C1561.5 2163.1 1551.6 2155.6 1541.7 2149.2C1531.8 2142.8 1522.4 2137.3 1512.1 2134.4C1501.7 2131.4 1493.3 2130.7 1479.4 2131.4C1465.6 2132.1 1444.3 2133.9 1429 2138.8C1413.6 2143.8 1398.3 2152.4 1387.4 2161.1C1376.6 2169.7 1368.4 2181.4 1363.7 2190.7C1359 2200.1 1358.8 2208.1 1359.3 2217.5C1359.7 2226.8 1363.5 2237.7 1366.7 2247.1C1369.9 2256.5 1374.8 2265.4 1378.5 2273.8C1382.2 2282.2 1386.7 2290.6 1388.9 2297.6C1391.1 2304.5 1392.4 2308.4 1391.9 2315.4C1391.4 2322.3 1389.7 2330.7 1386 2339.1C1382.2 2347.5 1374.6 2356.9 1369.6 2365.8C1364.7 2374.7 1359.3 2383.6 1356.3 2392.5C1353.3 2401.4 1351.3 2409.8 1351.8 2419.2C1352.3 2428.6 1354.8 2439.5 1359.3 2448.9C1363.7 2458.3 1370.4 2467.7 1378.5 2475.6C1386.7 2483.5 1397.3 2490.9 1408.2 2496.4C1419.1 2501.8 1431.5 2506 1443.8 2508.2C1456.2 2510.4 1469.5 2511.2 1482.4 2509.7C1495.2 2508.2 1508.6 2504.5 1521 2499.3C1533.3 2494.1 1543.2 2489.9 1556.6 2478.5C1569.9 2467.2 1593.6 2439 1601.1 2431.1"/>
<path class="c b" d="M1601.1 2172.9C1593.6 2167 1571.4 2146.7 1556.6 2137.3C1541.7 2127.9 1526.9 2120.5 1512.1 2116.6C1497.2 2112.6 1483.4 2112.6 1467.5 2113.6C1451.7 2114.6 1432.9 2117.1 1417.1 2122.5C1401.3 2127.9 1385.5 2136.8 1372.6 2146.2C1359.7 2155.6 1347.4 2168 1340 2178.9C1332.5 2189.8 1329.1 2201.1 1328.1 2211.5C1327.1 2221.9 1331.1 2231.8 1334 2241.2C1337 2250.6 1342.2 2259.5 1345.9 2267.9C1349.6 2276.3 1353.8 2284.2 1356.3 2291.6C1358.8 2299 1360.7 2305 1360.7 2312.4C1360.7 2319.8 1359.3 2327.7 1356.3 2336.1C1353.3 2344.5 1347.1 2353.9 1342.9 2362.8C1338.7 2371.7 1333.5 2380.6 1331.1 2389.5C1328.6 2398.4 1327.6 2406.8 1328.1 2416.2C1328.6 2425.6 1330.1 2436 1334 2445.9C1338 2455.8 1344.4 2466.7 1351.8 2475.6C1359.3 2484.5 1368.2 2492.4 1378.5 2499.3C1388.9 2506.2 1400.8 2512.7 1414.1 2517.1C1427.5 2521.6 1444.3 2525 1458.6 2526C1473 2527 1486.3 2526 1500.2 2523.1C1514 2520.1 1524.9 2517.6 1541.7 2508.2C1558.5 2498.8 1591.2 2473.6 1601.1 2466.7"/>
<path class="c b" d="M1426 2088.4C1418.1 2091.6 1393.9 2099.5 1378.5 2107.7C1363.2 2115.8 1346.9 2126.5 1334 2137.3C1321.2 2148.2 1309.1 2160.6 1301.4 2172.9C1293.7 2185.3 1289.3 2199.6 1288 2211.5C1286.8 2223.4 1290.5 2233.8 1294 2244.2C1297.4 2254.5 1304.4 2264.9 1308.8 2273.8C1313.3 2282.7 1318.2 2290.6 1320.7 2297.6C1323.2 2304.5 1324.1 2307.9 1323.6 2315.4C1323.2 2322.8 1320.7 2332.7 1317.7 2342.1C1314.7 2351.5 1308.8 2361.8 1305.8 2371.7C1302.9 2381.6 1300.2 2391 1299.9 2401.4C1299.7 2411.8 1301.1 2423.2 1304.4 2434C1307.6 2444.9 1312.8 2456.3 1319.2 2466.7C1325.6 2477.1 1334 2487.5 1342.9 2496.4C1351.8 2505.3 1362.2 2512.9 1372.6 2520.1C1383 2527.3 1399.8 2536.2 1405.2 2539.4"/>
<path class="c b" d="M1485.4 2088.4C1492.3 2090.6 1513.5 2096.5 1526.9 2101.7C1540.2 2106.9 1553.1 2112.4 1565.5 2119.5C1577.8 2126.7 1595.1 2140.6 1601.1 2144.8"/>
<path class="c b" d="M1523.9 2539.4C1530.8 2536.4 1552.6 2528 1565.5 2521.6C1578.3 2515.1 1595.1 2504.3 1601.1 2500.8"/>
<path class="c b" d="M1571.4 2091.4C1576.3 2094.3 1596.1 2106.2 1601.1 2109.2"/>
<path class="c b" d="M1331.1 2088.4C1324.1 2093.1 1302.9 2105.9 1289.5 2116.6C1276.2 2127.2 1262.3 2139.8 1251 2152.2C1239.6 2164.5 1228 2179.4 1221.3 2190.7C1214.6 2202.1 1211.9 2211 1210.9 2220.4C1209.9 2229.8 1212.1 2238.7 1215.4 2247.1C1218.6 2255.5 1224.7 2262.9 1230.2 2270.9C1235.6 2278.8 1242.8 2286.7 1248 2294.6C1253.2 2302.5 1258.4 2309.9 1261.3 2318.3C1264.3 2326.7 1265.5 2335.6 1265.8 2345C1266 2354.4 1263.6 2364.8 1262.8 2374.7C1262.1 2384.6 1260.8 2394.5 1261.3 2404.4C1261.8 2414.3 1263.1 2423.7 1265.8 2434C1268.5 2444.4 1272.7 2456.3 1277.7 2466.7C1282.6 2477.1 1289 2487.5 1295.5 2496.4C1301.9 2505.3 1309.3 2512.9 1316.2 2520.1C1323.2 2527.3 1333.5 2536.2 1337 2539.4"/>
<path class="c o" d="M1518.6 2238.2C1518.6 2274.8 1488 2304.4 1450.3 2304.4C1412.7 2304.4 1382.1 2274.8 1382.1 2238.2C1382.1 2201.7 1412.7 2172.1 1450.3 2172.1C1488 2172.1 1518.6 2201.7 1518.6 2238.2Z"/>
</g></g>
<g id="p43" clip-path="url(#cp43)"><g transform="scale(1.0 1)">
<path class="c b" d="M1761.5 2086.9C1755.9 2090.9 1737.1 2101.2 1727.4 2110.6C1717.8 2120 1709.6 2131.9 1703.7 2143.3C1697.7 2154.6 1694.3 2167.5 1691.8 2178.9C1689.3 2190.3 1688.4 2200.6 1688.8 2211.5C1689.3 2222.4 1691.8 2233.3 1694.8 2244.2C1697.7 2255 1703.4 2266.9 1706.6 2276.8C1709.9 2286.7 1712.6 2295.6 1714.1 2303.5C1715.5 2311.4 1716.3 2316.4 1715.5 2324.3C1714.8 2332.2 1712.6 2341.6 1709.6 2351C1706.6 2360.4 1700.7 2370.3 1697.7 2380.6C1694.8 2391 1692.3 2401.9 1691.8 2413.3C1691.3 2424.6 1692.3 2437.5 1694.8 2448.9C1697.3 2460.3 1701.2 2471.1 1706.6 2481.5C1712.1 2491.9 1717.5 2501.3 1727.4 2511.2C1737.3 2521.1 1759.6 2535.9 1766 2540.9"/>
<path class="c b" d="M1779.3 2314.5C1779.3 2310.9 1763.1 2308.3 1757.1 2303.5C1751.1 2298.7 1743.7 2289.8 1739.3 2282.7C1734.8 2275.6 1730 2264.5 1727.4 2256C1724.8 2247.6 1722.7 2235.3 1722.1 2226.4C1721.4 2217.5 1721.3 2206 1723 2196.7C1724.7 2187.3 1728.7 2173.4 1733.4 2164C1738 2154.7 1746.1 2142.4 1754.1 2134.4C1762.1 2126.4 1775.2 2115.8 1786.8 2110.6C1798.3 2105.5 1818.8 2100.7 1831.3 2100.3C1843.7 2099.8 1859.6 2103.4 1869.8 2107.7C1880.1 2111.9 1891.9 2120.9 1899.5 2128.4C1907.1 2136 1915.6 2148.8 1920.3 2158.1C1924.9 2167.5 1929.3 2181.4 1930.7 2190.7C1932 2200.1 1930.7 2212 1929.2 2220.4C1927.6 2228.9 1923.8 2239.6 1920.3 2247.1C1916.7 2254.7 1910.3 2264.2 1905.4 2270.9C1900.5 2277.5 1892.3 2285.8 1887.6 2291.6C1883 2297.4 1876.6 2305.9 1874.3 2309.4C1872 2313 1872.2 2313.1 1872.2 2315.4C1872.2 2317.6 1871.5 2319.8 1874.3 2324.3C1877 2328.7 1885.5 2338.8 1890.6 2345C1895.7 2351.3 1903.5 2359.1 1908.4 2365.8C1913.3 2372.5 1919.7 2382 1923.2 2389.5C1926.8 2397.1 1930.6 2407.8 1932.1 2416.2C1933.7 2424.7 1935 2437 1933.6 2445.9C1932.3 2454.8 1927.9 2467.1 1923.2 2475.6C1918.6 2484 1910 2495.6 1902.5 2502.3C1894.9 2509 1882.6 2516.1 1872.8 2520.1C1863 2524.1 1848.3 2528.5 1837.2 2529C1826.1 2529.4 1809.8 2526.6 1798.6 2523.1C1787.5 2519.5 1771.9 2511.9 1763 2505.3C1754.1 2498.6 1744.8 2487.5 1739.3 2478.5C1733.7 2469.6 1728.4 2455.7 1725.9 2445.9C1723.5 2436.1 1722.7 2423.1 1723 2413.3C1723.2 2403.5 1725 2390 1727.4 2380.6C1729.9 2371.3 1734.8 2359 1739.3 2351C1743.7 2343 1751.1 2332.7 1757.1 2327.2C1763.1 2321.8 1779.3 2318 1779.3 2314.5Z"/>
<path class="c b" d="M1831.3 2127C1820.4 2128.2 1803.6 2131.2 1792.7 2137.3C1781.8 2143.5 1772.7 2154.2 1766 2164C1759.3 2173.9 1754.4 2185.8 1752.6 2196.7C1750.9 2207.6 1752.4 2218.9 1755.6 2229.3C1758.8 2239.7 1764.8 2250.1 1771.9 2259C1779.1 2267.9 1789.2 2277.2 1798.6 2282.7C1808 2288.3 1818.9 2292.2 1828.3 2292.2C1837.7 2292.2 1846.6 2288.3 1855 2282.7C1863.4 2277.2 1872.3 2267.9 1878.7 2259C1885.2 2250.1 1890 2239.7 1893.6 2229.3C1897.1 2218.9 1899.9 2207.1 1900.1 2196.7C1900.3 2186.3 1898.6 2175.9 1895.1 2167C1891.5 2158.1 1884.9 2149.5 1878.7 2143.3C1872.6 2137.1 1865.9 2132.6 1858 2129.9C1850.1 2127.2 1842.1 2125.7 1831.3 2127Z"/>
<path class="c b" d="M1831.3 2336.1C1821.9 2336.1 1811 2339.6 1801.6 2345C1792.2 2350.5 1782.1 2359.9 1774.9 2368.8C1767.7 2377.7 1761.8 2388.5 1758.6 2398.4C1755.4 2408.3 1754.4 2418.2 1755.6 2428.1C1756.8 2438 1760.8 2448.9 1766 2457.8C1771.2 2466.7 1778.8 2474.8 1786.8 2481.5C1794.7 2488.2 1804.6 2494.3 1813.5 2497.8C1822.4 2501.4 1831.3 2503.1 1840.2 2502.9C1849.1 2502.6 1859 2500.4 1866.9 2496.4C1874.8 2492.3 1882 2485.5 1887.6 2478.5C1893.3 2471.6 1898.1 2463.2 1901 2454.8C1903.9 2446.4 1905.6 2437.5 1904.8 2428.1C1904.1 2418.7 1900.4 2408.3 1896.5 2398.4C1892.7 2388.5 1888.1 2377.7 1881.7 2368.8C1875.3 2359.9 1866.4 2350.5 1858 2345C1849.6 2339.6 1840.7 2336.1 1831.3 2336.1Z"/>
<path class="c b" d="M1846.1 2155.1C1841.2 2155.6 1834.5 2159.6 1831.3 2164C1828 2168.5 1826.8 2174.9 1826.8 2181.8C1826.8 2188.8 1828.5 2197.7 1831.3 2205.6C1834 2213.5 1839.4 2223.6 1843.1 2229.3C1846.8 2235 1850.3 2240.2 1853.5 2239.7C1856.7 2239.2 1859.9 2232.5 1862.4 2226.4C1864.9 2220.2 1867.1 2210.5 1868.4 2202.6C1869.6 2194.7 1871.1 2185.8 1869.8 2178.9C1868.6 2172 1864.9 2165 1860.9 2161.1C1857 2157.1 1851 2154.6 1846.1 2155.1Z"/>
<path class="c b" d="M1852 2379.2C1848.3 2380.1 1841.6 2386.3 1837.2 2392.5C1832.7 2398.7 1828 2407.8 1825.3 2416.2C1822.6 2424.6 1820.6 2435 1820.9 2442.9C1821.1 2450.9 1823.1 2458.5 1826.8 2463.7C1830.5 2468.9 1837.4 2473.1 1843.1 2474.1C1848.8 2475.1 1856.2 2473.4 1860.9 2469.6C1865.6 2465.9 1869.3 2458.8 1871.3 2451.8C1873.3 2444.9 1873.5 2436 1872.8 2428.1C1872.1 2420.2 1869.1 2411.3 1866.9 2404.4C1864.6 2397.5 1861.9 2390.8 1859.5 2386.6C1857 2382.4 1855.7 2378.2 1852 2379.2Z"/>
<path class="c b" d="M1943.4 2314.5C1943.4 2321.4 1940.8 2326.9 1937.5 2326.9C1934.2 2326.9 1931.5 2321.4 1931.5 2314.5C1931.5 2307.6 1934.2 2302 1937.5 2302C1940.8 2302 1943.4 2307.6 1943.4 2314.5Z"/>
<path class="c b" d="M1909.9 2086.9C1912.6 2090.4 1920.5 2102.7 1926.2 2107.7C1931.9 2112.6 1937.1 2115.3 1944 2116.6C1950.9 2117.8 1958.4 2117.1 1967.7 2115.1C1977.1 2113.1 1990 2107.9 2000.4 2104.7C2010.8 2101.5 2020.2 2097.8 2030.1 2095.8C2039.9 2093.8 2044.9 2092.8 2059.7 2092.8C2074.6 2092.8 2109.2 2095.3 2119.1 2095.8"/>
<path class="c b" d="M1909.9 2540.9C1912.6 2537.9 1920.5 2527.5 1926.2 2523.1C1931.9 2518.6 1937.1 2515.6 1944 2514.2C1950.9 2512.7 1958.4 2512.7 1967.7 2514.2C1977.1 2515.6 1990 2520.1 2000.4 2523.1C2010.8 2526 2020.2 2529.7 2030.1 2532C2039.9 2534.2 2044.9 2535.9 2059.7 2536.4C2074.6 2536.9 2109.2 2535.2 2119.1 2534.9"/>
<path class="c b" d="M2119.1 2116.6C2109.2 2116.6 2077 2115.6 2059.7 2116.6C2042.4 2117.6 2028.6 2119 2015.2 2122.5C2001.9 2126 1989.5 2130.9 1979.6 2137.3C1969.7 2143.8 1961.6 2152.2 1955.9 2161.1C1950.2 2170 1947.5 2180.9 1945.5 2190.7C1943.5 2200.6 1943.3 2210.5 1944 2220.4C1944.8 2230.3 1947.2 2240.2 1949.9 2250.1C1952.7 2260 1957.4 2269 1960.3 2279.8C1963.3 2290.5 1967.7 2303.1 1967.7 2314.5C1967.7 2325.8 1963.3 2337.5 1960.3 2348C1957.4 2358.5 1952.7 2367.8 1949.9 2377.7C1947.2 2387.6 1944.8 2397.5 1944 2407.3C1943.3 2417.2 1943.5 2427.1 1945.5 2437C1947.5 2446.9 1950.2 2457.8 1955.9 2466.7C1961.6 2475.6 1969.7 2484 1979.6 2490.4C1989.5 2496.8 2001.9 2501.8 2015.2 2505.3C2028.6 2508.7 2042.4 2510.2 2059.7 2511.2C2077 2512.2 2109.2 2511.2 2119.1 2511.2"/>
<path class="c b" d="M2119.1 2141.8C2109.2 2141.5 2077 2139.1 2059.7 2140.3C2042.4 2141.5 2027.6 2144.3 2015.2 2149.2C2002.9 2154.2 1993 2162.1 1985.5 2170C1978.1 2177.9 1973.7 2187.3 1970.7 2196.7C1967.7 2206.1 1966.8 2216.5 1967.7 2226.4C1968.7 2236.2 1972.7 2246.6 1976.6 2256C1980.6 2265.4 1987.5 2273 1991.5 2282.7C1995.4 2292.5 2000.4 2304.1 2000.4 2314.5C2000.4 2324.9 1995.4 2335.5 1991.5 2345C1987.5 2354.6 1980.6 2362.3 1976.6 2371.7C1972.7 2381.1 1968.7 2391.5 1967.7 2401.4C1966.8 2411.3 1967.7 2421.7 1970.7 2431.1C1973.7 2440.5 1978.1 2449.9 1985.5 2457.8C1993 2465.7 2002.9 2473.6 2015.2 2478.5C2027.6 2483.5 2042.4 2486.2 2059.7 2487.5C2077 2488.7 2109.2 2486.2 2119.1 2486"/>
<path class="c b" d="M2119.1 2196.7C2114.1 2192.2 2099.3 2175.9 2089.4 2170C2079.5 2164 2069.6 2161.6 2059.7 2161.1C2049.8 2160.6 2039 2162.6 2030.1 2167C2021.2 2171.5 2012.3 2179.4 2006.3 2187.8C2000.4 2196.2 1996.4 2207.6 1994.5 2217.5C1992.5 2227.3 1992.5 2237.2 1994.5 2247.1C1996.4 2257 2000.9 2267.9 2006.3 2276.8C2011.8 2285.7 2018.7 2294.6 2027.1 2300.5C2035.5 2306.5 2046.9 2311.4 2056.8 2312.4C2066.6 2313.4 2076 2311.4 2086.4 2306.5C2096.8 2301.5 2113.6 2286.7 2119.1 2282.7"/>
<path class="c b" d="M2119.1 2345C2114.1 2340.6 2099.3 2324.3 2089.4 2318.3C2079.5 2312.4 2069.6 2309.4 2059.7 2309.4C2049.8 2309.4 2039 2312.9 2030.1 2318.3C2021.2 2323.8 2012.3 2333.2 2006.3 2342.1C2000.4 2351 1996.2 2361.8 1994.5 2371.7C1992.7 2381.6 1993.5 2391.5 1995.9 2401.4C1998.4 2411.3 2003.1 2422.2 2009.3 2431.1C2015.5 2440 2024.6 2449.4 2033 2454.8C2041.4 2460.3 2050.3 2463.2 2059.7 2463.7C2069.1 2464.2 2079.5 2462.2 2089.4 2457.8C2099.3 2453.3 2114.1 2440.5 2119.1 2437"/>
<path class="c b" d="M2013.7 2241.2C2013.7 2236.4 2018.2 2227.3 2021.2 2223.4C2024.1 2219.4 2031.6 2213.3 2036 2211.5C2040.3 2209.7 2048.6 2208.5 2053.8 2210C2058.9 2211.6 2069.3 2219.2 2074.6 2223.4C2079.8 2227.5 2093 2236.4 2093 2241.2C2093 2245.9 2079.8 2255 2074.6 2259C2069.3 2262.9 2058.9 2269.3 2053.8 2270.9C2048.6 2272.4 2040.3 2272.4 2036 2270.9C2031.6 2269.3 2024.1 2262.9 2021.2 2259C2018.2 2255 2013.7 2245.9 2013.7 2241.2Z"/>
<path class="c b" d="M2013.7 2386.6C2013.7 2381.8 2020.4 2373.3 2024.1 2368.8C2027.9 2364.2 2036.8 2355.4 2041.9 2352.5C2047.1 2349.5 2057.2 2345.5 2062.7 2346.5C2068.2 2347.5 2078.3 2356.1 2083.5 2359.9C2088.6 2363.6 2096.9 2371.1 2101.3 2374.7C2105.6 2378.3 2116.1 2383 2116.1 2386.6C2116.1 2390.1 2105.6 2397.5 2101.3 2401.4C2096.9 2405.4 2088.6 2412.9 2083.5 2416.2C2078.3 2419.6 2068.2 2426.2 2062.7 2426.6C2057.2 2427 2047.1 2422.2 2041.9 2419.2C2036.8 2416.2 2027.9 2408.7 2024.1 2404.4C2020.4 2400 2013.7 2391.3 2013.7 2386.6Z"/>
<path class="c o" d="M1828.3 2103.2C1815.4 2103 1799.6 2105 1786.8 2109.2C1773.9 2113.4 1761.5 2120.3 1751.2 2128.4C1740.8 2136.6 1731.4 2147.2 1724.5 2158.1C1717.5 2169 1712.6 2182.3 1709.6 2193.7C1706.6 2205.1 1706.4 2216 1706.6 2226.4C1706.9 2236.7 1709.4 2246.1 1711.1 2256C1712.8 2265.9 1715.5 2276 1717 2285.7C1718.5 2295.4 1720 2304.6 1720 2314.5C1720 2324.4 1718.5 2335 1717 2345C1715.5 2355.1 1712.3 2364.8 1711.1 2374.7C1709.9 2384.6 1709.1 2394.5 1709.6 2404.4C1710.1 2414.3 1711.1 2423.7 1714.1 2434C1717 2444.4 1721.2 2456.3 1727.4 2466.7C1733.6 2477.1 1741.8 2487.9 1751.2 2496.4C1760.5 2504.8 1771.4 2512.3 1783.8 2517.1C1796.2 2522 1812 2525.4 1825.3 2525.4C1838.7 2525.4 1852 2522.5 1863.9 2517.1C1875.8 2511.8 1887.1 2502.8 1896.5 2493.4C1905.9 2484 1913.8 2472.1 1920.3 2460.7C1926.7 2449.4 1931.6 2437 1935.1 2425.1C1938.6 2413.3 1938.8 2400.4 1941 2389.5C1943.3 2378.7 1946.2 2369.8 1948.5 2359.9C1950.7 2350 1953.3 2338.6 1954.4 2330.2C1955.5 2321.8 1955.8 2316.8 1955.3 2309.4C1954.8 2302 1953.3 2294.1 1951.4 2285.7C1949.5 2277.3 1946.5 2268.9 1944 2259C1941.5 2249.1 1939.1 2237.2 1936.6 2226.4C1934.1 2215.5 1932.9 2204.6 1929.2 2193.7C1925.5 2182.8 1920.3 2171.5 1914.3 2161.1C1908.4 2150.7 1902 2139.8 1893.6 2131.4C1885.2 2123 1874.8 2115.3 1863.9 2110.6C1853 2105.9 1841.2 2103.5 1828.3 2103.2Z"/>
<path class="c o" d="M1831.3 2162.6C1822.4 2162.1 1810.5 2164.8 1801.6 2170C1792.7 2175.2 1784.3 2184.8 1777.9 2193.7C1771.4 2202.6 1766 2213.5 1763 2223.4C1760.1 2233.3 1759.1 2243.2 1760.1 2253.1C1761 2262.9 1765.2 2274.3 1769 2282.7C1772.7 2291.1 1779.3 2298.1 1782.3 2303.5C1785.3 2308.9 1787 2310.4 1786.8 2315.4C1786.5 2320.3 1783.8 2326.2 1780.8 2333.2C1777.9 2340.1 1771.7 2348.5 1769 2356.9C1766.2 2365.3 1764 2374.7 1764.5 2383.6C1765 2392.5 1767.7 2401.4 1771.9 2410.3C1776.1 2419.2 1782.8 2429.1 1789.7 2437C1796.6 2444.9 1805.5 2453.1 1813.5 2457.8C1821.4 2462.5 1829.8 2465.2 1837.2 2465.2C1844.6 2465.2 1852 2462 1858 2457.8C1863.9 2453.6 1868.6 2447.4 1872.8 2440C1877 2432.6 1880.7 2424.2 1883.2 2413.3C1885.7 2402.4 1886.8 2387.1 1887.6 2374.7C1888.5 2362.3 1888 2349.1 1888.2 2339.1C1888.5 2329.1 1889 2323.4 1889.1 2314.5C1889.3 2305.6 1889.4 2295.4 1889.1 2285.7C1888.9 2276 1888.9 2266.4 1887.6 2256C1886.4 2245.6 1884.7 2233.8 1881.7 2223.4C1878.7 2213 1874.3 2202.1 1869.8 2193.7C1865.4 2185.3 1861.4 2178.1 1855 2172.9C1848.6 2167.8 1840.2 2163.1 1831.3 2162.6Z"/>
</g></g>
<g id="frame"><path class="v" d="M40 260.4V2569.4M558.5 260.4V2569.4M1077 260.4V2569.4M1595.5 260.4V2569.4M2114 260.4V2569.4M171.2 291.4v-31M171.2 740.6v-31M171.2 1189.7v-31M171.2 1638.8v-31M171.2 2089v-31M171.2 2538.4v31M299.2 291.4v-31M299.2 740.6v-31M299.2 1189.7v-31M299.2 1638.8v-31M299.2 2089v-31M299.2 2538.4v31M427.2 291.4v-31M427.2 740.6v-31M427.2 1189.7v-31M427.2 1638.8v-31M427.2 2089v-31M427.2 2538.4v31M689.8 291.4v-31M689.8 740.6v-31M689.8 1189.7v-31M689.8 1638.8v-31M689.8 2089v-31M689.8 2538.4v31M817.8 291.4v-31M817.8 740.6v-31M817.8 1189.7v-31M817.8 1638.8v-31M817.8 2089v-31M817.8 2538.4v31M945.8 291.4v-31M945.8 740.6v-31M945.8 1189.7v-31M945.8 1638.8v-31M945.8 2089v-31M945.8 2538.4v31M1208.2 291.4v-31M1208.2 740.6v-31M1208.2 1189.7v-31M1208.2 1638.8v-31M1208.2 2089v-31M1208.2 2538.4v31M1336.2 291.4v-31M1336.2 740.6v-31M1336.2 1189.7v-31M1336.2 1638.8v-31M1336.2 2089v-31M1336.2 2538.4v31M1464.2 291.4v-31M1464.2 740.6v-31M1464.2 1189.7v-31M1464.2 1638.8v-31M1464.2 2089v-31M1464.2 2538.4v31M1726.8 291.4v-31M1726.8 740.6v-31M1726.8 1189.7v-31M1726.8 1638.8v-31M1726.8 2089v-31M1726.8 2538.4v31M1854.8 291.4v-31M1854.8 740.6v-31M1854.8 1189.7v-31M1854.8 1638.8v-31M1854.8 2089v-31M1854.8 2538.4v31M1982.8 291.4v-31M1982.8 740.6v-31M1982.8 1189.7v-31M1982.8 1638.8v-31M1982.8 2089v-31M1982.8 2538.4v31"/><path class="h" d="M38 291.4H2150M38 740.6H2150M38 1189.7H2150M38 1638.8H2150M38 2089H2150M38 2538.4H2150M2114 405.1h36M2114 516h36M2114 626.9h36M2114 854.3h36M2114 965.2h36M2114 1076.1h36M2114 1303.3h36M2114 1414.2h36M2114 1525.2h36M2114 1753h36M2114 1863.9h36M2114 1974.8h36M2114 2202.8h36M2114 2313.7h36M2114 2424.6h36"/></g>
<g id="labels">
<text x="826.7" y="79.1" font-size="62" text-anchor="start" font-weight="normal" textLength="630.5" lengthAdjust="spacingAndGlyphs">C<tspan font-size="44" dy="-1">=</tspan><tspan dy="1">C stretching mode</tspan></text>
<text x="172.4" y="208.5" font-size="63" text-anchor="middle" font-weight="normal" class="d">1</text>
<text x="299.2" y="208.5" font-size="63" text-anchor="middle" font-weight="normal" class="d">0</text>
<text x="436.6" y="208.5" font-size="63" text-anchor="middle" font-weight="normal" class="d">−1</text>
<text x="691" y="208.5" font-size="63" text-anchor="middle" font-weight="normal" class="d">1</text>
<text x="817.8" y="208.5" font-size="63" text-anchor="middle" font-weight="normal" class="d">0</text>
<text x="955" y="208.5" font-size="63" text-anchor="middle" font-weight="normal" class="d">−1</text>
<text x="1209.5" y="208.5" font-size="63" text-anchor="middle" font-weight="normal" class="d">1</text>
<text x="1336.2" y="208.5" font-size="63" text-anchor="middle" font-weight="normal" class="d">0</text>
<text x="1473.5" y="208.5" font-size="63" text-anchor="middle" font-weight="normal" class="d">−1</text>
<text x="1728" y="208.5" font-size="63" text-anchor="middle" font-weight="normal" class="d">1</text>
<text x="1854.8" y="208.5" font-size="63" text-anchor="middle" font-weight="normal" class="d">0</text>
<text x="1992" y="208.5" font-size="63" text-anchor="middle" font-weight="normal" class="d">−1</text>
<text x="2221" y="430.4" font-size="63" text-anchor="middle" font-weight="normal" class="d">1</text>
<text x="2220.7" y="541.3" font-size="63" text-anchor="middle" font-weight="normal" class="d">0</text>
<text x="2223.2" y="652.2" font-size="63" text-anchor="middle" font-weight="normal" class="d">−1</text>
<text x="2221" y="879.6" font-size="63" text-anchor="middle" font-weight="normal" class="d">1</text>
<text x="2220.7" y="990.5" font-size="63" text-anchor="middle" font-weight="normal" class="d">0</text>
<text x="2223.2" y="1101.4" font-size="63" text-anchor="middle" font-weight="normal" class="d">−1</text>
<text x="2221" y="1328.6" font-size="63" text-anchor="middle" font-weight="normal" class="d">1</text>
<text x="2220.7" y="1439.5" font-size="63" text-anchor="middle" font-weight="normal" class="d">0</text>
<text x="2223.2" y="1550.5" font-size="63" text-anchor="middle" font-weight="normal" class="d">−1</text>
<text x="2221" y="1778.3" font-size="63" text-anchor="middle" font-weight="normal" class="d">1</text>
<text x="2220.7" y="1889.2" font-size="63" text-anchor="middle" font-weight="normal" class="d">0</text>
<text x="2223.2" y="2000.1" font-size="63" text-anchor="middle" font-weight="normal" class="d">−1</text>
<text x="2221" y="2228.1" font-size="63" text-anchor="middle" font-weight="normal" class="d">1</text>
<text x="2220.7" y="2339" font-size="63" text-anchor="middle" font-weight="normal" class="d">0</text>
<text x="2223.2" y="2449.9" font-size="63" text-anchor="middle" font-weight="normal" class="d">−1</text>
<text transform="translate(2424.2 1553.7) rotate(-90)" font-size="62" textLength="357.4" lengthAdjust="spacingAndGlyphs">tilting mode</text>
<text x="118.5" y="2704" font-size="62" text-anchor="start" font-weight="normal" textLength="315.5" lengthAdjust="spacingAndGlyphs">(a) gas/DD</text>
<text x="586.2" y="2704" font-size="62" text-anchor="start" font-weight="normal" textLength="467.8" lengthAdjust="spacingAndGlyphs">(b) gas/MCTDH</text>
<text x="1131.8" y="2704" font-size="62" text-anchor="start" font-weight="normal" textLength="379.1" lengthAdjust="spacingAndGlyphs">(c) water/DD</text>
<text x="1597.5" y="2704" font-size="62" text-anchor="start" font-weight="normal" textLength="540.2" lengthAdjust="spacingAndGlyphs">(d) water/MCTDH</text>
<rect x="337" y="294" width="219" height="85" fill="#fff"/>
<text x="352.9" y="361" font-size="62" text-anchor="start" font-weight="bold" textLength="109.2" lengthAdjust="spacingAndGlyphs">5 fs</text>
<rect x="337" y="743" width="219" height="85" fill="#fff"/>
<text x="352.9" y="810" font-size="62" text-anchor="start" font-weight="bold" textLength="165" lengthAdjust="spacingAndGlyphs">7.5 fs</text>
<rect x="46" y="1197.7" width="229.7" height="81.6" fill="#fff"/>
<text x="67.1" y="1259.1" font-size="62" text-anchor="start" font-weight="bold" textLength="197.3" lengthAdjust="spacingAndGlyphs">12.5 fs</text>
<rect x="46" y="1646.8" width="229.7" height="81.6" fill="#fff"/>
<text x="67.1" y="1708.2" font-size="62" text-anchor="start" font-weight="bold" textLength="197.3" lengthAdjust="spacingAndGlyphs">17.5 fs</text>
<rect x="46" y="2097" width="229.7" height="81.6" fill="#fff"/>
<text x="67.1" y="2158.4" font-size="62" text-anchor="start" font-weight="bold" textLength="197.3" lengthAdjust="spacingAndGlyphs">22.5 fs</text>
</g>
</svg></body></html>
